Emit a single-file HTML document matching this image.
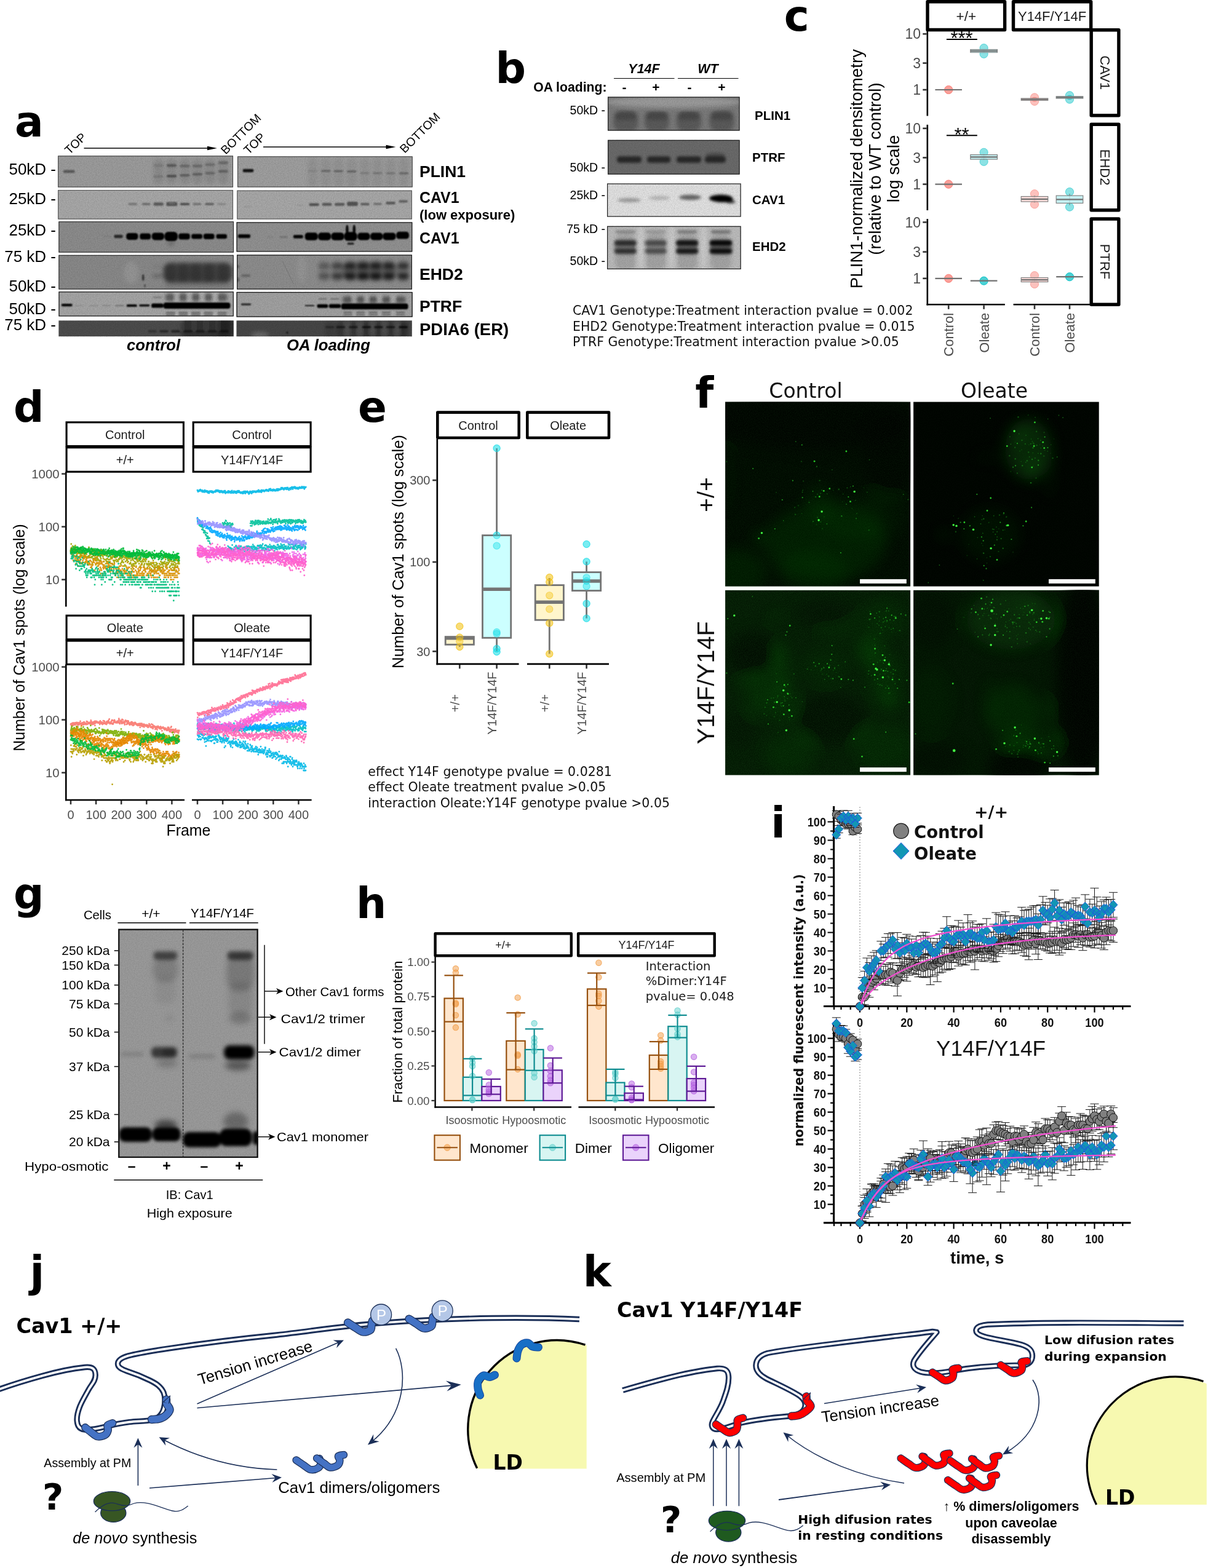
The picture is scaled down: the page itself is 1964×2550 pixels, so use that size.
<!DOCTYPE html>
<html lang="en"><head><meta charset="utf-8"><title>Figure</title>
<style>
html,body{margin:0;padding:0;background:#fff}
body{width:1964px;height:2550px;overflow:hidden}
svg{display:block}
text{white-space:pre}
</style></head><body>
<svg xmlns="http://www.w3.org/2000/svg" width="1964" height="2550" viewBox="0 0 1964 2550">
<rect width="1964" height="2550" fill="#fff"/>
<defs>
<filter id="bl0.7" x="-50%" y="-100%" width="200%" height="300%"><feGaussianBlur stdDeviation="0.7"/></filter>
<filter id="bl1.2" x="-50%" y="-100%" width="200%" height="300%"><feGaussianBlur stdDeviation="1.2"/></filter>
<filter id="bl1.3" x="-50%" y="-100%" width="200%" height="300%"><feGaussianBlur stdDeviation="1.3"/></filter>
<filter id="bl1.5" x="-50%" y="-100%" width="200%" height="300%"><feGaussianBlur stdDeviation="1.5"/></filter>
<filter id="bl2" x="-50%" y="-100%" width="200%" height="300%"><feGaussianBlur stdDeviation="2"/></filter>
<filter id="bl2.5" x="-50%" y="-100%" width="200%" height="300%"><feGaussianBlur stdDeviation="2.5"/></filter>
<filter id="bl2.6" x="-50%" y="-100%" width="200%" height="300%"><feGaussianBlur stdDeviation="2.6"/></filter>
<filter id="bl3" x="-50%" y="-100%" width="200%" height="300%"><feGaussianBlur stdDeviation="3"/></filter>
<filter id="bl3.2" x="-50%" y="-100%" width="200%" height="300%"><feGaussianBlur stdDeviation="3.2"/></filter>
<filter id="bl5" x="-50%" y="-100%" width="200%" height="300%"><feGaussianBlur stdDeviation="5"/></filter>
<filter id="bl11" x="-50%" y="-100%" width="200%" height="300%"><feGaussianBlur stdDeviation="11"/></filter>
<filter id="grain" x="0" y="0" width="100%" height="100%"><feTurbulence type="fractalNoise" baseFrequency="0.55" numOctaves="2" seed="4"/><feColorMatrix type="matrix" values="0 0 0 0 0  0 0 0 0 0  0 0 0 0 0  1.6 0 0 0 -0.45"/></filter>
<filter id="gnoise" x="0" y="0" width="100%" height="100%"><feTurbulence type="fractalNoise" baseFrequency="0.03" numOctaves="4" seed="7"/><feColorMatrix type="matrix" values="0 0 0 0 0.12  0 0 0 0 0.8  0 0 0 0 0.12  0 2.4 0 0 -0.95"/></filter>
<filter id="ggrain" x="0" y="0" width="100%" height="100%"><feTurbulence type="fractalNoise" baseFrequency="0.7" numOctaves="2" seed="9"/><feColorMatrix type="matrix" values="0 0 0 0 0.1  0 0 0 0 0.75  0 0 0 0 0.1  1.8 0 0 0 -0.6"/></filter>
</defs>
<g id="panel-a">
<text x="24.1" y="221.8" font-size="69.2" font-family='"DejaVu Sans", sans-serif' font-weight="bold">a</text>
<text x="113" y="252" font-size="19.5" font-family='"Liberation Sans", sans-serif' transform="rotate(-44 113 252)">TOP</text>
<text x="367" y="252" font-size="19.5" font-family='"Liberation Sans", sans-serif' transform="rotate(-45 367 252)">BOTTOM</text>
<line x1="136.5" y1="241" x2="345" y2="241" stroke="#000" stroke-width="1.5" />
<path d="M353 241 l-16 -3.2 v6.4 z" fill="#000"/>
<text x="404" y="252" font-size="19.5" font-family='"Liberation Sans", sans-serif' transform="rotate(-44 404 252)">TOP</text>
<text x="658" y="250" font-size="19.5" font-family='"Liberation Sans", sans-serif' transform="rotate(-45 658 250)">BOTTOM</text>
<line x1="428" y1="239" x2="635.5" y2="239" stroke="#000" stroke-width="1.5" />
<path d="M643.5 239 l-16 -3.2 v6.4 z" fill="#000"/>
<text x="91" y="284.1" font-size="26" font-family='"Liberation Sans", sans-serif' text-anchor="end">50kD -</text>
<text x="91" y="332.4" font-size="26" font-family='"Liberation Sans", sans-serif' text-anchor="end">25kD -</text>
<text x="91" y="382.9" font-size="26" font-family='"Liberation Sans", sans-serif' text-anchor="end">25kD -</text>
<text x="91" y="425.9" font-size="26" font-family='"Liberation Sans", sans-serif' text-anchor="end">75 kD -</text>
<text x="91" y="474.1" font-size="26" font-family='"Liberation Sans", sans-serif' text-anchor="end">50kD -</text>
<text x="91" y="511.4" font-size="26" font-family='"Liberation Sans", sans-serif' text-anchor="end">50kD -</text>
<text x="91" y="536.9" font-size="26" font-family='"Liberation Sans", sans-serif' text-anchor="end">75 kD -</text>
<text x="682" y="287.9" font-size="26.5" font-family='"Liberation Sans", sans-serif' font-weight="bold">PLIN1</text>
<text x="682" y="329.5" font-size="26.5" font-family='"Liberation Sans", sans-serif' font-weight="bold" textLength="64.5" lengthAdjust="spacingAndGlyphs">CAV1</text>
<text x="682" y="356.9" font-size="22" font-family='"Liberation Sans", sans-serif' font-weight="bold">(low exposure)</text>
<text x="682" y="395.5" font-size="26.5" font-family='"Liberation Sans", sans-serif' font-weight="bold" textLength="64.5" lengthAdjust="spacingAndGlyphs">CAV1</text>
<text x="682" y="454.5" font-size="26.5" font-family='"Liberation Sans", sans-serif' font-weight="bold">EHD2</text>
<text x="682" y="506.5" font-size="26.5" font-family='"Liberation Sans", sans-serif' font-weight="bold">PTRF</text>
<text x="682" y="544.9" font-size="27.5" font-family='"Liberation Sans", sans-serif' font-weight="bold">PDIA6 (ER)</text>
<text x="249.5" y="569.8" font-size="25.7" font-family='"Liberation Sans", sans-serif' font-weight="bold" font-style="italic" text-anchor="middle">control</text>
<text x="534" y="569.8" font-size="25.7" font-family='"Liberation Sans", sans-serif' font-weight="bold" font-style="italic" text-anchor="middle">OA loading</text>
<clipPath id="ca00"><rect x="94.2" y="253.3" width="284.8" height="51.2"/></clipPath>
<rect x="94.2" y="253.3" width="284.8" height="51.2" fill="#9d9d9d"/>
<g clip-path="url(#ca00)">
<g filter="url(#bl3)">
<rect x="249.2" y="258.4" width="16.9" height="41" fill="#000" opacity="0.10" rx="6.8"/>
<rect x="270.6" y="258.4" width="16.9" height="41" fill="#000" opacity="0.10" rx="6.8"/>
<rect x="292" y="258.4" width="16.9" height="41" fill="#000" opacity="0.10" rx="6.8"/>
<rect x="312.5" y="258.4" width="16.9" height="41" fill="#000" opacity="0.10" rx="6.8"/>
<rect x="333" y="258.4" width="16.9" height="41" fill="#000" opacity="0.10" rx="6.8"/>
<rect x="354.4" y="258.4" width="16.9" height="41" fill="#000" opacity="0.10" rx="6.8"/>
</g>
<g filter="url(#bl1.3)">
<rect x="102.9" y="276.6" width="18.7" height="4.6" fill="#000" opacity="0.42" rx="1.9"/>
<rect x="249.6" y="266.8" width="16.1" height="4.6" fill="#000" opacity="0.10" rx="1.9"/>
<rect x="249.6" y="284.8" width="16.1" height="4.3" fill="#000" opacity="0.12" rx="1.7"/>
<rect x="271" y="266.8" width="16.1" height="4.6" fill="#000" opacity="0.34" rx="1.9"/>
<rect x="271" y="284.2" width="16.1" height="4.3" fill="#000" opacity="0.42" rx="1.7"/>
<rect x="292.4" y="267.7" width="16.1" height="4.6" fill="#000" opacity="0.24" rx="1.9"/>
<rect x="292.4" y="283" width="16.1" height="4.3" fill="#000" opacity="0.30" rx="1.7"/>
<rect x="312.9" y="267.7" width="16.1" height="4.6" fill="#000" opacity="0.24" rx="1.9"/>
<rect x="312.9" y="281.2" width="16.1" height="4.3" fill="#000" opacity="0.30" rx="1.7"/>
<rect x="333.4" y="265.5" width="16.1" height="4.6" fill="#000" opacity="0.20" rx="1.9"/>
<rect x="333.4" y="279.4" width="16.1" height="4.3" fill="#000" opacity="0.25" rx="1.7"/>
<rect x="354.8" y="262.3" width="16.1" height="4.6" fill="#000" opacity="0.24" rx="1.9"/>
<rect x="354.8" y="276.4" width="16.1" height="4.3" fill="#000" opacity="0.30" rx="1.7"/>
</g>
</g>
<rect x="94.2" y="253.3" width="284.8" height="51.2" filter="url(#grain)" opacity="0.13"/>
<rect x="94.7" y="253.8" width="283.9" height="50.3" fill="none" stroke="#333" stroke-width="0.9"/>
<clipPath id="ca01"><rect x="94.2" y="309" width="284.8" height="47.6"/></clipPath>
<rect x="94.2" y="309" width="284.8" height="47.6" fill="#a9a9a9"/>
<g clip-path="url(#ca01)">
<g filter="url(#bl1.3)">
<rect x="208.6" y="329.9" width="14.3" height="3.9" fill="#000" opacity="0.28" rx="1.6"/>
<rect x="231" y="329.9" width="13.4" height="3.9" fill="#000" opacity="0.33" rx="1.6"/>
<rect x="249.6" y="329.2" width="16.1" height="5.4" fill="#000" opacity="0.45" rx="2.1"/>
<rect x="270.5" y="328.6" width="17.8" height="6.4" fill="#000" opacity="0.50" rx="2.6"/>
<rect x="292.9" y="329.9" width="15.2" height="3.9" fill="#000" opacity="0.52" rx="1.6"/>
<rect x="313.7" y="330.3" width="13.4" height="3.2" fill="#000" opacity="0.33" rx="1.3"/>
<rect x="333.4" y="330.1" width="14.3" height="3.6" fill="#000" opacity="0.40" rx="1.4"/>
<rect x="353.5" y="330.3" width="13.4" height="3.2" fill="#000" opacity="0.18" rx="1.3"/>
<rect x="274.9" y="329.9" width="8.9" height="2.1" fill="#fff" opacity="0.12" rx="0.9"/>
</g>
</g>
<rect x="94.2" y="309" width="284.8" height="47.6" filter="url(#grain)" opacity="0.13"/>
<rect x="94.7" y="309.4" width="283.9" height="46.7" fill="none" stroke="#444" stroke-width="0.9"/>
<clipPath id="ca02"><rect x="95.4" y="360.2" width="284.6" height="50.4"/></clipPath>
<rect x="95.4" y="360.2" width="284.6" height="50.4" fill="#8d8d8d"/>
<g clip-path="url(#ca02)">
<g filter="url(#bl3)">
<rect x="272.8" y="393" width="10.7" height="5.4" fill="#000" opacity="0.30" rx="2.1"/>
</g>
<g filter="url(#bl1.3)">
<rect x="167.6" y="383.2" width="12.5" height="2.5" fill="#000" opacity="0.08" rx="1"/>
<rect x="185.4" y="381.8" width="14.3" height="5.4" fill="#000" opacity="0.70" rx="2.1"/>
<rect x="205.2" y="378.9" width="19.3" height="11.1" fill="#000" opacity="1.00" rx="4.4"/>
<rect x="206.5" y="379.8" width="16.8" height="9.3" fill="#000" opacity="1.00" rx="3.7"/>
<rect x="227.3" y="379.6" width="17.8" height="9.8" fill="#000" opacity="1.00" rx="3.9"/>
<rect x="228.6" y="380.5" width="15.3" height="8" fill="#000" opacity="1.00" rx="3.2"/>
<rect x="246.8" y="378.4" width="20" height="12.1" fill="#000" opacity="1.00" rx="4.9"/>
<rect x="248" y="379.3" width="17.5" height="10.3" fill="#000" opacity="1.00" rx="4.1"/>
<rect x="267.5" y="377" width="21.4" height="15" fill="#000" opacity="1.00" rx="6"/>
<rect x="268.7" y="377.9" width="18.9" height="13.2" fill="#000" opacity="1.00" rx="5.3"/>
<rect x="290.3" y="379.5" width="18.5" height="10" fill="#000" opacity="1.00" rx="4"/>
<rect x="291.5" y="380.4" width="16.1" height="8.2" fill="#000" opacity="1.00" rx="3.3"/>
<rect x="311.2" y="380.4" width="17.8" height="8.2" fill="#000" opacity="1.00" rx="3.3"/>
<rect x="312.4" y="381.3" width="15.3" height="6.4" fill="#000" opacity="1.00" rx="2.6"/>
<rect x="330.8" y="380" width="17.8" height="8.9" fill="#000" opacity="1.00" rx="3.6"/>
<rect x="332" y="380.9" width="15.3" height="7.1" fill="#000" opacity="1.00" rx="2.9"/>
<rect x="351.5" y="380.7" width="17.5" height="7.5" fill="#000" opacity="1.00" rx="3"/>
<rect x="352.7" y="381.6" width="15" height="5.7" fill="#000" opacity="1.00" rx="2.3"/>
</g>
</g>
<rect x="95.4" y="360.2" width="284.6" height="50.4" filter="url(#grain)" opacity="0.13"/>
<rect x="95.9" y="360.7" width="283.6" height="49.4" fill="none" stroke="#222" stroke-width="1"/>
<clipPath id="ca03"><rect x="95.4" y="414.8" width="284.4" height="55.8"/></clipPath>
<rect x="95.4" y="414.8" width="284.4" height="55.8" fill="#8a8a8a"/>
<g clip-path="url(#ca03)">
<g filter="url(#bl3)">
<rect x="264.8" y="426.4" width="114.1" height="33.9" fill="#000" opacity="0.42" rx="13.6"/>
<rect x="266.6" y="430.9" width="110.6" height="12.5" fill="#000" opacity="0.12" rx="5"/>
<rect x="266.6" y="443.3" width="110.6" height="12.5" fill="#000" opacity="0.15" rx="5"/>
<rect x="268.3" y="455.8" width="107" height="12.5" fill="#000" opacity="0.10" rx="5"/>
<rect x="268.3" y="428.2" width="17.8" height="30.3" fill="#000" opacity="0.22" rx="7.1"/>
<rect x="288.9" y="428.2" width="17.8" height="30.3" fill="#000" opacity="0.22" rx="7.1"/>
<rect x="309.4" y="428.2" width="17.8" height="30.3" fill="#000" opacity="0.22" rx="7.1"/>
<rect x="330.8" y="428.2" width="17.8" height="30.3" fill="#000" opacity="0.22" rx="7.1"/>
<rect x="354" y="428.2" width="17.8" height="30.3" fill="#000" opacity="0.22" rx="7.1"/>
<rect x="247.8" y="446.4" width="16.1" height="4.6" fill="#000" opacity="0.30" rx="1.9"/>
<rect x="248.7" y="431.8" width="14.3" height="3.6" fill="#000" opacity="0.10" rx="1.4"/>
<ellipse cx="213.1" cy="443.3" rx="11.6" ry="17.8" fill="#fff" opacity="0.10"/>
</g>
<g filter="url(#bl1.3)">
<ellipse cx="232.7" cy="451.4" rx="2" ry="5.4" fill="#000" opacity="0.55"/>
<ellipse cx="235.4" cy="464.7" rx="1.6" ry="2.7" fill="#000" opacity="0.40"/>
</g>
</g>
<rect x="95.4" y="414.8" width="284.4" height="55.8" filter="url(#grain)" opacity="0.13"/>
<rect x="95.9" y="415.3" width="283.4" height="54.8" fill="none" stroke="#222" stroke-width="1"/>
<clipPath id="ca04"><rect x="95.4" y="474.2" width="284.4" height="40.2"/></clipPath>
<rect x="95.4" y="474.2" width="284.4" height="40.2" fill="#a6a6a6"/>
<g clip-path="url(#ca04)">
<g filter="url(#bl2.5)">
<rect x="268.8" y="477.2" width="16.9" height="12.5" fill="#000" opacity="0.42" rx="5"/>
<rect x="289.3" y="477.2" width="16.9" height="12.5" fill="#000" opacity="0.42" rx="5"/>
<rect x="309.8" y="477.2" width="16.9" height="12.5" fill="#000" opacity="0.42" rx="5"/>
<rect x="330.3" y="477.2" width="16.9" height="12.5" fill="#000" opacity="0.42" rx="5"/>
<rect x="352.6" y="477.2" width="16.9" height="12.5" fill="#000" opacity="0.42" rx="5"/>
<rect x="285.8" y="475.4" width="2.5" height="16.1" fill="#fff" opacity="0.35" rx="1"/>
<rect x="285.8" y="505.8" width="2.5" height="8.9" fill="#fff" opacity="0.30" rx="1"/>
<rect x="306.7" y="475.4" width="2.5" height="16.1" fill="#fff" opacity="0.35" rx="1"/>
<rect x="306.7" y="505.8" width="2.5" height="8.9" fill="#fff" opacity="0.30" rx="1"/>
<rect x="327.4" y="475.4" width="2.5" height="16.1" fill="#fff" opacity="0.35" rx="1"/>
<rect x="327.4" y="505.8" width="2.5" height="8.9" fill="#fff" opacity="0.30" rx="1"/>
<rect x="348.2" y="475.4" width="2.5" height="16.1" fill="#fff" opacity="0.35" rx="1"/>
<rect x="348.2" y="505.8" width="2.5" height="8.9" fill="#fff" opacity="0.30" rx="1"/>
</g>
<g filter="url(#bl1.2)">
<rect x="99.8" y="494" width="17.8" height="4.3" fill="#000" opacity="0.95" rx="1.7"/>
<rect x="101.6" y="494.7" width="14.3" height="2.9" fill="#000" opacity="0.90" rx="1.1"/>
<rect x="121.2" y="496.1" width="14.3" height="1.8" fill="#000" opacity="0.10" rx="0.7"/>
<rect x="145.3" y="496.1" width="14.3" height="1.8" fill="#000" opacity="0.12" rx="0.7"/>
<rect x="165.8" y="496.1" width="14.3" height="1.8" fill="#000" opacity="0.16" rx="0.7"/>
<rect x="187.2" y="496.1" width="14.3" height="1.8" fill="#000" opacity="0.30" rx="0.7"/>
<rect x="205.8" y="495.1" width="16.9" height="3.9" fill="#000" opacity="0.95" rx="1.6"/>
<rect x="226.3" y="494.9" width="16.9" height="3.6" fill="#000" opacity="0.92" rx="1.4"/>
<rect x="246.1" y="493.5" width="19.6" height="7.1" fill="#000" opacity="1.00" rx="2.9"/>
<rect x="247.4" y="494.4" width="16.9" height="5.4" fill="#000" opacity="1.00" rx="2.1"/>
<rect x="265.7" y="492" width="108.8" height="10" fill="#000" opacity="1.00" rx="4"/>
<rect x="266.6" y="492.9" width="107" height="8.2" fill="#000" opacity="1.00" rx="3.3"/>
<rect x="248.7" y="482" width="14.3" height="2.9" fill="#000" opacity="0.20" rx="1.1"/>
<rect x="269.7" y="507.4" width="15.2" height="2.1" fill="#000" opacity="0.45" rx="0.9"/>
<rect x="269.7" y="510.9" width="15.2" height="2.1" fill="#000" opacity="0.40" rx="0.9"/>
<rect x="290.2" y="507.4" width="15.2" height="2.1" fill="#000" opacity="0.45" rx="0.9"/>
<rect x="290.2" y="510.9" width="15.2" height="2.1" fill="#000" opacity="0.40" rx="0.9"/>
<rect x="310.7" y="507.4" width="15.2" height="2.1" fill="#000" opacity="0.45" rx="0.9"/>
<rect x="310.7" y="510.9" width="15.2" height="2.1" fill="#000" opacity="0.40" rx="0.9"/>
<rect x="331.2" y="507.4" width="15.2" height="2.1" fill="#000" opacity="0.45" rx="0.9"/>
<rect x="331.2" y="510.9" width="15.2" height="2.1" fill="#000" opacity="0.40" rx="0.9"/>
<rect x="353.5" y="507.4" width="15.2" height="2.1" fill="#000" opacity="0.45" rx="0.9"/>
<rect x="353.5" y="510.9" width="15.2" height="2.1" fill="#000" opacity="0.40" rx="0.9"/>
</g>
</g>
<rect x="95.4" y="474.2" width="284.4" height="40.2" filter="url(#grain)" opacity="0.13"/>
<rect x="96" y="474.8" width="283.3" height="39.1" fill="none" stroke="#111" stroke-width="1.1"/>
<clipPath id="ca05"><rect x="95.4" y="521.3" width="284.4" height="25.8"/></clipPath>
<rect x="95.4" y="521.3" width="284.4" height="25.8" fill="#4d4d4d"/>
<g clip-path="url(#ca05)">
<g filter="url(#bl3)">
<rect x="293.3" y="515.6" width="92.7" height="35.7" fill="#000" opacity="0.35" rx="14.3"/>
<rect x="354.8" y="515.6" width="19.6" height="35.7" fill="#000" opacity="0.30" rx="7.8"/>
<rect x="294.2" y="520.9" width="1.8" height="17.8" fill="#fff" opacity="0.12" rx="0.7"/>
<rect x="314.7" y="520.9" width="1.8" height="17.8" fill="#fff" opacity="0.12" rx="0.7"/>
<rect x="334.3" y="520.9" width="1.8" height="17.8" fill="#fff" opacity="0.12" rx="0.7"/>
<rect x="354" y="520.9" width="1.8" height="17.8" fill="#fff" opacity="0.12" rx="0.7"/>
</g>
<g filter="url(#bl1.3)">
<rect x="240.7" y="536.8" width="14.3" height="3.9" fill="#000" opacity="0.30" rx="1.6"/>
<rect x="259.4" y="536.8" width="14.3" height="3.9" fill="#000" opacity="0.45" rx="1.6"/>
<rect x="278.2" y="536.8" width="14.3" height="3.9" fill="#000" opacity="0.50" rx="1.6"/>
<rect x="298.7" y="536.8" width="14.3" height="3.9" fill="#000" opacity="0.45" rx="1.6"/>
<rect x="318.3" y="536.8" width="14.3" height="3.9" fill="#000" opacity="0.45" rx="1.6"/>
<rect x="337.9" y="536.8" width="14.3" height="3.9" fill="#000" opacity="0.45" rx="1.6"/>
<rect x="357.5" y="536.8" width="14.3" height="3.9" fill="#000" opacity="0.50" rx="1.6"/>
</g>
</g>
<rect x="95.4" y="521.3" width="284.4" height="25.8" filter="url(#grain)" opacity="0.13"/>
<clipPath id="ca10"><rect x="386.2" y="254.3" width="284.5" height="50.1"/></clipPath>
<rect x="386.2" y="254.3" width="284.5" height="50.1" fill="#a0a0a0"/>
<g clip-path="url(#ca10)">
<g filter="url(#bl3)">
<rect x="500.4" y="257.5" width="16.1" height="46.4" fill="#000" opacity="0.07" rx="6.4"/>
<rect x="521.8" y="257.5" width="16.1" height="46.4" fill="#000" opacity="0.07" rx="6.4"/>
<rect x="542.3" y="257.5" width="16.1" height="46.4" fill="#000" opacity="0.07" rx="6.4"/>
<rect x="563.7" y="257.5" width="16.1" height="46.4" fill="#000" opacity="0.07" rx="6.4"/>
<rect x="585.1" y="257.5" width="16.1" height="46.4" fill="#000" opacity="0.07" rx="6.4"/>
<rect x="605.6" y="257.5" width="16.1" height="46.4" fill="#000" opacity="0.07" rx="6.4"/>
<rect x="627" y="257.5" width="16.1" height="46.4" fill="#000" opacity="0.07" rx="6.4"/>
<rect x="648.4" y="257.5" width="16.1" height="46.4" fill="#000" opacity="0.07" rx="6.4"/>
</g>
<g filter="url(#bl1.3)">
<rect x="394.6" y="274.8" width="17.8" height="5.4" fill="#000" opacity="0.80" rx="2.1"/>
<rect x="396" y="275.9" width="15.2" height="3.2" fill="#000" opacity="0.50" rx="1.3"/>
<rect x="500.8" y="276.4" width="15.2" height="3.2" fill="#000" opacity="0.10" rx="1.3"/>
<rect x="522.2" y="276.4" width="15.2" height="3.2" fill="#000" opacity="0.32" rx="1.3"/>
<rect x="542.7" y="276.7" width="15.2" height="3.2" fill="#000" opacity="0.30" rx="1.3"/>
<rect x="564.1" y="277.3" width="15.2" height="3.2" fill="#000" opacity="0.32" rx="1.3"/>
<rect x="585.5" y="280" width="15.2" height="3.2" fill="#000" opacity="0.15" rx="1.3"/>
<rect x="606.1" y="280" width="15.2" height="3.2" fill="#000" opacity="0.20" rx="1.3"/>
<rect x="627.5" y="280.3" width="15.2" height="3.2" fill="#000" opacity="0.20" rx="1.3"/>
<rect x="648.9" y="280.3" width="15.2" height="3.2" fill="#000" opacity="0.30" rx="1.3"/>
</g>
</g>
<rect x="386.2" y="254.3" width="284.5" height="50.1" filter="url(#grain)" opacity="0.13"/>
<rect x="386.6" y="254.8" width="283.6" height="49.2" fill="none" stroke="#333" stroke-width="0.9"/>
<clipPath id="ca11"><rect x="385.4" y="309.6" width="284.4" height="46.9"/></clipPath>
<rect x="385.4" y="309.6" width="284.4" height="46.9" fill="#a9a9a9"/>
<g clip-path="url(#ca11)">
<g filter="url(#bl1.3)">
<rect x="396.1" y="334.4" width="12.5" height="3.2" fill="#000" opacity="0.06" rx="1.3"/>
<rect x="483.4" y="332.4" width="10.7" height="2.5" fill="#000" opacity="0.07" rx="1"/>
<rect x="502.5" y="330.4" width="16.1" height="4.6" fill="#000" opacity="0.50" rx="1.9"/>
<rect x="523.7" y="330.1" width="15.7" height="4.6" fill="#000" opacity="0.45" rx="1.9"/>
<rect x="543.9" y="330.1" width="16.4" height="4.6" fill="#000" opacity="0.45" rx="1.9"/>
<rect x="564.1" y="327.9" width="17.8" height="7.1" fill="#000" opacity="0.50" rx="2.9"/>
<rect x="586.3" y="330.1" width="14.3" height="3.9" fill="#000" opacity="0.42" rx="1.6"/>
<rect x="607.2" y="329.9" width="13.6" height="3.6" fill="#000" opacity="0.32" rx="1.4"/>
<rect x="627.4" y="328.1" width="15.3" height="4.3" fill="#000" opacity="0.45" rx="1.7"/>
<rect x="648.4" y="325.6" width="14.3" height="3.9" fill="#000" opacity="0.42" rx="1.6"/>
</g>
</g>
<rect x="385.4" y="309.6" width="284.4" height="46.9" filter="url(#grain)" opacity="0.13"/>
<rect x="385.8" y="310.1" width="283.5" height="46" fill="none" stroke="#444" stroke-width="0.9"/>
<clipPath id="ca12"><rect x="384.5" y="361.3" width="285.8" height="48.1"/></clipPath>
<rect x="384.5" y="361.3" width="285.8" height="48.1" fill="#929292"/>
<g clip-path="url(#ca12)">
<g filter="url(#bl1.3)">
<rect x="386.7" y="381.1" width="20.5" height="6.1" fill="#000" opacity="0.92" rx="2.4"/>
<rect x="388.5" y="382.1" width="16.9" height="3.9" fill="#000" opacity="0.90" rx="1.6"/>
<rect x="433.5" y="384.3" width="10.7" height="2.5" fill="#000" opacity="0.08" rx="1"/>
<rect x="454.5" y="383.9" width="13.4" height="3.2" fill="#000" opacity="0.18" rx="1.3"/>
<rect x="476.8" y="382" width="16.1" height="5.7" fill="#000" opacity="0.90" rx="2.3"/>
<rect x="478.2" y="383" width="13.4" height="3.6" fill="#000" opacity="0.80" rx="1.4"/>
<rect x="495.7" y="378.2" width="21" height="12.5" fill="#000" opacity="1.00" rx="5"/>
<rect x="497" y="379.3" width="18.5" height="10.3" fill="#000" opacity="1.00" rx="4.1"/>
<rect x="517.3" y="378.2" width="20.7" height="12.5" fill="#000" opacity="1.00" rx="5"/>
<rect x="518.6" y="379.3" width="18.2" height="10.3" fill="#000" opacity="1.00" rx="4.1"/>
<rect x="538.6" y="378.2" width="20.7" height="12.5" fill="#000" opacity="1.00" rx="5"/>
<rect x="539.8" y="379.3" width="18.2" height="10.3" fill="#000" opacity="1.00" rx="4.1"/>
<rect x="559.6" y="377.3" width="21" height="14.3" fill="#000" opacity="1.00" rx="5.7"/>
<rect x="560.8" y="378.4" width="18.5" height="12.1" fill="#000" opacity="1.00" rx="4.9"/>
<rect x="581.4" y="378.6" width="20" height="11.8" fill="#000" opacity="1.00" rx="4.7"/>
<rect x="582.6" y="379.7" width="17.5" height="9.6" fill="#000" opacity="1.00" rx="3.9"/>
<rect x="602.2" y="378.6" width="20" height="11.8" fill="#000" opacity="1.00" rx="4.7"/>
<rect x="603.5" y="379.7" width="17.5" height="9.6" fill="#000" opacity="1.00" rx="3.9"/>
<rect x="622.4" y="378.4" width="21" height="12.1" fill="#000" opacity="1.00" rx="4.9"/>
<rect x="623.6" y="379.5" width="18.5" height="10" fill="#000" opacity="1.00" rx="4"/>
<rect x="644.3" y="376.8" width="20.7" height="11.8" fill="#000" opacity="1.00" rx="4.7"/>
<rect x="645.6" y="377.9" width="18.2" height="9.6" fill="#000" opacity="1.00" rx="3.9"/>
<ellipse cx="564.4" cy="373.4" rx="2.3" ry="8" fill="#000" opacity="0.95"/>
<ellipse cx="575.8" cy="373.4" rx="2.3" ry="8" fill="#000" opacity="0.95"/>
<rect x="564.8" y="394.5" width="10.7" height="3.6" fill="#000" opacity="0.75" rx="1.4"/>
</g>
</g>
<rect x="384.5" y="361.3" width="285.8" height="48.1" filter="url(#grain)" opacity="0.13"/>
<rect x="385.1" y="361.9" width="284.7" height="47" fill="none" stroke="#111" stroke-width="1.1"/>
<clipPath id="ca13"><rect x="385" y="414.3" width="284.8" height="56.3"/></clipPath>
<rect x="385" y="414.3" width="284.8" height="56.3" fill="#8e8e8e"/>
<g clip-path="url(#ca13)">
<g filter="url(#bl3)">
<rect x="518.2" y="428.2" width="17.8" height="8.9" fill="#000" opacity="0.30" rx="3.6"/>
<rect x="518.2" y="444.1" width="17.8" height="10" fill="#000" opacity="0.33" rx="4"/>
<rect x="517.8" y="422.8" width="18.7" height="35.7" fill="#000" opacity="0.10" rx="7.5"/>
<rect x="539.6" y="428.2" width="17.8" height="8.9" fill="#000" opacity="0.45" rx="3.6"/>
<rect x="539.6" y="444.1" width="17.8" height="10" fill="#000" opacity="0.50" rx="4"/>
<rect x="539.2" y="422.8" width="18.7" height="35.7" fill="#000" opacity="0.16" rx="7.5"/>
<rect x="560.1" y="428.2" width="17.8" height="8.9" fill="#000" opacity="0.60" rx="3.6"/>
<rect x="560.1" y="444.1" width="17.8" height="10" fill="#000" opacity="0.66" rx="4"/>
<rect x="559.7" y="422.8" width="18.7" height="35.7" fill="#000" opacity="0.21" rx="7.5"/>
<rect x="581.5" y="428.2" width="17.8" height="8.9" fill="#000" opacity="0.65" rx="3.6"/>
<rect x="581.5" y="444.1" width="17.8" height="10" fill="#000" opacity="0.72" rx="4"/>
<rect x="581.1" y="422.8" width="18.7" height="35.7" fill="#000" opacity="0.23" rx="7.5"/>
<rect x="602" y="428.2" width="17.8" height="8.9" fill="#000" opacity="0.65" rx="3.6"/>
<rect x="602" y="444.1" width="17.8" height="10" fill="#000" opacity="0.72" rx="4"/>
<rect x="601.6" y="422.8" width="18.7" height="35.7" fill="#000" opacity="0.23" rx="7.5"/>
<rect x="623.4" y="428.2" width="17.8" height="8.9" fill="#000" opacity="0.60" rx="3.6"/>
<rect x="623.4" y="444.1" width="17.8" height="10" fill="#000" opacity="0.66" rx="4"/>
<rect x="623" y="422.8" width="18.7" height="35.7" fill="#000" opacity="0.21" rx="7.5"/>
<rect x="646.6" y="428.2" width="17.8" height="8.9" fill="#000" opacity="0.60" rx="3.6"/>
<rect x="646.6" y="444.1" width="17.8" height="10" fill="#000" opacity="0.66" rx="4"/>
<rect x="646.2" y="422.8" width="18.7" height="35.7" fill="#000" opacity="0.21" rx="7.5"/>
<rect x="556.6" y="425.5" width="89.2" height="30.3" fill="#000" opacity="0.25" rx="12.1"/>
<ellipse cx="490.6" cy="437.1" rx="7.1" ry="22.3" fill="#fff" opacity="0.08"/>
</g>
<g filter="url(#bl1.5)">
<rect x="392.5" y="446.6" width="14.3" height="3.6" fill="#000" opacity="0.30" rx="1.4"/>
<ellipse cx="387.1" cy="433.5" rx="1.2" ry="2.7" fill="#000" opacity="0.60"/>
<ellipse cx="387.1" cy="454.9" rx="1.2" ry="3.6" fill="#000" opacity="0.60"/>
<rect x="468" y="442.2" width="0.5" height="0.5" fill="#000" opacity="0.00" rx="0.2"/>
</g>
</g>
<rect x="385" y="414.3" width="284.8" height="56.3" filter="url(#grain)" opacity="0.13"/>
<rect x="385.6" y="414.9" width="283.7" height="55.2" fill="none" stroke="#111" stroke-width="1.1"/>
<line x1="459.4" y1="424.6" x2="477.2" y2="462.1" stroke="#6a6a6a" stroke-width="0.7" />
<clipPath id="ca14"><rect x="384.5" y="474.9" width="286.2" height="40.7"/></clipPath>
<rect x="384.5" y="474.9" width="286.2" height="40.7" fill="#a2a2a2"/>
<g clip-path="url(#ca14)">
<g filter="url(#bl2.5)">
<rect x="557" y="482" width="16.9" height="10.7" fill="#000" opacity="0.45" rx="4.3"/>
<rect x="577.5" y="482" width="16.9" height="10.7" fill="#000" opacity="0.45" rx="4.3"/>
<rect x="598" y="482" width="16.9" height="10.7" fill="#000" opacity="0.45" rx="4.3"/>
<rect x="619.4" y="482" width="16.9" height="10.7" fill="#000" opacity="0.45" rx="4.3"/>
<rect x="642.6" y="482" width="16.9" height="10.7" fill="#000" opacity="0.45" rx="4.3"/>
<rect x="574.8" y="479" width="2.1" height="14.3" fill="#fff" opacity="0.30" rx="0.9"/>
<rect x="574.8" y="505.8" width="2.1" height="8.9" fill="#fff" opacity="0.30" rx="0.9"/>
<rect x="595.1" y="479" width="2.1" height="14.3" fill="#fff" opacity="0.30" rx="0.9"/>
<rect x="595.1" y="505.8" width="2.1" height="8.9" fill="#fff" opacity="0.30" rx="0.9"/>
<rect x="616.1" y="479" width="2.1" height="14.3" fill="#fff" opacity="0.30" rx="0.9"/>
<rect x="616.1" y="505.8" width="2.1" height="8.9" fill="#fff" opacity="0.30" rx="0.9"/>
<rect x="637.9" y="479" width="2.1" height="14.3" fill="#fff" opacity="0.30" rx="0.9"/>
<rect x="637.9" y="505.8" width="2.1" height="8.9" fill="#fff" opacity="0.30" rx="0.9"/>
</g>
<g filter="url(#bl1.2)">
<rect x="391.9" y="493.6" width="16.1" height="2.9" fill="#000" opacity="0.80" rx="1.1"/>
<rect x="495.8" y="496" width="15.2" height="2.1" fill="#000" opacity="0.85" rx="0.9"/>
<rect x="515.5" y="494.7" width="17.8" height="6.1" fill="#000" opacity="1.00" rx="2.4"/>
<rect x="516.9" y="495.6" width="15.2" height="4.3" fill="#000" opacity="1.00" rx="1.7"/>
<rect x="534.8" y="494.5" width="19.3" height="6.4" fill="#000" opacity="1.00" rx="2.6"/>
<rect x="536.2" y="495.4" width="16.4" height="4.6" fill="#000" opacity="1.00" rx="1.9"/>
<rect x="554.8" y="493.5" width="108.8" height="9.6" fill="#000" opacity="1.00" rx="3.9"/>
<rect x="555.7" y="494.4" width="107" height="7.8" fill="#000" opacity="1.00" rx="3.1"/>
<rect x="517.8" y="485.1" width="13.4" height="2.1" fill="#000" opacity="0.30" rx="0.9"/>
<rect x="537.3" y="485.1" width="14.3" height="2.1" fill="#000" opacity="0.30" rx="0.9"/>
<rect x="558.3" y="507.1" width="14.3" height="2" fill="#000" opacity="0.40" rx="0.8"/>
<rect x="558.3" y="510.7" width="14.3" height="2" fill="#000" opacity="0.35" rx="0.8"/>
<rect x="578.9" y="507.1" width="14.3" height="2" fill="#000" opacity="0.40" rx="0.8"/>
<rect x="578.9" y="510.7" width="14.3" height="2" fill="#000" opacity="0.35" rx="0.8"/>
<rect x="599.4" y="507.1" width="14.3" height="2" fill="#000" opacity="0.40" rx="0.8"/>
<rect x="599.4" y="510.7" width="14.3" height="2" fill="#000" opacity="0.35" rx="0.8"/>
<rect x="620.8" y="507.1" width="14.3" height="2" fill="#000" opacity="0.40" rx="0.8"/>
<rect x="620.8" y="510.7" width="14.3" height="2" fill="#000" opacity="0.35" rx="0.8"/>
<rect x="644" y="507.1" width="14.3" height="2" fill="#000" opacity="0.40" rx="0.8"/>
<rect x="644" y="510.7" width="14.3" height="2" fill="#000" opacity="0.35" rx="0.8"/>
</g>
</g>
<rect x="384.5" y="474.9" width="286.2" height="40.7" filter="url(#grain)" opacity="0.13"/>
<rect x="385.1" y="475.5" width="285" height="39.5" fill="none" stroke="#111" stroke-width="1.2"/>
<clipPath id="ca15"><rect x="384.5" y="521.3" width="285.3" height="25.8"/></clipPath>
<rect x="384.5" y="521.3" width="285.3" height="25.8" fill="#474747"/>
<g clip-path="url(#ca15)">
<g filter="url(#bl3)">
<rect x="528.5" y="522.7" width="15.2" height="28.5" fill="#000" opacity="0.14" rx="6.1"/>
<rect x="546.3" y="522.7" width="15.2" height="28.5" fill="#000" opacity="0.23" rx="6.1"/>
<rect x="566.8" y="522.7" width="15.2" height="28.5" fill="#000" opacity="0.23" rx="6.1"/>
<rect x="588.2" y="522.7" width="15.2" height="28.5" fill="#000" opacity="0.29" rx="6.1"/>
<rect x="607.8" y="522.7" width="15.2" height="28.5" fill="#000" opacity="0.27" rx="6.1"/>
<rect x="627.5" y="522.7" width="15.2" height="28.5" fill="#000" opacity="0.25" rx="6.1"/>
<rect x="648" y="522.7" width="15.2" height="28.5" fill="#000" opacity="0.34" rx="6.1"/>
<ellipse cx="422.8" cy="545" rx="14.3" ry="5.4" fill="#fff" opacity="0.18"/>
<rect x="563.7" y="522.7" width="1.8" height="21.4" fill="#fff" opacity="0.12" rx="0.7"/>
<rect x="584.2" y="522.7" width="1.8" height="21.4" fill="#fff" opacity="0.12" rx="0.7"/>
<rect x="604.7" y="522.7" width="1.8" height="21.4" fill="#fff" opacity="0.12" rx="0.7"/>
<rect x="624.3" y="522.7" width="1.8" height="21.4" fill="#fff" opacity="0.12" rx="0.7"/>
<rect x="644.8" y="522.7" width="1.8" height="21.4" fill="#fff" opacity="0.12" rx="0.7"/>
</g>
<g filter="url(#bl1.3)">
<rect x="528.9" y="530.4" width="14.3" height="3.2" fill="#000" opacity="0.40" rx="1.3"/>
<rect x="546.8" y="530.4" width="14.3" height="3.2" fill="#000" opacity="0.60" rx="1.3"/>
<rect x="567.3" y="530.4" width="14.3" height="3.2" fill="#000" opacity="0.60" rx="1.3"/>
<rect x="588.7" y="530.4" width="14.3" height="3.2" fill="#000" opacity="0.75" rx="1.3"/>
<rect x="608.3" y="530.4" width="14.3" height="3.2" fill="#000" opacity="0.70" rx="1.3"/>
<rect x="627.9" y="530.4" width="14.3" height="3.2" fill="#000" opacity="0.65" rx="1.3"/>
<rect x="648.4" y="530.4" width="14.3" height="3.2" fill="#000" opacity="0.85" rx="1.3"/>
<ellipse cx="467" cy="540.9" rx="1.8" ry="1.6" fill="#000" opacity="0.70"/>
</g>
</g>
<rect x="384.5" y="521.3" width="285.3" height="25.8" filter="url(#grain)" opacity="0.13"/>
</g>
<g id="panel-b">
<text x="805.6" y="134.6" font-size="69.2" font-family='"DejaVu Sans", sans-serif' font-weight="bold">b</text>
<text x="1047" y="118.6" font-size="21.5" font-family='"Liberation Sans", sans-serif' font-weight="bold" font-style="italic" text-anchor="middle">Y14F</text>
<text x="1151" y="118.6" font-size="21.5" font-family='"Liberation Sans", sans-serif' font-weight="bold" font-style="italic" text-anchor="middle">WT</text>
<line x1="998" y1="127.5" x2="1096.5" y2="127.5" stroke="#000" stroke-width="1" />
<line x1="1102" y1="127.5" x2="1200.5" y2="127.5" stroke="#000" stroke-width="1" />
<text x="986.5" y="148.8" font-size="21.2" font-family='"Liberation Sans", sans-serif' font-weight="bold" text-anchor="end">OA loading:</text>
<text x="1015" y="149" font-size="21" font-family='"Liberation Sans", sans-serif' font-weight="bold" text-anchor="middle">-</text>
<text x="1066.5" y="149" font-size="21" font-family='"Liberation Sans", sans-serif' font-weight="bold" text-anchor="middle">+</text>
<text x="1121" y="149" font-size="21" font-family='"Liberation Sans", sans-serif' font-weight="bold" text-anchor="middle">-</text>
<text x="1173.5" y="149" font-size="21" font-family='"Liberation Sans", sans-serif' font-weight="bold" text-anchor="middle">+</text>
<text x="984" y="186" font-size="19.5" font-family='"Liberation Sans", sans-serif' text-anchor="end">50kD -</text>
<text x="984" y="278.7" font-size="19.5" font-family='"Liberation Sans", sans-serif' text-anchor="end">50kD -</text>
<text x="984" y="324" font-size="19.5" font-family='"Liberation Sans", sans-serif' text-anchor="end">25kD -</text>
<text x="984" y="379" font-size="19.5" font-family='"Liberation Sans", sans-serif' text-anchor="end">75 kD -</text>
<text x="984" y="431" font-size="19.5" font-family='"Liberation Sans", sans-serif' text-anchor="end">50kD -</text>
<text x="1227" y="195.2" font-size="20.5" font-family='"Liberation Sans", sans-serif' font-weight="bold">PLIN1</text>
<text x="1223" y="263.4" font-size="20.5" font-family='"Liberation Sans", sans-serif' font-weight="bold">PTRF</text>
<text x="1223" y="332.4" font-size="20.5" font-family='"Liberation Sans", sans-serif' font-weight="bold">CAV1</text>
<text x="1223" y="407.8" font-size="20.5" font-family='"Liberation Sans", sans-serif' font-weight="bold">EHD2</text>
<text x="931" y="512" font-size="20.5" font-family='"DejaVu Sans", sans-serif' fill="#111">CAV1 Genotype:Treatment interaction pvalue = 0.002</text>
<text x="931" y="537.6" font-size="20.5" font-family='"DejaVu Sans", sans-serif' fill="#111">EHD2 Genotype:Treatment interaction pvalue = 0.015</text>
<text x="931" y="563" font-size="20.5" font-family='"DejaVu Sans", sans-serif' fill="#111">PTRF Genotype:Treatment interaction pvalue &gt;0.05</text>
<clipPath id="cb1"><rect x="988" y="157.5" width="214.6" height="55"/></clipPath>
<rect x="988" y="157.5" width="214.6" height="55" fill="#7b7b7b"/>
<g clip-path="url(#cb1)">
<g filter="url(#bl3)">
<ellipse cx="1095" cy="166" rx="110" ry="9" fill="#fff" opacity="0.25"/>
<rect x="997.5" y="180" width="40" height="34" fill="#000" opacity="0.26" rx="13.6"/>
<rect x="999.5" y="181" width="36" height="14" fill="#000" opacity="0.20" rx="5.6"/>
<rect x="1048" y="180" width="40" height="34" fill="#000" opacity="0.26" rx="13.6"/>
<rect x="1050" y="181" width="36" height="14" fill="#000" opacity="0.20" rx="5.6"/>
<rect x="1100" y="180" width="40" height="34" fill="#000" opacity="0.26" rx="13.6"/>
<rect x="1102" y="181" width="36" height="14" fill="#000" opacity="0.20" rx="5.6"/>
<rect x="1153.5" y="180" width="40" height="34" fill="#000" opacity="0.26" rx="13.6"/>
<rect x="1155.5" y="181" width="36" height="14" fill="#000" opacity="0.20" rx="5.6"/>
</g>
</g>
<rect x="988" y="157.5" width="214.6" height="55" filter="url(#grain)" opacity="0.13"/>
<rect x="988.6" y="158.1" width="213.4" height="53.8" fill="none" stroke="#222" stroke-width="1.2"/>
<clipPath id="cb2"><rect x="988" y="227.7" width="214.6" height="56"/></clipPath>
<rect x="988" y="227.7" width="214.6" height="56" fill="#6b6b6b"/>
<g clip-path="url(#cb2)">
<g filter="url(#bl2)">
<rect x="1003" y="254.3" width="40" height="10.4" fill="#000" opacity="0.62" rx="4.2"/>
<rect x="1052" y="254.3" width="38" height="10.4" fill="#000" opacity="0.62" rx="4.2"/>
<rect x="1100" y="254.3" width="40" height="10.4" fill="#000" opacity="0.62" rx="4.2"/>
<rect x="1146" y="254.3" width="34" height="10.4" fill="#000" opacity="0.62" rx="4.2"/>
<ellipse cx="1163" cy="252" rx="16" ry="4" fill="#000" opacity="0.25"/>
</g>
</g>
<rect x="988" y="227.7" width="214.6" height="56" filter="url(#grain)" opacity="0.13"/>
<rect x="988.6" y="228.3" width="213.4" height="54.8" fill="none" stroke="#222" stroke-width="1.2"/>
<clipPath id="cb3"><rect x="987" y="298.4" width="217.7" height="54.2"/></clipPath>
<rect x="987" y="298.4" width="217.7" height="54.2" fill="#e3e3e3"/>
<g clip-path="url(#cb3)">
<g filter="url(#bl2)">
<ellipse cx="1023" cy="325.5" rx="19" ry="3.6" fill="#000" opacity="0.30"/>
<ellipse cx="1072" cy="322" rx="17" ry="3.4" fill="#000" opacity="0.18"/>
<ellipse cx="1122" cy="321" rx="18" ry="4.2" fill="#000" opacity="0.55"/>
<ellipse cx="1172" cy="322.5" rx="19" ry="6" fill="#000" opacity="1.00"/>
<ellipse cx="1175" cy="324.5" rx="17" ry="4.6" fill="#000" opacity="1.00"/>
<ellipse cx="1188" cy="328.5" rx="8" ry="2.5" fill="#000" opacity="0.70"/>
</g>
</g>
<rect x="987" y="298.4" width="217.7" height="54.2" filter="url(#grain)" opacity="0.13"/>
<rect x="987.6" y="299" width="216.5" height="53" fill="none" stroke="#222" stroke-width="1.2"/>
<clipPath id="cb4"><rect x="987" y="367.7" width="217.7" height="70.3"/></clipPath>
<rect x="987" y="367.7" width="217.7" height="70.3" fill="#bdbdbd"/>
<g clip-path="url(#cb4)">
<g filter="url(#bl3)">
<rect x="999" y="391" width="36" height="22" fill="#000" opacity="0.31" rx="8.8"/>
<rect x="1000" y="380" width="34" height="60" fill="#000" opacity="0.12" rx="13.6"/>
<rect x="1048" y="391" width="36" height="22" fill="#000" opacity="0.21" rx="8.8"/>
<rect x="1049" y="380" width="34" height="60" fill="#000" opacity="0.12" rx="13.6"/>
<rect x="1099" y="391" width="36" height="22" fill="#000" opacity="0.40" rx="8.8"/>
<rect x="1100" y="380" width="34" height="60" fill="#000" opacity="0.12" rx="13.6"/>
<rect x="1154" y="391" width="36" height="22" fill="#000" opacity="0.46" rx="8.8"/>
<rect x="1155" y="380" width="34" height="60" fill="#000" opacity="0.12" rx="13.6"/>
<ellipse cx="1042" cy="402" rx="4" ry="40" fill="#fff" opacity="0.30"/>
<ellipse cx="1092" cy="402" rx="4" ry="40" fill="#fff" opacity="0.30"/>
<ellipse cx="1144" cy="402" rx="4" ry="40" fill="#fff" opacity="0.30"/>
</g>
<g filter="url(#bl2)">
<rect x="1001" y="374.4" width="32" height="5.2" fill="#000" opacity="0.28" rx="2.1"/>
<rect x="999" y="390.8" width="36" height="8.4" fill="#000" opacity="0.62" rx="3.4"/>
<rect x="999" y="404.5" width="36" height="8" fill="#000" opacity="0.59" rx="3.2"/>
<rect x="1050" y="374.4" width="32" height="5.2" fill="#000" opacity="0.19" rx="2.1"/>
<rect x="1048" y="390.8" width="36" height="8.4" fill="#000" opacity="0.42" rx="3.4"/>
<rect x="1048" y="404.5" width="36" height="8" fill="#000" opacity="0.40" rx="3.2"/>
<rect x="1101" y="374.4" width="32" height="5.2" fill="#000" opacity="0.36" rx="2.1"/>
<rect x="1099" y="390.8" width="36" height="8.4" fill="#000" opacity="0.80" rx="3.4"/>
<rect x="1099" y="404.5" width="36" height="8" fill="#000" opacity="0.76" rx="3.2"/>
<rect x="1156" y="374.4" width="32" height="5.2" fill="#000" opacity="0.41" rx="2.1"/>
<rect x="1154" y="390.8" width="36" height="8.4" fill="#000" opacity="0.92" rx="3.4"/>
<rect x="1154" y="404.5" width="36" height="8" fill="#000" opacity="0.87" rx="3.2"/>
</g>
</g>
<rect x="987" y="367.7" width="217.7" height="70.3" filter="url(#grain)" opacity="0.13"/>
<rect x="987.6" y="368.3" width="216.5" height="69.1" fill="none" stroke="#222" stroke-width="1.2"/>
</g>
<g id="panel-c">
<text x="1274.8" y="50.1" font-size="69.2" font-family='"DejaVu Sans", sans-serif' font-weight="bold">c</text>
<text x="1402" y="274.5" font-size="27.8" font-family='"Liberation Sans", sans-serif' text-anchor="middle" transform="rotate(-90 1402 274.5)">PLIN1-normalized densitometry</text>
<text x="1432" y="274.5" font-size="27.8" font-family='"Liberation Sans", sans-serif' text-anchor="middle" transform="rotate(-90 1432 274.5)">(relative to WT control)</text>
<text x="1462" y="274.5" font-size="27.8" font-family='"Liberation Sans", sans-serif' text-anchor="middle" transform="rotate(-90 1462 274.5)">log scale</text>
<rect x="1508" y="2.7" width="125.6" height="45.8" fill="#fff" stroke="#000" stroke-width="5.4" stroke-linejoin="round"/>
<text x="1570.8" y="33.7" font-size="22.5" font-family='"Liberation Sans", sans-serif' text-anchor="middle" fill="#1a1a1a">+/+</text>
<rect x="1647.5" y="2.7" width="126.2" height="45.8" fill="#fff" stroke="#000" stroke-width="5.4" stroke-linejoin="round"/>
<text x="1710.6" y="33.5" font-size="22" font-family='"Liberation Sans", sans-serif' text-anchor="middle" fill="#1a1a1a">Y14F/Y14F</text>
<rect x="1774.2" y="48.7" width="44.7" height="139.1" fill="#fff" stroke="#000" stroke-width="5.4" stroke-linejoin="round"/>
<text x="1788.6" y="118.2" font-size="22" font-family='"Liberation Sans", sans-serif' text-anchor="middle" fill="#1a1a1a" transform="rotate(90 1788.6 118.2)">CAV1</text>
<rect x="1774.2" y="202.3" width="44.7" height="139.5" fill="#fff" stroke="#000" stroke-width="5.4" stroke-linejoin="round"/>
<text x="1788.6" y="272.1" font-size="22" font-family='"Liberation Sans", sans-serif' text-anchor="middle" fill="#1a1a1a" transform="rotate(90 1788.6 272.1)">EHD2</text>
<rect x="1774.2" y="356" width="44.7" height="139.3" fill="#fff" stroke="#000" stroke-width="5.4" stroke-linejoin="round"/>
<text x="1788.6" y="425.6" font-size="22" font-family='"Liberation Sans", sans-serif' text-anchor="middle" fill="#1a1a1a" transform="rotate(90 1788.6 425.6)">PTRF</text>
<line x1="1507.8" y1="50" x2="1507.8" y2="188.5" stroke="#000" stroke-width="2.6" />
<line x1="1500.3" y1="55.2" x2="1506.6" y2="55.2" stroke="#333" stroke-width="2.6" />
<text x="1497" y="63.4" font-size="23" font-family='"Liberation Sans", sans-serif' text-anchor="end" fill="#4d4d4d">10</text>
<line x1="1500.3" y1="102.6" x2="1506.6" y2="102.6" stroke="#333" stroke-width="2.6" />
<text x="1497" y="110.8" font-size="23" font-family='"Liberation Sans", sans-serif' text-anchor="end" fill="#4d4d4d">3</text>
<line x1="1500.3" y1="146" x2="1506.6" y2="146" stroke="#333" stroke-width="2.6" />
<text x="1497" y="154.2" font-size="23" font-family='"Liberation Sans", sans-serif' text-anchor="end" fill="#4d4d4d">1</text>
<circle cx="1542.2" cy="146" r="6.6" fill="#F8766D" stroke="#F8766D" stroke-width="1" fill-opacity="0.45" stroke-opacity="0.55"/>
<circle cx="1542.2" cy="146" r="6.6" fill="#F8766D" stroke="#F8766D" stroke-width="1" fill-opacity="0.45" stroke-opacity="0.55"/>
<line x1="1520.4" y1="146" x2="1564" y2="146" stroke="#707070" stroke-width="2.2" />
<circle cx="1599.6" cy="78.1" r="6.6" fill="#00BFC4" stroke="#00BFC4" stroke-width="1" fill-opacity="0.45" stroke-opacity="0.55"/>
<circle cx="1599.6" cy="87.8" r="6.6" fill="#00BFC4" stroke="#00BFC4" stroke-width="1" fill-opacity="0.45" stroke-opacity="0.55"/>
<line x1="1599.6" y1="81.1" x2="1599.6" y2="84.8" stroke="#707070" stroke-width="1" />
<rect x="1577.8" y="80.5" width="43.6" height="4.8" fill="#b9eef0" stroke="#7a7a7a" stroke-width="1.1" fill-opacity="0.8"/>
<line x1="1577.8" y1="82.9" x2="1621.4" y2="82.9" stroke="#707070" stroke-width="2.2" />
<circle cx="1682" cy="158.4" r="6.6" fill="#F8766D" stroke="#F8766D" stroke-width="1" fill-opacity="0.45" stroke-opacity="0.55"/>
<circle cx="1682" cy="164.8" r="6.6" fill="#F8766D" stroke="#F8766D" stroke-width="1" fill-opacity="0.45" stroke-opacity="0.55"/>
<line x1="1682" y1="161.4" x2="1682" y2="161.8" stroke="#707070" stroke-width="1" />
<rect x="1660.2" y="160" width="43.6" height="3.2" fill="#fbd5d2" stroke="#7a7a7a" stroke-width="1.1" fill-opacity="0.8"/>
<line x1="1660.2" y1="161.6" x2="1703.8" y2="161.6" stroke="#707070" stroke-width="2.2" />
<circle cx="1739" cy="155.2" r="6.6" fill="#00BFC4" stroke="#00BFC4" stroke-width="1" fill-opacity="0.45" stroke-opacity="0.55"/>
<circle cx="1739" cy="161.6" r="6.6" fill="#00BFC4" stroke="#00BFC4" stroke-width="1" fill-opacity="0.45" stroke-opacity="0.55"/>
<line x1="1739" y1="158.2" x2="1739" y2="158.6" stroke="#707070" stroke-width="1" />
<rect x="1717.2" y="156.8" width="43.6" height="3.2" fill="#b9eef0" stroke="#7a7a7a" stroke-width="1.1" fill-opacity="0.8"/>
<line x1="1717.2" y1="158.4" x2="1760.8" y2="158.4" stroke="#707070" stroke-width="2.2" />
<line x1="1507.8" y1="202.8" x2="1507.8" y2="342" stroke="#000" stroke-width="2.6" />
<line x1="1500.3" y1="208.8" x2="1506.6" y2="208.8" stroke="#333" stroke-width="2.6" />
<text x="1497" y="217" font-size="23" font-family='"Liberation Sans", sans-serif' text-anchor="end" fill="#4d4d4d">10</text>
<line x1="1500.3" y1="256.4" x2="1506.6" y2="256.4" stroke="#333" stroke-width="2.6" />
<text x="1497" y="264.6" font-size="23" font-family='"Liberation Sans", sans-serif' text-anchor="end" fill="#4d4d4d">3</text>
<line x1="1500.3" y1="299.6" x2="1506.6" y2="299.6" stroke="#333" stroke-width="2.6" />
<text x="1497" y="307.8" font-size="23" font-family='"Liberation Sans", sans-serif' text-anchor="end" fill="#4d4d4d">1</text>
<circle cx="1542.2" cy="299.6" r="6.6" fill="#F8766D" stroke="#F8766D" stroke-width="1" fill-opacity="0.45" stroke-opacity="0.55"/>
<circle cx="1542.2" cy="299.6" r="6.6" fill="#F8766D" stroke="#F8766D" stroke-width="1" fill-opacity="0.45" stroke-opacity="0.55"/>
<line x1="1520.4" y1="299.6" x2="1564" y2="299.6" stroke="#707070" stroke-width="2.2" />
<circle cx="1599.6" cy="247.8" r="6.6" fill="#00BFC4" stroke="#00BFC4" stroke-width="1" fill-opacity="0.45" stroke-opacity="0.55"/>
<circle cx="1599.6" cy="262.8" r="6.6" fill="#00BFC4" stroke="#00BFC4" stroke-width="1" fill-opacity="0.45" stroke-opacity="0.55"/>
<line x1="1599.6" y1="250.8" x2="1599.6" y2="259.8" stroke="#707070" stroke-width="1" />
<rect x="1577.8" y="251.6" width="43.6" height="7.5" fill="#b9eef0" stroke="#7a7a7a" stroke-width="1.1" fill-opacity="0.8"/>
<line x1="1577.8" y1="255.3" x2="1621.4" y2="255.3" stroke="#707070" stroke-width="2.2" />
<circle cx="1682" cy="315.2" r="6.6" fill="#F8766D" stroke="#F8766D" stroke-width="1" fill-opacity="0.45" stroke-opacity="0.55"/>
<circle cx="1682" cy="332.3" r="6.6" fill="#F8766D" stroke="#F8766D" stroke-width="1" fill-opacity="0.45" stroke-opacity="0.55"/>
<line x1="1682" y1="318.2" x2="1682" y2="329.3" stroke="#707070" stroke-width="1" />
<rect x="1660.2" y="319.5" width="43.6" height="8.5" fill="#fbd5d2" stroke="#7a7a7a" stroke-width="1.1" fill-opacity="0.8"/>
<line x1="1660.2" y1="323.8" x2="1703.8" y2="323.8" stroke="#707070" stroke-width="2.2" />
<circle cx="1739" cy="312" r="6.6" fill="#00BFC4" stroke="#00BFC4" stroke-width="1" fill-opacity="0.45" stroke-opacity="0.55"/>
<circle cx="1739" cy="336.6" r="6.6" fill="#00BFC4" stroke="#00BFC4" stroke-width="1" fill-opacity="0.45" stroke-opacity="0.55"/>
<line x1="1739" y1="315" x2="1739" y2="333.6" stroke="#707070" stroke-width="1" />
<rect x="1717.2" y="318.1" width="43.6" height="12.3" fill="#b9eef0" stroke="#7a7a7a" stroke-width="1.1" fill-opacity="0.8"/>
<line x1="1717.2" y1="324.3" x2="1760.8" y2="324.3" stroke="#707070" stroke-width="2.2" />
<line x1="1507.8" y1="356" x2="1507.8" y2="496.5" stroke="#000" stroke-width="2.6" />
<line x1="1500.3" y1="361.4" x2="1506.6" y2="361.4" stroke="#333" stroke-width="2.6" />
<text x="1497" y="369.6" font-size="23" font-family='"Liberation Sans", sans-serif' text-anchor="end" fill="#4d4d4d">10</text>
<line x1="1500.3" y1="409.6" x2="1506.6" y2="409.6" stroke="#333" stroke-width="2.6" />
<text x="1497" y="417.8" font-size="23" font-family='"Liberation Sans", sans-serif' text-anchor="end" fill="#4d4d4d">3</text>
<line x1="1500.3" y1="452.8" x2="1506.6" y2="452.8" stroke="#333" stroke-width="2.6" />
<text x="1497" y="461" font-size="23" font-family='"Liberation Sans", sans-serif' text-anchor="end" fill="#4d4d4d">1</text>
<circle cx="1542.2" cy="452.8" r="6.6" fill="#F8766D" stroke="#F8766D" stroke-width="1" fill-opacity="0.45" stroke-opacity="0.55"/>
<circle cx="1542.2" cy="452.8" r="6.6" fill="#F8766D" stroke="#F8766D" stroke-width="1" fill-opacity="0.45" stroke-opacity="0.55"/>
<line x1="1520.4" y1="452.8" x2="1564" y2="452.8" stroke="#707070" stroke-width="2.2" />
<circle cx="1599.6" cy="456.7" r="6.6" fill="#00BFC4" stroke="#00BFC4" stroke-width="1" fill-opacity="0.45" stroke-opacity="0.55"/>
<circle cx="1599.6" cy="456.7" r="6.6" fill="#00BFC4" stroke="#00BFC4" stroke-width="1" fill-opacity="0.45" stroke-opacity="0.55"/>
<line x1="1577.8" y1="456.7" x2="1621.4" y2="456.7" stroke="#707070" stroke-width="2.2" />
<circle cx="1682" cy="448.1" r="6.6" fill="#F8766D" stroke="#F8766D" stroke-width="1" fill-opacity="0.45" stroke-opacity="0.55"/>
<circle cx="1682" cy="462" r="6.6" fill="#F8766D" stroke="#F8766D" stroke-width="1" fill-opacity="0.45" stroke-opacity="0.55"/>
<line x1="1682" y1="451.1" x2="1682" y2="459" stroke="#707070" stroke-width="1" />
<rect x="1660.2" y="451.6" width="43.6" height="6.9" fill="#fbd5d2" stroke="#7a7a7a" stroke-width="1.1" fill-opacity="0.8"/>
<line x1="1660.2" y1="455.1" x2="1703.8" y2="455.1" stroke="#707070" stroke-width="2.2" />
<circle cx="1739" cy="450.2" r="6.6" fill="#00BFC4" stroke="#00BFC4" stroke-width="1" fill-opacity="0.45" stroke-opacity="0.55"/>
<circle cx="1739" cy="450.2" r="6.6" fill="#00BFC4" stroke="#00BFC4" stroke-width="1" fill-opacity="0.45" stroke-opacity="0.55"/>
<line x1="1717.2" y1="450.2" x2="1760.8" y2="450.2" stroke="#707070" stroke-width="2.2" />
<line x1="1506.5" y1="495.2" x2="1633.8" y2="495.2" stroke="#000" stroke-width="2.6" />
<line x1="1647.6" y1="495.2" x2="1773.5" y2="495.2" stroke="#000" stroke-width="2.6" />
<line x1="1542.2" y1="496.3" x2="1542.2" y2="502.8" stroke="#333" stroke-width="2.6" />
<text x="1550.2" y="508.8" font-size="22" font-family='"Liberation Sans", sans-serif' text-anchor="end" fill="#4d4d4d" transform="rotate(-90 1550.2 508.8)">Control</text>
<line x1="1599.6" y1="496.3" x2="1599.6" y2="502.8" stroke="#333" stroke-width="2.6" />
<text x="1607.6" y="508.8" font-size="22" font-family='"Liberation Sans", sans-serif' text-anchor="end" fill="#4d4d4d" transform="rotate(-90 1607.6 508.8)">Oleate</text>
<line x1="1682" y1="496.3" x2="1682" y2="502.8" stroke="#333" stroke-width="2.6" />
<text x="1690" y="508.8" font-size="22" font-family='"Liberation Sans", sans-serif' text-anchor="end" fill="#4d4d4d" transform="rotate(-90 1690 508.8)">Control</text>
<line x1="1739" y1="496.3" x2="1739" y2="502.8" stroke="#333" stroke-width="2.6" />
<text x="1747" y="508.8" font-size="22" font-family='"Liberation Sans", sans-serif' text-anchor="end" fill="#4d4d4d" transform="rotate(-90 1747 508.8)">Oleate</text>
<line x1="1538.9" y1="63.9" x2="1588.8" y2="63.9" stroke="#000" stroke-width="2" />
<text x="1563.6" y="73.3" font-size="31" font-family='"Liberation Sans", sans-serif' text-anchor="middle">***</text>
<line x1="1538.9" y1="220.2" x2="1588.8" y2="220.2" stroke="#000" stroke-width="2" />
<text x="1563.6" y="229.6" font-size="31" font-family='"Liberation Sans", sans-serif' text-anchor="middle">**</text>
</g>
<g id="panel-d">
<text x="22" y="686.3" font-size="69.2" font-family='"DejaVu Sans", sans-serif' font-weight="bold">d</text>
<text x="40" y="1037" font-size="24.9" font-family='"Liberation Sans", sans-serif' text-anchor="middle" transform="rotate(-90 40 1037)">Number of Cav1 spots (log scale)</text>
<text x="306.5" y="1358.5" font-size="24.9" font-family='"Liberation Sans", sans-serif' text-anchor="middle">Frame</text>
<g transform="scale(.1)" stroke-width="29" stroke-linecap="round" stroke-opacity="0.9" fill="none">
<path d="M1150 8948h0m4 21h0m4-11h0m4-21h0m4 11h0m4 0h0m5-21h0m4 10h0m4 66h0m4-45h0m4-10h0m4 21h0m4-32h0m4-47h0m4 18h0m5 61h0m4-21h0m4-11h0m4 32h0m4-70h0m4 28h0m4 53h0m4-81h0m4 49h0m4 10h0m4-21h0m5-29h0m4-9h0m4 19h0m4 51h0m4-21h0m4 21h0m4-21h0m4 44h0m4-65h0m5-9h0m4 85h0m4-45h0m4-50h0m4 19h0m4-9h0m4 0h0m4 0h0m4-19h0m4 19h0m4 40h0m5 34h0m4-84h0m4-18h0m4 58h0m4-21h0m4-19h0m4 50h0m4-10h0m4-30h0m5 40h0m4-10h0m4 10h0m4 22h0m4 12h0m4-65h0m4 0h0m4 21h0m4-11h0m4 11h0m4 10h0m5-21h0m4 11h0m4 21h0m4-42h0m4 21h0m4 93h0m4-93h0m4 0h0m4-11h0m5 43h0m4-32h0m4 21h0m4 0h0m4 11h0m4 23h0m4-66h0m4-19h0m4 62h0m4-32h0m4 107h0m5-39h0m4 0h0m4-79h0m4 32h0m4 0h0m4-42h0m4 53h0m4 23h0m4-23h0m5-22h0m4 0h0m4 70h0m4-25h0m4 25h0m4-70h0m4 45h0m4 13h0m4-79h0m4 0h0m4 55h0m5-55h0m4 66h0m4-34h0m4 47h0m4-79h0m4 55h0m4-44h0m4 32h0m4 12h0m5 0h0m4-34h0m4 45h0m4-45h0m4-21h0m4 11h0m4-11h0m4 21h0m4 58h0m4-68h0m4 32h0m5 0h0m4 0h0m4 0h0m4-22h0m4 58h0m4-68h0m4 55h0m4-45h0m4 0h0m5 58h0m4-13h0m4 0h0m4 0h0m4-11h0m4-23h0m4 11h0m4 61h0m4-49h0m4 24h0m4-13h0m5-45h0m4 22h0m4-11h0m4 86h0m4-107h0m4 55h0m4 38h0m4-123h0m4 51h0m5 23h0m4-34h0m4 34h0m4-34h0m4 34h0m4 11h0m4-23h0m4 36h0m4-58h0m4 111h0m4-100h0m5 11h0m4-11h0m4-11h0m4 45h0m4-66h0m4 66h0m4-23h0m4 36h0m4-58h0m5 70h0m4-70h0m4 11h0m4 11h0m4 36h0m4-47h0m4 23h0m4-12h0m4 0h0m4-11h0m4 47h0m5-24h0m4-12h0m4 0h0m4 48h0m4-70h0m4 34h0m4 24h0m4-24h0m4-23h0m5 100h0m4-121h0m4 80h0m4-48h0m4 12h0m4-23h0m4 0h0m4-11h0m4 70h0m4-59h0m4-11h0m5 11h0m4-51h0m4 85h0m4-85h0m4 51h0m4 23h0m4 0h0m4-34h0m4 34h0m4-12h0m5 12h0m4-12h0m4 36h0m4 25h0m4 14h0m4-75h0m4 23h0m4 38h0m4-61h0m4 48h0m5 27h0m4-86h0m4 34h0m4 52h0m4-27h0m4 13h0m4-49h0m4-12h0m4-11h0m5 47h0m4 12h0m4-25h0m4 52h0m4-52h0m4 13h0m4 12h0m4-36h0m4 36h0m4 56h0m4-81h0m5-11h0m4 49h0m4-25h0m4-36h0m4 48h0m4-25h0m4-11h0m4 49h0m4-13h0m5-25h0m4 0h0m4 13h0m4 0h0m4-13h0m4 81h0m4-81h0m4-66h0m4 32h0m4 11h0m4 36h0m5 25h0m4 0h0m4-93h0m4 55h0m4 0h0m4 0h0m4-11h0m4-34h0m4 45h0m5 25h0m4 0h0m4 0h0m4-36h0m4 24h0m4-24h0m4 11h0m4-23h0m4-32h0m4 44h0m4 24h0m5-58h0m4 97h0m4 0h0m4-27h0m4 0h0m4 13h0m4 14h0m4-52h0m4 13h0m5 0h0m4-47h0m4 47h0m4 25h0m4-13h0m4-25h0m4-45h0m4 58h0m4 53h0m4-53h0m4-13h0m5 0h0m4-11h0m4 49h0m4 14h0m4-52h0m4 0h0m4 13h0m4 12h0m4 0h0m5 13h0m4-38h0m4 0h0m4 38h0m4-13h0m4-12h0m4 25h0m4-13h0m4-48h0m4 104h0m4-56h0m5-12h0m4 12h0m4 13h0m4 28h0m4-53h0m4 0h0m4-58h0m4 97h0m4-39h0m5 53h0m4-41h0m4 13h0m4-25h0m4 12h0m4-25h0m4 38h0m4 14h0m4-39h0m4 25h0m4-13h0m5 0h0m4 0h0m4 71h0m4-71h0m4-25h0m4 52h0m4 29h0m4-43h0m4 0h0m4 14h0m5-63h0m4-23h0m4 72h0m4-38h0m4 96h0m4-83h0m4-58h0m4 70h0m4 0h0m4 56h0m5 65h0m4-94h0m4-75h0m4 75h0m4 14h0m4-41h0m4 13h0m4-25h0m4 39h0m5 0h0m4-52h0m4 66h0m4-28h0m4-38h0m4 13h0m4 39h0m4-39h0m4 39h0m4-14h0m4 14h0m5 60h0m4-87h0m4 41h0m4-66h0m4 25h0m4 27h0m4 14h0m4-14h0m4-39h0m5 53h0m4-28h0m4 0h0m4 28h0m4 30h0m4 0h0m4-30h0m4-41h0m4 41h0m4-53h0m4 25h0m5 14h0m4-75h0m4 135h0m4-74h0m4 0h0m4 58h0m4-71h0m4 71h0m4 16h0m5-46h0m4 15h0m4-15h0m4 15h0m4-43h0m4-25h0m4 68h0m4-81h0m4 66h0m4 46h0m4-46h0m5-14h0m4 77h0m4-77h0m4 0h0m4 14h0" stroke="#00BA38"/>
<path d="M1150 8958h0m4 22h0m4-132h0m4 100h0m4 44h0m4-84h0m5 19h0m4-46h0m4 111h0m4-44h0m4 44h0m4-55h0m4 91h0m4-70h0m4-21h0m5 55h0m4-84h0m4 50h0m4-85h0m4 64h0m4 21h0m4 157h0m4-157h0m4 70h0m4-59h0m4-21h0m5 0h0m4 55h0m4 0h0m4 96h0m4-130h0m4 0h0m4 11h0m4 75h0m4-63h0m5 157h0m4-157h0m4 49h0m4-38h0m4 25h0m4 13h0m4-13h0m4 13h0m4-83h0m4 83h0m4-72h0m5 72h0m4-38h0m4 146h0m4-146h0m4 38h0m4 14h0m4 29h0m4 0h0m4-56h0m5 0h0m4 27h0m4-14h0m4 14h0m4 94h0m4-94h0m4 14h0m4-53h0m4 0h0m4 39h0m4 14h0m5 80h0m4-94h0m4 14h0m4 0h0m4 117h0m4-54h0m4-233h0m4 156h0m4 14h0m5 98h0m4-139h0m4 41h0m4 0h0m4 0h0m4 0h0m4-53h0m4 53h0m4-14h0m4-107h0m4 219h0m5-198h0m4 34h0m4 81h0m4 15h0m4 16h0m4-178h0m4 147h0m4 0h0m4-43h0m5-61h0m4 61h0m4 28h0m4 30h0m4 87h0m4-71h0m4-31h0m4-15h0m4 46h0m4 0h0m4-46h0m5 30h0m4-15h0m4-43h0m4-38h0m4 96h0m4 16h0m4-135h0m4 61h0m4-25h0m5 99h0m4-87h0m4 13h0m4 28h0m4 46h0m4-31h0m4-136h0m4 80h0m4 0h0m4-12h0m4 12h0m5 13h0m4-72h0m4 86h0m4 29h0m4-68h0m4 0h0m4 116h0m4-104h0m4 71h0m5 0h0m4-83h0m4 12h0m4-48h0m4 187h0m4-52h0m4-16h0m4 33h0m4-129h0m4 81h0m4 0h0m5-43h0m4 165h0m4-74h0m4-33h0m4-141h0m4 191h0m4 79h0m4-129h0m4 107h0m5-107h0m4 50h0m4-94h0m4 0h0m4 29h0m4-68h0m4 53h0m4 15h0m4 83h0m4 0h0m4-112h0m5-27h0m4 158h0m4-158h0m4 87h0m4-74h0m4 14h0m4 77h0m4 17h0m4-34h0m5-46h0m4 46h0m4-74h0m4 28h0m4-66h0m4 52h0m4 44h0m4 33h0m4-77h0m4 0h0m4-27h0m5 87h0m4 0h0m4 17h0m4-33h0m4 129h0m4-144h0m4 15h0m4-58h0m4-13h0m5-36h0m4 92h0m4 83h0m4-112h0m4 0h0m4 131h0m4-37h0m4-65h0m4 48h0m4-17h0m4-46h0m5 63h0m4-91h0m4 14h0m4 94h0m4 57h0m4-107h0m4-58h0m4 165h0m4-137h0m4 117h0m5-117h0m4 63h0m4-63h0m4 137h0m4-122h0m4-15h0m4 46h0m4-16h0m4 16h0m4-99h0m5 39h0m4 29h0m4 48h0m4-116h0m4 39h0m4 29h0m4-29h0m4 112h0m4 0h0m5-112h0m4 29h0m4 65h0m4 18h0m4-52h0m4 135h0m4-44h0m4-20h0m4 0h0m4-117h0m4 30h0m5 107h0m4-39h0m4-52h0m4 71h0m4 64h0m4-166h0m4 122h0m4-39h0m4-35h0m5-63h0m4 80h0m4-65h0m4 83h0m4-18h0m4 57h0m4-107h0m4-15h0m4 31h0m4-74h0m4 91h0m5-33h0m4 33h0m4-17h0m4 0h0m4-46h0m4 98h0m4-126h0m4 74h0m4-46h0m5 137h0m4-74h0m4-129h0m4 81h0m4 144h0m4-96h0m4 35h0m4 19h0m4-19h0m4-52h0m4 17h0m5 0h0m4-33h0m4-15h0m4 48h0m4 74h0m4-20h0m4-87h0m4 68h0m4-126h0m5 74h0m4-31h0m4 48h0m4-48h0m4-56h0m4 71h0m4 68h0m4-151h0m4 170h0m4 42h0m4 0h0m5-173h0m4 112h0m4-35h0m4 54h0m4-54h0m4 35h0m4 0h0m4 19h0m4 42h0m5-61h0m4 0h0m4 108h0m4-126h0m4 37h0m4 64h0m4-83h0m4 133h0m4-231h0m4 137h0m4 0h0m5 69h0m4-160h0m4 52h0m4 61h0m4-79h0m4 37h0m4 64h0m4 0h0m4-44h0m5 22h0m4 72h0m4-114h0m4-37h0m4 151h0m4-114h0m4 42h0m4-61h0m4 0h0m4 39h0m4 44h0m5-44h0m4 22h0m4 22h0m4-44h0m4 22h0m4-22h0m4-39h0m4 108h0m4-47h0m4 22h0m5-64h0m4-54h0m4 0h0m4 143h0m4-126h0m4 18h0m4 61h0m4-42h0m4-37h0m4 79h0m5-61h0m4-18h0m4 57h0m4-39h0m4-18h0m4-108h0m4 28h0m4 63h0m4 35h0m5 0h0m4-68h0m4 129h0m4-61h0m4 39h0m4-57h0m4-108h0m4 145h0m4-37h0m4 37h0m4-102h0m5-15h0m4 98h0m4-52h0m4 34h0m4-50h0m4 16h0m4 113h0m4-96h0m4 74h0m5 0h0m4-107h0m4 151h0m4-135h0m4 52h0m4 19h0m4-54h0m4 0h0m4 143h0m4-47h0m4-42h0m5-19h0m4 108h0m4-143h0m4 118h0m4-64h0m4 42h0m4 47h0m4-126h0m4 57h0m5-107h0m4 87h0m4 42h0m4-61h0m4-68h0m4 129h0m4-113h0m4 91h0m4 22h0m4-22h0m4-39h0m5-18h0m4-50h0m4 33h0m4 17h0m4 18h0" stroke="#A3A500"/>
<path d="M1150 8969h0m4-51h0m4 85h0m4 13h0m4-24h0m4-65h0m5 89h0m4-24h0m4 49h0m4-38h0m4 112h0m4-157h0m4-10h0m4 32h0m4 75h0m5-63h0m4 49h0m4 43h0m4-157h0m4 31h0m4 209h0m4-52h0m4-60h0m4 29h0m4-56h0m4-36h0m5 123h0m4-60h0m4 77h0m4 74h0m4-151h0m4 151h0m4-91h0m4 34h0m4-94h0m5 0h0m4 29h0m4-15h0m4 46h0m4 34h0m4-94h0m4-107h0m4 219h0m4-139h0m4-36h0m4 157h0m5-80h0m4 80h0m4-34h0m4-31h0m4 102h0m4-183h0m4 38h0m4 28h0m4 80h0m5-108h0m4-38h0m4-11h0m4 49h0m4 91h0m4-33h0m4-30h0m4-77h0m4 123h0m4-31h0m4 48h0m5 35h0m4-35h0m4 35h0m4-35h0m4 54h0m4-117h0m4 80h0m4 0h0m4-108h0m5 126h0m4-52h0m4 71h0m4-71h0m4 113h0m4 0h0m4-96h0m4 96h0m4-42h0m4 20h0m4 44h0m5-101h0m4 37h0m4 0h0m4-145h0m4 91h0m4-33h0m4 50h0m4 0h0m4-50h0m5 176h0m4-191h0m4 31h0m4 0h0m4 52h0m4 0h0m4 0h0m4 0h0m4-18h0m4-94h0m4 112h0m5 39h0m4-57h0m4 57h0m4 0h0m4 44h0m4-83h0m4 19h0m4-37h0m4 18h0m5 108h0m4-143h0m4 96h0m4 100h0m4-161h0m4 83h0m4-118h0m4 143h0m4-126h0m4 18h0m4 191h0m5-30h0m4-142h0m4 42h0m4-96h0m4 118h0m4-44h0m4-20h0m4 20h0m4 22h0m5 0h0m4 72h0m4-94h0m4 22h0m4 22h0m4 0h0m4 0h0m4 0h0m4 0h0m4-101h0m4 18h0m5 61h0m4-79h0m4 79h0m4-22h0m4-39h0m4 19h0m4 0h0m4 89h0m4 0h0m5-143h0m4 96h0m4 72h0m4-94h0m4-39h0m4 39h0m4 44h0m4 25h0m4 0h0m4-191h0m4 83h0m5 61h0m4 72h0m4-72h0m4 0h0m4 0h0m4 22h0m4-64h0m4-19h0m4 161h0m5 0h0m4 30h0m4-30h0m4 0h0m4-78h0m4 0h0m4 78h0m4-53h0m4 25h0m4 90h0m4-90h0m5-25h0m4 53h0m4-78h0m4 0h0m4 140h0m4-90h0m4-50h0m4-44h0m4 94h0m5 0h0m4 58h0m4-83h0m4-69h0m4 69h0m4 25h0m4 28h0m4 30h0m4-58h0m4 58h0m4-108h0m5-44h0m4 184h0m4-115h0m4 0h0m4 115h0m4-62h0m4-28h0m4 0h0m4 28h0m4-53h0m5 25h0m4 0h0m4 28h0m4 98h0m4-126h0m4-72h0m4 47h0m4-25h0m4 108h0m4-209h0m5 179h0m4-78h0m4-22h0m4 72h0m4 58h0m4-30h0m4-28h0m4-72h0m4 162h0m5-32h0m4-58h0m4 58h0m4-58h0m4 58h0m4 68h0m4-98h0m4 62h0m4 0h0m4-115h0m4-47h0m5 130h0m4-58h0m4-50h0m4 140h0m4-90h0m4 0h0m4 58h0m4-152h0m4 152h0m5 68h0m4-68h0m4-83h0m4 115h0m4-162h0m4 130h0m4-58h0m4 28h0m4 30h0m4 0h0m4 0h0m5-30h0m4-78h0m4 50h0m4-25h0m4 25h0m4 58h0m4-130h0m4 47h0m4 53h0m5-53h0m4 83h0m4-108h0m4-22h0m4-42h0m4 142h0m4 0h0m4 62h0m4-32h0m4-58h0m4 58h0m5 0h0m4-30h0m4-100h0m4 47h0m4 83h0m4-30h0m4-100h0m4 22h0m4 25h0m5 0h0m4 25h0m4 0h0m4-50h0m4 0h0m4 108h0m4 0h0m4-108h0m4 0h0m4 78h0m4-78h0m5 108h0m4 0h0m4-30h0m4-122h0m4 184h0m4-90h0m4-50h0m4 0h0m4 25h0m5 53h0m4 30h0m4-30h0m4-53h0m4 25h0m4 90h0m4-115h0m4 83h0m4-83h0m4-69h0m4-57h0m5 151h0m4 58h0m4 32h0m4-115h0m4 25h0m4 28h0m4 62h0m4-62h0m4-78h0m5 25h0m4 25h0m4 0h0m4 90h0m4-162h0m4 72h0m4 28h0m4-53h0m4 0h0m4 0h0m4 115h0m5-115h0m4 53h0m4 0h0m4-122h0m4 44h0m4-22h0m4 130h0m4-108h0m4 108h0m4 68h0m5-126h0m4 0h0m4 0h0m4-72h0m4 72h0m4-25h0m4 25h0m4 28h0m4 0h0m4-78h0m5 50h0m4-50h0m4 25h0m4 25h0m4 28h0m4 62h0m4-32h0m4-83h0m4 0h0m5 53h0m4-122h0m4 184h0m4-204h0m4 172h0m4-108h0m4 78h0m4-78h0m4-22h0m4 72h0m4 58h0m5 32h0m4 0h0m4-90h0m4-25h0m4 53h0m4 30h0m4-83h0m4 53h0m4 0h0m5 30h0m4 68h0m4-36h0m4-140h0m4 78h0m4-53h0m4 151h0m4-68h0m4-83h0m4 83h0m4-30h0m5-53h0m4 83h0m4 68h0m4-98h0m4 0h0m4 62h0m4-140h0m4 78h0m4 30h0m5-130h0m4 72h0m4 90h0m4-115h0m4 0h0m4 25h0m4 58h0m4-58h0m4 90h0m4-162h0m4 72h0m5 28h0m4 0h0m4-78h0m4 25h0m4 53h0" stroke="#D89000"/>
<path d="M1150 9003h0m4-11h0m4 92h0m4 0h0m4-29h0m4-86h0m5 59h0m4 27h0m4 29h0m4-15h0m4-66h0m4 38h0m4-38h0m4 129h0m4-17h0m5 0h0m4 0h0m4-146h0m4 23h0m4 194h0m4-131h0m4 195h0m4-118h0m4 0h0m4 35h0m4-126h0m5 145h0m4-102h0m4 122h0m4-74h0m4-63h0m4 0h0m4 0h0m4 63h0m4 74h0m5 69h0m4-108h0m4-18h0m4 57h0m4 0h0m4-107h0m4 151h0m4-44h0m4 44h0m4 0h0m4-83h0m5-98h0m4 137h0m4-57h0m4 57h0m4-20h0m4 20h0m4 0h0m4 0h0m4 22h0m5 72h0m4-114h0m4-19h0m4 133h0m4-25h0m4 53h0m4 30h0m4 0h0m4-108h0m4 140h0m4-90h0m5-114h0m4 172h0m4-30h0m4-28h0m4-25h0m4-143h0m4 168h0m4-25h0m4 0h0m5 25h0m4-25h0m4 53h0m4-28h0m4-25h0m4 115h0m4-62h0m4 0h0m4-53h0m4 115h0m4-140h0m5 25h0m4 25h0m4 58h0m4-58h0m4-25h0m4 83h0m4-58h0m4 90h0m4-32h0m5 151h0m4-151h0m4 68h0m4-126h0m4-50h0m4 108h0m4-30h0m4-100h0m4 130h0m4 0h0m4-58h0m5-25h0m4-25h0m4 78h0m4 0h0m4 30h0m4-58h0m4 90h0m4-90h0m4 0h0m5 58h0m4 0h0m4 0h0m4 0h0m4 32h0m4 0h0m4 36h0m4-36h0m4 119h0m4-181h0m4 62h0m5-32h0m4 0h0m4 68h0m4-68h0m4 32h0m4-62h0m4-28h0m4 58h0m4 0h0m5-58h0m4 165h0m4-137h0m4 30h0m4-30h0m4 30h0m4 32h0m4-184h0m4 44h0m4 25h0m4-25h0m5 50h0m4-25h0m4 83h0m4-83h0m4 0h0m4 25h0m4 126h0m4-277h0m4 101h0m5-22h0m4 130h0m4 68h0m4-151h0m4 53h0m4-53h0m4 115h0m4 36h0m4-198h0m4 47h0m4 115h0m5 119h0m4-181h0m4-100h0m4 72h0m4-72h0m4 47h0m4 53h0m4-122h0m4 259h0m5-137h0m4-100h0m4 130h0m4 0h0m4-30h0m4-28h0m4-72h0m4 47h0m4 0h0m4-47h0m4 0h0m5 100h0m4-53h0m4 83h0m4-191h0m4 223h0m4-115h0m4 25h0m4 0h0m4 0h0m5 28h0m4 98h0m4-36h0m4 119h0m4-83h0m4-98h0m4-28h0m4 58h0m4 0h0m4 32h0m4 119h0m5-181h0m4 30h0m4 0h0m4 107h0m4-75h0m4 36h0m4 39h0m4-215h0m4 140h0m4 36h0m5 83h0m4-181h0m4 137h0m4 0h0m4-39h0m4 39h0m4 0h0m4-137h0m4-53h0m4 151h0m5 0h0m4-36h0m4 75h0m4-39h0m4 39h0m4-165h0m4 90h0m4 119h0m4-83h0m5-98h0m4 98h0m4-36h0m4-32h0m4 107h0m4-75h0m4-90h0m4 209h0m4-83h0m4 39h0m4 44h0m5-44h0m4-39h0m4 0h0m4-68h0m4 68h0m4 39h0m4-75h0m4 75h0m4 44h0m5-119h0m4 119h0m4-83h0m4 0h0m4 83h0m4-119h0m4 119h0m4-119h0m4 75h0m4 0h0m4-75h0m5 36h0m4 83h0m4-44h0m4 44h0m4-83h0m4 0h0m4 83h0m4-83h0m4 0h0m5 39h0m4 94h0m4-94h0m4 94h0m4 0h0m4-133h0m4-36h0m4 36h0m4 83h0m4-83h0m4 83h0m5-119h0m4 0h0m4 36h0m4 39h0m4-75h0m4 36h0m4-36h0m4 0h0m4 75h0m5-39h0m4 0h0m4 83h0m4-44h0m4-39h0m4 39h0m4-39h0m4 83h0m4 0h0m4 0h0m4-83h0m5 39h0m4 44h0m4-151h0m4 32h0m4 169h0m4-94h0m4 0h0m4 0h0m4 44h0m5 0h0m4 0h0m4 0h0m4 50h0m4 0h0m4-94h0m4 44h0m4 0h0m4-44h0m4 152h0m4-152h0m5-107h0m4 201h0m4-94h0m4 0h0m4-39h0m4 83h0m4 0h0m4 0h0m4 0h0m5 108h0m4-152h0m4 0h0m4-39h0m4 39h0m4 94h0m4-50h0m4 0h0m4 50h0m4-50h0m4-83h0m5 133h0m4-50h0m4 0h0m4 50h0m4-50h0m4-119h0m4 169h0m4-50h0m4 108h0m4-191h0m5 133h0m4-50h0m4-44h0m4 0h0m4 44h0m4 50h0m4 58h0m4 0h0m4-58h0m4-50h0m5-44h0m4 44h0m4 50h0m4-133h0m4 39h0m4 152h0m4-108h0m4 50h0m4 0h0m5-50h0m4-44h0m4 94h0m4-50h0m4 0h0m4-83h0m4 133h0m4 0h0m4 0h0m4 58h0m4-152h0m5 94h0m4 0h0m4 0h0m4 58h0m4 0h0m4 68h0m4-68h0m4-108h0m4 108h0m5 68h0m4-68h0m4 68h0m4-68h0m4 0h0m4-58h0m4-50h0m4 108h0m4-58h0m4 0h0m4-94h0m5 152h0m4 0h0m4 151h0m4-83h0m4-176h0m4 176h0m4-176h0m4 50h0m4 58h0m5 0h0m4 68h0m4-68h0m4 68h0m4-68h0m4 68h0m4-68h0m4-58h0m4 0h0m4 0h0m4-94h0m5 44h0m4 50h0m4 58h0m4 68h0m4-126h0" stroke="#00BF7D"/>
<path d="M1150 8980h0m4-11h0m4-32h0m4 55h0m4-74h0m4 74h0m5-44h0m4 0h0m4 32h0m4-11h0m4-32h0m4-29h0m4 61h0m4-32h0m4 43h0m5 12h0m4-65h0m4 10h0m4 0h0m4 21h0m4-59h0m4 93h0m4-55h0m4 21h0m4 0h0m4 11h0m5-11h0m4-59h0m4 38h0m4-10h0m4 10h0m4 43h0m4-62h0m4 62h0m4-43h0m5 0h0m4-10h0m4 53h0m4-11h0m4 11h0m4-72h0m4 29h0m4 55h0m4-44h0m4 44h0m4-23h0m5-21h0m4 32h0m4-43h0m4 32h0m4-32h0m4 43h0m4 0h0m4-11h0m4 0h0m5 34h0m4-85h0m4 85h0m4-55h0m4 44h0m4 0h0m4-55h0m4 43h0m4 0h0m4-22h0m4-21h0m5 43h0m4-32h0m4 21h0m4-32h0m4 21h0m4-10h0m4 21h0m4-51h0m4 40h0m5 45h0m4-45h0m4 45h0m4-23h0m4 12h0m4-65h0m4 42h0m4 11h0m4 0h0m4 23h0m4-76h0m5 21h0m4 10h0m4 58h0m4-68h0m4 10h0m4 70h0m4-25h0m4 0h0m4-11h0m5-44h0m4 44h0m4-65h0m4 53h0m4 48h0m4-70h0m4 11h0m4 11h0m4 23h0m4-45h0m4-31h0m5 101h0m4-80h0m4 55h0m4 13h0m4 12h0m4-12h0m4-68h0m4 68h0m4-47h0m5 34h0m4-45h0m4 11h0m4 72h0m4-38h0m4-11h0m4 11h0m4-23h0m4-11h0m4 0h0m4 34h0m5-34h0m4 0h0m4 34h0m4-45h0m4-21h0m4 0h0m4 79h0m4-36h0m4 0h0m5 0h0m4 36h0m4-13h0m4-11h0m4-55h0m4 55h0m4 0h0m4 0h0m4-12h0m4 0h0m4 36h0m5-47h0m4 11h0m4-32h0m4 44h0m4-44h0m4 21h0m4 34h0m4 0h0m4 0h0m5 25h0m4-48h0m4 12h0m4 36h0m4-59h0m4-11h0m4 34h0m4 0h0m4-44h0m4 68h0m4-24h0m5-34h0m4 22h0m4 36h0m4-24h0m4 0h0m4 11h0m4-23h0m4 12h0m4 63h0m5-52h0m4 25h0m4 13h0m4-49h0m4-23h0m4 23h0m4 49h0m4-49h0m4 24h0m4-24h0m4 49h0m5-49h0m4-12h0m4 36h0m4-36h0m4 12h0m4 0h0m4 36h0m4-25h0m4 13h0m5-24h0m4 49h0m4-72h0m4 59h0m4-70h0m4 45h0m4-76h0m4 53h0m4 75h0m4-14h0m4-38h0m5 13h0m4-13h0m4-55h0m4 21h0m4 47h0m4 0h0m4-13h0m4 13h0m4 0h0m4-47h0m5 11h0m4 0h0m4 61h0m4-38h0m4 25h0m4-25h0m4 25h0m4-25h0m4 13h0m4-13h0m5 13h0m4 39h0m4-52h0m4 25h0m4-25h0m4 13h0m4-13h0m4 52h0m4-39h0m5-24h0m4 36h0m4 27h0m4-39h0m4-13h0m4 38h0m4-25h0m4-24h0m4 63h0m4 0h0m4-14h0m5-25h0m4 39h0m4-63h0m4-34h0m4 45h0m4-11h0m4 0h0m4 11h0m4 13h0m5 12h0m4 56h0m4-43h0m4-49h0m4 24h0m4 39h0m4-75h0m4 89h0m4-28h0m4-49h0m4-12h0m5 12h0m4 24h0m4 12h0m4 0h0m4-36h0m4 92h0m4-68h0m4-47h0m4 47h0m5 83h0m4-107h0m4 63h0m4 14h0m4-66h0m4 13h0m4-13h0m4 25h0m4 13h0m4 0h0m4-25h0m5 0h0m4 0h0m4-13h0m4 25h0m4-48h0m4 36h0m4-13h0m4 52h0m4-14h0m5-13h0m4 0h0m4 13h0m4 28h0m4-28h0m4-13h0m4 0h0m4 27h0m4-14h0m4-25h0m4 12h0m5 27h0m4-39h0m4 12h0m4-48h0m4 12h0m4 0h0m4 11h0m4 25h0m4-48h0m5 23h0m4 38h0m4-25h0m4 0h0m4 39h0m4-14h0m4 28h0m4-41h0m4 0h0m4-12h0m4 12h0m5 0h0m4-25h0m4 25h0m4-12h0m4 25h0m4-13h0m4 41h0m4 15h0m4-43h0m5 0h0m4-25h0m4 25h0m4-13h0m4 13h0m4 0h0m4-13h0m4-25h0m4 25h0m4 13h0m4-13h0m5 27h0m4-27h0m4 41h0m4-66h0m4 52h0m4-52h0m4 52h0m4 0h0m4-14h0m4-38h0m5 38h0m4-13h0m4 0h0m4-25h0m4 66h0m4-53h0m4 12h0m4-12h0m4 25h0m4 0h0m5 14h0m4 0h0m4-14h0m4-61h0m4 36h0m4 0h0m4 25h0m4-38h0m4 38h0m5-25h0m4 39h0m4-27h0m4-25h0m4 25h0m4 27h0m4 0h0m4-27h0m4 27h0m4-39h0m4 68h0m5-29h0m4 0h0m4-27h0m4 13h0m4-13h0m4 27h0m4-27h0m4 56h0m4-15h0m5-41h0m4 41h0m4 30h0m4-44h0m4-27h0m4 27h0m4 14h0m4-41h0m4 27h0m4-27h0m4 41h0m5 15h0m4-43h0m4 43h0m4-15h0m4 0h0m4-41h0m4 27h0m4-39h0m4 53h0m5 0h0m4 15h0m4-43h0m4-13h0m4 27h0m4-14h0m4 0h0m4 28h0m4-53h0m4 25h0m4 14h0m5 14h0m4-66h0m4 96h0m4-15h0m4 31h0" stroke="#00BA38"/>
</g>
<rect x="108.1" y="686.8" width="190.3" height="38.7" fill="#fff" stroke="#000" stroke-width="3.1"/>
<text x="203.3" y="714" font-size="20" font-family='"Liberation Sans", sans-serif' text-anchor="middle" fill="#1a1a1a">Control</text>
<rect x="108.1" y="727.8" width="190.3" height="39.4" fill="#fff" stroke="#000" stroke-width="3.1"/>
<text x="203.3" y="755.4" font-size="20" font-family='"Liberation Sans", sans-serif' text-anchor="middle" fill="#1a1a1a">+/+</text>
<g transform="scale(.1)" stroke-width="29" stroke-linecap="round" stroke-opacity="0.9" fill="none">
<path d="M3210 7972h0m4 9h0m4 15h0m4 0h0m4-8h0m4-8h0m5 9h0m4-7h0m4-13h0m4 10h0m4-11h0m4 14h0m4-19h0m4 14h0m4-6h0m5 4h0m4 11h0m4-2h0m4-2h0m4 17h0m4-24h0m4 24h0m4-5h0m4 0h0m4-8h0m4 12h0m5-1h0m4 7h0m4-25h0m4-7h0m4 26h0m4-17h0m4 17h0m4-16h0m4 9h0m5 5h0m4-13h0m4 18h0m4-11h0m4-5h0m4 21h0m4 7h0m4-20h0m4 14h0m4-13h0m4 20h0m5 7h0m4-15h0m4-18h0m4 4h0m4 2h0m4 4h0m4 0h0m4-5h0m4-8h0m5 12h0m4 10h0m4-6h0m4-11h0m4 6h0m4 7h0m4-12h0m4 25h0m4-19h0m4 8h0m4-5h0m5-1h0m4 1h0m4-3h0m4-11h0m4 15h0m4-16h0m4 16h0m4-16h0m4-14h0m5 9h0m4 9h0m4-6h0m4-8h0m4 15h0m4-18h0m4 14h0m4-2h0m4 5h0m4-13h0m4 22h0m5-6h0m4 11h0m4-1h0m4 7h0m4-27h0m4 5h0m4 7h0m4-4h0m4 8h0m5 5h0m4-21h0m4 11h0m4 3h0m4 13h0m4-15h0m4 19h0m4-11h0m4 7h0m4-20h0m4 5h0m5 4h0m4-16h0m4 16h0m4 12h0m4-29h0m4 41h0m4-9h0m4-9h0m4 3h0m5-4h0m4 1h0m4 4h0m4 4h0m4-12h0m4-2h0m4 9h0m4-23h0m4 13h0m4-11h0m4 28h0m5-25h0m4 4h0m4 3h0m4 7h0m4-8h0m4 8h0m4-4h0m4 20h0m4-30h0m5 14h0m4-2h0m4-21h0m4 20h0m4 13h0m4-5h0m4-4h0m4 14h0m4-10h0m4 3h0m4-24h0m5 7h0m4 2h0m4 5h0m4 10h0m4 4h0m4-24h0m4 19h0m4 3h0m4-18h0m5 25h0m4-27h0m4-3h0m4 0h0m4 15h0m4-23h0m4 12h0m4 6h0m4-3h0m4 11h0m4-26h0m5 13h0m4 10h0m4 4h0m4-2h0m4 1h0m4 13h0m4-14h0m4-3h0m4 4h0m5 5h0m4-5h0m4 14h0m4-21h0m4 8h0m4 16h0m4-26h0m4 25h0m4-1h0m4-30h0m4 15h0m5-2h0m4-7h0m4 12h0m4-22h0m4 37h0m4-32h0m4 5h0m4-5h0m4 14h0m5-11h0m4-1h0m4-5h0m4-1h0m4 8h0m4 14h0m4 1h0m4 3h0m4-8h0m4 26h0m4-26h0m5 2h0m4 10h0m4-27h0m4 13h0m4 6h0m4-19h0m4 10h0m4-5h0m4 10h0m5 17h0m4-31h0m4 14h0m4-2h0m4-20h0m4 22h0m4-10h0m4 7h0m4-14h0m4 3h0m4-8h0m5 7h0m4 8h0m4-4h0m4-4h0m4 12h0m4-11h0m4-5h0m4 17h0m4-15h0m5-1h0m4 6h0m4-12h0m4-1h0m4-1h0m4 17h0m4-9h0m4 3h0m4-24h0m4 10h0m4 20h0m5-18h0m4 9h0m4 11h0m4-16h0m4-2h0m4 15h0m4-17h0m4-10h0m4 35h0m5-33h0m4 17h0m4-4h0m4-1h0m4 1h0m4-11h0m4-3h0m4 3h0m4 6h0m4-2h0m4 13h0m5-1h0m4-14h0m4 6h0m4-4h0m4-10h0m4-1h0m4 2h0m4 11h0m4-17h0m5 0h0m4 18h0m4-10h0m4 8h0m4 2h0m4-8h0m4 8h0m4 6h0m4-20h0m4-11h0m4 2h0m5-6h0m4 17h0m4 2h0m4-1h0m4-21h0m4 29h0m4-1h0m4-5h0m4 2h0m5-7h0m4 8h0m4 0h0m4 6h0m4-21h0m4 13h0m4 1h0m4-15h0m4 13h0m4-11h0m4 17h0m5-12h0m4-1h0m4 12h0m4 4h0m4-3h0m4-7h0m4 3h0m4 4h0m4-24h0m5 10h0m4-13h0m4 9h0m4 1h0m4 17h0m4-27h0m4 11h0m4 7h0m4-15h0m4 5h0m4 5h0m5 1h0m4-6h0m4 0h0m4-9h0m4 9h0m4-3h0m4-24h0m4 23h0m4-4h0m5-3h0m4 1h0m4-17h0m4 18h0m4-7h0m4 6h0m4-5h0m4 18h0m4-1h0m4-1h0m4-9h0m5-17h0m4 8h0m4 4h0m4-5h0m4-5h0m4 17h0m4-9h0m4-14h0m4 27h0m5-1h0m4-16h0m4-10h0m4-2h0m4 21h0m4 4h0m4-1h0m4 7h0m4 10h0m4-23h0m4 0h0m5-7h0m4 1h0m4 0h0m4-3h0m4 22h0m4-12h0m4-17h0m4-4h0m4-5h0m5 21h0m4-3h0m4 2h0m4 14h0m4-35h0m4 6h0m4-1h0m4 7h0m4-11h0m4 7h0m4 8h0m5-20h0m4 10h0m4 0h0m4 18h0m4-19h0m4 17h0m4-7h0m4 4h0m4-2h0m5 9h0m4-3h0m4-15h0m4 2h0m4 11h0m4 10h0m4-14h0m4 4h0m4-10h0m4-4h0m4-7h0m5 6h0m4 12h0m4-8h0m4-2h0m4 9h0m4-7h0m4-2h0m4 8h0m4-23h0m5 3h0m4 1h0m4 17h0m4-10h0m4 9h0m4-4h0m4-3h0m4-10h0m4 4h0m4 32h0m4-30h0m5 12h0m4-10h0m4 6h0m4-8h0m4-2h0" stroke="#00B8E7"/>
<path d="M3210 8435h0m4 24h0m4 36h0m4 0h0m4 6h0m4-12h0m5 6h0m4 46h0m4 3h0m4-37h0m4 30h0m4-13h0m4 35h0m4-45h0m4 10h0m5-32h0m4 74h0m4-15h0m4 59h0m4-66h0m4 66h0m4-33h0m4 33h0m4-33h0m4 50h0m4 32h0m5 5h0m4-10h0m4 10h0m4-33h0m4 33h0m4-10h0m4 40h0m4-35h0m4 40h0m5 17h0m4 0h0m4 41h0m4 0h0m4-84h0m4 66h0m4-18h0m4 75h0m4-39h0m4-18h0m4 18h0m5-6h0m4 52h0m4-52h0m4 81h0m4 8h0" stroke="#00C19A"/>
<path d="M3620 8504h0m4 7h0m4 13h0m4 53h0m4-40h0m4-26h0m5 51h0m4-42h0m4-25h0m4 82h0m4-7h0m4-53h0m4-52h0m4 52h0m4-43h0m5 77h0m4 26h0m4-50h0m4 35h0m4-61h0m4 29h0m4 21h0m4-10h0m4 0h0m4-27h0m4 0h0m5 45h0m4-15h0m4 22h0m4-62h0m4 58h0m4 8h0m4-22h0m4-24h0m4 53h0m5-29h0m4-11h0m4-17h0m4-6h0m4 0h0m4 16h0" stroke="#00C19A"/>
<path d="M4071 8511h0m4 40h0m4-74h0m4 27h0m4 0h0m5-21h0m4 68h0m4-34h0m4 3h0m4-46h0m4 12h0m4 12h0m4 9h0m4-3h0m4-12h0m4 19h0m5 23h0m4-23h0m4 0h0m4-34h0m4-12h0m4 27h0m4 32h0m4-26h0m4 13h0m5-25h0m4 21h0m4-39h0m4 18h0m4 25h0m4-16h0m4 35h0m4-35h0m4-30h0m4 27h0m4-15h0m5 21h0m4 13h0m4 13h0m4-26h0m4-24h0m4 40h0m4-7h0m4 0h0m4-6h0m5 0h0m4-6h0m4-12h0m4 37h0m4 0h0m4-16h0m4-21h0m4 28h0m4-34h0m4 27h0m4 0h0m5-6h0m4 19h0m4-6h0m4-7h0m4 13h0m4-28h0m4-12h0m4 40h0m4-13h0m5 0h0m4-15h0m4 0h0m4 9h0m4-24h0m4-31h0m4 71h0m4-22h0m4 12h0m4 0h0m4 0h0m5-45h0m4 39h0m4-3h0m4 16h0m4 0h0m4-76h0m4 16h0m4 47h0m4 6h0m5-33h0m4 18h0m4-3h0m4-9h0m4 50h0m4-56h0m4-17h0m4 47h0m4-15h0m4 9h0m4-9h0m5-35h0m4 0h0m4 23h0m4 27h0m4-39h0m4-3h0m4 24h0m4-40h0m4 49h0m5 0h0m4 9h0m4 10h0m4 6h0m4-46h0m4 15h0m4-15h0m4 12h0m4-43h0m4 34h0m4-17h0m5 2h0m4 30h0m4-6h0m4-6h0m4 0h0m4 34h0m4-25h0m4 15h0m4-3h0m5 0h0m4-33h0m4 6h0m4 24h0m4 0h0m4-36h0m4 30h0m4-15h0m4 0h0m4 9h0m4-24h0m5-5h0m4 38h0m4-12h0m4-6h0m4 43h0m4-34h0m4-9h0m4-17h0m4 14h0m5-12h0m4 27h0m4-18h0m4 36h0m4-42h0m4 36h0m4 9h0m4-30h0m4-23h0m4 35h0m4-38h0m5 32h0m4 21h0m4 0h0m4-36h0m4 49h0m4-63h0m4 53h0m4-27h0m4-23h0m5 17h0m4 24h0m4 3h0m4-6h0m4-36h0m4 3h0m4 15h0m4-3h0m4-6h0m4 9h0m4 9h0m5 0h0m4-9h0m4 9h0m4 28h0m4-55h0m4 15h0m4 3h0m4 15h0m4-24h0m5 3h0m4 15h0m4 15h0m4-47h0m4 26h0m4-15h0m4-8h0m4 32h0m4 0h0m4-38h0m4 29h0m5-15h0m4 18h0m4-9h0m4 0h0m4 9h0m4 21h0m4-36h0m4 21h0m4 3h0m5-3h0m4 18h0m4-30h0m4 34h0m4-10h0m4-18h0m4-6h0m4 15h0m4-41h0m4 11h0m4 21h0m5-18h0m4 18h0m4-15h0m4 27h0m4-6h0" stroke="#00C19A"/>
<path d="M3702 8927h0m4-46h0m4 56h0m4-10h0m4 31h0m4-59h0m5 9h0m4 29h0m4-19h0m4-10h0m4 0h0m4 50h0m4-40h0m4 9h0m4-9h0m5 51h0m4-21h0m4-11h0m4-73h0m4 73h0m4-10h0m4 10h0m4 32h0m4-32h0m4 0h0m4 11h0m5-49h0m4 70h0m4-11h0m4-50h0m4 19h0m4-19h0m4-18h0m4-17h0m4 8h0m5 18h0m4 19h0m4-10h0m4 10h0m4 0h0m4 9h0m4-9h0m4-19h0m4 38h0m4-38h0m4 28h0m5 0h0m4-46h0m4 37h0m4 40h0m4-21h0m4-47h0m4 0h0m4-9h0m4 56h0m5 11h0m4-11h0m4-10h0m4 0h0m4-19h0m4 72h0m4-32h0m4-11h0m4-29h0m4 29h0m4-38h0m5 38h0m4 32h0m4-61h0m4 10h0m4 30h0m4-49h0m4 28h0m4-9h0m4-19h0m5 19h0m4-37h0m4 9h0m4 58h0m4-58h0m4 28h0m4 19h0m4-56h0m4 37h0m4-10h0m4 0h0m5-18h0m4 90h0m4-32h0m4-30h0m4-19h0m4 19h0m4 0h0m4-10h0m4-18h0m5 58h0m4-58h0m4 79h0m4-51h0m4 19h0m4-81h0m4 102h0m4-77h0m4 18h0m4 49h0m4-67h0m5 46h0m4 0h0m4-19h0m4-9h0m4 81h0m4-53h0m4 10h0m4 32h0m4-61h0m5 10h0m4 0h0m4 30h0m4-67h0m4-8h0m4 45h0m4-37h0m4 37h0m4 0h0m4-10h0m4-35h0m5 8h0m4 88h0m4-61h0m4 0h0m4-44h0m4 26h0m4 18h0m4-9h0m4-9h0m5 47h0m4-64h0m4 35h0m4 40h0m4-100h0m4 79h0m4-19h0m4 10h0m4 30h0m4 0h0m4-40h0m5 50h0m4-85h0m4 75h0m4-30h0m4-45h0m4-9h0m4 54h0m4 19h0m4-64h0m5 54h0m4-37h0m4 47h0m4-19h0m4-28h0m4 28h0m4-28h0m4-9h0m4 18h0m4 49h0m4-58h0m5 9h0m4-43h0m4 92h0m4-40h0m4-18h0m4-9h0m4 37h0m4-37h0m4 46h0m5-28h0m4 38h0m4-47h0m4 28h0m4-28h0m4 18h0m4-27h0m4 27h0m4-35h0m4 45h0m4-37h0m5 77h0m4-40h0m4-10h0m4-18h0m4 37h0m4-9h0m4-10h0m4 10h0m4 0h0m5-19h0m4 38h0m4-73h0m4-8h0m4 43h0m4-43h0m4 52h0m4-9h0m4-18h0m4 46h0m4-9h0m5-28h0m4 0h0m4 28h0m4-19h0m4-18h0m4-33h0m4 70h0m4-28h0m4-17h0m5 0h0m4 35h0m4-18h0m4-26h0m4 44h0m4 19h0m4-19h0m4-9h0m4 38h0m4-81h0m4 62h0m5-37h0m4 37h0m4-28h0m4 0h0m4 18h0m4-18h0m4-9h0m4 46h0m4-9h0m5 9h0m4-9h0m4-10h0m4 0h0m4 0h0m4-27h0m4-33h0m4 51h0m4 28h0m4-9h0m4-62h0m5 0h0m4 8h0m4 54h0m4-19h0m4 0h0m4 0h0m4 0h0m4 19h0m4-62h0m5 52h0m4-9h0m4 19h0m4-19h0m4-43h0m4 71h0m4-46h0m4 27h0m4-9h0m4 9h0m4-35h0m5 8h0m4 46h0m4-71h0m4 8h0m4 17h0m4-17h0m4-24h0m4 59h0m4 38h0m5-38h0m4 19h0m4-28h0m4-9h0m4-8h0m4 17h0m4 0h0m4 18h0m4-27h0m4 0h0m4-8h0m5 35h0m4-44h0m4 73h0m4-89h0m4 79h0m4-37h0m4-42h0m4 51h0m4 19h0m5-37h0m4-25h0m4 52h0m4-18h0m4-34h0m4 0h0m4 0h0m4 25h0m4 0h0m4 9h0m4 9h0m5 28h0m4-46h0m4 37h0m4-19h0m4-51h0" stroke="#00BFC4"/>
<path d="M3210 8422h0m4 58h0m4 9h0m4-41h0m4 66h0m4-25h0m5-3h0m4 34h0m4-61h0m4 15h0m4 9h0m4-9h0m4 21h0m4-18h0m4 24h0m5-12h0m4 45h0m4-10h0m4-4h0m4 35h0m4-31h0m4 13h0m4 14h0m4-24h0m4 14h0m4-7h0m5 7h0m4-11h0m4 32h0m4-7h0m4-31h0m4 27h0m4-21h0m4-3h0m4 62h0m5-34h0m4 11h0m4-18h0m4 37h0m4 4h0m4-27h0m4 12h0m4 27h0m4-12h0m4 0h0m4 0h0m5-4h0m4 8h0m4 21h0m4 13h0m4 13h0m4-66h0m4 11h0m4 51h0m4-39h0m5 57h0m4-32h0m4-8h0m4 45h0m4 0h0m4-28h0m4 14h0m4 14h0m4-23h0m4 9h0m4-14h0m5 0h0m4 0h0m4 9h0m4 14h0m4-5h0m4-9h0m4 29h0m4-10h0m4 40h0m5-54h0m4 19h0m4 30h0m4-35h0m4 51h0m4-37h0m4-28h0m4 71h0m4-47h0m4 20h0m4 0h0m5-11h0m4 0h0m4 43h0m4 12h0m4-23h0m4 6h0m4-57h0m4 62h0m4-27h0m5 27h0m4-16h0m4-16h0m4-11h0m4 55h0m4 0h0m4-23h0m4 35h0m4-18h0m4 6h0m4-28h0m5 40h0m4-40h0m4-11h0m4 27h0m4-5h0m4 5h0m4 0h0m4-5h0m4 41h0m5-24h0m4 50h0m4-67h0m4-38h0m4 67h0m4-18h0m4-22h0m4 11h0m4 17h0m4-6h0m4-11h0m5 29h0m4 18h0m4-24h0m4-34h0m4 46h0m4-24h0m4 0h0m4 56h0m4 6h0m5-32h0m4-12h0m4-24h0m4 55h0m4-31h0m4 12h0m4-12h0m4 12h0m4 6h0m4 6h0m4-6h0m5-18h0m4 65h0m4-27h0m4-44h0m4-12h0m4 24h0m4-6h0m4-6h0m4 6h0m5 38h0m4-20h0m4 6h0m4-18h0m4 12h0m4 13h0m4 0h0m4-19h0m4 6h0m4-18h0m4 31h0m5-49h0m4 49h0m4 27h0m4-40h0m4 20h0m4-26h0m4 6h0m4-12h0m4 18h0m5 0h0m4-53h0m4 80h0m4-7h0m4-6h0m4-38h0m4-12h0m4 0h0m4 24h0m4 32h0m4 7h0m5-57h0m4 44h0m4-50h0m4-17h0m4 23h0m4-12h0m4 18h0m4 12h0m4 6h0m5 6h0m4-24h0m4-51h0m4 57h0m4-24h0m4 6h0m4 24h0m4-18h0m4-23h0m4-11h0m4 16h0m5 30h0m4 6h0m4-30h0m4-6h0m4 12h0m4-6h0m4-28h0m4 40h0m4-34h0m5-41h0m4 81h0m4-67h0m4 32h0m4-32h0m4 55h0m4-12h0m4-5h0m4-11h0m4 22h0m4-11h0m5-43h0m4 48h0m4-22h0m4-5h0m4-10h0m4 0h0m4 10h0m4 22h0m4-17h0m5-35h0m4-24h0m4 59h0m4-5h0m4-21h0m4-4h0m4 20h0m4 0h0m4-11h0m4-5h0m4 11h0m5 21h0m4-16h0m4 21h0m4-11h0m4-30h0m4 0h0m4 9h0m4 27h0m4-6h0m5-30h0m4-38h0m4 33h0m4 0h0m4-24h0m4-4h0m4-18h0m4 22h0m4-35h0m4 73h0m4-33h0m5 71h0m4-62h0m4-61h0m4 71h0m4-19h0m4 9h0m4 0h0m4 15h0m4-10h0m5-58h0m4 39h0m4 5h0m4-27h0m4-17h0m4 44h0m4-5h0m4 14h0m4-27h0m4 4h0m4-13h0m5 18h0m4-5h0m4 0h0m4 23h0m4-14h0m4-4h0m4-55h0m4 33h0m4 8h0m5 5h0m4-34h0m4 34h0m4-13h0m4 8h0m4-52h0m4 75h0m4-40h0m4 31h0m4-35h0m4-4h0m5 39h0m4-43h0m4 17h0m4-33h0m4 24h0m4-27h0m4 3h0m4 37h0m4-9h0m5-31h0m4 3h0m4-11h0m4 39h0m4-39h0m4 44h0m4-29h0m4 20h0m4-39h0m4 39h0m4-16h0m5-11h0m4 36h0m4-59h0m4 34h0m4 8h0m4 29h0m4-56h0m4 19h0m4-23h0m5 52h0m4-17h0m4-12h0m4-4h0m4 0h0m4 16h0m4 4h0m4-12h0m4 16h0m4-57h0m4 37h0m5-41h0m4 41h0m4-26h0m4 34h0m4 12h0m4-16h0m4-30h0m4 51h0m4 8h0m5-37h0m4 33h0m4-17h0m4-60h0m4 48h0m4-15h0m4-8h0m4 48h0m4-25h0m4-23h0m4 60h0m5-25h0m4-12h0m4 33h0m4-33h0m4 8h0m4-8h0m4 4h0m4 33h0m4-4h0m5 18h0m4-47h0m4 12h0m4-35h0m4 19h0m4-4h0m4 4h0m4 25h0m4-5h0m4-39h0m4 61h0m5-79h0m4 66h0m4-44h0m4 11h0m4-7h0m4 0h0m4 40h0m4-63h0m4 63h0m5-55h0m4 15h0m4-23h0m4 71h0m4-52h0m4 15h0m4-26h0m4 22h0m4 20h0m4 4h0m4-20h0m5 4h0m4-12h0m4-22h0m4 26h0m4 4h0m4-23h0m4 23h0m4-15h0m4-4h0m5 4h0m4 11h0m4 29h0m4-25h0m4 12h0m4-49h0m4 45h0m4-8h0m4-11h0m4 31h0m4 0h0m5-24h0m4 0h0m4 41h0m4-52h0m4-4h0" stroke="#00A9FF"/>
<path d="M3210 8443h0m4 77h0m4-69h0m4 6h0m4 44h0m4-21h0m5 21h0m4-24h0m4 37h0m4-16h0m4 6h0m4-9h0m4-15h0m4 6h0m4 28h0m5-25h0m4 22h0m4-16h0m4 16h0m4-31h0m4-9h0m4 33h0m4 3h0m4-18h0m4 66h0m4-25h0m5 4h0m4-14h0m4 0h0m4-3h0m4-46h0m4 3h0m4 33h0m4 37h0m4-27h0m5 10h0m4 7h0m4-10h0m4-13h0m4 0h0m4-4h0m4 10h0m4-19h0m4 0h0m4 26h0m4-7h0m5 24h0m4-40h0m4-9h0m4 28h0m4 4h0m4-20h0m4 10h0m4 16h0m4 21h0m5 0h0m4-3h0m4-31h0m4 20h0m4-20h0m4-6h0m4-25h0m4 34h0m4 24h0m4-33h0m4 26h0m5-36h0m4 26h0m4 47h0m4-23h0m4 4h0m4 11h0m4-7h0m4-29h0m4 14h0m5-37h0m4 59h0m4-39h0m4 17h0m4-43h0m4 73h0m4 3h0m4-18h0m4-22h0m4 0h0m4-3h0m5 32h0m4-15h0m4 30h0m4-61h0m4 57h0m4-18h0m4-15h0m4-20h0m4 42h0m5-4h0m4 15h0m4-29h0m4 22h0m4-22h0m4 18h0m4 8h0m4 15h0m4-12h0m4 4h0m4-11h0m5-8h0m4 15h0m4 4h0m4-4h0m4-18h0m4 11h0m4 40h0m4-36h0m4 3h0m5 50h0m4-34h0m4-34h0m4 51h0m4-21h0m4-12h0m4-11h0m4 52h0m4-29h0m4 4h0m4-42h0m5 19h0m4 44h0m4-17h0m4 17h0m4 8h0m4-33h0m4 21h0m4-17h0m4 34h0m5-68h0m4 55h0m4 8h0m4-33h0m4 47h0m4-18h0m4 0h0m4-13h0m4 5h0m4-25h0m4 51h0m5-9h0m4-38h0m4 33h0m4 23h0m4-40h0m4 54h0m4-32h0m4-17h0m4 8h0m5 27h0m4-31h0m4-4h0m4 49h0m4-23h0m4-22h0m4 13h0m4 27h0m4-5h0m4-18h0m4-17h0m5 31h0m4-9h0m4-26h0m4 30h0m4 19h0m4-19h0m4 29h0m4-5h0m4-24h0m5 33h0m4-28h0m4 19h0m4-42h0m4 47h0m4 15h0m4-44h0m4 33h0m4-51h0m4 37h0m4-14h0m5 24h0m4 0h0m4 0h0m4-20h0m4 15h0m4 25h0m4-5h0m4-39h0m4 33h0m5-9h0m4 15h0m4-11h0m4 11h0m4-39h0m4 54h0m4-45h0m4 35h0m4-35h0m4 30h0m4-62h0m5 23h0m4 28h0m4 5h0m4 11h0m4 21h0m4-32h0m4 11h0m4 10h0m4-50h0m5 50h0m4 17h0m4-43h0m4 16h0m4-16h0m4 37h0m4-51h0m4 0h0m4 62h0m4-5h0m4 5h0m5 18h0m4-61h0m4 16h0m4 33h0m4-28h0m4 11h0m4-32h0m4 32h0m4-21h0m5 38h0m4 0h0m4-17h0m4 0h0m4-5h0m4 5h0m4 23h0m4-69h0m4 35h0m4 22h0m4 6h0m5-22h0m4 28h0m4 18h0m4-35h0m4 35h0m4-24h0m4-22h0m4 0h0m4 22h0m5 6h0m4 6h0m4-40h0m4 40h0m4 44h0m4-26h0m4 12h0m4-12h0m4-41h0m4-17h0m4 52h0m5-12h0m4-6h0m4-17h0m4 5h0m4 42h0m4-6h0m4-30h0m4-11h0m4 29h0m5-18h0m4 42h0m4-42h0m4-11h0m4 23h0m4 0h0m4-6h0m4 12h0m4-6h0m4-34h0m4 40h0m5 18h0m4 0h0m4 13h0m4-7h0m4-18h0m4 12h0m4 20h0m4 0h0m4-26h0m5 39h0m4-33h0m4-6h0m4 0h0m4 26h0m4-7h0m4-19h0m4-12h0m4 31h0m4 27h0m4-46h0m5 32h0m4-26h0m4 20h0m4 0h0m4 34h0m4-54h0m4 13h0m4-13h0m4 40h0m5-14h0m4 28h0m4-34h0m4-44h0m4 64h0m4-7h0m4-20h0m4 13h0m4-38h0m4 52h0m4-46h0m5-12h0m4 12h0m4 32h0m4-13h0m4 13h0m4-13h0m4-25h0m4 6h0m4 32h0m5 21h0m4-34h0m4 20h0m4 0h0m4-7h0m4 21h0m4-34h0m4-31h0m4 65h0m4 0h0m4-21h0m5 21h0m4-14h0m4 0h0m4 21h0m4-21h0m4 0h0m4 7h0m4 0h0m4 14h0m5-41h0m4 13h0m4-20h0m4 0h0m4 56h0m4-15h0m4 15h0m4 0h0m4 7h0m4-75h0m4 60h0m5-48h0m4 71h0m4-8h0m4-49h0m4 49h0m4-22h0m4-7h0m4-20h0m4 6h0m5 7h0m4 44h0m4-44h0m4 36h0m4-22h0m4 0h0m4 15h0m4 39h0m4-24h0m4-30h0m4-7h0m5 45h0m4-65h0m4 57h0m4-15h0m4-29h0m4 44h0m4-64h0m4 27h0m4-7h0m5 44h0m4 0h0m4-23h0m4-21h0m4 29h0m4-8h0m4-28h0m4 36h0m4-22h0m4 7h0m4 30h0m5-44h0m4 14h0m4 22h0m4 0h0m4 24h0m4-8h0m4-31h0m4 56h0m4-48h0m5-15h0m4 46h0m4 17h0m4-70h0m4 14h0m4 23h0m4-44h0m4 21h0m4 73h0m4-94h0m4 29h0m5 7h0m4 16h0m4-8h0m4-15h0m4 0h0" stroke="#9590FF"/>
<path d="M3210 8918h0m4 85h0m4 25h0m4 13h0m4-25h0m4-68h0m5 10h0m4 70h0m4 27h0m4-39h0m4 12h0m4-12h0m4 25h0m4 14h0m4-97h0m5 34h0m4 49h0m4 0h0m4-49h0m4 36h0m4-12h0m4 12h0m4-59h0m4 59h0m4 13h0m4-114h0m5 42h0m4 23h0m4 0h0m4 36h0m4-12h0m4-89h0m4 65h0m4 77h0m4-89h0m5 23h0m4 38h0m4-72h0m4 163h0m4-140h0m4 63h0m4-107h0m4 44h0m4-102h0m4 165h0m4 0h0m5-14h0m4-49h0m4 0h0m4 0h0m4-93h0m4 59h0m4 111h0m4-213h0m4 92h0m5 55h0m4 0h0m4-23h0m4-72h0m4-68h0m4 163h0m4 25h0m4-36h0m4 63h0m4-27h0m4-59h0m5-42h0m4 89h0m4-68h0m4 55h0m4 0h0m4 25h0m4 71h0m4-151h0m4 55h0m5-76h0m4-37h0m4 79h0m4-11h0m4 111h0m4-213h0m4 213h0m4-53h0m4 53h0m4 15h0m4-104h0m5-43h0m4 43h0m4 61h0m4 0h0m4-61h0m4-43h0m4 79h0m4-89h0m4 172h0m5-107h0m4-23h0m4 23h0m4-55h0m4 91h0m4-70h0m4 22h0m4-53h0m4 65h0m4 77h0m4-41h0m5-25h0m4-66h0m4-73h0m4 128h0m4-65h0m4-19h0m4 95h0m4-23h0m4 48h0m5 27h0m4-118h0m4 104h0m4-13h0m4 27h0m4-118h0m4 55h0m4 36h0m4 27h0m4-14h0m4 28h0m5-14h0m4 29h0m4 31h0m4-112h0m4-11h0m4 49h0m4-13h0m4-59h0m4 72h0m5 91h0m4-152h0m4 104h0m4-126h0m4 58h0m4 12h0m4 71h0m4-30h0m4-41h0m4-36h0m4-23h0m5-11h0m4 45h0m4 66h0m4-77h0m4 123h0m4-135h0m4 61h0m4-13h0m4-12h0m5-47h0m4 47h0m4 12h0m4-12h0m4 68h0m4-115h0m4 11h0m4 0h0m4-90h0m4 138h0m4-36h0m5-44h0m4 68h0m4 39h0m4-14h0m4-49h0m4 77h0m4-28h0m4-72h0m4 100h0m5-142h0m4 53h0m4-72h0m4 176h0m4-92h0m4 92h0m4-81h0m4 25h0m4 0h0m4 13h0m4 0h0m5-13h0m4 27h0m4-52h0m4 0h0m4 146h0m4-121h0m4-25h0m4 129h0m4-104h0m5 27h0m4 29h0m4-92h0m4 0h0m4 140h0m4-33h0m4-181h0m4 181h0m4-71h0m4 104h0m4-33h0m5-30h0m4 98h0m4-151h0m4 25h0m4 14h0m4-27h0m4 56h0m4 0h0m4-92h0m5 77h0m4-41h0m4-36h0m4 175h0m4-52h0m4-60h0m4 14h0m4-14h0m4 29h0m4-81h0m4 66h0m5-66h0m4 38h0m4 14h0m4 14h0m4-28h0m4 74h0m4-16h0m4 0h0m4-15h0m5 15h0m4-44h0m4-14h0m4 0h0m4 28h0m4 15h0m4 65h0m4-121h0m4-25h0m4 66h0m4-53h0m5 53h0m4 15h0m4 0h0m4 31h0m4-46h0m4-14h0m4 60h0m4-31h0m4-68h0m5 83h0m4-107h0m4 63h0m4 94h0m4-50h0m4-71h0m4 13h0m4-13h0m4 56h0m4 15h0m4 0h0m5 0h0m4-119h0m4-22h0m4 70h0m4-25h0m4 112h0m4-46h0m4 15h0m4-15h0m5-100h0m4 100h0m4 30h0m4 33h0m4-116h0m4 25h0m4 14h0m4-52h0m4 13h0m4-13h0m4 146h0m5-108h0m4 43h0m4-29h0m4-39h0m4-68h0m4 55h0m4 164h0m4-68h0m4 16h0m5-31h0m4 15h0m4 16h0m4-60h0m4-27h0m4 56h0m4 0h0m4-68h0m4 53h0m4-89h0m4 0h0m5 89h0m4-77h0m4 36h0m4 121h0m4-65h0m4-15h0m4-28h0m4 91h0m4-91h0m5-38h0m4 112h0m4-46h0m4-66h0m4-34h0m4 115h0m4 31h0m4-123h0m4 77h0m4 0h0m4 63h0m5 0h0m4-48h0m4 83h0m4-35h0m4-140h0m4 11h0m4 66h0m4-14h0m4 60h0m5-87h0m4 87h0m4-112h0m4 13h0m4 83h0m4 50h0m4-108h0m4 14h0m4 131h0m4-183h0m4 81h0m5 83h0m4-209h0m4 191h0m4 57h0m4-203h0m4 81h0m4-15h0m4 63h0m4-48h0m5 102h0m4-117h0m4 46h0m4-16h0m4 16h0m4 0h0m4-46h0m4 46h0m4 52h0m4-18h0m4 79h0m5 22h0m4-181h0m4-28h0m4 234h0m4-89h0m4-19h0m4-52h0m4 71h0m4-87h0m5 107h0m4 69h0m4-143h0m4 35h0m4-35h0m4 17h0m4-94h0m4 131h0m4-19h0m4-18h0m4-65h0m5 122h0m4-57h0m4-34h0m4 0h0m4-16h0m4 129h0m4 22h0m4-135h0m4 52h0m5 19h0m4 0h0m4-19h0m4 39h0m4-57h0m4 0h0m4 101h0m4-83h0m4 19h0m4-71h0m4-16h0m5 87h0m4-37h0m4 37h0m4 114h0m4-114h0m4-19h0m4-18h0m4-17h0m4 74h0m5-57h0m4-17h0m4 118h0m4-101h0m4 57h0m4-20h0m4 0h0m4 89h0m4-108h0m4 191h0m4-130h0m5-113h0m4 91h0m4-178h0m4 158h0m4-54h0" stroke="#FF61CC"/>
<path d="M3210 8948h0m4 32h0m4-72h0m4 40h0m4 80h0m4-36h0m5-44h0m4-21h0m4 0h0m4 0h0m4 0h0m4-54h0m4 143h0m4-68h0m4 68h0m5-68h0m4 68h0m4-58h0m4 83h0m4-151h0m4 37h0m4-19h0m4 95h0m4-55h0m4 10h0m4 0h0m5 22h0m4 23h0m4-55h0m4 80h0m4-91h0m4 91h0m4-48h0m4-22h0m4-40h0m5 30h0m4 151h0m4-83h0m4 25h0m4-13h0m4 13h0m4 0h0m4 14h0m4 94h0m4-157h0m4 36h0m5 41h0m4-53h0m4-36h0m4 89h0m4-132h0m4 11h0m4 0h0m4-30h0m4 110h0m5-25h0m4 66h0m4-132h0m4 0h0m4 91h0m4-70h0m4 22h0m4-43h0m4-19h0m4 30h0m4 80h0m5 41h0m4-100h0m4 59h0m4 0h0m4 13h0m4-72h0m4 47h0m4 12h0m4-59h0m5 47h0m4 12h0m4-120h0m4 40h0m4 21h0m4-51h0m4 62h0m4-53h0m4 89h0m4-13h0m4-45h0m5 45h0m4-66h0m4-38h0m4 81h0m4-32h0m4-21h0m4 89h0m4 0h0m4-24h0m5 24h0m4-98h0m4 19h0m4 178h0m4-167h0m4 32h0m4-43h0m4 11h0m4-11h0m4 91h0m4-25h0m5 66h0m4-100h0m4 0h0m4 86h0m4-14h0m4-49h0m4-12h0m4 0h0m4-72h0m5 40h0m4 10h0m4 58h0m4 68h0m4-115h0m4 47h0m4 12h0m4-36h0m4-34h0m4 58h0m4-79h0m5 43h0m4-43h0m4 104h0m4-13h0m4-25h0m4 112h0m4-146h0m4 86h0m4-52h0m5 0h0m4 66h0m4 30h0m4 0h0m4-107h0m4-55h0m4 55h0m4-12h0m4 48h0m4-25h0m4 13h0m5-13h0m4-45h0m4-10h0m4-30h0m4 98h0m4-108h0m4 19h0m4 101h0m4-48h0m5 104h0m4-56h0m4-80h0m4 68h0m4-47h0m4-21h0m4 44h0m4-111h0m4 160h0m4-83h0m4-85h0m5 85h0m4 45h0m4 25h0m4 56h0m4-166h0m4 51h0m4 130h0m4-44h0m4 60h0m5-60h0m4 77h0m4-116h0m4-13h0m4-55h0m4 0h0m4 136h0m4-104h0m4 119h0m4-44h0m4-52h0m5 81h0m4 15h0m4 0h0m4-172h0m4 101h0m4-80h0m4-49h0m4 59h0m4 83h0m5-104h0m4 178h0m4-60h0m4 29h0m4-81h0m4 38h0m4 14h0m4-86h0m4 130h0m4-83h0m4 12h0m5 0h0m4 0h0m4-70h0m4-40h0m4 123h0m4 43h0m4 31h0m4-60h0m4 44h0m5-83h0m4-68h0m4 44h0m4 24h0m4 0h0m4 39h0m4-27h0m4 56h0m4-126h0m4 97h0m4-75h0m5 104h0m4-104h0m4 48h0m4 0h0m4 0h0m4-70h0m4 58h0m4 12h0m4-59h0m5 86h0m4-52h0m4-34h0m4 115h0m4 65h0m4-133h0m4-68h0m4-40h0m4 84h0m4 0h0m4 36h0m5-59h0m4-21h0m4 136h0m4-126h0m4 70h0m4-70h0m4 58h0m4 53h0m4-14h0m5-63h0m4-34h0m4 126h0m4-126h0m4 141h0m4 50h0m4-201h0m4 121h0m4-14h0m4-27h0m4-12h0m5 25h0m4-49h0m4 77h0m4-41h0m4-12h0m4-36h0m4 12h0m4 63h0m4 14h0m5-28h0m4-25h0m4-89h0m4 31h0m4 11h0m4 115h0m4-68h0m4-89h0m4 128h0m4-86h0m4 72h0m5 28h0m4-14h0m4-63h0m4 92h0m4 65h0m4-121h0m4 13h0m4 43h0m4-56h0m5-12h0m4 25h0m4-104h0m4 147h0m4-68h0m4 83h0m4-96h0m4 0h0m4 112h0m4-87h0m4 41h0m5-53h0m4 25h0m4 28h0m4 0h0m4 15h0m4-56h0m4 71h0m4-58h0m4 58h0m5 0h0m4-119h0m4 135h0m4-99h0m4 151h0m4-112h0m4-39h0m4-13h0m4 38h0m4-49h0m4 194h0m5-131h0m4 44h0m4 33h0m4-63h0m4-89h0m4 75h0m4 77h0m4-63h0m4-28h0m5-25h0m4-24h0m4 11h0m4 38h0m4-61h0m4 89h0m4-14h0m4-52h0m4 13h0m4 53h0m4 30h0m5-83h0m4 25h0m4 91h0m4-91h0m4 74h0m4-99h0m4 25h0m4 43h0m4-68h0m5-13h0m4 13h0m4 25h0m4 58h0m4-44h0m4 0h0m4 44h0m4-15h0m4-15h0m4 15h0m4-15h0m5-66h0m4 66h0m4 30h0m4-30h0m4 30h0m4-15h0m4 31h0m4-197h0m4 214h0m5-17h0m4-135h0m4 119h0m4-58h0m4-25h0m4 83h0m4-58h0m4 0h0m4-61h0m4 23h0m4 81h0m5-43h0m4 58h0m4-58h0m4 14h0m4 0h0m4-52h0m4 81h0m4 48h0m4-63h0m5-28h0m4-13h0m4 0h0m4-59h0m4 163h0m4-104h0m4 71h0m4-15h0m4 15h0m4-96h0m4 52h0m5 94h0m4-80h0m4-41h0m4 0h0m4 104h0m4-63h0m4 30h0m4 16h0m4 0h0m5-31h0m4 0h0m4 31h0m4 34h0m4-133h0m4 53h0m4 46h0m4 0h0m4-16h0m4-83h0m4 0h0m5-24h0m4 157h0m4-94h0m4 29h0m4 48h0" stroke="#F066EA"/>
<path d="M3210 8992h0m4 36h0m4-48h0m4-43h0m4 79h0m4-36h0m5 12h0m4-119h0m4 182h0m4-97h0m4-50h0m4 50h0m4 34h0m4-34h0m4-77h0m5 9h0m4 28h0m4 40h0m4 97h0m4-86h0m4-21h0m4 55h0m4-45h0m4 11h0m4-32h0m4-19h0m5 19h0m4 66h0m4 0h0m4-23h0m4 48h0m4-59h0m4-11h0m4 34h0m4 24h0m5-58h0m4 22h0m4 75h0m4 14h0m4-53h0m4-13h0m4 0h0m4 25h0m4 0h0m4-70h0m4 0h0m5 58h0m4 12h0m4-59h0m4 72h0m4 91h0m4-77h0m4 0h0m4-27h0m4 0h0m5-12h0m4-68h0m4 44h0m4 11h0m4 13h0m4 12h0m4-70h0m4 34h0m4-55h0m4 79h0m4-47h0m5 47h0m4 39h0m4-107h0m4-11h0m4 79h0m4 0h0m4-24h0m4 11h0m4-104h0m5 104h0m4 52h0m4-39h0m4-24h0m4-44h0m4 32h0m4-32h0m4 32h0m4-62h0m4 51h0m4-21h0m5-11h0m4 43h0m4 36h0m4-126h0m4 68h0m4 0h0m4 83h0m4 14h0m4-97h0m5-40h0m4 74h0m4 24h0m4 0h0m4-89h0m4-19h0m4 120h0m4-48h0m4-53h0m4 21h0m4 21h0m5-51h0m4 62h0m4 23h0m4-45h0m4 70h0m4-59h0m4 100h0m4-89h0m4-11h0m5 47h0m4 12h0m4-48h0m4-22h0m4 11h0m4 11h0m4 23h0m4-76h0m4-9h0m4 98h0m4-79h0m5 21h0m4 83h0m4-83h0m4 126h0m4-126h0m4-10h0m4 80h0m4 13h0m4-38h0m5 0h0m4 38h0m4 58h0m4-15h0m4-115h0m4 72h0m4 14h0m4-52h0m4 13h0m4 83h0m4-58h0m5-13h0m4-12h0m4 53h0m4-66h0m4-66h0m4 91h0m4 13h0m4-123h0m4 85h0m5 66h0m4 30h0m4-71h0m4 27h0m4-39h0m4 39h0m4 29h0m4-136h0m4 55h0m4-34h0m4 100h0m5-89h0m4 0h0m4 48h0m4-48h0m4 36h0m4-58h0m4 70h0m4-25h0m4 0h0m5 81h0m4 31h0m4-167h0m4 93h0m4 74h0m4-135h0m4 89h0m4-41h0m4-25h0m4-76h0m4 0h0m5 142h0m4-53h0m4-68h0m4 68h0m4-126h0m4 90h0m4 48h0m4 0h0m4-48h0m5-11h0m4 47h0m4-98h0m4 85h0m4-11h0m4-12h0m4-11h0m4 59h0m4-120h0m4 84h0m4 24h0m5-79h0m4 21h0m4 11h0m4 23h0m4 11h0m4-11h0m4 11h0m4 13h0m4 25h0m5 58h0m4-71h0m4-59h0m4 115h0m4-15h0m4 0h0m4-53h0m4 25h0m4-38h0m4 13h0m4 25h0m5 14h0m4 29h0m4-15h0m4-28h0m4 0h0m4 0h0m4 0h0m4-38h0m4 38h0m5 0h0m4 43h0m4 0h0m4 31h0m4-60h0m4 14h0m4-111h0m4 70h0m4 0h0m4 139h0m4-126h0m5 14h0m4-63h0m4 63h0m4-97h0m4 126h0m4-43h0m4-49h0m4 36h0m4 13h0m5-38h0m4 96h0m4 0h0m4-83h0m4 39h0m4 44h0m4 33h0m4-33h0m4 107h0m4-137h0m4 46h0m5 0h0m4-60h0m4 14h0m4-28h0m4 58h0m4 50h0m4-94h0m4 14h0m4 46h0m5 0h0m4-31h0m4 15h0m4 50h0m4-80h0m4 80h0m4-65h0m4-56h0m4 104h0m4-17h0m4-46h0m5 30h0m4-58h0m4 0h0m4-13h0m4 27h0m4-27h0m4 41h0m4 30h0m4-58h0m5-49h0m4 36h0m4-25h0m4 66h0m4-28h0m4-38h0m4-45h0m4 191h0m4-121h0m4 0h0m4 56h0m5-56h0m4 13h0m4 28h0m4 0h0m4-77h0m4 77h0m4-53h0m4-36h0m4 48h0m5 13h0m4 58h0m4-44h0m4-39h0m4 0h0m4 25h0m4 74h0m4-31h0m4-81h0m4 112h0m4-112h0m5 52h0m4-75h0m4 119h0m4 0h0m4-30h0m4 80h0m4-80h0m4 80h0m4 37h0m5-158h0m4 27h0m4 44h0m4 0h0m4 33h0m4-63h0m4 80h0m4-121h0m4-12h0m4 133h0m4 57h0m5-39h0m4-18h0m4-65h0m4 102h0m4-71h0m4 0h0m4 52h0m4-52h0m4-31h0m5-15h0m4 15h0m4-15h0m4 30h0m4 50h0m4 0h0m4-121h0m4 139h0m4-35h0m4 17h0m4-80h0m5 15h0m4 48h0m4 0h0m4-33h0m4 68h0m4-83h0m4 0h0m4 65h0m4-65h0m5 15h0m4 0h0m4 33h0m4-17h0m4-16h0m4 33h0m4-33h0m4-30h0m4 0h0m4 98h0m4-52h0m5-60h0m4 77h0m4-17h0m4-46h0m4 80h0m4-80h0m4 63h0m4 17h0m4-17h0m5-48h0m4 102h0m4-37h0m4-50h0m4 50h0m4 37h0m4-54h0m4 17h0m4 101h0m4-151h0m4 50h0m5 57h0m4-74h0m4 17h0m4-80h0m4 0h0m4-28h0m4 58h0m4 33h0m4-48h0m5 65h0m4 18h0m4-35h0m4-33h0m4 0h0m4 50h0m4 18h0m4 0h0m4-18h0m4 0h0m4 18h0m5-68h0m4 68h0m4-35h0m4 54h0m4-158h0" stroke="#FF61CC"/>
</g>
<rect x="314.2" y="686.8" width="190.9" height="38.7" fill="#fff" stroke="#000" stroke-width="3.1"/>
<text x="409.6" y="714" font-size="20" font-family='"Liberation Sans", sans-serif' text-anchor="middle" fill="#1a1a1a">Control</text>
<rect x="314.2" y="727.8" width="190.9" height="39.4" fill="#fff" stroke="#000" stroke-width="3.1"/>
<text x="409.6" y="755.4" font-size="20" font-family='"Liberation Sans", sans-serif' text-anchor="middle" fill="#1a1a1a">Y14F/Y14F</text>
<line x1="107.3" y1="767.3" x2="107.3" y2="986.6" stroke="#000" stroke-width="2.6" />
<line x1="100.2" y1="942.6" x2="106.5" y2="942.6" stroke="#333" stroke-width="2.5" />
<text x="96.6" y="949.9" font-size="20.4" font-family='"Liberation Sans", sans-serif' text-anchor="end" fill="#4d4d4d">10</text>
<line x1="100.2" y1="856.6" x2="106.5" y2="856.6" stroke="#333" stroke-width="2.5" />
<text x="96.6" y="863.9" font-size="20.4" font-family='"Liberation Sans", sans-serif' text-anchor="end" fill="#4d4d4d">100</text>
<line x1="100.2" y1="770.6" x2="106.5" y2="770.6" stroke="#333" stroke-width="2.5" />
<text x="96.6" y="777.9" font-size="20.4" font-family='"Liberation Sans", sans-serif' text-anchor="end" fill="#4d4d4d">1000</text>
<g transform="scale(.1)" stroke-width="29" stroke-linecap="round" stroke-opacity="0.9" fill="none">
<path d="M1150 11780h0m4-9h0m4 5h0m4 28h0m4-37h0m4 32h0m5-23h0m4 9h0m4-27h0m4 41h0m4-37h0m4 14h0m4-18h0m4 13h0m4 14h0m5-9h0m4-5h0m4 18h0m4-35h0m4 0h0m4 4h0m4 18h0m4-22h0m4 4h0m4-8h0m4 59h0m5-33h0m4 4h0m4-26h0m4 22h0m4 13h0m4-9h0m4 9h0m4-35h0m4 17h0m5 5h0m4-22h0m4 8h0m4-33h0m4 33h0m4 14h0m4-5h0m4 23h0m4-18h0m4-18h0m4 4h0m5-8h0m4 4h0m4 18h0m4 13h0m4-9h0m4-18h0m4-17h0m4-4h0m4 13h0m5 26h0m4-22h0m4 18h0m4 0h0m4-5h0m4 9h0m4-18h0m4 18h0m4-47h0m4 38h0m4 9h0m5-43h0m4 39h0m4-26h0m4 4h0m4 13h0m4-13h0m4 0h0m4 8h0m4 5h0m5-17h0m4 8h0m4 4h0m4 14h0m4-35h0m4-27h0m4 19h0m4 25h0m4-17h0m4 39h0m4-18h0m5 0h0m4 18h0m4-13h0m4-17h0m4-9h0m4 35h0m4-22h0m4 17h0m4-34h0m5-8h0m4 70h0m4-37h0m4-33h0m4 25h0m4-9h0m4-16h0m4 12h0m4 9h0m4-9h0m4-4h0m5 4h0m4 13h0m4 0h0m4 4h0m4 0h0m4-8h0m4 4h0m4-13h0m4 17h0m5 22h0m4-35h0m4-20h0m4 33h0m4 0h0m4-8h0m4 0h0m4 17h0m4-22h0m4 17h0m4 9h0m5 9h0m4-22h0m4 0h0m4-37h0m4 46h0m4-5h0m4-37h0m4 12h0m4-8h0m5 38h0m4-13h0m4 8h0m4 0h0m4 14h0m4-5h0m4-26h0m4 35h0m4-43h0m4-4h0m4 21h0m5-21h0m4 25h0m4 0h0m4-29h0m4-12h0m4 24h0m4 0h0m4-46h0m4 63h0m5 13h0m4-4h0m4-13h0m4 13h0m4-22h0m4 17h0m4-29h0m4-8h0m4 37h0m4-52h0m4 66h0m5-59h0m4 50h0m4 9h0m4-18h0m4-37h0m4 29h0m4-13h0m4-27h0m4 4h0m5 11h0m4 16h0m4 9h0m4-5h0m4 9h0m4-9h0m4 0h0m4 5h0m4 4h0m4-25h0m4 4h0m5 21h0m4-21h0m4 12h0m4-12h0m4-19h0m4-26h0m4 22h0m4 52h0m4-17h0m5 26h0m4-30h0m4-12h0m4 12h0m4-24h0m4 12h0m4 25h0m4-21h0m4 34h0m4-68h0m4 46h0m5 0h0m4-35h0m4 48h0m4-17h0m4 4h0m4-8h0m4 13h0m4 12h0m4 23h0m4-35h0m5-25h0m4-11h0m4 15h0m4-8h0m4 12h0m4 47h0m4-39h0m4-20h0m4 55h0m4-14h0m5-8h0m4-17h0m4-12h0m4 12h0m4 30h0m4 4h0m4-17h0m4 31h0m4 4h0m5-4h0m4-5h0m4-18h0m4-8h0m4-4h0m4-9h0m4 35h0m4 9h0m4-44h0m4 17h0m4-4h0m5 13h0m4 32h0m4-28h0m4-9h0m4-4h0m4 31h0m4-27h0m4-8h0m4 17h0m5-21h0m4 4h0m4 17h0m4-9h0m4 18h0m4 0h0m4 0h0m4 9h0m4-13h0m4 0h0m4 23h0m5-14h0m4 4h0m4-18h0m4 0h0m4 14h0m4 14h0m4-14h0m4 9h0m4-27h0m5 62h0m4-49h0m4 19h0m4-32h0m4 9h0m4 28h0m4-5h0m4-32h0m4 46h0m4-19h0m4-5h0m5 24h0m4-14h0m4-19h0m4 9h0m4-13h0m4 48h0m4-25h0m4-14h0m4 4h0m5 10h0m4-5h0m4 10h0m4 5h0m4-20h0m4 15h0m4 9h0m4-24h0m4 15h0m4-10h0m4 0h0m5 35h0m4 0h0m4-25h0m4 14h0m4-14h0m4-33h0m4 18h0m4 5h0m4 5h0m5-5h0m4 30h0m4-6h0m4 11h0m4 0h0m4-53h0m4 58h0m4-16h0m4 6h0m4-6h0m4-33h0m5 65h0m4-37h0m4 11h0m4-11h0m4-9h0m4 5h0m4 9h0m4 6h0m4-6h0m5 43h0m4-22h0m4-15h0m4 21h0m4-27h0m4 32h0m4-21h0m4 10h0m4 28h0m4-49h0m4 0h0m5-9h0m4 25h0m4 0h0m4 0h0m4-10h0m4 15h0m4 11h0m4-11h0m4 6h0m4-6h0m5-21h0m4 38h0m4-32h0m4 26h0m4-5h0m4-11h0m4 51h0m4-51h0m4 5h0m4-10h0m5-5h0m4 10h0m4 11h0m4 5h0m4 0h0m4-5h0m4 22h0m4-28h0m4 11h0m5 0h0m4-5h0m4 5h0m4 17h0m4-6h0m4 0h0m4 18h0m4-23h0m4 23h0m4-23h0m4-27h0m5 27h0m4 17h0m4-44h0m4 16h0m4 28h0m4-23h0m4 47h0m4-18h0m4-12h0m5 12h0m4 24h0m4-74h0m4 32h0m4-43h0m4 61h0m4-6h0m4 36h0m4-42h0m4 12h0m4 24h0m5-42h0m4 30h0m4 18h0m4-36h0m4 24h0m4-12h0m4 31h0m4-49h0m4 30h0m5-30h0m4-11h0m4 35h0m4-6h0m4 18h0m4-18h0m4 18h0m4-18h0m4-6h0m4 30h0m4 7h0m5-37h0m4 44h0m4-20h0m4-12h0m4-12h0" stroke="#F8766D"/>
<path d="M1150 11923h0m4-50h0m4-17h0m4-22h0m4 33h0m4-54h0m5 84h0m4-47h0m4 23h0m4 50h0m4-44h0m4-18h0m4-16h0m4 58h0m4-69h0m5 51h0m4-35h0m4 53h0m4-12h0m4-12h0m4 12h0m4-35h0m4 23h0m4-61h0m4 61h0m4-45h0m5 39h0m4-6h0m4-43h0m4 37h0m4 12h0m4-6h0m4-6h0m4 24h0m4-24h0m5 30h0m4-18h0m4-17h0m4 94h0m4-83h0m4 30h0m4-52h0m4 46h0m4-46h0m4 11h0m4 17h0m5 6h0m4 6h0m4-12h0m4 12h0m4-61h0m4 92h0m4-25h0m4 52h0m4-87h0m5 11h0m4 56h0m4-56h0m4 18h0m4 6h0m4-12h0m4-6h0m4 43h0m4-37h0m4 57h0m4-45h0m5-57h0m4 89h0m4-73h0m4 29h0m4-6h0m4-6h0m4 30h0m4 6h0m4-30h0m5 18h0m4 45h0m4-20h0m4-37h0m4-80h0m4 104h0m4-6h0m4-30h0m4 0h0m4 36h0m4-18h0m5 12h0m4-6h0m4-6h0m4 6h0m4 6h0m4-12h0m4-12h0m4 0h0m4-12h0m5 36h0m4 0h0m4 26h0m4 6h0m4-79h0m4 79h0m4-26h0m4 6h0m4 0h0m4-36h0m4 24h0m5 6h0m4-12h0m4 18h0m4 7h0m4-19h0m4 26h0m4-7h0m4-77h0m4 58h0m5 68h0m4-49h0m4-7h0m4 7h0m4 20h0m4-20h0m4 0h0m4 0h0m4 7h0m4-20h0m4-42h0m5 18h0m4 30h0m4-6h0m4 0h0m4 26h0m4-62h0m4 56h0m4-32h0m4 12h0m5-24h0m4 0h0m4 18h0m4 19h0m4-25h0m4 0h0m4-12h0m4 6h0m4 44h0m4-32h0m4 26h0m5-38h0m4-18h0m4 69h0m4-51h0m4 38h0m4 6h0m4-13h0m4-25h0m4 12h0m5 13h0m4-13h0m4 20h0m4-38h0m4 31h0m4-25h0m4 18h0m4-18h0m4 32h0m4-32h0m4 38h0m5-20h0m4 14h0m4-26h0m4 39h0m4 21h0m4-41h0m4 7h0m4 6h0m4-44h0m5 18h0m4-18h0m4 38h0m4 42h0m4-36h0m4 21h0m4-65h0m4 24h0m4-6h0m4 62h0m4-56h0m5 27h0m4 29h0m4-22h0m4 0h0m4-46h0m4 60h0m4 8h0m4-22h0m4 7h0m5-34h0m4 20h0m4-7h0m4 14h0m4-46h0m4-41h0m4 80h0m4-20h0m4 13h0m4-32h0m4 19h0m5 34h0m4-14h0m4-7h0m4 14h0m4 61h0m4-101h0m4 26h0m4 28h0m4 8h0m4-29h0m5-7h0m4 14h0m4-34h0m4 20h0m4 21h0m4-7h0m4 7h0m4 15h0m4-22h0m4 7h0m5 0h0m4-7h0m4-14h0m4 36h0m4-62h0m4 40h0m4-7h0m4 29h0m4-15h0m5 7h0m4-21h0m4 29h0m4-22h0m4 7h0m4-14h0m4 0h0m4 14h0m4 15h0m4 7h0m4-7h0m5-42h0m4 13h0m4 60h0m4-39h0m4-28h0m4 43h0m4 0h0m4-7h0m4-8h0m5-28h0m4 28h0m4-14h0m4 53h0m4-60h0m4 21h0m4-28h0m4 14h0m4 7h0m4 22h0m4 16h0m5 0h0m4-16h0m4-22h0m4-7h0m4 53h0m4-16h0m4-44h0m4 21h0m4-7h0m5 54h0m4-68h0m4 36h0m4 16h0m4-23h0m4 7h0m4 16h0m4 0h0m4 0h0m4 0h0m4-31h0m5 39h0m4-31h0m4 23h0m4-103h0m4 95h0m4-15h0m4 0h0m4 15h0m4-15h0m5 23h0m4-38h0m4 54h0m4-32h0m4 8h0m4-51h0m4 0h0m4 14h0m4 96h0m4-51h0m4-23h0m5 0h0m4-29h0m4 44h0m4 0h0m4 16h0m4 0h0m4 0h0m4-24h0m4 0h0m5-49h0m4 42h0m4 31h0m4-39h0m4 15h0m4-29h0m4 45h0m4 25h0m4-48h0m4 0h0m4 31h0m5-39h0m4 15h0m4 41h0m4-41h0m4 76h0m4-68h0m4-8h0m4 24h0m4 34h0m5-58h0m4 16h0m4-8h0m4-8h0m4 8h0m4 16h0m4 25h0m4 0h0m4-17h0m4-24h0m4-8h0m5 76h0m4-9h0m4-59h0m4-23h0m4 73h0m4-17h0m4-33h0m4 8h0m4 42h0m4-26h0m5 17h0m4-56h0m4 56h0m4-25h0m4 25h0m4-41h0m4 41h0m4-78h0m4 53h0m4 8h0m5-24h0m4-51h0m4 119h0m4-52h0m4-16h0m4 50h0m4-50h0m4-8h0m4-15h0m5 47h0m4-16h0m4-16h0m4 8h0m4 24h0m4-24h0m4-15h0m4 39h0m4-16h0m4 8h0m4 8h0m5 9h0m4-9h0m4 9h0m4-48h0m4 23h0m4-8h0m4 16h0m4 17h0m4-17h0m5 8h0m4 17h0m4-25h0m4 17h0m4-9h0m4 0h0m4 26h0m4 0h0m4-114h0m4 105h0m4-112h0m5 121h0m4-80h0m4 80h0m4 0h0m4-17h0m4 26h0m4-43h0m4-8h0m4 60h0m5-27h0m4-17h0m4-32h0m4-15h0m4 82h0m4-67h0m4 0h0m4 32h0m4 35h0m4-26h0m4-56h0m5 82h0m4-26h0m4-41h0m4 8h0m4 50h0" stroke="#7CAE00"/>
<path d="M1150 11972h0m4-56h0m4 34h0m4 0h0m4-34h0m4 0h0m5 34h0m4 22h0m4-49h0m4-14h0m4 63h0m4-81h0m4 45h0m4 36h0m4-36h0m5 14h0m4-14h0m4 0h0m4-20h0m4 27h0m4 53h0m4-46h0m4 0h0m4 30h0m4 24h0m4-101h0m5 77h0m4-51h0m4 14h0m4 7h0m4-21h0m4 43h0m4 41h0m4-63h0m4 54h0m5 26h0m4-65h0m4 56h0m4-49h0m4 76h0m4-9h0m4-35h0m4-61h0m4 22h0m4 39h0m4-16h0m5 60h0m4-68h0m4 8h0m4 42h0m4-9h0m4-78h0m4 45h0m4 0h0m4-8h0m5 41h0m4-49h0m4 32h0m4 9h0m4-9h0m4 35h0m4-89h0m4 98h0m4 10h0m4-45h0m4 0h0m5 96h0m4-105h0m4 17h0m4 0h0m4 77h0m4-68h0m4-17h0m4 0h0m4 26h0m5 9h0m4 0h0m4-98h0m4 54h0m4 152h0m4-89h0m4 42h0m4-21h0m4-11h0m4 21h0m4 0h0m5-59h0m4 49h0m4-75h0m4 45h0m4 0h0m4 9h0m4 42h0m4 11h0m4-81h0m5 59h0m4-50h0m4 84h0m4-23h0m4 11h0m4-22h0m4 34h0m4-23h0m4-11h0m4 34h0m4 0h0m5 0h0m4-12h0m4 0h0m4-22h0m4-50h0m4 40h0m4 0h0m4 55h0m4-23h0m5 12h0m4 0h0m4-55h0m4 32h0m4-51h0m4 74h0m4 0h0m4-12h0m4-32h0m4 68h0m4 53h0m5-53h0m4 53h0m4-100h0m4 11h0m4 48h0m4-12h0m4-13h0m4-11h0m4 49h0m5-49h0m4 0h0m4-12h0m4 23h0m4 0h0m4 25h0m4-70h0m4 45h0m4-23h0m4 0h0m4 119h0m5-130h0m4 34h0m4-23h0m4 48h0m4-36h0m4 123h0m4-87h0m4 13h0m4 0h0m5-25h0m4 68h0m4-15h0m4-41h0m4 27h0m4-27h0m4 13h0m4-38h0m4 13h0m4 12h0m4 0h0m5-12h0m4-47h0m4 23h0m4 0h0m4-55h0m4 55h0m4-34h0m4 11h0m4 23h0m5-12h0m4 12h0m4 0h0m4-12h0m4-43h0m4 43h0m4-22h0m4 0h0m4 11h0m4-21h0m4 10h0m5-31h0m4 21h0m4 10h0m4 11h0m4 0h0m4-79h0m4 9h0m4 0h0m4 59h0m5 0h0m4-31h0m4-28h0m4 93h0m4-23h0m4-32h0m4-47h0m4 68h0m4-10h0m4-40h0m4 0h0m5-44h0m4 26h0m4-42h0m4 51h0m4 38h0m4 0h0m4-38h0m4 38h0m4-73h0m4 44h0m5-35h0m4 0h0m4 8h0m4 56h0m4-73h0m4 9h0m4-9h0m4-24h0m4 8h0m4-16h0m5 76h0m4-68h0m4 33h0m4-33h0m4-15h0m4-29h0m4 60h0m4 17h0m4-41h0m5-15h0m4 8h0m4 7h0m4-43h0m4 28h0m4 39h0m4 34h0m4-65h0m4 23h0m4-8h0m4 16h0m5-39h0m4 31h0m4-38h0m4-7h0m4 53h0m4-67h0m4 84h0m4-33h0m4 8h0m5-23h0m4 23h0m4-23h0m4 23h0m4 16h0m4-32h0m4 76h0m4-68h0m4 50h0m4-9h0m4 46h0m5 10h0m4 32h0m4-21h0m4-58h0m4 0h0m4 58h0m4 10h0m4-31h0m4 31h0m5-31h0m4 31h0m4-10h0m4-21h0m4 42h0m4-61h0m4 50h0m4 0h0m4 45h0m4-66h0m4 32h0m5-11h0m4 22h0m4-43h0m4 91h0m4-59h0m4 0h0m4 0h0m4-11h0m4 11h0m5 0h0m4 34h0m4-55h0m4 21h0m4 11h0m4-11h0m4 59h0m4-48h0m4 75h0m4-75h0m4 48h0m5 13h0m4-13h0m4-25h0m4-34h0m4 59h0m4 27h0m4-14h0m4 14h0m4 14h0m5 0h0m4 30h0m4-15h0m4-29h0m4 14h0m4-14h0m4 29h0m4-29h0m4-39h0m4 25h0m4 0h0m5 43h0m4 15h0m4-30h0m4 15h0m4-29h0m4 60h0m4 0h0m4-60h0m4-14h0m5 28h0m4-14h0m4-14h0m4 126h0m4-83h0m4 31h0m4-16h0m4-44h0m4 0h0m4-14h0m4 58h0m5-15h0m4-29h0m4 44h0m4-30h0m4 63h0m4-17h0m4-46h0m4 0h0m4 46h0m4 0h0m5 34h0m4-50h0m4 50h0m4 37h0m4-37h0m4-17h0m4 74h0m4-20h0m4-19h0m4-52h0m5 17h0m4-48h0m4 102h0m4-37h0m4-17h0m4-17h0m4 34h0m4-34h0m4 0h0m5 34h0m4-34h0m4 34h0m4-65h0m4 31h0m4-31h0m4 15h0m4-15h0m4 31h0m4-31h0m4 0h0m5 83h0m4-35h0m4-17h0m4 34h0m4-17h0m4 0h0m4 74h0m4-57h0m4 57h0m5-39h0m4 0h0m4 0h0m4 19h0m4-37h0m4 18h0m4 19h0m4-54h0m4 0h0m4 17h0m4 37h0m5-102h0m4 31h0m4 52h0m4-18h0m4 18h0m4 0h0m4-35h0m4-17h0m4-16h0m5 0h0m4 0h0m4 0h0m4 33h0m4-33h0m4-15h0m4 48h0m4 17h0m4 18h0m4-18h0m4-17h0m5 17h0m4 0h0m4-50h0m4 50h0m4 18h0" stroke="#E58700"/>
<path d="M1150 12224h0m4-104h0m4 61h0m4 126h0m4-83h0m4 15h0m5-58h0m4 74h0m4-31h0m4 0h0m4-29h0m4-14h0m4-49h0m4 77h0m4-77h0m5-12h0m4-22h0m4 83h0m4-38h0m4 38h0m4 14h0m4-52h0m4-45h0m4 83h0m4 91h0m4-104h0m5-48h0m4 89h0m4 0h0m4 15h0m4-29h0m4 14h0m4 30h0m4-44h0m4-27h0m5-12h0m4 39h0m4 14h0m4-53h0m4 39h0m4 29h0m4 15h0m4-71h0m4 13h0m4 0h0m4 0h0m5 43h0m4-56h0m4-25h0m4 66h0m4 80h0m4-80h0m4 15h0m4 0h0m4 15h0m5-15h0m4-15h0m4-28h0m4 14h0m4 0h0m4 14h0m4 63h0m4-116h0m4 99h0m4-16h0m4-15h0m5 15h0m4-58h0m4-13h0m4 41h0m4 0h0m4 15h0m4-15h0m4 15h0m4 0h0m5-29h0m4 60h0m4-16h0m4-58h0m4 14h0m4 29h0m4-15h0m4 30h0m4 0h0m4 0h0m4-30h0m5 46h0m4-46h0m4 30h0m4 0h0m4-15h0m4 31h0m4 17h0m4 74h0m4-107h0m5-44h0m4-27h0m4 56h0m4-29h0m4 44h0m4-15h0m4 65h0m4-50h0m4 16h0m4-31h0m4 65h0m5-50h0m4 50h0m4-50h0m4-15h0m4-15h0m4 98h0m4-35h0m4 0h0m4-33h0m5 33h0m4-33h0m4 16h0m4-46h0m4 46h0m4 17h0m4-33h0m4 68h0m4-35h0m4 96h0m4-79h0m5 0h0m4 0h0m4 18h0m4-18h0m4-50h0m4 87h0m4-37h0m4-34h0m4 34h0m5 37h0m4-54h0m4 0h0m4 96h0m4-42h0m4-37h0m4 37h0m4 64h0m4-64h0m4 64h0m4-44h0m5 0h0m4 22h0m4 0h0m4-42h0m4 42h0m4-61h0m4 19h0m4 20h0m4 44h0m5 25h0m4-25h0m4 0h0m4-64h0m4-37h0m4 79h0m4-42h0m4 42h0m4-22h0m4-20h0m4 0h0m5 64h0m4-22h0m4-79h0m4 37h0m4-71h0m4 71h0m4-102h0m4 31h0m4 17h0m5 54h0m4-37h0m4 57h0m4-57h0m4 79h0m4-42h0m4-37h0m4 57h0m4-91h0m4 34h0m4 18h0m5 61h0m4-79h0m4 0h0m4 0h0m4 18h0m4-18h0m4 0h0m4 57h0m4-57h0m5-34h0m4 91h0m4-39h0m4-35h0m4 0h0m4 17h0m4 0h0m4 37h0m4-19h0m4-18h0m4 0h0m5 18h0m4 19h0m4 0h0m4-37h0m4 101h0m4-64h0m4-37h0m4 18h0m4 0h0m4 61h0m5-61h0m4 19h0m4-19h0m4-52h0m4 71h0m4 0h0m4-37h0m4 37h0m4-19h0m4-68h0m5 87h0m4-87h0m4 16h0m4 0h0m4 34h0m4 18h0m4 39h0m4-57h0m4 79h0m5-22h0m4-74h0m4 35h0m4 83h0m4-101h0m4 18h0m4 0h0m4-35h0m4 35h0m4-18h0m4 18h0m5-18h0m4 37h0m4 64h0m4-83h0m4 19h0m4 42h0m4-22h0m4-20h0m4-19h0m5 39h0m4-39h0m4 0h0m4 19h0m4 42h0m4-42h0m4-19h0m4 39h0m4-57h0m4 37h0m4 42h0m5-42h0m4 20h0m4 22h0m4-61h0m4-18h0m4 18h0m4 0h0m4-35h0m4 17h0m5-65h0m4 65h0m4 37h0m4 20h0m4-74h0m4 17h0m4 0h0m4 0h0m4 18h0m4 39h0m4 22h0m5-42h0m4 0h0m4-19h0m4 39h0m4 0h0m4-20h0m4-54h0m4 0h0m4 54h0m5 0h0m4 0h0m4 64h0m4-64h0m4-19h0m4 19h0m4-19h0m4 39h0m4-57h0m4 18h0m4 0h0m5 0h0m4 39h0m4-57h0m4-17h0m4 96h0m4 0h0m4 0h0m4-42h0m4-19h0m5 39h0m4-20h0m4-54h0m4 0h0m4 35h0m4 39h0m4 69h0m4-47h0m4-22h0m4 22h0m4 22h0m5 25h0m4-69h0m4 22h0m4 0h0m4-96h0m4 96h0m4 0h0m4-79h0m4 18h0m5 61h0m4-22h0m4 44h0m4-101h0m4 79h0m4-22h0m4 44h0m4 0h0m4-64h0m4 0h0m4-37h0m5 18h0m4-18h0m4 18h0m4 19h0m4-87h0m4 50h0m4 0h0m4 57h0m4-20h0m4 42h0m5-79h0m4 57h0m4 44h0m4-44h0m4 22h0m4-22h0m4 44h0m4-83h0m4 61h0m4-61h0m5 161h0m4-142h0m4 64h0m4 25h0m4-108h0m4 19h0m4-19h0m4 83h0m4 25h0m5-126h0m4 79h0m4 0h0m4-22h0m4 0h0m4 22h0m4 0h0m4-42h0m4 20h0m4 0h0m4 0h0m5 0h0m4 0h0m4 0h0m4 22h0m4 0h0m4-42h0m4 42h0m4 0h0m4 47h0m5-69h0m4-20h0m4 0h0m4 20h0m4-39h0m4 19h0m4 0h0m4 64h0m4-22h0m4-22h0m4 0h0m5 0h0m4 22h0m4 22h0m4-101h0m4-34h0m4 52h0m4 19h0m4 0h0m4 0h0m5 0h0m4-37h0m4 37h0m4 0h0m4-54h0m4 96h0m4-61h0m4 0h0m4-35h0m4 74h0m4-39h0m5-18h0m4 37h0m4-54h0m4 0h0m4 0h0" stroke="#B79F00"/>
<path d="M1150 11891h0m4 0h0m4 59h0m4-27h0m4 20h0m4-34h0m5 20h0m4 0h0m4 14h0m4 14h0m4-78h0m4 6h0m4 18h0m4 13h0m4-43h0m5 0h0m4 0h0m4 0h0m4 0h0m4 36h0m4 20h0m4 28h0m4-34h0m4-89h0m4 82h0m4-7h0m5-53h0m4 11h0m4-11h0m4 17h0m4 56h0m4-13h0m4 56h0m4-36h0m4 21h0m5-66h0m4 89h0m4-44h0m4-13h0m4-14h0m4-30h0m4 18h0m4-88h0m4 107h0m4 20h0m4-13h0m5-14h0m4-6h0m4-12h0m4 66h0m4-41h0m4 64h0m4-77h0m4-30h0m4 63h0m5-20h0m4 56h0m4-29h0m4 37h0m4-37h0m4 7h0m4 30h0m4-37h0m4 14h0m4-54h0m4 54h0m5 31h0m4 0h0m4 25h0m4-33h0m4-15h0m4 39h0m4 0h0m4-61h0m4 22h0m5-8h0m4-14h0m4-14h0m4 92h0m4-25h0m4 25h0m4-64h0m4 47h0m4-16h0m4 8h0m4 0h0m5-46h0m4-7h0m4 87h0m4-26h0m4 17h0m4 0h0m4-25h0m4 71h0m4-63h0m5-16h0m4-8h0m4 50h0m4 9h0m4-26h0m4 8h0m4 27h0m4-27h0m4 18h0m4-26h0m4 64h0m5-97h0m4 59h0m4-35h0m4-8h0m4 25h0m4-8h0m4 0h0m4 0h0m4 17h0m5 0h0m4-17h0m4 17h0m4 28h0m4-19h0m4 9h0m4-9h0m4 59h0m4-50h0m4-18h0m4 18h0m5-18h0m4 28h0m4 0h0m4-37h0m4 46h0m4-19h0m4 0h0m4-52h0m4 8h0m5 0h0m4 44h0m4-27h0m4 27h0m4 10h0m4-45h0m4 17h0m4-107h0m4 49h0m4 41h0m4 17h0m5 47h0m4-29h0m4-35h0m4 8h0m4 9h0m4 9h0m4 0h0m4 38h0m4-64h0m5 26h0m4 0h0m4-26h0m4 17h0m4 37h0m4-9h0m4 0h0m4 9h0m4 10h0m4-64h0m4 64h0m5-56h0m4 46h0m4 0h0m4-28h0m4 38h0m4-47h0m4 9h0m4-9h0m4-17h0m5 64h0m4 11h0m4-30h0m4 51h0m4-51h0m4 9h0m4 0h0m4 10h0m4 66h0m4-34h0m4-42h0m5-28h0m4 49h0m4 32h0m4-11h0m4-42h0m4 10h0m4 55h0m4-44h0m4 0h0m5-49h0m4 28h0m4 10h0m4-19h0m4 40h0m4-31h0m4-46h0m4 56h0m4 43h0m4-62h0m4 51h0m5-42h0m4-28h0m4 9h0m4 40h0m4-58h0m4 68h0m4-31h0m4 0h0m4 10h0m4-38h0m5 49h0m4-84h0m4 35h0m4 38h0m4-19h0m4-28h0m4-34h0m4 71h0m4 10h0m4 11h0m5-49h0m4-67h0m4 41h0m4 35h0m4-27h0m4-8h0m4 26h0m4-35h0m4-8h0m5 0h0m4 25h0m4 18h0m4-43h0m4 25h0m4 37h0m4 19h0m4-47h0m4 37h0m4-46h0m4 46h0m5 65h0m4-65h0m4-9h0m4 0h0m4 51h0m4 11h0m4-53h0m4 21h0m4-11h0m5-19h0m4 30h0m4 10h0m4-21h0m4-10h0m4 21h0m4-21h0m4-71h0m4 34h0m4 28h0m4-54h0m5 35h0m4 19h0m4 40h0m4-21h0m4 0h0m4 0h0m4 21h0m4-40h0m4-19h0m5 81h0m4-53h0m4-37h0m4-9h0m4 0h0m4-17h0m4 35h0m4 9h0m4 19h0m4-63h0m4 17h0m5 56h0m4-29h0m4-35h0m4 45h0m4-45h0m4-41h0m4 67h0m4 28h0m4-28h0m5-9h0m4-9h0m4-17h0m4 54h0m4-28h0m4-34h0m4 8h0m4 9h0m4 0h0m4-17h0m4 8h0m5 73h0m4-47h0m4 28h0m4-10h0m4 10h0m4-10h0m4 29h0m4-47h0m4 0h0m5 47h0m4-38h0m4-35h0m4 105h0m4-96h0m4-9h0m4-8h0m4 71h0m4-28h0m4-9h0m4 28h0m5-19h0m4 28h0m4-102h0m4 56h0m4-8h0m4 17h0m4-9h0m4 27h0m4-52h0m5 62h0m4-45h0m4 35h0m4 0h0m4-18h0m4 0h0m4 0h0m4-34h0m4 52h0m4-27h0m4 27h0m5-9h0m4-18h0m4 9h0m4 37h0m4-46h0m4 0h0m4 46h0m4-54h0m4 0h0m4 35h0m5-9h0m4-35h0m4 35h0m4-9h0m4 28h0m4 19h0m4-29h0m4 10h0m4-62h0m4-16h0m5 59h0m4-26h0m4 17h0m4-26h0m4 44h0m4-9h0m4-9h0m4 58h0m4-49h0m5 28h0m4 42h0m4-88h0m4-33h0m4 89h0m4-10h0m4 10h0m4-10h0m4 10h0m4 11h0m4-21h0m5 0h0m4 42h0m4-51h0m4 40h0m4-31h0m4 21h0m4-58h0m4-26h0m4 94h0m5-68h0m4 0h0m4-26h0m4 44h0m4-18h0m4 28h0m4-19h0m4 19h0m4-10h0m4 0h0m4 50h0m5-50h0m4 29h0m4-81h0m4 92h0m4-21h0m4 31h0m4-50h0m4 10h0m4-28h0m5 9h0m4-9h0m4-34h0m4 52h0m4-35h0m4 64h0m4-10h0m4-9h0m4-37h0m4 37h0m4 9h0m5-71h0m4 52h0m4-27h0m4 18h0m4 0h0" stroke="#E58700"/>
<path d="M1150 12030h0m4-73h0m4 73h0m4-26h0m4-8h0m4 43h0m5-74h0m4 56h0m4-8h0m4 35h0m4-18h0m4 58h0m4-75h0m4 26h0m4 9h0m5 19h0m4-46h0m4-8h0m4 35h0m4 50h0m4-40h0m4 30h0m4-30h0m4-28h0m4 28h0m4 9h0m5 0h0m4 10h0m4-29h0m4-35h0m4 64h0m4 21h0m4 34h0m4-44h0m4 32h0m5-22h0m4-10h0m4-30h0m4 51h0m4-70h0m4 81h0m4-53h0m4-19h0m4 40h0m4-40h0m4 19h0m5 31h0m4-10h0m4 32h0m4-22h0m4-10h0m4 0h0m4 32h0m4 23h0m4-34h0m5-105h0m4 63h0m4 10h0m4-10h0m4 21h0m4 55h0m4-45h0m4 22h0m4 12h0m4 0h0m4 11h0m5 25h0m4 13h0m4 0h0m4-49h0m4-23h0m4 34h0m4-23h0m4 48h0m4-120h0m5 133h0m4-72h0m4 11h0m4-43h0m4 43h0m4-22h0m4 83h0m4-49h0m4 36h0m4-59h0m4 72h0m5-25h0m4 0h0m4-13h0m4 13h0m4 39h0m4-14h0m4-13h0m4-25h0m4 38h0m5-13h0m4-25h0m4 66h0m4-66h0m4 66h0m4-53h0m4 0h0m4-13h0m4-11h0m4 36h0m4-12h0m5 12h0m4 41h0m4-53h0m4 39h0m4 14h0m4-28h0m4-61h0m4 61h0m4 14h0m5 14h0m4 0h0m4 15h0m4-15h0m4 15h0m4 31h0m4 17h0m4-63h0m4-28h0m4 28h0m4-41h0m5 27h0m4 29h0m4-15h0m4-14h0m4 29h0m4-15h0m4 0h0m4 30h0m4-30h0m5 15h0m4-15h0m4-14h0m4 0h0m4-14h0m4 14h0m4-14h0m4-13h0m4 121h0m4-50h0m4 50h0m5-34h0m4-16h0m4 33h0m4-17h0m4 0h0m4 0h0m4 17h0m4 0h0m4-48h0m5 15h0m4-15h0m4 31h0m4-46h0m4 30h0m4-44h0m4 29h0m4 65h0m4-17h0m4-17h0m4-74h0m5 108h0m4-34h0m4-16h0m4 16h0m4-16h0m4-15h0m4 31h0m4 0h0m4 0h0m5-16h0m4 0h0m4 0h0m4 87h0m4-54h0m4-33h0m4-15h0m4 83h0m4-18h0m4-65h0m4-15h0m5 30h0m4 68h0m4-126h0m4 58h0m4 16h0m4 34h0m4 18h0m4-35h0m4 35h0m5-35h0m4-17h0m4-31h0m4 48h0m4-33h0m4 0h0m4 50h0m4 0h0m4-50h0m4 50h0m4 0h0m5-65h0m4 0h0m4 48h0m4 0h0m4-17h0m4 34h0m4 0h0m4 0h0m4 0h0m4 18h0m5-18h0m4 0h0m4-17h0m4 17h0m4-34h0m4-60h0m4 94h0m4-34h0m4 52h0m4 0h0m5-52h0m4-16h0m4 68h0m4-35h0m4-33h0m4 16h0m4-16h0m4 33h0m4-17h0m5 17h0m4 35h0m4-98h0m4 30h0m4-30h0m4 30h0m4 50h0m4-50h0m4 0h0m4 0h0m4 16h0m5 34h0m4-17h0m4-33h0m4 0h0m4 33h0m4-63h0m4 80h0m4-34h0m4-16h0m5 0h0m4 33h0m4-48h0m4 65h0m4 37h0m4-71h0m4 0h0m4 34h0m4-50h0m4 87h0m4-102h0m5 65h0m4-17h0m4-17h0m4 17h0m4 0h0m4-33h0m4-58h0m4 14h0m4-27h0m5-70h0m4 22h0m4-32h0m4-40h0m4-9h0m4-9h0m4 37h0m4-54h0m4 8h0m4-8h0m4-9h0m5 17h0m4 46h0m4 0h0m4-28h0m4 0h0m4-9h0m4-17h0m4 45h0m4-108h0m5 38h0m4 33h0m4-8h0m4 8h0m4-33h0m4 25h0m4-17h0m4-39h0m4 82h0m4 9h0m4 19h0m5-63h0m4-47h0m4 39h0m4 17h0m4 26h0m4-35h0m4-8h0m4 0h0m4 0h0m5-8h0m4 8h0m4-8h0m4 25h0m4-41h0m4 76h0m4-60h0m4 33h0m4 9h0m4 0h0m4 0h0m5-34h0m4 43h0m4-43h0m4-8h0m4 16h0m4-8h0m4-8h0m4-8h0m4 16h0m5 17h0m4 8h0m4-49h0m4-36h0m4 21h0m4-48h0m4 41h0m4 7h0m4-28h0m4 36h0m4 7h0m5 32h0m4-24h0m4-15h0m4 31h0m4-53h0m4-20h0m4 49h0m4 8h0m4-37h0m4 14h0m5 8h0m4-8h0m4 64h0m4-71h0m4 15h0m4 48h0m4 8h0m4-8h0m4-33h0m4 8h0m5-31h0m4 56h0m4-9h0m4 0h0m4-54h0m4 30h0m4 68h0m4 10h0m4 9h0m5-37h0m4 18h0m4 10h0m4 0h0m4-28h0m4-9h0m4 56h0m4-56h0m4 18h0m4-18h0m4 27h0m5 29h0m4-47h0m4 47h0m4-56h0m4 37h0m4 19h0m4-81h0m4 81h0m4-47h0m5 9h0m4 9h0m4-35h0m4 35h0m4 0h0m4-52h0m4 34h0m4-42h0m4 16h0m4 0h0m4-8h0m5 43h0m4-59h0m4 24h0m4-8h0m4 0h0m4 0h0m4 34h0m4 0h0m4-26h0m5 54h0m4 30h0m4-11h0m4-64h0m4 17h0m4 9h0m4 9h0m4 40h0m4-58h0m4 9h0m4-35h0m5 44h0m4 19h0m4-28h0m4-59h0m4 78h0" stroke="#00BA38"/>
</g>
<circle cx="182.6" cy="1275.6" r="1.3" fill="#B79F00"/>
<rect x="108.1" y="1001.1" width="190.3" height="38.7" fill="#fff" stroke="#000" stroke-width="3.1"/>
<text x="203.3" y="1028.4" font-size="20" font-family='"Liberation Sans", sans-serif' text-anchor="middle" fill="#1a1a1a">Oleate</text>
<rect x="108.1" y="1042.1" width="190.3" height="38.3" fill="#fff" stroke="#000" stroke-width="3.1"/>
<text x="203.3" y="1069.2" font-size="20" font-family='"Liberation Sans", sans-serif' text-anchor="middle" fill="#1a1a1a">+/+</text>
<line x1="106" y1="1301" x2="300" y2="1301" stroke="#000" stroke-width="2.6" />
<line x1="115" y1="1302" x2="115" y2="1308.2" stroke="#333" stroke-width="2.5" />
<text x="115" y="1332" font-size="20" font-family='"Liberation Sans", sans-serif' text-anchor="middle" fill="#4d4d4d">0</text>
<line x1="156.1" y1="1302" x2="156.1" y2="1308.2" stroke="#333" stroke-width="2.5" />
<text x="156.1" y="1332" font-size="20" font-family='"Liberation Sans", sans-serif' text-anchor="middle" fill="#4d4d4d">100</text>
<line x1="197.2" y1="1302" x2="197.2" y2="1308.2" stroke="#333" stroke-width="2.5" />
<text x="197.2" y="1332" font-size="20" font-family='"Liberation Sans", sans-serif' text-anchor="middle" fill="#4d4d4d">200</text>
<line x1="238.3" y1="1302" x2="238.3" y2="1308.2" stroke="#333" stroke-width="2.5" />
<text x="238.3" y="1332" font-size="20" font-family='"Liberation Sans", sans-serif' text-anchor="middle" fill="#4d4d4d">300</text>
<line x1="279.4" y1="1302" x2="279.4" y2="1308.2" stroke="#333" stroke-width="2.5" />
<text x="279.4" y="1332" font-size="20" font-family='"Liberation Sans", sans-serif' text-anchor="middle" fill="#4d4d4d">400</text>
<g transform="scale(.1)" stroke-width="29" stroke-linecap="round" stroke-opacity="0.9" fill="none">
<path d="M3210 12021h0m4-64h0m4-41h0m4 49h0m4 65h0m4-42h0m5-31h0m4 15h0m4-69h0m4 26h0m4 92h0m4-41h0m4-44h0m4 94h0m4-127h0m5 118h0m4-92h0m4 21h0m4 0h0m4 46h0m4-53h0m4 14h0m4 39h0m4 8h0m4-39h0m4-15h0m5 7h0m4 47h0m4 26h0m4 37h0m4-54h0m4-70h0m4 61h0m4-8h0m4 136h0m5-74h0m4-37h0m4-8h0m4 8h0m4-92h0m4 110h0m4-51h0m4 51h0m4 9h0m4-68h0m4 33h0m5-41h0m4-22h0m4 54h0m4-8h0m4 52h0m4-76h0m4-22h0m4 98h0m4-52h0m5 62h0m4-62h0m4-8h0m4-8h0m4 59h0m4-59h0m4-8h0m4 0h0m4 8h0m4 16h0m4 34h0m5 58h0m4-100h0m4 100h0m4-67h0m4-33h0m4 8h0m4-24h0m4 67h0m4-26h0m5-41h0m4 58h0m4 37h0m4-37h0m4-9h0m4 46h0m4-151h0m4 123h0m4-82h0m4 8h0m4-8h0m5 31h0m4-8h0m4 33h0m4-25h0m4 70h0m4-28h0m4 28h0m4-62h0m4 0h0m5 25h0m4 37h0m4 19h0m4-64h0m4 45h0m4-28h0m4 9h0m4-18h0m4-25h0m4 52h0m4-27h0m5 56h0m4 79h0m4-108h0m4-18h0m4-65h0m4 167h0m4-111h0m4 27h0m4-52h0m5 62h0m4-45h0m4 26h0m4-9h0m4 18h0m4-18h0m4 58h0m4-75h0m4-9h0m4 73h0m4-10h0m5 0h0m4-9h0m4 19h0m4 32h0m4-11h0m4-21h0m4 66h0m4-23h0m4-62h0m5 19h0m4-10h0m4 21h0m4 0h0m4 68h0m4-108h0m4 50h0m4-10h0m4-21h0m4-46h0m4 67h0m5-11h0m4 11h0m4 0h0m4-21h0m4 31h0m4-40h0m4 62h0m4-62h0m4 30h0m5-21h0m4 65h0m4-23h0m4-21h0m4 32h0m4 0h0m4 23h0m4-113h0m4 79h0m4 11h0m4-11h0m5 0h0m4-32h0m4-19h0m4 98h0m4-24h0m4-12h0m4-43h0m4 79h0m4-47h0m5 0h0m4 34h0m4-34h0m4 34h0m4-55h0m4 44h0m4-23h0m4-51h0m4 110h0m4-59h0m4 34h0m5-11h0m4 24h0m4-79h0m4 104h0m4-123h0m4 40h0m4 70h0m4-12h0m4-36h0m5 23h0m4 25h0m4-36h0m4 77h0m4-77h0m4-34h0m4 58h0m4 53h0m4-53h0m4 25h0m4 14h0m5 14h0m4 0h0m4-14h0m4-86h0m4 11h0m4 61h0m4-25h0m4 0h0m4 68h0m5-81h0m4 52h0m4-63h0m4 36h0m4 41h0m4 0h0m4-28h0m4 28h0m4 15h0m4-29h0m4-14h0m5 0h0m4 0h0m4-13h0m4 56h0m4-56h0m4 13h0m4-38h0m4 81h0m4-15h0m5-28h0m4 0h0m4-25h0m4 68h0m4-29h0m4 14h0m4 63h0m4-33h0m4-44h0m4 0h0m4-14h0m5 28h0m4 30h0m4-15h0m4-29h0m4 44h0m4-96h0m4 66h0m4 0h0m4 30h0m5-15h0m4-43h0m4 58h0m4-15h0m4-15h0m4 0h0m4 15h0m4 31h0m4-60h0m4 29h0m4 15h0m5-30h0m4 0h0m4-53h0m4 25h0m4-25h0m4 116h0m4-17h0m4 17h0m4-33h0m5 68h0m4-98h0m4 46h0m4 52h0m4-35h0m4-33h0m4-30h0m4 15h0m4 15h0m4-30h0m4-28h0m5 108h0m4-80h0m4 98h0m4-68h0m4 0h0m4-15h0m4 65h0m4-17h0m4-17h0m5 34h0m4 37h0m4-71h0m4 71h0m4-71h0m4-16h0m4 33h0m4 35h0m4-18h0m4 0h0m4-17h0m5-17h0m4 0h0m4-16h0m4 68h0m4-52h0m4 91h0m4-107h0m4 33h0m4-33h0m5 87h0m4-54h0m4-17h0m4 17h0m4 0h0m4 35h0m4-18h0m4 18h0m4 61h0m4-144h0m4 83h0m5 39h0m4-57h0m4 18h0m4-18h0m4 0h0m4 0h0m4 57h0m4 0h0m4-20h0m5-19h0m4 108h0m4-126h0m4 0h0m4 37h0m4 0h0m4 64h0m4 25h0m4-89h0m4 64h0m4-83h0m5 19h0m4 64h0m4-64h0m4 20h0m4 0h0m4 44h0m4-101h0m4 18h0m4 108h0m5-69h0m4 44h0m4-64h0m4 42h0m4 100h0m4-142h0m4 64h0m4-44h0m4 44h0m4 0h0m4-44h0m5 69h0m4-108h0m4 61h0m4-61h0m4 83h0m4 25h0m4 0h0m4 25h0m4-25h0m5-69h0m4-20h0m4 64h0m4 78h0m4-53h0m4-47h0m4 47h0m4-25h0m4 50h0m4-72h0m4 47h0m5-25h0m4 0h0m4 0h0m4 50h0m4 0h0m4-72h0m4 72h0m4-72h0m4 22h0m5 50h0m4 28h0m4 0h0m4 30h0m4-83h0m4 25h0m4 0h0m4-50h0m4 50h0m4-25h0m4 0h0m5 83h0m4-58h0m4 28h0m4-28h0m4-25h0m4 25h0m4-25h0m4 25h0m4 58h0m5-58h0m4 28h0m4 0h0m4 0h0m4 0h0m4 0h0m4 62h0m4-115h0m4 83h0m4-30h0m4 62h0m5-62h0m4-28h0m4 28h0m4 62h0m4-62h0" stroke="#00B8E7"/>
<path d="M3210 11789h0m4-22h0m4 62h0m4-11h0m4 61h0m4-18h0m5-62h0m4 35h0m4-35h0m4 40h0m4-10h0m4-35h0m4 19h0m4 21h0m4-5h0m5-16h0m4 5h0m4-29h0m4 0h0m4 5h0m4 15h0m4 41h0m4-26h0m4-11h0m4 21h0m4-63h0m5 58h0m4 21h0m4 0h0m4-26h0m4-11h0m4 0h0m4 16h0m4-20h0m4-33h0m5 48h0m4-25h0m4 46h0m4-74h0m4 42h0m4-14h0m4 19h0m4 6h0m4-62h0m4 47h0m4 30h0m5 0h0m4-30h0m4 47h0m4 0h0m4-17h0m4-30h0m4-5h0m4-24h0m4 81h0m5-48h0m4 26h0m4-21h0m4 49h0m4-11h0m4-76h0m4 19h0m4 5h0m4 52h0m4-38h0m4 11h0m5 32h0m4-5h0m4-11h0m4-6h0m4-5h0m4 22h0m4-17h0m4 64h0m4-136h0m5 32h0m4 74h0m4-64h0m4 25h0m4-21h0m4 11h0m4-44h0m4 59h0m4-30h0m4 9h0m4 43h0m5-57h0m4 69h0m4-49h0m4 0h0m4 21h0m4-21h0m4 15h0m4-30h0m4-24h0m5 54h0m4-26h0m4 11h0m4 32h0m4-76h0m4 14h0m4 51h0m4 11h0m4-22h0m4-35h0m4 10h0m5 36h0m4-46h0m4 5h0m4-5h0m4 40h0m4 52h0m4-102h0m4-4h0m4 60h0m5-21h0m4-39h0m4 65h0m4-5h0m4-27h0m4 16h0m4 33h0m4-49h0m4-9h0m4 41h0m4 11h0m5-57h0m4 41h0m4-6h0m4-5h0m4-21h0m4-37h0m4 74h0m4 6h0m4-11h0m5 16h0m4-11h0m4-11h0m4-21h0m4 21h0m4 6h0m4 40h0m4-29h0m4-11h0m4 22h0m4-105h0m5 27h0m4 67h0m4-11h0m4 58h0m4-6h0m4-18h0m4-6h0m4-44h0m4 5h0m5 22h0m4-11h0m4-11h0m4-21h0m4 21h0m4 27h0m4-57h0m4 25h0m4 10h0m4 17h0m4 29h0m5-51h0m4 16h0m4-41h0m4 30h0m4 6h0m4 28h0m4-17h0m4 5h0m4-5h0m5 41h0m4-84h0m4 43h0m4 11h0m4-6h0m4-32h0m4 16h0m4-6h0m4 40h0m4-66h0m4 11h0m5 32h0m4-47h0m4 88h0m4-73h0m4 99h0m4-99h0m4 49h0m4-49h0m4-20h0m5 20h0m4 15h0m4-35h0m4 69h0m4-34h0m4 28h0m4-28h0m4 17h0m4-6h0m4 17h0m4 62h0m5-105h0m4 43h0m4-6h0m4-11h0m4 6h0m4-27h0m4-44h0m4 49h0m4 16h0m5-5h0m4 16h0m4 30h0m4-46h0m4-32h0m4 48h0m4 6h0m4-38h0m4 44h0m4-49h0m4 15h0m5 6h0m4-21h0m4 10h0m4 5h0m4 22h0m4-5h0m4 5h0m4 48h0m4-36h0m5-55h0m4 32h0m4 35h0m4-67h0m4 38h0m4 5h0m4 0h0m4 0h0m4 24h0m4 6h0m4-67h0m5 49h0m4-34h0m4 17h0m4 0h0m4 17h0m4-39h0m4 5h0m4-5h0m4 16h0m5-11h0m4 6h0m4 11h0m4 0h0m4-6h0m4 0h0m4-32h0m4 32h0m4-37h0m4 0h0m4 21h0m5-10h0m4 10h0m4-21h0m4 43h0m4 17h0m4 18h0m4-41h0m4 0h0m4 23h0m5-17h0m4 35h0m4-41h0m4 17h0m4-17h0m4 29h0m4-55h0m4 26h0m4 17h0m4-33h0m4 16h0m5 0h0m4 23h0m4-12h0m4-27h0m4 69h0m4-42h0m4 6h0m4-22h0m4 28h0m5-55h0m4 73h0m4-67h0m4 61h0m4-35h0m4-41h0m4 15h0m4-11h0m4 26h0m4 22h0m4 12h0m5 36h0m4-24h0m4-24h0m4 0h0m4-11h0m4-32h0m4 98h0m4-60h0m4 17h0m5-39h0m4 45h0m4-40h0m4 70h0m4-70h0m4 40h0m4 0h0m4-6h0m4-39h0m4 27h0m4 0h0m5-16h0m4-32h0m4 72h0m4-29h0m4 67h0m4-84h0m4 52h0m4-30h0m4-27h0m5 11h0m4-21h0m4 37h0m4 6h0m4-28h0m4 34h0m4-23h0m4 17h0m4-38h0m4-11h0m4-9h0m5 70h0m4-40h0m4 40h0m4-29h0m4 35h0m4-61h0m4 21h0m4 11h0m4-6h0m5 17h0m4 0h0m4-43h0m4 15h0m4 6h0m4 5h0m4-46h0m4 75h0m4-40h0m4 28h0m4 0h0m5 0h0m4 6h0m4-17h0m4-27h0m4 21h0m4-21h0m4 32h0m4-37h0m4 55h0m5-18h0m4-43h0m4 85h0m4-18h0m4-24h0m4 0h0m4-27h0m4 33h0m4-49h0m4 11h0m4-30h0m5 19h0m4 67h0m4-12h0m4-28h0m4-11h0m4 22h0m4-43h0m4 5h0m4-9h0m5-5h0m4 63h0m4 0h0m4-6h0m4 24h0m4-29h0m4-17h0m4 17h0m4 23h0m4-23h0m4-57h0m5 46h0m4-27h0m4 6h0m4 21h0m4-11h0m4 11h0m4 16h0m4 0h0m4-5h0m5-17h0m4 22h0m4 18h0m4-61h0m4 38h0m4-47h0m4 25h0m4-45h0m4 40h0m4 10h0m4 58h0m5-112h0m4 49h0m4-5h0m4 21h0m4 47h0" stroke="#00BFC4"/>
<path d="M3210 11850h0m4-26h0m4-20h0m4 57h0m4 12h0m4-34h0m5-21h0m4 38h0m4-38h0m4 27h0m4 0h0m4-27h0m4-5h0m4 16h0m4 38h0m5-54h0m4-4h0m4 41h0m4 6h0m4-27h0m4 21h0m4-37h0m4 11h0m4 32h0m4-32h0m4-53h0m5 63h0m4 11h0m4-16h0m4 32h0m4-62h0m4 46h0m4 5h0m4-21h0m4 16h0m5 5h0m4-5h0m4-32h0m4 5h0m4-5h0m4-28h0m4 54h0m4 46h0m4 0h0m4-96h0m4 78h0m5-38h0m4 10h0m4-5h0m4-16h0m4 79h0m4-79h0m4 6h0m4 5h0m4-5h0m5 49h0m4-6h0m4-38h0m4 0h0m4 0h0m4 10h0m4 6h0m4-16h0m4-16h0m4 54h0m4-43h0m5 21h0m4-16h0m4 0h0m4-20h0m4 25h0m4 45h0m4-61h0m4 6h0m4-15h0m5 15h0m4 43h0m4-17h0m4 0h0m4-5h0m4 11h0m4 17h0m4-64h0m4 20h0m4-30h0m4 25h0m5 32h0m4-17h0m4 0h0m4 6h0m4 11h0m4-27h0m4-5h0m4 5h0m4 5h0m5-16h0m4-29h0m4 35h0m4 15h0m4-35h0m4 63h0m4-17h0m4-21h0m4 38h0m4-6h0m4-32h0m5 0h0m4-30h0m4 57h0m4 5h0m4-22h0m4 22h0m4-22h0m4-5h0m4 51h0m5-46h0m4-30h0m4 47h0m4-27h0m4-11h0m4 11h0m4-5h0m4 32h0m4-27h0m4-53h0m4 33h0m5-5h0m4 9h0m4 16h0m4-5h0m4 15h0m4-21h0m4 0h0m4 27h0m4 0h0m5-6h0m4 11h0m4-11h0m4-5h0m4 16h0m4 0h0m4-16h0m4-21h0m4 16h0m4-25h0m4 46h0m5-26h0m4 15h0m4-30h0m4 9h0m4 38h0m4-32h0m4 10h0m4-5h0m4 10h0m5 40h0m4-34h0m4-6h0m4-10h0m4 38h0m4-33h0m4-10h0m4 26h0m4 0h0m4-26h0m4 37h0m5-57h0m4 63h0m4-17h0m4-92h0m4 76h0m4 27h0m4-32h0m4-11h0m4 38h0m5-27h0m4 5h0m4 0h0m4-16h0m4-9h0m4-29h0m4 54h0m4 22h0m4-47h0m4 64h0m4-64h0m5 41h0m4 6h0m4-43h0m4 32h0m4 0h0m4 0h0m4-6h0m4-15h0m4-15h0m5 64h0m4-39h0m4 5h0m4-15h0m4 26h0m4-16h0m4 0h0m4-10h0m4 0h0m4-6h0m4 0h0m5 0h0m4 11h0m4-11h0m4 0h0m4-29h0m4 5h0m4 56h0m4 0h0m4-21h0m5 38h0m4 6h0m4-55h0m4 16h0m4 0h0m4 11h0m4 22h0m4-58h0m4 47h0m4-57h0m4 30h0m5-11h0m4 6h0m4-6h0m4-38h0m4 65h0m4-51h0m4 51h0m4 11h0m4-62h0m5 30h0m4-11h0m4 32h0m4-56h0m4 61h0m4-21h0m4-11h0m4 38h0m4-38h0m4-14h0m4 30h0m5 33h0m4-33h0m4-16h0m4-29h0m4-4h0m4-9h0m4 58h0m4-21h0m4 16h0m5 0h0m4-25h0m4-10h0m4 30h0m4 0h0m4-15h0m4 30h0m4-54h0m4 49h0m4-5h0m4-40h0m5 29h0m4 32h0m4-61h0m4 20h0m4-10h0m4 19h0m4 16h0m4-16h0m4 32h0m5-11h0m4-45h0m4 35h0m4-20h0m4-5h0m4 5h0m4 30h0m4-59h0m4 59h0m4-10h0m4 5h0m5-21h0m4-24h0m4 50h0m4-68h0m4 63h0m4-21h0m4-55h0m4 71h0m4-5h0m5-11h0m4-4h0m4 4h0m4-9h0m4 30h0m4-5h0m4 38h0m4-43h0m4-35h0m4 56h0m4-46h0m5-10h0m4 20h0m4-15h0m4 15h0m4-10h0m4 0h0m4 40h0m4 0h0m4-85h0m5 55h0m4 9h0m4-19h0m4-41h0m4 60h0m4-9h0m4 0h0m4 9h0m4-33h0m4 0h0m4 28h0m5 11h0m4-35h0m4 20h0m4 0h0m4-20h0m4-13h0m4 23h0m4-28h0m4-9h0m5 14h0m4 0h0m4 23h0m4 10h0m4-15h0m4-18h0m4 23h0m4-37h0m4 56h0m4 11h0m4-30h0m5-28h0m4 58h0m4-53h0m4 13h0m4-18h0m4 23h0m4-5h0m4-27h0m4 37h0m5-10h0m4-22h0m4 0h0m4 37h0m4-28h0m4-5h0m4-17h0m4 45h0m4-49h0m4 74h0m4-57h0m5 13h0m4 33h0m4-24h0m4 24h0m4-28h0m4-31h0m4 13h0m4 0h0m4 4h0m5 0h0m4-9h0m4 5h0m4 32h0m4-19h0m4-47h0m4 38h0m4-4h0m4 27h0m4-23h0m4 9h0m5-13h0m4 0h0m4 0h0m4 0h0m4 0h0m4-9h0m4-8h0m4 4h0m4 26h0m5 0h0m4 0h0m4-9h0m4 9h0m4-13h0m4 9h0m4-35h0m4 58h0m4-62h0m4 21h0m4-33h0m5 60h0m4-31h0m4 22h0m4-47h0m4 12h0m4 39h0m4-47h0m4-12h0m4 4h0m5 42h0m4 0h0m4-26h0m4 4h0m4-16h0m4 65h0m4 10h0m4-42h0m4-21h0m4 17h0m4-8h0m5 4h0m4 26h0m4-39h0m4 13h0m4 50h0" stroke="#00A9FF"/>
<path d="M3210 11936h0m4-33h0m4 6h0m4-91h0m4 55h0m4 56h0m5-20h0m4 7h0m4 13h0m4-62h0m4 0h0m4-6h0m4 6h0m4 6h0m4 30h0m5-42h0m4 42h0m4 6h0m4 14h0m4-32h0m4-52h0m4 70h0m4 20h0m4-62h0m4-22h0m4 105h0m5-65h0m4 58h0m4-109h0m4 95h0m4-90h0m4 58h0m4-36h0m4-5h0m4 35h0m5-6h0m4-40h0m4 64h0m4 41h0m4-47h0m4 6h0m4 14h0m4 27h0m4-65h0m4-6h0m4 64h0m5-64h0m4 0h0m4 0h0m4 71h0m4-34h0m4-82h0m4 51h0m4 18h0m4 0h0m5-24h0m4 71h0m4-27h0m4-38h0m4 24h0m4-42h0m4 6h0m4 43h0m4-37h0m4 0h0m4 18h0m5 26h0m4-78h0m4 84h0m4-84h0m4 78h0m4-32h0m4 12h0m4 33h0m4-80h0m5 0h0m4 47h0m4-47h0m4 23h0m4 18h0m4 39h0m4-112h0m4 92h0m4 7h0m4-56h0m4 36h0m5-24h0m4 12h0m4 25h0m4 0h0m4-49h0m4 30h0m4-6h0m4 18h0m4-64h0m5-46h0m4 98h0m4 12h0m4-12h0m4 0h0m4-58h0m4 0h0m4 111h0m4-21h0m4 43h0m4-29h0m5-76h0m4 76h0m4-34h0m4-12h0m4 107h0m4-175h0m4-16h0m4 60h0m4 56h0m5-32h0m4 19h0m4 49h0m4-22h0m4 22h0m4-68h0m4-30h0m4 12h0m4 24h0m4 77h0m4-51h0m5-84h0m4 84h0m4-20h0m4 0h0m4-48h0m4 55h0m4 0h0m4 13h0m4-38h0m5 59h0m4-94h0m4 60h0m4-43h0m4 43h0m4 0h0m4 49h0m4 39h0m4-61h0m4-14h0m4-38h0m5 52h0m4 14h0m4-21h0m4-27h0m4-12h0m4 75h0m4 41h0m4-70h0m4 29h0m5-116h0m4 60h0m4-25h0m4 6h0m4-30h0m4 90h0m4-54h0m4-36h0m4 90h0m4-54h0m4 20h0m5 13h0m4 21h0m4-28h0m4 7h0m4 52h0m4-38h0m4 7h0m4-7h0m4 15h0m5 0h0m4 39h0m4-39h0m4-68h0m4 32h0m4 43h0m4 8h0m4-23h0m4-34h0m4 27h0m4 54h0m5-61h0m4 0h0m4 22h0m4-22h0m4 14h0m4 15h0m4-49h0m4 13h0m4 21h0m5 31h0m4-38h0m4 54h0m4-24h0m4-37h0m4 22h0m4 7h0m4 32h0m4-47h0m4-7h0m4-7h0m5 14h0m4 23h0m4 50h0m4-87h0m4 22h0m4 0h0m4 23h0m4-8h0m4-15h0m5-29h0m4-20h0m4 49h0m4-15h0m4 63h0m4 17h0m4-50h0m4-23h0m4 56h0m4-56h0m4 0h0m5-14h0m4 96h0m4-35h0m4 9h0m4-70h0m4-7h0m4 52h0m4-65h0m4 42h0m5 7h0m4-15h0m4 47h0m4-61h0m4 37h0m4 0h0m4-15h0m4 23h0m4-38h0m4 0h0m4 22h0m5 58h0m4-80h0m4-7h0m4-14h0m4 0h0m4 84h0m4-77h0m4 14h0m4 15h0m5 31h0m4-67h0m4 28h0m4-34h0m4 0h0m4 65h0m4-45h0m4 14h0m4-7h0m4 0h0m4-14h0m5 52h0m4-52h0m4 0h0m4 60h0m4-60h0m4 60h0m4-31h0m4-42h0m4 13h0m5 52h0m4 25h0m4-140h0m4 70h0m4 7h0m4 0h0m4 15h0m4 15h0m4-37h0m4 70h0m4-48h0m5-8h0m4 31h0m4-52h0m4 7h0m4-20h0m4-20h0m4 40h0m4 29h0m4-36h0m5-13h0m4 116h0m4-96h0m4-27h0m4 34h0m4-65h0m4 128h0m4-48h0m4-22h0m4 22h0m4-68h0m5 75h0m4-49h0m4-26h0m4 53h0m4 15h0m4-49h0m4 49h0m4 39h0m4-54h0m5 0h0m4-21h0m4 43h0m4-15h0m4 47h0m4-47h0m4-41h0m4 27h0m4 61h0m4-95h0m4 48h0m5 0h0m4-34h0m4 34h0m4 0h0m4-7h0m4-7h0m4 37h0m4 33h0m4-70h0m5-34h0m4 71h0m4-15h0m4-49h0m4 80h0m4 17h0m4-134h0m4 44h0m4 20h0m4-34h0m4 71h0m5-89h0m4 105h0m4-31h0m4-22h0m4 45h0m4 25h0m4-97h0m4 88h0m4-39h0m5-8h0m4 110h0m4-37h0m4-73h0m4 31h0m4 8h0m4-111h0m4 95h0m4-51h0m4 43h0m4-56h0m5 88h0m4 0h0m4-68h0m4 0h0m4-33h0m4 47h0m4-7h0m4 7h0m4-14h0m5 14h0m4 22h0m4 0h0m4 16h0m4-59h0m4 119h0m4-76h0m4-15h0m4 31h0m4 33h0m4-49h0m5-7h0m4-29h0m4-7h0m4 43h0m4-15h0m4 8h0m4 39h0m4-68h0m4 36h0m5 32h0m4-16h0m4-8h0m4 0h0m4-30h0m4 22h0m4 49h0m4-78h0m4-7h0m4 14h0m4-21h0m5 59h0m4-38h0m4 38h0m4-85h0m4 93h0m4 0h0m4-24h0m4 86h0m4-135h0m5 73h0m4 0h0m4-24h0m4 41h0m4-41h0m4 58h0m4-73h0m4 120h0m4-134h0m4 87h0m4-17h0m5-25h0m4 0h0m4 0h0m4-16h0m4-29h0" stroke="#FF64B0"/>
<path d="M3210 11721h0m4 4h0m4 16h0m4-20h0m4 37h0m4-44h0m5-12h0m4 52h0m4-66h0m4 57h0m4-31h0m4 19h0m4-19h0m4-8h0m4 8h0m5-23h0m4 11h0m4 39h0m4-39h0m4 27h0m4-30h0m4 22h0m4-4h0m4-18h0m4 7h0m4-22h0m5 4h0m4 14h0m4 15h0m4-18h0m4-39h0m4-34h0m4 84h0m4-22h0m4 7h0m5-21h0m4 10h0m4-40h0m4 40h0m4 0h0m4 4h0m4-31h0m4 34h0m4-14h0m4-57h0m4 31h0m5 9h0m4 4h0m4 6h0m4-79h0m4 108h0m4-55h0m4 16h0m4 24h0m4 30h0m5-33h0m4-27h0m4-19h0m4 9h0m4 13h0m4 17h0m4-42h0m4 12h0m4-15h0m4 59h0m4-18h0m5-19h0m4 26h0m4-39h0m4-24h0m4 18h0m4 32h0m4-62h0m4 39h0m4-33h0m5 9h0m4 40h0m4 3h0m4 24h0m4-64h0m4 15h0m4-93h0m4 102h0m4-61h0m4 0h0m4 16h0m5 39h0m4-44h0m4 66h0m4-37h0m4-18h0m4 0h0m4 52h0m4-46h0m4 33h0m5-30h0m4-3h0m4-33h0m4 42h0m4 24h0m4-27h0m4-57h0m4 51h0m4-20h0m4 41h0m4-70h0m5 37h0m4 3h0m4-47h0m4 15h0m4 5h0m4-33h0m4 75h0m4-15h0m4 30h0m5-65h0m4 5h0m4 8h0m4-45h0m4 76h0m4-44h0m4 8h0m4 45h0m4-60h0m4 15h0m4 0h0m5 30h0m4-50h0m4-3h0m4 5h0m4 0h0m4 0h0m4 31h0m4-55h0m4 7h0m5 22h0m4 10h0m4 14h0m4-6h0m4-52h0m4 44h0m4-39h0m4-30h0m4 30h0m4 22h0m4-43h0m5 21h0m4 7h0m4 32h0m4-32h0m4-62h0m4 0h0m4 67h0m4-52h0m4 37h0m5 25h0m4-20h0m4-25h0m4 14h0m4-16h0m4 4h0m4 9h0m4-20h0m4-35h0m4 84h0m4-55h0m5 17h0m4-42h0m4 42h0m4-21h0m4 19h0m4-19h0m4-7h0m4-10h0m4 27h0m5 7h0m4-9h0m4 15h0m4-40h0m4-14h0m4 6h0m4 37h0m4-29h0m4-10h0m4 25h0m4-7h0m5-39h0m4 33h0m4-2h0m4 19h0m4-21h0m4-36h0m4 4h0m4-22h0m4 42h0m5 6h0m4-13h0m4-21h0m4 4h0m4 24h0m4-5h0m4-38h0m4-7h0m4 7h0m4 51h0m4 4h0m5 6h0m4-14h0m4-33h0m4-25h0m4 21h0m4 4h0m4-14h0m4 61h0m4-60h0m5-25h0m4 15h0m4 30h0m4 24h0m4 16h0m4-53h0m4 43h0m4-50h0m4 37h0m4-49h0m4 26h0m5 13h0m4-21h0m4 10h0m4 9h0m4-9h0m4 17h0m4-48h0m4 37h0m4-4h0m5-30h0m4 14h0m4 44h0m4-67h0m4 35h0m4-20h0m4 56h0m4 0h0m4 6h0m4-25h0m4 0h0m5-54h0m4 10h0m4 19h0m4 52h0m4-31h0m4-39h0m4 37h0m4 19h0m4-26h0m5-39h0m4 45h0m4 9h0m4 31h0m4-50h0m4 19h0m4-13h0m4-7h0m4 29h0m4-35h0m4 24h0m5-37h0m4 1h0m4-3h0m4 26h0m4-21h0m4 16h0m4-6h0m4 4h0m4-23h0m5 0h0m4 43h0m4-4h0m4-27h0m4 7h0m4 17h0m4-15h0m4 26h0m4-26h0m4-7h0m4-12h0m5-3h0m4 24h0m4-16h0m4-37h0m4 51h0m4-12h0m4 9h0m4 12h0m4 34h0m5-50h0m4 52h0m4-19h0m4-35h0m4 50h0m4-2h0m4-15h0m4-29h0m4 27h0m4-52h0m4 50h0m5-5h0m4-20h0m4 44h0m4 4h0m4-27h0m4 0h0m4 10h0m4-4h0m4 8h0m5-23h0m4 40h0m4-57h0m4 26h0m4-38h0m4 5h0m4 43h0m4 38h0m4-34h0m4-26h0m4 26h0m5-15h0m4-6h0m4-12h0m4 7h0m4 41h0m4-30h0m4-36h0m4 41h0m4-34h0m5 7h0m4 79h0m4-72h0m4 28h0m4-17h0m4 13h0m4-26h0m4 92h0m4-57h0m4-26h0m4 21h0m5 2h0m4-6h0m4-27h0m4 40h0m4-40h0m4 40h0m4-13h0m4 27h0m4-31h0m5-29h0m4 33h0m4 13h0m4 20h0m4-12h0m4-30h0m4 57h0m4-13h0m4 17h0m4-46h0m4 15h0m5-29h0m4 46h0m4-34h0m4 51h0m4-3h0m4-50h0m4 40h0m4-80h0m4 113h0m5-71h0m4 3h0m4 56h0m4-17h0m4-25h0m4 12h0m4-6h0m4-29h0m4 23h0m4-23h0m4-6h0m5 23h0m4 23h0m4-23h0m4 18h0m4-60h0m4 86h0m4-42h0m4-21h0m4-5h0m5 9h0m4 52h0m4-61h0m4 59h0m4-29h0m4-6h0m4 2h0m4 14h0m4 0h0m4 4h0m4 44h0m5-33h0m4-11h0m4-26h0m4-33h0m4 49h0m4-34h0m4 42h0m4 46h0m4-50h0m5 21h0m4-4h0m4-66h0m4 49h0m4-2h0m4 8h0m4 7h0m4-27h0m4 31h0m4-37h0m4-3h0m5 42h0m4-6h0m4-31h0m4 29h0m4-34h0" stroke="#9590FF"/>
<path d="M3210 11699h0m4 114h0m4-84h0m4 47h0m4 4h0m4-13h0m5 9h0m4 48h0m4 0h0m4-57h0m4-9h0m4 0h0m4 9h0m4 83h0m4-56h0m5 40h0m4-40h0m4 24h0m4-42h0m4 13h0m4 0h0m4-35h0m4 59h0m4 11h0m4-35h0m4 5h0m5-36h0m4-25h0m4 96h0m4 0h0m4-62h0m4 13h0m4-22h0m4 51h0m4 0h0m5-42h0m4 72h0m4-40h0m4 51h0m4-11h0m4-26h0m4-14h0m4-5h0m4 56h0m4-46h0m4-28h0m5 23h0m4-14h0m4 4h0m4-13h0m4 0h0m4 37h0m4-33h0m4 5h0m4-31h0m5 107h0m4-67h0m4-14h0m4 5h0m4 54h0m4-72h0m4 118h0m4-72h0m4 48h0m4-67h0m4 62h0m5-47h0m4-29h0m4 44h0m4-11h0m4-42h0m4 42h0m4 11h0m4-35h0m4-4h0m5 0h0m4 19h0m4-5h0m4-10h0m4 10h0m4-14h0m4 44h0m4 21h0m4-11h0m4-26h0m4-19h0m5 15h0m4-76h0m4 52h0m4-40h0m4 64h0m4 9h0m4-24h0m4 67h0m4-16h0m5-51h0m4 30h0m4 0h0m4 5h0m4-40h0m4 29h0m4-19h0m4-19h0m4 105h0m4-96h0m4 24h0m5 32h0m4-87h0m4 55h0m4-28h0m4 4h0m4 15h0m4-33h0m4-4h0m4 67h0m5-58h0m4 42h0m4 55h0m4-55h0m4 11h0m4-44h0m4 71h0m4-71h0m4 54h0m4 0h0m4-94h0m5 94h0m4-72h0m4 13h0m4 44h0m4-48h0m4-18h0m4 0h0m4 46h0m4 52h0m5-32h0m4-30h0m4 73h0m4-63h0m4-19h0m4 44h0m4 16h0m4-21h0m4 21h0m4-27h0m4 11h0m5 5h0m4-40h0m4 15h0m4 4h0m4-88h0m4 88h0m4-14h0m4 19h0m4-14h0m5-37h0m4-26h0m4 48h0m4-18h0m4-17h0m4 113h0m4-96h0m4-13h0m4 46h0m4-15h0m4-35h0m5 40h0m4-5h0m4 10h0m4-62h0m4 39h0m4-51h0m4 55h0m4-85h0m4 81h0m5-5h0m4 9h0m4 44h0m4 37h0m4-103h0m4 51h0m4-103h0m4 88h0m4 15h0m4 0h0m4-80h0m5 8h0m4-20h0m4 54h0m4-26h0m4 9h0m4 50h0m4-83h0m4 24h0m4 22h0m5-86h0m4 104h0m4 4h0m4-56h0m4-12h0m4 29h0m4-93h0m4 31h0m4 41h0m4 4h0m4 17h0m5-25h0m4-34h0m4 50h0m4-24h0m4-36h0m4 56h0m4-60h0m4 22h0m4-82h0m5 108h0m4 4h0m4-75h0m4 67h0m4 16h0m4-8h0m4-59h0m4-16h0m4-7h0m4 55h0m4-32h0m5 11h0m4-24h0m4 76h0m4-69h0m4-38h0m4-3h0m4-12h0m4 53h0m4-53h0m5 59h0m4-3h0m4 32h0m4-82h0m4 74h0m4-56h0m4 32h0m4-59h0m4 69h0m4 14h0m4 26h0m5-103h0m4 12h0m4 21h0m4-27h0m4 37h0m4-3h0m4 3h0m4-34h0m4 6h0m5 28h0m4 13h0m4-53h0m4-15h0m4 82h0m4-67h0m4 6h0m4 9h0m4 28h0m4-61h0m4-34h0m5 89h0m4-16h0m4-50h0m4 35h0m4-15h0m4-28h0m4-2h0m4 21h0m4 111h0m5-113h0m4-30h0m4 41h0m4-30h0m4-21h0m4 45h0m4 6h0m4-9h0m4-39h0m4 72h0m4-70h0m5 26h0m4-55h0m4 131h0m4-94h0m4 8h0m4 13h0m4 0h0m4-11h0m4 71h0m5-91h0m4 72h0m4-108h0m4 59h0m4-5h0m4 16h0m4-29h0m4-15h0m4 5h0m4 68h0m4-12h0m5-33h0m4-66h0m4-19h0m4 124h0m4-65h0m4-7h0m4-7h0m4-19h0m4 0h0m5 61h0m4-56h0m4-23h0m4 71h0m4 0h0m4-12h0m4 10h0m4 2h0m4-71h0m4 49h0m4-24h0m5-12h0m4 64h0m4-48h0m4 87h0m4-62h0m4-34h0m4-9h0m4 7h0m4-16h0m5 75h0m4-3h0m4-56h0m4-37h0m4 37h0m4 43h0m4-22h0m4-41h0m4-23h0m4 71h0m4 31h0m5-64h0m4-8h0m4-42h0m4 14h0m4 30h0m4-22h0m4-14h0m4 93h0m4-8h0m5-73h0m4 30h0m4-40h0m4 29h0m4 25h0m4 37h0m4-64h0m4 0h0m4 32h0m4 9h0m4 36h0m5-79h0m4 4h0m4 3h0m4-40h0m4 48h0m4 31h0m4-42h0m4-52h0m4 44h0m5 50h0m4-33h0m4-28h0m4 28h0m4 45h0m4 0h0m4-89h0m4-34h0m4 42h0m4 86h0m4-63h0m5-33h0m4 16h0m4 44h0m4-54h0m4-6h0m4 89h0m4-87h0m4 35h0m4-23h0m5 37h0m4-35h0m4-24h0m4 52h0m4-13h0m4 24h0m4-55h0m4-4h0m4-13h0m4 98h0m4-30h0m5-39h0m4 13h0m4-38h0m4 33h0m4-29h0m4 53h0m4 16h0m4-7h0m4-5h0m5-78h0m4 97h0m4-5h0m4-44h0m4 49h0m4 2h0m4 5h0m4-95h0m4 25h0m4 33h0m4-65h0m5 72h0m4-26h0m4 49h0m4-42h0m4 19h0" stroke="#F564E3"/>
<path d="M3210 11804h0m4 20h0m4-35h0m4 61h0m4 11h0m4 6h0m5-68h0m4 46h0m4-74h0m4 33h0m4-28h0m4 28h0m4-10h0m4 40h0m4-40h0m5 19h0m4 37h0m4-61h0m4 29h0m4 6h0m4 32h0m4-32h0m4 21h0m4-21h0m4-15h0m4-92h0m5 122h0m4 58h0m4-79h0m4 0h0m4 0h0m4 21h0m4-30h0m4 20h0m4 5h0m5 5h0m4-10h0m4-62h0m4 18h0m4 44h0m4-62h0m4 57h0m4-11h0m4-9h0m4 52h0m4 47h0m5-123h0m4 49h0m4-62h0m4 57h0m4-30h0m4 85h0m4 0h0m4-18h0m4-107h0m5 80h0m4-10h0m4 0h0m4-48h0m4 103h0m4-18h0m4-57h0m4 20h0m4 49h0m4-97h0m4-35h0m5 156h0m4-84h0m4 78h0m4 0h0m4-97h0m4 35h0m4 5h0m4-54h0m4 105h0m5 44h0m4-79h0m4-56h0m4 15h0m4-5h0m4 35h0m4-30h0m4-29h0m4 81h0m4 24h0m4-6h0m5-34h0m4-65h0m4 65h0m4-16h0m4 0h0m4 21h0m4 6h0m4-27h0m4-5h0m5 37h0m4-67h0m4 45h0m4 22h0m4-43h0m4-9h0m4 20h0m4 0h0m4 16h0m4 28h0m4-23h0m5 23h0m4-39h0m4-21h0m4 32h0m4-83h0m4 88h0m4 0h0m4 53h0m4-53h0m5-21h0m4 21h0m4-11h0m4-35h0m4 20h0m4 26h0m4-79h0m4 63h0m4 63h0m4-30h0m4-17h0m5-41h0m4-15h0m4 85h0m4-70h0m4 9h0m4 49h0m4-58h0m4 4h0m4 5h0m5 67h0m4-40h0m4-65h0m4 70h0m4-46h0m4-5h0m4 57h0m4-11h0m4 5h0m4-46h0m4 99h0m5 13h0m4-103h0m4 11h0m4 49h0m4-60h0m4-9h0m4 63h0m4-17h0m4 23h0m5-39h0m4 0h0m4-10h0m4-15h0m4 9h0m4 21h0m4-63h0m4 18h0m4 30h0m4-25h0m4 51h0m5-5h0m4-21h0m4-53h0m4-42h0m4 65h0m4 67h0m4-128h0m4 91h0m4-35h0m5 40h0m4-11h0m4 6h0m4 43h0m4-146h0m4 73h0m4 35h0m4-88h0m4-16h0m4 104h0m4-75h0m5 31h0m4-90h0m4 99h0m4-5h0m4-9h0m4 5h0m4-83h0m4 60h0m4-29h0m5 52h0m4-60h0m4 12h0m4-20h0m4 20h0m4 76h0m4-114h0m4 100h0m4-32h0m4-86h0m4 90h0m5-54h0m4-3h0m4 36h0m4-13h0m4-4h0m4-19h0m4-40h0m4 111h0m4-18h0m5-100h0m4-7h0m4-31h0m4 129h0m4-48h0m4 11h0m4 20h0m4-46h0m4 22h0m4-66h0m4-19h0m5 45h0m4 7h0m4-49h0m4 0h0m4 25h0m4 54h0m4-33h0m4 14h0m4 15h0m5-4h0m4-18h0m4 41h0m4-118h0m4 49h0m4 46h0m4-161h0m4 157h0m4-58h0m4-64h0m4 77h0m5-6h0m4-71h0m4 71h0m4-13h0m4 79h0m4-53h0m4-73h0m4 108h0m4-70h0m5-51h0m4 54h0m4-15h0m4-47h0m4 68h0m4-30h0m4-11h0m4 2h0m4-13h0m4 22h0m4-20h0m5 6h0m4-22h0m4-15h0m4-29h0m4 86h0m4-31h0m4 46h0m4-24h0m4-72h0m5 19h0m4 65h0m4-60h0m4 29h0m4-65h0m4 59h0m4-42h0m4 48h0m4-11h0m4-10h0m4 23h0m5-60h0m4-68h0m4 115h0m4 42h0m4-82h0m4-2h0m4 29h0m4-22h0m4-14h0m5 7h0m4-42h0m4 6h0m4 73h0m4-42h0m4-44h0m4 40h0m4 36h0m4-120h0m4 117h0m4-64h0m5 93h0m4-60h0m4 16h0m4-53h0m4 10h0m4 18h0m4 38h0m4-47h0m4 0h0m5 18h0m4-31h0m4 70h0m4-51h0m4-13h0m4 13h0m4-50h0m4 12h0m4 13h0m4-13h0m4 66h0m5-104h0m4 92h0m4-105h0m4 72h0m4-31h0m4 18h0m4-29h0m4 27h0m4 2h0m5-53h0m4 62h0m4-2h0m4-21h0m4 54h0m4-58h0m4 40h0m4-68h0m4 38h0m4 69h0m4-52h0m5-23h0m4 12h0m4 32h0m4-56h0m4 43h0m4 23h0m4-52h0m4 12h0m4-53h0m5 121h0m4 0h0m4-118h0m4-64h0m4 125h0m4 2h0m4 20h0m4-39h0m4 11h0m4-27h0m4-9h0m5 64h0m4-64h0m4 2h0m4 42h0m4 9h0m4-11h0m4-78h0m4 38h0m4 87h0m5-85h0m4 15h0m4 0h0m4-32h0m4 22h0m4 41h0m4-8h0m4-13h0m4 15h0m4 11h0m4-70h0m5 4h0m4 57h0m4-33h0m4-23h0m4 102h0m4-121h0m4 42h0m4-6h0m4 14h0m5-36h0m4 90h0m4-48h0m4-44h0m4 17h0m4-6h0m4 50h0m4-63h0m4-5h0m4 68h0m4-79h0m5 42h0m4-33h0m4 26h0m4-36h0m4 53h0m4 0h0m4-27h0m4 29h0m4-15h0m5 7h0m4 22h0m4 13h0m4-112h0m4 75h0m4 10h0m4-45h0m4 76h0m4-17h0m4-2h0m4-2h0m5-39h0m4 60h0m4-19h0m4-37h0m4 19h0" stroke="#FF61CC"/>
<path d="M3210 11591h0m4 76h0m4-53h0m4 6h0m4 3h0m4 9h0m5 3h0m4-38h0m4 26h0m4-24h0m4 27h0m4-15h0m4 3h0m4-15h0m4 6h0m5 12h0m4-3h0m4 6h0m4-26h0m4-11h0m4 11h0m4-14h0m4 28h0m4 3h0m4-3h0m4-30h0m5-3h0m4 5h0m4 55h0m4-55h0m4 19h0m4-13h0m4 0h0m4 2h0m4-10h0m5-6h0m4 14h0m4 19h0m4 0h0m4-43h0m4 70h0m4-15h0m4-18h0m4-47h0m4 26h0m4-23h0m5 2h0m4 66h0m4-35h0m4 0h0m4-36h0m4-2h0m4-5h0m4 27h0m4 25h0m5-47h0m4 17h0m4-59h0m4 27h0m4 20h0m4 2h0m4-12h0m4 15h0m4-36h0m4 16h0m4 2h0m5 5h0m4 18h0m4-20h0m4-31h0m4 43h0m4-10h0m4 13h0m4 0h0m4-30h0m5-6h0m4 14h0m4-17h0m4-11h0m4 20h0m4 8h0m4 4h0m4 8h0m4-29h0m4-2h0m4-20h0m5 13h0m4-2h0m4 7h0m4 9h0m4-2h0m4 14h0m4-52h0m4 38h0m4-16h0m5 2h0m4 20h0m4-22h0m4-19h0m4 0h0m4-25h0m4 33h0m4 2h0m4-13h0m4 35h0m4 3h0m5-23h0m4 2h0m4-12h0m4-13h0m4 13h0m4 4h0m4-2h0m4 21h0m4-42h0m5 23h0m4 19h0m4-50h0m4-33h0m4 9h0m4 5h0m4 35h0m4-6h0m4 32h0m4-20h0m4-37h0m5 11h0m4-18h0m4-4h0m4 30h0m4 4h0m4-64h0m4 43h0m4-11h0m4-4h0m5 21h0m4-28h0m4 24h0m4-21h0m4-3h0m4-44h0m4 51h0m4 11h0m4-16h0m4-30h0m4 4h0m5 8h0m4 18h0m4-11h0m4 5h0m4-32h0m4-5h0m4-9h0m4-3h0m4 41h0m5-52h0m4 11h0m4-14h0m4 19h0m4-10h0m4 11h0m4-3h0m4-28h0m4 31h0m4 11h0m4-20h0m5 8h0m4-14h0m4-26h0m4-5h0m4 70h0m4-29h0m4-6h0m4-13h0m4-44h0m5 42h0m4-22h0m4 9h0m4 10h0m4-28h0m4 21h0m4-30h0m4-9h0m4 8h0m4 6h0m4 15h0m5-12h0m4 3h0m4-25h0m4 18h0m4 25h0m4-30h0m4-1h0m4-22h0m4 10h0m5 0h0m4-1h0m4-14h0m4 44h0m4-21h0m4-24h0m4 35h0m4-40h0m4-1h0m4-8h0m4-2h0m5 22h0m4 1h0m4-16h0m4 10h0m4-19h0m4 12h0m4 11h0m4-8h0m4-18h0m5 12h0m4 26h0m4-75h0m4 59h0m4-8h0m4-26h0m4-22h0m4 39h0m4-20h0m4 15h0m4-14h0m5-15h0m4 29h0m4 7h0m4-24h0m4 27h0m4-33h0m4-10h0m4 15h0m4-10h0m5-5h0m4-19h0m4 20h0m4 19h0m4-37h0m4 0h0m4 6h0m4-1h0m4-1h0m4-10h0m4 28h0m5-17h0m4 15h0m4-11h0m4-35h0m4 9h0m4 22h0m4-12h0m4-2h0m4 8h0m5 0h0m4 13h0m4-27h0m4-9h0m4 19h0m4-37h0m4 46h0m4-3h0m4-10h0m4-22h0m4 19h0m5 6h0m4-35h0m4 20h0m4 18h0m4-11h0m4-16h0m4 2h0m4-28h0m4 23h0m5-7h0m4 16h0m4 4h0m4-29h0m4 0h0m4-6h0m4 29h0m4-64h0m4 50h0m4-24h0m4 23h0m5-1h0m4-57h0m4 87h0m4-38h0m4 5h0m4-24h0m4-4h0m4 33h0m4-25h0m5-24h0m4-19h0m4 60h0m4-53h0m4 16h0m4 21h0m4-10h0m4-1h0m4-9h0m4 17h0m4-23h0m5 7h0m4 12h0m4 4h0m4-24h0m4 20h0m4-13h0m4 2h0m4 4h0m4-9h0m5 28h0m4-29h0m4 14h0m4-2h0m4-27h0m4-8h0m4 18h0m4-21h0m4-21h0m4 28h0m4 14h0m5-26h0m4 13h0m4-17h0m4 10h0m4-5h0m4 6h0m4-45h0m4 32h0m4 25h0m5-19h0m4 4h0m4-47h0m4 25h0m4 37h0m4-28h0m4-34h0m4 20h0m4-25h0m4 39h0m4-22h0m5-8h0m4 11h0m4 22h0m4-10h0m4-38h0m4 12h0m4 19h0m4 22h0m4-15h0m5-27h0m4-15h0m4 1h0m4 56h0m4-22h0m4 24h0m4-36h0m4-4h0m4-7h0m4 16h0m4-1h0m5-21h0m4-21h0m4 5h0m4 11h0m4 40h0m4-18h0m4-37h0m4 30h0m4-18h0m5-4h0m4-10h0m4-8h0m4 39h0m4-34h0m4 4h0m4 14h0m4 9h0m4-32h0m4 26h0m4-9h0m5-2h0m4-51h0m4 60h0m4-46h0m4 9h0m4 17h0m4-13h0m4-9h0m4 36h0m5-20h0m4 13h0m4-20h0m4-11h0m4-13h0m4 11h0m4 44h0m4-33h0m4 13h0m4-16h0m4-1h0m5-27h0m4 29h0m4 22h0m4-26h0m4-5h0m4 16h0m4-25h0m4-16h0m4 3h0m5 27h0m4-19h0m4 4h0m4-23h0m4 38h0m4-43h0m4-4h0m4 2h0m4 1h0m4 7h0m4 25h0m5-43h0m4 3h0m4 6h0m4 19h0m4 4h0" stroke="#FF6C91"/>
</g>
<rect x="314.2" y="1001.1" width="190.9" height="38.7" fill="#fff" stroke="#000" stroke-width="3.1"/>
<text x="409.6" y="1028.4" font-size="20" font-family='"Liberation Sans", sans-serif' text-anchor="middle" fill="#1a1a1a">Oleate</text>
<rect x="314.2" y="1042.1" width="190.9" height="38.3" fill="#fff" stroke="#000" stroke-width="3.1"/>
<text x="409.6" y="1069.2" font-size="20" font-family='"Liberation Sans", sans-serif' text-anchor="middle" fill="#1a1a1a">Y14F/Y14F</text>
<line x1="312" y1="1301" x2="506.6" y2="1301" stroke="#000" stroke-width="2.6" />
<line x1="321" y1="1302" x2="321" y2="1308.2" stroke="#333" stroke-width="2.5" />
<text x="321" y="1332" font-size="20" font-family='"Liberation Sans", sans-serif' text-anchor="middle" fill="#4d4d4d">0</text>
<line x1="362.1" y1="1302" x2="362.1" y2="1308.2" stroke="#333" stroke-width="2.5" />
<text x="362.1" y="1332" font-size="20" font-family='"Liberation Sans", sans-serif' text-anchor="middle" fill="#4d4d4d">100</text>
<line x1="403.2" y1="1302" x2="403.2" y2="1308.2" stroke="#333" stroke-width="2.5" />
<text x="403.2" y="1332" font-size="20" font-family='"Liberation Sans", sans-serif' text-anchor="middle" fill="#4d4d4d">200</text>
<line x1="444.3" y1="1302" x2="444.3" y2="1308.2" stroke="#333" stroke-width="2.5" />
<text x="444.3" y="1332" font-size="20" font-family='"Liberation Sans", sans-serif' text-anchor="middle" fill="#4d4d4d">300</text>
<line x1="485.4" y1="1302" x2="485.4" y2="1308.2" stroke="#333" stroke-width="2.5" />
<text x="485.4" y="1332" font-size="20" font-family='"Liberation Sans", sans-serif' text-anchor="middle" fill="#4d4d4d">400</text>
<line x1="107.3" y1="1080.6" x2="107.3" y2="1302.3" stroke="#000" stroke-width="2.6" />
<line x1="100.2" y1="1256.6" x2="106.5" y2="1256.6" stroke="#333" stroke-width="2.5" />
<text x="96.6" y="1263.9" font-size="20.4" font-family='"Liberation Sans", sans-serif' text-anchor="end" fill="#4d4d4d">10</text>
<line x1="100.2" y1="1170.6" x2="106.5" y2="1170.6" stroke="#333" stroke-width="2.5" />
<text x="96.6" y="1177.9" font-size="20.4" font-family='"Liberation Sans", sans-serif' text-anchor="end" fill="#4d4d4d">100</text>
<line x1="100.2" y1="1084.6" x2="106.5" y2="1084.6" stroke="#333" stroke-width="2.5" />
<text x="96.6" y="1091.9" font-size="20.4" font-family='"Liberation Sans", sans-serif' text-anchor="end" fill="#4d4d4d">1000</text>
</g>
<g id="panel-e">
<text x="582" y="686.3" font-size="69.2" font-family='"DejaVu Sans", sans-serif' font-weight="bold">e</text>
<text x="656" y="897" font-size="25.6" font-family='"Liberation Sans", sans-serif' text-anchor="middle" transform="rotate(-90 656 897)">Number of Cav1 spots (log scale)</text>
<rect x="711.3" y="670.6" width="132.4" height="41.4" fill="#fff" stroke="#000" stroke-width="4.6" stroke-linejoin="round"/>
<text x="777.5" y="698.5" font-size="20" font-family='"Liberation Sans", sans-serif' text-anchor="middle" fill="#1a1a1a">Control</text>
<rect x="857.3" y="670.6" width="132.7" height="41.4" fill="#fff" stroke="#000" stroke-width="4.6" stroke-linejoin="round"/>
<text x="923.6" y="698.5" font-size="20" font-family='"Liberation Sans", sans-serif' text-anchor="middle" fill="#1a1a1a">Oleate</text>
<line x1="710.8" y1="714" x2="710.8" y2="1081.2" stroke="#000" stroke-width="2.7" />
<line x1="709.5" y1="1079.9" x2="843.5" y2="1079.9" stroke="#000" stroke-width="2.7" />
<line x1="857" y1="1079.9" x2="990" y2="1079.9" stroke="#000" stroke-width="2.7" />
<line x1="703.2" y1="781" x2="709.6" y2="781" stroke="#333" stroke-width="2.6" />
<text x="699.5" y="788.2" font-size="20" font-family='"Liberation Sans", sans-serif' text-anchor="end" fill="#4d4d4d">300</text>
<line x1="703.2" y1="914" x2="709.6" y2="914" stroke="#333" stroke-width="2.6" />
<text x="699.5" y="921.2" font-size="20" font-family='"Liberation Sans", sans-serif' text-anchor="end" fill="#4d4d4d">100</text>
<line x1="703.2" y1="1059.3" x2="709.6" y2="1059.3" stroke="#333" stroke-width="2.6" />
<text x="699.5" y="1066.5" font-size="20" font-family='"Liberation Sans", sans-serif' text-anchor="end" fill="#4d4d4d">30</text>
<line x1="747.3" y1="1081" x2="747.3" y2="1087.4" stroke="#333" stroke-width="2.6" />
<text x="746.7" y="1143.6" font-size="20.2" font-family='"Liberation Sans", sans-serif' text-anchor="middle" fill="#4d4d4d" transform="rotate(-90 746.7 1143.6)">+/+</text>
<line x1="807.6" y1="1081" x2="807.6" y2="1087.4" stroke="#333" stroke-width="2.6" />
<text x="807" y="1143.6" font-size="20.2" font-family='"Liberation Sans", sans-serif' text-anchor="middle" fill="#4d4d4d" transform="rotate(-90 807 1143.6)">Y14F/Y14F</text>
<line x1="893.3" y1="1081" x2="893.3" y2="1087.4" stroke="#333" stroke-width="2.6" />
<text x="892.7" y="1143.6" font-size="20.2" font-family='"Liberation Sans", sans-serif' text-anchor="middle" fill="#4d4d4d" transform="rotate(-90 892.7 1143.6)">+/+</text>
<line x1="953.6" y1="1081" x2="953.6" y2="1087.4" stroke="#333" stroke-width="2.6" />
<text x="953" y="1143.6" font-size="20.2" font-family='"Liberation Sans", sans-serif' text-anchor="middle" fill="#4d4d4d" transform="rotate(-90 953 1143.6)">Y14F/Y14F</text>
<circle cx="747.3" cy="1018.6" r="5.6" fill="#F2C318" stroke="#F2C318" stroke-width="1" fill-opacity="0.28" stroke-opacity="0.45"/>
<circle cx="747.3" cy="1036.6" r="5.6" fill="#F2C318" stroke="#F2C318" stroke-width="1" fill-opacity="0.28" stroke-opacity="0.45"/>
<circle cx="747.3" cy="1043" r="5.6" fill="#F2C318" stroke="#F2C318" stroke-width="1" fill-opacity="0.28" stroke-opacity="0.45"/>
<circle cx="747.3" cy="1052" r="5.6" fill="#F2C318" stroke="#F2C318" stroke-width="1" fill-opacity="0.28" stroke-opacity="0.45"/>
<line x1="747.3" y1="1035.6" x2="747.3" y2="1035.6" stroke="#747474" stroke-width="2.8" />
<line x1="747.3" y1="1048.3" x2="747.3" y2="1052" stroke="#747474" stroke-width="2.8" />
<rect x="724.2" y="1035.6" width="46.2" height="12.7" fill="#FFF5CC" stroke="#747474" stroke-width="2.8"/>
<line x1="724.2" y1="1037.8" x2="770.4" y2="1037.8" stroke="#747474" stroke-width="5.6" />
<circle cx="747.3" cy="1018.6" r="5.6" fill="#F2C318" stroke="#F2C318" stroke-width="1.1" fill-opacity="0.42" stroke-opacity="0.55"/>
<circle cx="747.3" cy="1036.6" r="5.6" fill="#F2C318" stroke="#F2C318" stroke-width="1.1" fill-opacity="0.42" stroke-opacity="0.55"/>
<circle cx="747.3" cy="1043" r="5.6" fill="#F2C318" stroke="#F2C318" stroke-width="1.1" fill-opacity="0.42" stroke-opacity="0.55"/>
<circle cx="747.3" cy="1052" r="5.6" fill="#F2C318" stroke="#F2C318" stroke-width="1.1" fill-opacity="0.42" stroke-opacity="0.55"/>
<circle cx="807.6" cy="729" r="5.6" fill="#19DDE8" stroke="#19DDE8" stroke-width="1" fill-opacity="0.28" stroke-opacity="0.45"/>
<circle cx="807.6" cy="870.6" r="5.6" fill="#19DDE8" stroke="#19DDE8" stroke-width="1" fill-opacity="0.28" stroke-opacity="0.45"/>
<circle cx="807.6" cy="887.6" r="5.6" fill="#19DDE8" stroke="#19DDE8" stroke-width="1" fill-opacity="0.28" stroke-opacity="0.45"/>
<circle cx="807.6" cy="1028" r="5.6" fill="#19DDE8" stroke="#19DDE8" stroke-width="1" fill-opacity="0.28" stroke-opacity="0.45"/>
<circle cx="807.6" cy="1030.6" r="5.6" fill="#19DDE8" stroke="#19DDE8" stroke-width="1" fill-opacity="0.28" stroke-opacity="0.45"/>
<circle cx="807.6" cy="1055" r="5.6" fill="#19DDE8" stroke="#19DDE8" stroke-width="1" fill-opacity="0.28" stroke-opacity="0.45"/>
<circle cx="807.6" cy="1060" r="5.6" fill="#19DDE8" stroke="#19DDE8" stroke-width="1" fill-opacity="0.28" stroke-opacity="0.45"/>
<line x1="807.6" y1="729" x2="807.6" y2="870.6" stroke="#747474" stroke-width="2.8" />
<line x1="807.6" y1="1037.3" x2="807.6" y2="1059" stroke="#747474" stroke-width="2.8" />
<rect x="784.5" y="870.6" width="46.2" height="166.7" fill="#CCFFFF" stroke="#747474" stroke-width="2.8"/>
<line x1="784.5" y1="958.3" x2="830.7" y2="958.3" stroke="#747474" stroke-width="5.6" />
<circle cx="807.6" cy="729" r="5.6" fill="#19DDE8" stroke="#19DDE8" stroke-width="1.1" fill-opacity="0.42" stroke-opacity="0.55"/>
<circle cx="807.6" cy="870.6" r="5.6" fill="#19DDE8" stroke="#19DDE8" stroke-width="1.1" fill-opacity="0.42" stroke-opacity="0.55"/>
<circle cx="807.6" cy="887.6" r="5.6" fill="#19DDE8" stroke="#19DDE8" stroke-width="1.1" fill-opacity="0.42" stroke-opacity="0.55"/>
<circle cx="807.6" cy="1028" r="5.6" fill="#19DDE8" stroke="#19DDE8" stroke-width="1.1" fill-opacity="0.42" stroke-opacity="0.55"/>
<circle cx="807.6" cy="1030.6" r="5.6" fill="#19DDE8" stroke="#19DDE8" stroke-width="1.1" fill-opacity="0.42" stroke-opacity="0.55"/>
<circle cx="807.6" cy="1055" r="5.6" fill="#19DDE8" stroke="#19DDE8" stroke-width="1.1" fill-opacity="0.42" stroke-opacity="0.55"/>
<circle cx="807.6" cy="1060" r="5.6" fill="#19DDE8" stroke="#19DDE8" stroke-width="1.1" fill-opacity="0.42" stroke-opacity="0.55"/>
<circle cx="893.3" cy="939" r="5.6" fill="#F2C318" stroke="#F2C318" stroke-width="1" fill-opacity="0.28" stroke-opacity="0.45"/>
<circle cx="893.3" cy="946.6" r="5.6" fill="#F2C318" stroke="#F2C318" stroke-width="1" fill-opacity="0.28" stroke-opacity="0.45"/>
<circle cx="893.3" cy="968.3" r="5.6" fill="#F2C318" stroke="#F2C318" stroke-width="1" fill-opacity="0.28" stroke-opacity="0.45"/>
<circle cx="893.3" cy="990.6" r="5.6" fill="#F2C318" stroke="#F2C318" stroke-width="1" fill-opacity="0.28" stroke-opacity="0.45"/>
<circle cx="893.3" cy="1013.3" r="5.6" fill="#F2C318" stroke="#F2C318" stroke-width="1" fill-opacity="0.28" stroke-opacity="0.45"/>
<circle cx="893.3" cy="1063.3" r="5.6" fill="#F2C318" stroke="#F2C318" stroke-width="1" fill-opacity="0.28" stroke-opacity="0.45"/>
<line x1="893.3" y1="940" x2="893.3" y2="951.6" stroke="#747474" stroke-width="2.8" />
<line x1="893.3" y1="1008.3" x2="893.3" y2="1063.3" stroke="#747474" stroke-width="2.8" />
<rect x="870.2" y="951.6" width="46.2" height="56.7" fill="#FFF5CC" stroke="#747474" stroke-width="2.8"/>
<line x1="870.2" y1="979.3" x2="916.4" y2="979.3" stroke="#747474" stroke-width="5.6" />
<circle cx="893.3" cy="939" r="5.6" fill="#F2C318" stroke="#F2C318" stroke-width="1.1" fill-opacity="0.42" stroke-opacity="0.55"/>
<circle cx="893.3" cy="946.6" r="5.6" fill="#F2C318" stroke="#F2C318" stroke-width="1.1" fill-opacity="0.42" stroke-opacity="0.55"/>
<circle cx="893.3" cy="968.3" r="5.6" fill="#F2C318" stroke="#F2C318" stroke-width="1.1" fill-opacity="0.42" stroke-opacity="0.55"/>
<circle cx="893.3" cy="990.6" r="5.6" fill="#F2C318" stroke="#F2C318" stroke-width="1.1" fill-opacity="0.42" stroke-opacity="0.55"/>
<circle cx="893.3" cy="1013.3" r="5.6" fill="#F2C318" stroke="#F2C318" stroke-width="1.1" fill-opacity="0.42" stroke-opacity="0.55"/>
<circle cx="893.3" cy="1063.3" r="5.6" fill="#F2C318" stroke="#F2C318" stroke-width="1.1" fill-opacity="0.42" stroke-opacity="0.55"/>
<circle cx="953.6" cy="885" r="5.6" fill="#19DDE8" stroke="#19DDE8" stroke-width="1" fill-opacity="0.28" stroke-opacity="0.45"/>
<circle cx="953.6" cy="913.3" r="5.6" fill="#19DDE8" stroke="#19DDE8" stroke-width="1" fill-opacity="0.28" stroke-opacity="0.45"/>
<circle cx="953.6" cy="939.3" r="5.6" fill="#19DDE8" stroke="#19DDE8" stroke-width="1" fill-opacity="0.28" stroke-opacity="0.45"/>
<circle cx="953.6" cy="945" r="5.6" fill="#19DDE8" stroke="#19DDE8" stroke-width="1" fill-opacity="0.28" stroke-opacity="0.45"/>
<circle cx="953.6" cy="953.3" r="5.6" fill="#19DDE8" stroke="#19DDE8" stroke-width="1" fill-opacity="0.28" stroke-opacity="0.45"/>
<circle cx="953.6" cy="981.6" r="5.6" fill="#19DDE8" stroke="#19DDE8" stroke-width="1" fill-opacity="0.28" stroke-opacity="0.45"/>
<circle cx="953.6" cy="1005.6" r="5.6" fill="#19DDE8" stroke="#19DDE8" stroke-width="1" fill-opacity="0.28" stroke-opacity="0.45"/>
<line x1="953.6" y1="913.3" x2="953.6" y2="930.6" stroke="#747474" stroke-width="2.8" />
<line x1="953.6" y1="960.6" x2="953.6" y2="1005.6" stroke="#747474" stroke-width="2.8" />
<rect x="930.5" y="930.6" width="46.2" height="30" fill="#CCFFFF" stroke="#747474" stroke-width="2.8"/>
<line x1="930.5" y1="945" x2="976.7" y2="945" stroke="#747474" stroke-width="5.6" />
<circle cx="953.6" cy="885" r="5.6" fill="#19DDE8" stroke="#19DDE8" stroke-width="1.1" fill-opacity="0.42" stroke-opacity="0.55"/>
<circle cx="953.6" cy="913.3" r="5.6" fill="#19DDE8" stroke="#19DDE8" stroke-width="1.1" fill-opacity="0.42" stroke-opacity="0.55"/>
<circle cx="953.6" cy="939.3" r="5.6" fill="#19DDE8" stroke="#19DDE8" stroke-width="1.1" fill-opacity="0.42" stroke-opacity="0.55"/>
<circle cx="953.6" cy="945" r="5.6" fill="#19DDE8" stroke="#19DDE8" stroke-width="1.1" fill-opacity="0.42" stroke-opacity="0.55"/>
<circle cx="953.6" cy="953.3" r="5.6" fill="#19DDE8" stroke="#19DDE8" stroke-width="1.1" fill-opacity="0.42" stroke-opacity="0.55"/>
<circle cx="953.6" cy="981.6" r="5.6" fill="#19DDE8" stroke="#19DDE8" stroke-width="1.1" fill-opacity="0.42" stroke-opacity="0.55"/>
<circle cx="953.6" cy="1005.6" r="5.6" fill="#19DDE8" stroke="#19DDE8" stroke-width="1.1" fill-opacity="0.42" stroke-opacity="0.55"/>
<text x="598.3" y="1261.6" font-size="20.5" font-family='"DejaVu Sans", sans-serif' fill="#111">effect Y14F genotype pvalue = 0.0281</text>
<text x="598.3" y="1287" font-size="20.5" font-family='"DejaVu Sans", sans-serif' fill="#111">effect Oleate treatment pvalue &gt;0.05</text>
<text x="598.3" y="1312.6" font-size="20.5" font-family='"DejaVu Sans", sans-serif' fill="#111">interaction Oleate:Y14F genotype pvalue &gt;0.05</text>
</g>
<g id="panel-f">
<text x="1130.2" y="663.3" font-size="69.2" font-family='"DejaVu Sans", sans-serif' font-weight="bold">f</text>
<text x="1310" y="646.6" font-size="33" font-family='"DejaVu Sans", sans-serif' text-anchor="middle" fill="#111">Control</text>
<text x="1616.5" y="646.6" font-size="33" font-family='"DejaVu Sans", sans-serif' text-anchor="middle" fill="#111">Oleate</text>
<text x="1161" y="804.5" font-size="39.5" font-family='"Liberation Sans", sans-serif' text-anchor="middle" fill="#111" transform="rotate(-90 1161 804.5)">+/+</text>
<text x="1161" y="1110.3" font-size="39.5" font-family='"Liberation Sans", sans-serif' text-anchor="middle" fill="#111" transform="rotate(-90 1161 1110.3)">Y14F/Y14F</text>
<clipPath id="cftl"><rect x="1179.1" y="653.6" width="301" height="300"/></clipPath>
<rect x="1179.1" y="653.6" width="301" height="300" fill="#010a01"/>
<g clip-path="url(#cftl)">
<g filter="url(#bl11)">
<ellipse cx="1341.2" cy="882.8" rx="98.9" ry="62.8" fill="#22cc22" opacity="0.09"/>
<ellipse cx="1198.5" cy="930.4" rx="49.5" ry="38.1" fill="#22cc22" opacity="0.08"/>
<ellipse cx="1331.7" cy="816.2" rx="22.8" ry="30.4" fill="#22cc22" opacity="0.07"/>
<ellipse cx="1388.8" cy="844.8" rx="57.1" ry="38.1" fill="#22cc22" opacity="0.04"/>
<ellipse cx="1322.2" cy="930.4" rx="57.1" ry="38.1" fill="#22cc22" opacity="0.06"/>
<ellipse cx="1436.4" cy="835.3" rx="38.1" ry="47.6" fill="#22cc22" opacity="0.03"/>
<ellipse cx="1234.7" cy="873.3" rx="8.6" ry="8.6" fill="#22cc22" opacity="0.19"/>
<ellipse cx="1181.4" cy="778.2" rx="11.4" ry="57.1" fill="#22cc22" opacity="0.03"/>
<ellipse cx="1322.2" cy="683.1" rx="171.2" ry="47.6" fill="#000" opacity="0.50"/>
<ellipse cx="1445.9" cy="740.1" rx="41.9" ry="66.6" fill="#000" opacity="0.40"/>
</g>
<rect x="1179.1" y="653.6" width="301" height="300" filter="url(#ggrain)" opacity="0.07"/>
<g filter="url(#bl0.7)" fill="#30e830">
<circle cx="1344.4" cy="851.9" r="1" opacity="0.38"/>
<circle cx="1297.9" cy="822.3" r="1.2" opacity="0.15"/>
<circle cx="1354.7" cy="797.4" r="0.8" opacity="0.20"/>
<circle cx="1332.7" cy="781.4" r="1.2" opacity="0.27"/>
<circle cx="1329" cy="803.7" r="1.2" opacity="0.19"/>
<circle cx="1370.8" cy="803.5" r="0.8" opacity="0.32"/>
<circle cx="1392.9" cy="835.1" r="1.2" opacity="0.16"/>
<circle cx="1352.9" cy="764" r="1" opacity="0.27"/>
<circle cx="1327.9" cy="758.7" r="1.2" opacity="0.35"/>
<circle cx="1293.1" cy="836.6" r="1.2" opacity="0.26"/>
<circle cx="1404.1" cy="793.1" r="0.8" opacity="0.16"/>
<circle cx="1315.5" cy="816.9" r="1.2" opacity="0.26"/>
<circle cx="1321.5" cy="799" r="1.2" opacity="0.36"/>
<circle cx="1304.5" cy="800.4" r="1" opacity="0.30"/>
<circle cx="1382.8" cy="791.8" r="0.8" opacity="0.36"/>
<circle cx="1390.8" cy="813.8" r="0.8" opacity="0.32"/>
<circle cx="1322" cy="847.9" r="1.2" opacity="0.29"/>
<circle cx="1336.1" cy="797.1" r="1.2" opacity="0.22"/>
<circle cx="1368.3" cy="839.3" r="1.2" opacity="0.40"/>
<circle cx="1392" cy="843.3" r="1" opacity="0.37"/>
<circle cx="1376.1" cy="820" r="1" opacity="0.37"/>
<circle cx="1385.4" cy="827" r="0.8" opacity="0.24"/>
<circle cx="1305.2" cy="797.6" r="1" opacity="0.28"/>
<circle cx="1369.9" cy="816" r="0.8" opacity="0.18"/>
<circle cx="1262.1" cy="800.8" r="1" opacity="0.22"/>
<circle cx="1337" cy="859.7" r="1" opacity="0.23"/>
<circle cx="1409.8" cy="800.6" r="1" opacity="0.24"/>
<circle cx="1363.7" cy="795.7" r="1.2" opacity="0.32"/>
<circle cx="1412.7" cy="862.3" r="1.2" opacity="0.22"/>
<circle cx="1306.1" cy="782.4" r="1" opacity="0.26"/>
<circle cx="1339.8" cy="840.4" r="1" opacity="0.15"/>
<circle cx="1303.5" cy="835.3" r="0.8" opacity="0.24"/>
<circle cx="1326.1" cy="808.1" r="1.2" opacity="0.31"/>
<circle cx="1292.1" cy="825.3" r="1" opacity="0.30"/>
<circle cx="1334.3" cy="848.8" r="1.2" opacity="0.17"/>
<circle cx="1302.9" cy="750.6" r="1" opacity="0.31"/>
<circle cx="1327.6" cy="853.1" r="0.8" opacity="0.24"/>
<circle cx="1329" cy="841.5" r="1.2" opacity="0.22"/>
<circle cx="1344.9" cy="803.2" r="0.8" opacity="0.39"/>
<circle cx="1334.1" cy="802.4" r="1.2" opacity="0.21"/>
<circle cx="1324.1" cy="750.2" r="1.4" opacity="0.85"/>
<circle cx="1375.9" cy="734" r="1.4" opacity="0.85"/>
<circle cx="1303.8" cy="723.6" r="1.1" opacity="0.60"/>
<circle cx="1224.2" cy="762" r="1.1" opacity="0.60"/>
<circle cx="1348.8" cy="794.7" r="1.4" opacity="0.85"/>
<circle cx="1339.3" cy="798.3" r="1.4" opacity="0.85"/>
<circle cx="1389.2" cy="799.5" r="1.8" opacity="1.00"/>
<circle cx="1389.2" cy="799.5" r="0.9" fill="#6f6" opacity="0.80"/>
<circle cx="1332.3" cy="807.7" r="1.4" opacity="0.85"/>
<circle cx="1382.5" cy="815.7" r="1.4" opacity="0.85"/>
<circle cx="1336.1" cy="832" r="1.8" opacity="1.00"/>
<circle cx="1336.1" cy="832" r="0.9" fill="#6f6" opacity="0.80"/>
<circle cx="1331.1" cy="845.9" r="1.8" opacity="1.00"/>
<circle cx="1331.1" cy="845.9" r="0.9" fill="#6f6" opacity="0.80"/>
<circle cx="1238.5" cy="866.7" r="1.8" opacity="1.00"/>
<circle cx="1238.5" cy="866.7" r="0.9" fill="#6f6" opacity="0.80"/>
<circle cx="1233.7" cy="875.6" r="1.4" opacity="0.85"/>
<circle cx="1259.8" cy="860" r="1.1" opacity="0.60"/>
<circle cx="1386.9" cy="790.5" r="1.1" opacity="0.60"/>
<circle cx="1379.3" cy="808.2" r="1.1" opacity="0.60"/>
<circle cx="1304.7" cy="809.2" r="1.1" opacity="0.60"/>
<circle cx="1271.8" cy="812.8" r="1.1" opacity="0.60"/>
<circle cx="1288.9" cy="781.6" r="1.1" opacity="0.60"/>
<circle cx="1366.9" cy="899" r="1.1" opacity="0.60"/>
<circle cx="1413.5" cy="747.7" r="0.9" opacity="0.40"/>
<circle cx="1293.7" cy="718.2" r="0.9" opacity="0.40"/>
<circle cx="1468.7" cy="803.9" r="0.9" opacity="0.40"/>
<circle cx="1476.3" cy="812.4" r="0.9" opacity="0.40"/>
<circle cx="1181.4" cy="750.6" r="0.9" opacity="0.40"/>
<circle cx="1273.7" cy="846.7" r="0.9" opacity="0.40"/>
<circle cx="1377.4" cy="793.4" r="0.9" opacity="0.40"/>
</g>
<rect x="1398" y="941.9" width="75.8" height="7" fill="#fff"/>
</g>
<clipPath id="cftr"><rect x="1485.1" y="653.6" width="301.6" height="300"/></clipPath>
<rect x="1485.1" y="653.6" width="301.6" height="300" fill="#000400"/>
<g clip-path="url(#cftr)">
<g filter="url(#bl11)">
<ellipse cx="1672" cy="730.6" rx="38.1" ry="49.5" fill="#22cc22" opacity="0.17"/>
<ellipse cx="1679.6" cy="763" rx="11.4" ry="22.8" fill="#22cc22" opacity="0.10"/>
<ellipse cx="1707.2" cy="768.7" rx="3" ry="43.8" fill="#22cc22" opacity="0.14"/>
<ellipse cx="1535" cy="869.5" rx="7.2" ry="7.2" fill="#22cc22" opacity="0.17"/>
<ellipse cx="1609.2" cy="869.5" rx="49.5" ry="43.8" fill="#22cc22" opacity="0.06"/>
<ellipse cx="1656.7" cy="707.8" rx="15.2" ry="15.2" fill="#22cc22" opacity="0.07"/>
<ellipse cx="1609.2" cy="743.9" rx="28.5" ry="9.5" fill="#22cc22" opacity="0.03"/>
</g>
<rect x="1485.1" y="653.6" width="301.6" height="300" filter="url(#ggrain)" opacity="0.03"/>
<g filter="url(#bl0.7)" fill="#30e830">
<circle cx="1676.6" cy="714" r="0.8" opacity="0.32"/>
<circle cx="1666.9" cy="721.9" r="1.2" opacity="0.23"/>
<circle cx="1653.9" cy="769.6" r="1" opacity="0.35"/>
<circle cx="1679.5" cy="728.2" r="1.2" opacity="0.31"/>
<circle cx="1687.6" cy="713.4" r="0.8" opacity="0.35"/>
<circle cx="1718.7" cy="743.3" r="1" opacity="0.35"/>
<circle cx="1678.4" cy="717.7" r="1" opacity="0.24"/>
<circle cx="1675.8" cy="721.7" r="1.2" opacity="0.24"/>
<circle cx="1682.8" cy="745" r="1" opacity="0.27"/>
<circle cx="1661.5" cy="715.9" r="1.2" opacity="0.25"/>
<circle cx="1681.7" cy="724" r="0.8" opacity="0.27"/>
<circle cx="1685.1" cy="701.8" r="1.2" opacity="0.26"/>
<circle cx="1713.4" cy="713.8" r="0.8" opacity="0.16"/>
<circle cx="1641.3" cy="741.3" r="1.2" opacity="0.28"/>
<circle cx="1667.7" cy="751.7" r="0.8" opacity="0.37"/>
<circle cx="1703.7" cy="681.4" r="0.8" opacity="0.35"/>
<circle cx="1711.5" cy="745" r="1.2" opacity="0.28"/>
<circle cx="1684.5" cy="777.4" r="1" opacity="0.29"/>
<circle cx="1703.3" cy="733.9" r="0.8" opacity="0.28"/>
<circle cx="1672.2" cy="735.4" r="1.2" opacity="0.25"/>
<circle cx="1696.3" cy="718.4" r="1" opacity="0.18"/>
<circle cx="1695.3" cy="725.4" r="0.8" opacity="0.24"/>
<circle cx="1679.6" cy="758.4" r="0.8" opacity="0.19"/>
<circle cx="1683.1" cy="678.8" r="0.8" opacity="0.36"/>
<circle cx="1698.7" cy="732.2" r="1" opacity="0.16"/>
<circle cx="1669.9" cy="749.3" r="1.2" opacity="0.28"/>
<circle cx="1687.9" cy="737.2" r="0.8" opacity="0.36"/>
<circle cx="1672.9" cy="723.4" r="0.8" opacity="0.17"/>
<circle cx="1708.8" cy="723.2" r="0.8" opacity="0.28"/>
<circle cx="1660.9" cy="731.5" r="0.8" opacity="0.24"/>
<circle cx="1656.7" cy="705.4" r="1" opacity="0.22"/>
<circle cx="1692" cy="728.7" r="0.8" opacity="0.29"/>
<circle cx="1668" cy="707.9" r="0.8" opacity="0.29"/>
<circle cx="1692.3" cy="737.7" r="1.2" opacity="0.35"/>
<circle cx="1647" cy="759.8" r="1.2" opacity="0.37"/>
<circle cx="1697.2" cy="741.6" r="1.2" opacity="0.23"/>
<circle cx="1690.8" cy="723" r="0.8" opacity="0.21"/>
<circle cx="1643.4" cy="722.4" r="0.8" opacity="0.35"/>
<circle cx="1673.6" cy="743" r="0.8" opacity="0.38"/>
<circle cx="1643.4" cy="766.7" r="1" opacity="0.18"/>
<circle cx="1655.5" cy="678.2" r="1.2" opacity="0.32"/>
<circle cx="1697.6" cy="703.2" r="1.2" opacity="0.18"/>
<circle cx="1662.2" cy="757.3" r="1.2" opacity="0.33"/>
<circle cx="1658.2" cy="733.5" r="1" opacity="0.16"/>
<circle cx="1679.3" cy="736.5" r="1" opacity="0.19"/>
<circle cx="1708.1" cy="737.3" r="0.8" opacity="0.16"/>
<circle cx="1688.3" cy="748.7" r="1.2" opacity="0.39"/>
<circle cx="1642" cy="710.3" r="0.8" opacity="0.40"/>
<circle cx="1650.5" cy="719.3" r="0.8" opacity="0.18"/>
<circle cx="1671.7" cy="675.1" r="0.8" opacity="0.29"/>
<circle cx="1680.2" cy="719.6" r="0.8" opacity="0.21"/>
<circle cx="1678.1" cy="746.9" r="1.2" opacity="0.33"/>
<circle cx="1685.6" cy="724.2" r="1.2" opacity="0.25"/>
<circle cx="1660.3" cy="750.6" r="0.8" opacity="0.24"/>
<circle cx="1676" cy="785.2" r="1.2" opacity="0.39"/>
<circle cx="1650.7" cy="746.3" r="1.2" opacity="0.32"/>
<circle cx="1650.2" cy="727.7" r="1.2" opacity="0.25"/>
<circle cx="1680.6" cy="721.4" r="1" opacity="0.34"/>
<circle cx="1691.8" cy="716.3" r="1" opacity="0.30"/>
<circle cx="1678.4" cy="720.6" r="0.8" opacity="0.19"/>
<circle cx="1553.9" cy="864.7" r="1.2" opacity="0.28"/>
<circle cx="1615.7" cy="838.8" r="1" opacity="0.30"/>
<circle cx="1550.3" cy="839.1" r="0.8" opacity="0.23"/>
<circle cx="1604.3" cy="907.1" r="0.8" opacity="0.19"/>
<circle cx="1595.8" cy="883.7" r="0.8" opacity="0.25"/>
<circle cx="1597.2" cy="838.7" r="0.8" opacity="0.27"/>
<circle cx="1631.6" cy="836" r="1.2" opacity="0.16"/>
<circle cx="1618.4" cy="869.1" r="1" opacity="0.35"/>
<circle cx="1614.6" cy="865.2" r="0.8" opacity="0.37"/>
<circle cx="1584.6" cy="840.4" r="0.8" opacity="0.39"/>
<circle cx="1619.9" cy="857.1" r="0.8" opacity="0.34"/>
<circle cx="1630.7" cy="891.7" r="1.2" opacity="0.36"/>
<circle cx="1623.9" cy="860" r="0.8" opacity="0.23"/>
<circle cx="1575.1" cy="885.2" r="0.8" opacity="0.18"/>
<circle cx="1604.5" cy="915.7" r="0.8" opacity="0.24"/>
<circle cx="1577.9" cy="854.3" r="0.8" opacity="0.16"/>
<circle cx="1597.8" cy="887.3" r="0.8" opacity="0.20"/>
<circle cx="1558.2" cy="842.9" r="1" opacity="0.18"/>
<circle cx="1588.5" cy="908.9" r="0.8" opacity="0.32"/>
<circle cx="1647" cy="897.9" r="1" opacity="0.17"/>
<circle cx="1630.7" cy="862.2" r="1" opacity="0.34"/>
<circle cx="1599.1" cy="899.6" r="1.2" opacity="0.39"/>
<circle cx="1613.8" cy="860.4" r="1" opacity="0.32"/>
<circle cx="1597.8" cy="867.2" r="1" opacity="0.28"/>
<circle cx="1627.7" cy="875.9" r="1.2" opacity="0.29"/>
<circle cx="1623.4" cy="896.9" r="1.2" opacity="0.19"/>
<circle cx="1572.4" cy="903.6" r="1" opacity="0.18"/>
<circle cx="1621.1" cy="864.7" r="1" opacity="0.31"/>
<circle cx="1594.5" cy="851.9" r="1" opacity="0.31"/>
<circle cx="1589.3" cy="874.3" r="0.8" opacity="0.33"/>
<circle cx="1620.9" cy="877.8" r="1.2" opacity="0.29"/>
<circle cx="1607.7" cy="849.8" r="1" opacity="0.22"/>
<circle cx="1621.3" cy="873.2" r="1" opacity="0.28"/>
<circle cx="1609.9" cy="905.3" r="1" opacity="0.37"/>
<circle cx="1633.6" cy="861.8" r="0.8" opacity="0.24"/>
<circle cx="1615.8" cy="861.1" r="1" opacity="0.30"/>
<circle cx="1596.4" cy="845" r="1.2" opacity="0.18"/>
<circle cx="1599.3" cy="843.8" r="1.2" opacity="0.34"/>
<circle cx="1625" cy="837.6" r="1.2" opacity="0.30"/>
<circle cx="1636.2" cy="840.6" r="1.2" opacity="0.28"/>
<circle cx="1649.1" cy="701.1" r="1.8" opacity="1.00"/>
<circle cx="1649.1" cy="701.1" r="0.9" fill="#6f6" opacity="0.80"/>
<circle cx="1682.4" cy="686.9" r="1.4" opacity="0.85"/>
<circle cx="1637.3" cy="725.5" r="1.4" opacity="0.85"/>
<circle cx="1653.9" cy="721.1" r="1.1" opacity="0.60"/>
<circle cx="1681.1" cy="725.5" r="1.4" opacity="0.85"/>
<circle cx="1695.7" cy="719.2" r="1.4" opacity="0.85"/>
<circle cx="1697.7" cy="728.7" r="1.4" opacity="0.85"/>
<circle cx="1703.4" cy="728.1" r="1.1" opacity="0.60"/>
<circle cx="1698.6" cy="710.6" r="1.1" opacity="0.60"/>
<circle cx="1677.7" cy="760.1" r="1.4" opacity="0.85"/>
<circle cx="1651" cy="757.3" r="1.1" opacity="0.60"/>
<circle cx="1688.1" cy="756.3" r="1.1" opacity="0.60"/>
<circle cx="1610.7" cy="810" r="1.4" opacity="0.85"/>
<circle cx="1588.3" cy="803.9" r="1.1" opacity="0.60"/>
<circle cx="1605" cy="830.5" r="1.4" opacity="0.85"/>
<circle cx="1668.2" cy="848" r="1.4" opacity="0.85"/>
<circle cx="1638.7" cy="854.3" r="1.8" opacity="1.00"/>
<circle cx="1638.7" cy="854.3" r="0.9" fill="#6f6" opacity="0.80"/>
<circle cx="1636.8" cy="854.7" r="1.4" opacity="0.85"/>
<circle cx="1626.3" cy="849.5" r="1.1" opacity="0.60"/>
<circle cx="1550.2" cy="853.7" r="1.8" opacity="1.00"/>
<circle cx="1550.2" cy="853.7" r="0.9" fill="#6f6" opacity="0.80"/>
<circle cx="1555" cy="855.2" r="1.8" opacity="1.00"/>
<circle cx="1555" cy="855.2" r="0.9" fill="#6f6" opacity="0.80"/>
<circle cx="1561.6" cy="849.5" r="1.1" opacity="0.60"/>
<circle cx="1567.9" cy="849.5" r="1.4" opacity="0.85"/>
<circle cx="1582.5" cy="861.3" r="1.8" opacity="1.00"/>
<circle cx="1582.5" cy="861.3" r="0.9" fill="#6f6" opacity="0.80"/>
<circle cx="1576.8" cy="855.2" r="1.1" opacity="0.60"/>
<circle cx="1567.3" cy="860" r="1.1" opacity="0.60"/>
<circle cx="1595.9" cy="873.3" r="1.1" opacity="0.60"/>
<circle cx="1598.7" cy="879.4" r="1.1" opacity="0.60"/>
<circle cx="1611.1" cy="891.8" r="1.8" opacity="1.00"/>
<circle cx="1611.1" cy="891.8" r="0.9" fill="#6f6" opacity="0.80"/>
<circle cx="1616.8" cy="886.6" r="1.1" opacity="0.60"/>
<circle cx="1621" cy="910.4" r="1.4" opacity="0.85"/>
<circle cx="1603.5" cy="924.7" r="1.1" opacity="0.60"/>
<circle cx="1599.7" cy="919.9" r="1.1" opacity="0.60"/>
<circle cx="1663.4" cy="855.2" r="1.1" opacity="0.60"/>
<circle cx="1677.1" cy="825.4" r="1.1" opacity="0.60"/>
<circle cx="1644.4" cy="877.1" r="1.1" opacity="0.60"/>
<circle cx="1632" cy="834.3" r="1.1" opacity="0.60"/>
<circle cx="1721.4" cy="675.4" r="0.9" opacity="0.40"/>
<circle cx="1728.1" cy="679.2" r="0.9" opacity="0.40"/>
<circle cx="1610.1" cy="680.2" r="0.9" opacity="0.40"/>
<circle cx="1598.7" cy="943.7" r="0.9" opacity="0.40"/>
<circle cx="1527.4" cy="919" r="0.9" opacity="0.40"/>
<circle cx="1509.3" cy="947.5" r="0.9" opacity="0.40"/>
</g>
<rect x="1705" y="941.9" width="75.8" height="7" fill="#fff"/>
</g>
<clipPath id="cfbl"><rect x="1179.1" y="959.9" width="301" height="300.6"/></clipPath>
<rect x="1179.1" y="959.9" width="301" height="300.6" fill="#041904"/>
<g clip-path="url(#cfbl)">
<g filter="url(#bl11)">
<ellipse cx="1270.8" cy="1092.7" rx="13.3" ry="49.5" fill="#22cc22" opacity="0.09"/>
<ellipse cx="1413.5" cy="1056.5" rx="20.9" ry="24.7" fill="#22cc22" opacity="0.12"/>
<ellipse cx="1445.9" cy="1138.4" rx="15.2" ry="15.2" fill="#22cc22" opacity="0.12"/>
<ellipse cx="1232.8" cy="1130.7" rx="20.9" ry="34.2" fill="#22cc22" opacity="0.08"/>
<ellipse cx="1284.2" cy="1225.9" rx="41.9" ry="34.2" fill="#22cc22" opacity="0.06"/>
<ellipse cx="1436.4" cy="1216.4" rx="47.6" ry="38.1" fill="#22cc22" opacity="0.06"/>
<ellipse cx="1261.3" cy="1003.3" rx="11.4" ry="7.6" fill="#22cc22" opacity="0.08"/>
<ellipse cx="1436.4" cy="1007.1" rx="34.2" ry="30.4" fill="#22cc22" opacity="0.06"/>
<ellipse cx="1341.2" cy="1083.2" rx="38.1" ry="28.5" fill="#22cc22" opacity="0.04"/>
<ellipse cx="1436.4" cy="1098.4" rx="26.6" ry="38.1" fill="#22cc22" opacity="0.08"/>
<ellipse cx="1268.9" cy="1140.3" rx="24.7" ry="38.1" fill="#22cc22" opacity="0.07"/>
<ellipse cx="1206.1" cy="1111.7" rx="5.3" ry="5.3" fill="#22cc22" opacity="0.17"/>
<ellipse cx="1360.3" cy="1016.6" rx="38.1" ry="28.5" fill="#22cc22" opacity="0.03"/>
<ellipse cx="1223.3" cy="1064.2" rx="41.9" ry="36.1" fill="#000" opacity="0.45"/>
<ellipse cx="1350.7" cy="1168.8" rx="57.1" ry="41.9" fill="#000" opacity="0.40"/>
<ellipse cx="1341.2" cy="997.6" rx="47.6" ry="24.7" fill="#000" opacity="0.25"/>
<ellipse cx="1198.5" cy="1187.8" rx="28.5" ry="28.5" fill="#000" opacity="0.20"/>
</g>
<rect x="1179.1" y="959.9" width="301" height="300.6" filter="url(#ggrain)" opacity="0.1"/>
<g filter="url(#bl0.7)" fill="#30e830">
<circle cx="1429.7" cy="1003.6" r="1" opacity="0.24"/>
<circle cx="1431.4" cy="1030" r="1" opacity="0.37"/>
<circle cx="1456.2" cy="1003.3" r="1.2" opacity="0.38"/>
<circle cx="1432.8" cy="1020.6" r="1.2" opacity="0.32"/>
<circle cx="1429.8" cy="1030.4" r="1" opacity="0.16"/>
<circle cx="1449" cy="1023.4" r="0.8" opacity="0.34"/>
<circle cx="1429.7" cy="994.8" r="1.2" opacity="0.31"/>
<circle cx="1449.6" cy="1027.6" r="0.8" opacity="0.16"/>
<circle cx="1415.5" cy="1007" r="1" opacity="0.18"/>
<circle cx="1435" cy="1024.8" r="0.8" opacity="0.18"/>
<circle cx="1446.5" cy="990.4" r="0.8" opacity="0.16"/>
<circle cx="1425.2" cy="997.1" r="1" opacity="0.28"/>
<circle cx="1453.8" cy="1002.4" r="1" opacity="0.32"/>
<circle cx="1462.7" cy="1025.4" r="1.2" opacity="0.34"/>
<circle cx="1447" cy="1008.1" r="1" opacity="0.40"/>
<circle cx="1441.9" cy="1011.4" r="0.8" opacity="0.26"/>
<circle cx="1441" cy="992.8" r="0.8" opacity="0.35"/>
<circle cx="1412.4" cy="1020.1" r="1.2" opacity="0.19"/>
<circle cx="1413.6" cy="1007.4" r="1.2" opacity="0.36"/>
<circle cx="1445.3" cy="1020.9" r="0.8" opacity="0.27"/>
<circle cx="1440.9" cy="994.6" r="0.8" opacity="0.26"/>
<circle cx="1453" cy="1009.3" r="1" opacity="0.26"/>
<circle cx="1429" cy="1016.7" r="0.8" opacity="0.35"/>
<circle cx="1439.3" cy="1018.9" r="1" opacity="0.28"/>
<circle cx="1442.1" cy="1009.3" r="1.2" opacity="0.25"/>
<circle cx="1442.2" cy="1009.6" r="0.8" opacity="0.30"/>
<circle cx="1429.9" cy="1009.9" r="0.8" opacity="0.25"/>
<circle cx="1438.3" cy="1010" r="1.2" opacity="0.16"/>
<circle cx="1426" cy="1014.2" r="0.8" opacity="0.38"/>
<circle cx="1449.6" cy="1000.9" r="1" opacity="0.27"/>
<circle cx="1452.4" cy="1021.9" r="1" opacity="0.38"/>
<circle cx="1414.4" cy="994.5" r="1" opacity="0.22"/>
<circle cx="1444.7" cy="993.6" r="1" opacity="0.27"/>
<circle cx="1436.2" cy="1005.9" r="1" opacity="0.31"/>
<circle cx="1435.9" cy="1011.6" r="1.2" opacity="0.26"/>
<circle cx="1453.1" cy="1108.1" r="0.8" opacity="0.16"/>
<circle cx="1443.7" cy="1099.6" r="0.8" opacity="0.27"/>
<circle cx="1442.7" cy="1115.9" r="1" opacity="0.20"/>
<circle cx="1452.4" cy="1088.8" r="1" opacity="0.38"/>
<circle cx="1439.9" cy="1090.7" r="1" opacity="0.34"/>
<circle cx="1426.7" cy="1077.3" r="1" opacity="0.20"/>
<circle cx="1421.9" cy="1105.6" r="1.2" opacity="0.23"/>
<circle cx="1422.4" cy="1049.2" r="0.8" opacity="0.36"/>
<circle cx="1445.6" cy="1077.1" r="1.2" opacity="0.24"/>
<circle cx="1446.7" cy="1127.1" r="1" opacity="0.21"/>
<circle cx="1439.4" cy="1069.1" r="1" opacity="0.36"/>
<circle cx="1412.5" cy="1091.1" r="1.2" opacity="0.32"/>
<circle cx="1440.4" cy="1090.8" r="0.8" opacity="0.33"/>
<circle cx="1452.2" cy="1096.1" r="1.2" opacity="0.32"/>
<circle cx="1445" cy="1101.5" r="1.2" opacity="0.16"/>
<circle cx="1432.9" cy="1088.4" r="1" opacity="0.37"/>
<circle cx="1435" cy="1073.9" r="1" opacity="0.15"/>
<circle cx="1444.9" cy="1127.3" r="0.8" opacity="0.23"/>
<circle cx="1430.5" cy="1113.9" r="1.2" opacity="0.20"/>
<circle cx="1421.5" cy="1039.3" r="1.2" opacity="0.19"/>
<circle cx="1443.3" cy="1091.8" r="1" opacity="0.39"/>
<circle cx="1439.8" cy="1119.1" r="1" opacity="0.28"/>
<circle cx="1446.8" cy="1082.6" r="1.2" opacity="0.35"/>
<circle cx="1416.9" cy="1098.6" r="0.8" opacity="0.36"/>
<circle cx="1438.8" cy="1095.7" r="0.8" opacity="0.20"/>
<circle cx="1441.1" cy="1087.2" r="1" opacity="0.25"/>
<circle cx="1446.2" cy="1064.6" r="0.8" opacity="0.31"/>
<circle cx="1438.4" cy="1050.4" r="1" opacity="0.25"/>
<circle cx="1423.2" cy="1061.9" r="1" opacity="0.36"/>
<circle cx="1414.6" cy="1071.2" r="0.8" opacity="0.18"/>
<circle cx="1448.4" cy="1093.5" r="1.2" opacity="0.17"/>
<circle cx="1427" cy="1112.5" r="0.8" opacity="0.38"/>
<circle cx="1431.1" cy="1074.3" r="1.2" opacity="0.17"/>
<circle cx="1425.6" cy="1090.8" r="0.8" opacity="0.23"/>
<circle cx="1430.9" cy="1096.4" r="0.8" opacity="0.23"/>
<circle cx="1436.3" cy="1078.4" r="0.8" opacity="0.37"/>
<circle cx="1455.9" cy="1090.3" r="1.2" opacity="0.28"/>
<circle cx="1406.1" cy="1117.6" r="1.2" opacity="0.39"/>
<circle cx="1411.9" cy="1096.3" r="1" opacity="0.27"/>
<circle cx="1433.1" cy="1089.8" r="0.8" opacity="0.20"/>
<circle cx="1455.2" cy="1111.7" r="1" opacity="0.28"/>
<circle cx="1451.3" cy="1101.6" r="0.8" opacity="0.34"/>
<circle cx="1433.9" cy="1114.7" r="1" opacity="0.27"/>
<circle cx="1444.5" cy="1127.2" r="0.8" opacity="0.18"/>
<circle cx="1431.9" cy="1113.2" r="0.8" opacity="0.20"/>
<circle cx="1246.5" cy="1143.3" r="1" opacity="0.39"/>
<circle cx="1294" cy="1134.8" r="1" opacity="0.39"/>
<circle cx="1242.3" cy="1161" r="1" opacity="0.28"/>
<circle cx="1257.7" cy="1135.1" r="1" opacity="0.22"/>
<circle cx="1243.8" cy="1150.3" r="1" opacity="0.34"/>
<circle cx="1282.5" cy="1129.5" r="0.8" opacity="0.18"/>
<circle cx="1253.9" cy="1135.3" r="0.8" opacity="0.39"/>
<circle cx="1304.4" cy="1141" r="1" opacity="0.24"/>
<circle cx="1280.4" cy="1136" r="1.2" opacity="0.16"/>
<circle cx="1269.7" cy="1143.4" r="1" opacity="0.38"/>
<circle cx="1277.5" cy="1115.8" r="0.8" opacity="0.26"/>
<circle cx="1267.6" cy="1171.4" r="1" opacity="0.25"/>
<circle cx="1268.7" cy="1146.5" r="1" opacity="0.16"/>
<circle cx="1276.4" cy="1139.9" r="1.2" opacity="0.21"/>
<circle cx="1282.7" cy="1166.8" r="1" opacity="0.28"/>
<circle cx="1276.6" cy="1117.1" r="1" opacity="0.15"/>
<circle cx="1282.6" cy="1147" r="0.8" opacity="0.37"/>
<circle cx="1280.5" cy="1127.2" r="1.2" opacity="0.34"/>
<circle cx="1290.7" cy="1095.9" r="1.2" opacity="0.25"/>
<circle cx="1261.4" cy="1138.8" r="0.8" opacity="0.17"/>
<circle cx="1283.9" cy="1170.7" r="0.8" opacity="0.25"/>
<circle cx="1260.8" cy="1158.7" r="1" opacity="0.26"/>
<circle cx="1275.9" cy="1137.2" r="1" opacity="0.18"/>
<circle cx="1282.8" cy="1145.9" r="0.8" opacity="0.36"/>
<circle cx="1284.4" cy="1128.2" r="0.8" opacity="0.23"/>
<circle cx="1263.9" cy="1134.3" r="0.8" opacity="0.22"/>
<circle cx="1262.1" cy="1095.6" r="0.8" opacity="0.26"/>
<circle cx="1271.8" cy="1142.8" r="1" opacity="0.37"/>
<circle cx="1286.1" cy="1132.8" r="0.8" opacity="0.23"/>
<circle cx="1258.7" cy="1165.4" r="1" opacity="0.23"/>
<circle cx="1265" cy="1191" r="1" opacity="0.23"/>
<circle cx="1261.1" cy="1150.9" r="0.8" opacity="0.25"/>
<circle cx="1246.3" cy="1163.5" r="1" opacity="0.21"/>
<circle cx="1270.5" cy="1148.4" r="1.2" opacity="0.18"/>
<circle cx="1264.7" cy="1132.3" r="0.8" opacity="0.39"/>
<circle cx="1287.7" cy="1135.1" r="1" opacity="0.22"/>
<circle cx="1259.2" cy="1142" r="1.2" opacity="0.29"/>
<circle cx="1275.4" cy="1161.8" r="0.8" opacity="0.19"/>
<circle cx="1275.4" cy="1132.9" r="1" opacity="0.32"/>
<circle cx="1264.8" cy="1131" r="0.8" opacity="0.20"/>
<circle cx="1339.3" cy="1085.7" r="1.2" opacity="0.36"/>
<circle cx="1355" cy="1090.1" r="0.8" opacity="0.28"/>
<circle cx="1344.1" cy="1096.4" r="1" opacity="0.20"/>
<circle cx="1359.6" cy="1093.6" r="0.8" opacity="0.19"/>
<circle cx="1363.1" cy="1100.3" r="1.2" opacity="0.17"/>
<circle cx="1366.8" cy="1117.9" r="0.8" opacity="0.39"/>
<circle cx="1351.2" cy="1103.4" r="1" opacity="0.18"/>
<circle cx="1363.1" cy="1082.1" r="1.2" opacity="0.24"/>
<circle cx="1350.4" cy="1072.8" r="1.2" opacity="0.25"/>
<circle cx="1335" cy="1090.4" r="0.8" opacity="0.28"/>
<circle cx="1357.1" cy="1086.1" r="1.2" opacity="0.22"/>
<circle cx="1350.7" cy="1073.8" r="1" opacity="0.39"/>
<circle cx="1356.9" cy="1086.9" r="1" opacity="0.36"/>
<circle cx="1368.4" cy="1104" r="0.8" opacity="0.25"/>
<circle cx="1357.3" cy="1088.7" r="0.8" opacity="0.19"/>
<circle cx="1364.6" cy="1100.8" r="1.2" opacity="0.32"/>
<circle cx="1318.7" cy="1089.6" r="0.8" opacity="0.27"/>
<circle cx="1336" cy="1087.8" r="1.2" opacity="0.30"/>
<circle cx="1340.7" cy="1104.9" r="1" opacity="0.31"/>
<circle cx="1325.8" cy="1083.1" r="1.2" opacity="0.38"/>
<circle cx="1374.2" cy="1076.2" r="1" opacity="0.39"/>
<circle cx="1347.2" cy="1099.6" r="1.2" opacity="0.28"/>
<circle cx="1348.8" cy="1082.3" r="1.2" opacity="0.21"/>
<circle cx="1337" cy="1096.3" r="0.8" opacity="0.27"/>
<circle cx="1312.7" cy="1088.1" r="1.2" opacity="0.28"/>
<circle cx="1193.8" cy="1001" r="1.8" opacity="1.00"/>
<circle cx="1193.8" cy="1001" r="0.9" fill="#6f6" opacity="0.80"/>
<circle cx="1183.3" cy="1006.1" r="1.1" opacity="0.60"/>
<circle cx="1284.2" cy="1017.5" r="1.4" opacity="0.85"/>
<circle cx="1279.4" cy="1027.6" r="1.1" opacity="0.60"/>
<circle cx="1277.5" cy="1032.8" r="1.1" opacity="0.60"/>
<circle cx="1415.4" cy="998.5" r="1.4" opacity="0.85"/>
<circle cx="1422.1" cy="1005.2" r="1.1" opacity="0.60"/>
<circle cx="1440.2" cy="1004.2" r="1.1" opacity="0.60"/>
<circle cx="1449.7" cy="1000.4" r="1.1" opacity="0.60"/>
<circle cx="1456.3" cy="1005.2" r="1.4" opacity="0.85"/>
<circle cx="1464.9" cy="998.5" r="1.1" opacity="0.60"/>
<circle cx="1472.5" cy="1000.4" r="1.1" opacity="0.60"/>
<circle cx="1442.1" cy="989" r="1.1" opacity="0.60"/>
<circle cx="1352.6" cy="1049.9" r="1.1" opacity="0.60"/>
<circle cx="1352.3" cy="1064.2" r="1.1" opacity="0.60"/>
<circle cx="1345" cy="1079.4" r="1.1" opacity="0.60"/>
<circle cx="1347.9" cy="1085.5" r="1.4" opacity="0.85"/>
<circle cx="1331.7" cy="1079.4" r="1.1" opacity="0.60"/>
<circle cx="1323.2" cy="1077.5" r="1.1" opacity="0.60"/>
<circle cx="1422.5" cy="1055" r="1.4" opacity="0.85"/>
<circle cx="1435" cy="1065.5" r="1.4" opacity="0.85"/>
<circle cx="1438.3" cy="1073.7" r="1.8" opacity="1.00"/>
<circle cx="1438.3" cy="1073.7" r="0.9" fill="#6f6" opacity="0.80"/>
<circle cx="1445.3" cy="1080.3" r="1.8" opacity="1.00"/>
<circle cx="1445.3" cy="1080.3" r="0.9" fill="#6f6" opacity="0.80"/>
<circle cx="1420.2" cy="1080.3" r="1.4" opacity="0.85"/>
<circle cx="1424" cy="1087.4" r="1.8" opacity="1.00"/>
<circle cx="1424" cy="1087.4" r="0.9" fill="#6f6" opacity="0.80"/>
<circle cx="1425.9" cy="1088.9" r="1.8" opacity="1.00"/>
<circle cx="1425.9" cy="1088.9" r="0.9" fill="#6f6" opacity="0.80"/>
<circle cx="1436.4" cy="1090.8" r="1.4" opacity="0.85"/>
<circle cx="1422.1" cy="1097.5" r="1.4" opacity="0.85"/>
<circle cx="1435.4" cy="1101.6" r="1.8" opacity="1.00"/>
<circle cx="1435.4" cy="1101.6" r="0.9" fill="#6f6" opacity="0.80"/>
<circle cx="1426.8" cy="1104.1" r="1.1" opacity="0.60"/>
<circle cx="1451" cy="1105.1" r="1.4" opacity="0.85"/>
<circle cx="1462" cy="1105.1" r="1.1" opacity="0.60"/>
<circle cx="1474.4" cy="1106.4" r="1.1" opacity="0.60"/>
<circle cx="1367.9" cy="1104.5" r="1.4" opacity="0.85"/>
<circle cx="1379.3" cy="1105.1" r="1.1" opacity="0.60"/>
<circle cx="1386.9" cy="1106.4" r="1.1" opacity="0.60"/>
<circle cx="1354.2" cy="1103.7" r="1.1" opacity="0.60"/>
<circle cx="1263.2" cy="1108.9" r="1.1" opacity="0.60"/>
<circle cx="1275.2" cy="1114" r="1.4" opacity="0.85"/>
<circle cx="1280.9" cy="1113.2" r="1.1" opacity="0.60"/>
<circle cx="1273.7" cy="1122.8" r="1.8" opacity="1.00"/>
<circle cx="1273.7" cy="1122.8" r="0.9" fill="#6f6" opacity="0.80"/>
<circle cx="1280.9" cy="1128.3" r="1.4" opacity="0.85"/>
<circle cx="1263.2" cy="1141.8" r="1.8" opacity="1.00"/>
<circle cx="1263.2" cy="1141.8" r="0.9" fill="#6f6" opacity="0.80"/>
<circle cx="1248" cy="1138" r="1.1" opacity="0.60"/>
<circle cx="1273.7" cy="1147.9" r="1.1" opacity="0.60"/>
<circle cx="1257.5" cy="1150.2" r="1.4" opacity="0.85"/>
<circle cx="1283.2" cy="1155.1" r="1.8" opacity="1.00"/>
<circle cx="1283.2" cy="1155.1" r="0.9" fill="#6f6" opacity="0.80"/>
<circle cx="1274.3" cy="1161.8" r="1.4" opacity="0.85"/>
<circle cx="1287.4" cy="1164.4" r="1.4" opacity="0.85"/>
<circle cx="1278.4" cy="1187.8" r="1.8" opacity="1.00"/>
<circle cx="1278.4" cy="1187.8" r="0.9" fill="#6f6" opacity="0.80"/>
<circle cx="1249" cy="1177.4" r="1.1" opacity="0.60"/>
<circle cx="1388.2" cy="1201.7" r="1.4" opacity="0.85"/>
<circle cx="1401.5" cy="1230.3" r="1.4" opacity="0.85"/>
<circle cx="1440.2" cy="1190.7" r="1.1" opacity="0.60"/>
<circle cx="1181.4" cy="1094.6" r="1.1" opacity="0.60"/>
<circle cx="1478.2" cy="1142.2" r="1.4" opacity="0.85"/>
<circle cx="1444.9" cy="1119.3" r="1.1" opacity="0.60"/>
<circle cx="1459.2" cy="1119.3" r="1.1" opacity="0.60"/>
<circle cx="1223.3" cy="970" r="0.9" opacity="0.40"/>
</g>
<rect x="1398" y="1248.1" width="75.8" height="7" fill="#fff"/>
</g>
<clipPath id="cfbr"><rect x="1485.1" y="959.9" width="301.6" height="300.6"/></clipPath>
<rect x="1485.1" y="959.9" width="301.6" height="300.6" fill="#031303"/>
<g clip-path="url(#cfbr)">
<g filter="url(#bl11)">
<ellipse cx="1643.4" cy="1007.1" rx="72.3" ry="49.5" fill="#22cc22" opacity="0.11"/>
<ellipse cx="1647.2" cy="1159.3" rx="41.9" ry="47.6" fill="#22cc22" opacity="0.08"/>
<ellipse cx="1609.2" cy="1140.3" rx="7.6" ry="38.1" fill="#22cc22" opacity="0.06"/>
<ellipse cx="1696.7" cy="1155.5" rx="7.6" ry="22.8" fill="#22cc22" opacity="0.07"/>
<ellipse cx="1675.8" cy="1206.8" rx="47.6" ry="22.8" fill="#22cc22" opacity="0.07"/>
<ellipse cx="1514.1" cy="1140.3" rx="38.1" ry="57.1" fill="#22cc22" opacity="0.03"/>
<ellipse cx="1673.9" cy="988.1" rx="15.2" ry="11.4" fill="#22cc22" opacity="0.08"/>
<ellipse cx="1761.4" cy="1102.2" rx="43.8" ry="171.2" fill="#000" opacity="0.80"/>
<ellipse cx="1656.7" cy="1246.8" rx="51.4" ry="32.3" fill="#000" opacity="0.70"/>
<ellipse cx="1523.6" cy="1235.4" rx="47.6" ry="28.5" fill="#000" opacity="0.30"/>
<ellipse cx="1514.1" cy="1007.1" rx="38.1" ry="47.6" fill="#000" opacity="0.25"/>
</g>
<rect x="1485.1" y="959.9" width="301.6" height="300.6" filter="url(#ggrain)" opacity="0.07"/>
<g filter="url(#bl0.7)" fill="#30e830">
<circle cx="1600.3" cy="1018" r="0.8" opacity="0.25"/>
<circle cx="1599.9" cy="997.8" r="1" opacity="0.16"/>
<circle cx="1663.4" cy="990" r="0.8" opacity="0.24"/>
<circle cx="1652.7" cy="1034" r="0.8" opacity="0.26"/>
<circle cx="1678.7" cy="981.6" r="1" opacity="0.15"/>
<circle cx="1621.2" cy="1022.2" r="1" opacity="0.24"/>
<circle cx="1604.1" cy="970.7" r="1.2" opacity="0.27"/>
<circle cx="1643.3" cy="1007.2" r="0.8" opacity="0.30"/>
<circle cx="1652.2" cy="1014" r="1" opacity="0.26"/>
<circle cx="1646" cy="1012" r="1.2" opacity="0.38"/>
<circle cx="1590.2" cy="999.4" r="1.2" opacity="0.36"/>
<circle cx="1674.1" cy="994.8" r="1.2" opacity="0.30"/>
<circle cx="1567.2" cy="1004.1" r="0.8" opacity="0.27"/>
<circle cx="1664.6" cy="995.6" r="0.8" opacity="0.18"/>
<circle cx="1675.2" cy="1047.3" r="1" opacity="0.16"/>
<circle cx="1641" cy="1009.2" r="0.8" opacity="0.27"/>
<circle cx="1657.8" cy="1018.5" r="1.2" opacity="0.26"/>
<circle cx="1609.7" cy="983.8" r="1" opacity="0.22"/>
<circle cx="1608.4" cy="979.1" r="0.8" opacity="0.17"/>
<circle cx="1682.9" cy="981.8" r="1" opacity="0.17"/>
<circle cx="1681.4" cy="1008.6" r="1" opacity="0.31"/>
<circle cx="1684" cy="1025" r="1.2" opacity="0.25"/>
<circle cx="1583.5" cy="984.5" r="0.8" opacity="0.31"/>
<circle cx="1653.9" cy="1005.2" r="1.2" opacity="0.16"/>
<circle cx="1680.7" cy="996.5" r="1.2" opacity="0.36"/>
<circle cx="1669.7" cy="1043.8" r="1.2" opacity="0.25"/>
<circle cx="1623" cy="1027.1" r="1.2" opacity="0.21"/>
<circle cx="1616.1" cy="998.2" r="1.2" opacity="0.18"/>
<circle cx="1598" cy="1001.1" r="1" opacity="0.23"/>
<circle cx="1671.6" cy="984.7" r="1.2" opacity="0.33"/>
<circle cx="1646.8" cy="1014.4" r="1" opacity="0.36"/>
<circle cx="1616.8" cy="988.5" r="0.8" opacity="0.20"/>
<circle cx="1672.7" cy="1021.7" r="1.2" opacity="0.25"/>
<circle cx="1648.5" cy="1020.7" r="0.8" opacity="0.23"/>
<circle cx="1644.8" cy="1052.1" r="1.2" opacity="0.36"/>
<circle cx="1675" cy="1014.8" r="1" opacity="0.21"/>
<circle cx="1636.7" cy="1026.7" r="0.8" opacity="0.32"/>
<circle cx="1634.7" cy="1016" r="0.8" opacity="0.23"/>
<circle cx="1652.8" cy="1018.8" r="1" opacity="0.32"/>
<circle cx="1654.1" cy="1038.9" r="1.2" opacity="0.21"/>
<circle cx="1626.9" cy="982.4" r="1.2" opacity="0.28"/>
<circle cx="1605.2" cy="989.3" r="1" opacity="0.24"/>
<circle cx="1679.8" cy="1019.9" r="1" opacity="0.27"/>
<circle cx="1620.3" cy="998.8" r="1" opacity="0.32"/>
<circle cx="1654.2" cy="1046.8" r="1" opacity="0.24"/>
<circle cx="1681.7" cy="1006.4" r="0.8" opacity="0.18"/>
<circle cx="1585.3" cy="1028.3" r="0.8" opacity="0.30"/>
<circle cx="1675.2" cy="1023.9" r="1" opacity="0.27"/>
<circle cx="1579" cy="996.4" r="1" opacity="0.24"/>
<circle cx="1673.1" cy="1012.3" r="1.2" opacity="0.20"/>
<circle cx="1690.3" cy="1027.6" r="1.2" opacity="0.30"/>
<circle cx="1600.1" cy="990.5" r="1" opacity="0.29"/>
<circle cx="1706.6" cy="1004.1" r="1.2" opacity="0.31"/>
<circle cx="1674.4" cy="996.5" r="1.2" opacity="0.33"/>
<circle cx="1621" cy="1027.2" r="1.2" opacity="0.20"/>
<circle cx="1637.4" cy="1020.7" r="1" opacity="0.33"/>
<circle cx="1634.5" cy="1018.7" r="1.2" opacity="0.27"/>
<circle cx="1607.4" cy="1000.8" r="1" opacity="0.29"/>
<circle cx="1607.9" cy="1033.3" r="1.2" opacity="0.27"/>
<circle cx="1655.3" cy="1031.8" r="0.8" opacity="0.18"/>
<circle cx="1627.7" cy="1003.6" r="1" opacity="0.37"/>
<circle cx="1610.1" cy="1004.9" r="0.8" opacity="0.27"/>
<circle cx="1633.7" cy="992.6" r="1" opacity="0.18"/>
<circle cx="1679.3" cy="999.1" r="1" opacity="0.19"/>
<circle cx="1609.1" cy="1031.3" r="1" opacity="0.29"/>
<circle cx="1621.3" cy="1006.1" r="0.8" opacity="0.21"/>
<circle cx="1641.8" cy="1027.3" r="1" opacity="0.38"/>
<circle cx="1685.7" cy="1026.9" r="0.8" opacity="0.21"/>
<circle cx="1556.5" cy="1022.9" r="1" opacity="0.36"/>
<circle cx="1649.6" cy="1012.1" r="1" opacity="0.22"/>
<circle cx="1611.3" cy="1005.9" r="1" opacity="0.34"/>
<circle cx="1592.7" cy="1006.2" r="1" opacity="0.39"/>
<circle cx="1618.2" cy="1014.9" r="1" opacity="0.30"/>
<circle cx="1635.6" cy="1011.4" r="0.8" opacity="0.26"/>
<circle cx="1702.3" cy="1007.4" r="0.8" opacity="0.28"/>
<circle cx="1705.3" cy="994.8" r="1.2" opacity="0.31"/>
<circle cx="1641.4" cy="1037.8" r="1.2" opacity="0.34"/>
<circle cx="1663.1" cy="1000.1" r="0.8" opacity="0.20"/>
<circle cx="1656" cy="1004.7" r="1" opacity="0.33"/>
<circle cx="1668.1" cy="1029.2" r="1.2" opacity="0.35"/>
<circle cx="1640.3" cy="990.3" r="0.8" opacity="0.31"/>
<circle cx="1657" cy="999.2" r="0.8" opacity="0.32"/>
<circle cx="1615.7" cy="987.9" r="1.2" opacity="0.26"/>
<circle cx="1689.2" cy="1005.9" r="1" opacity="0.19"/>
<circle cx="1649.3" cy="999.7" r="1.2" opacity="0.32"/>
<circle cx="1647.5" cy="1012" r="1.2" opacity="0.33"/>
<circle cx="1659.4" cy="989.2" r="0.8" opacity="0.35"/>
<circle cx="1597.4" cy="1032.6" r="1" opacity="0.38"/>
<circle cx="1635" cy="976.8" r="1" opacity="0.26"/>
<circle cx="1652.9" cy="987.9" r="0.8" opacity="0.19"/>
<circle cx="1657.2" cy="1220.3" r="1.2" opacity="0.18"/>
<circle cx="1666.9" cy="1204.6" r="0.8" opacity="0.16"/>
<circle cx="1697.1" cy="1214.4" r="0.8" opacity="0.26"/>
<circle cx="1641.8" cy="1211.4" r="1.2" opacity="0.25"/>
<circle cx="1688.8" cy="1207.5" r="1.2" opacity="0.26"/>
<circle cx="1672.7" cy="1216.7" r="1" opacity="0.28"/>
<circle cx="1719.8" cy="1229.1" r="1.2" opacity="0.38"/>
<circle cx="1693" cy="1224.6" r="1" opacity="0.40"/>
<circle cx="1686.9" cy="1222.8" r="1" opacity="0.18"/>
<circle cx="1648.6" cy="1212.6" r="0.8" opacity="0.34"/>
<circle cx="1676.4" cy="1210.1" r="0.8" opacity="0.27"/>
<circle cx="1713.1" cy="1213.1" r="1" opacity="0.38"/>
<circle cx="1709.8" cy="1218.1" r="1" opacity="0.35"/>
<circle cx="1634.5" cy="1213.7" r="0.8" opacity="0.23"/>
<circle cx="1653.4" cy="1207.7" r="1.2" opacity="0.16"/>
<circle cx="1690.9" cy="1210.8" r="0.8" opacity="0.19"/>
<circle cx="1645.1" cy="1225.5" r="1.2" opacity="0.28"/>
<circle cx="1669" cy="1208.8" r="1.2" opacity="0.23"/>
<circle cx="1693.1" cy="1200.8" r="1" opacity="0.17"/>
<circle cx="1651.5" cy="1187.3" r="1" opacity="0.32"/>
<circle cx="1655.1" cy="1231.3" r="1" opacity="0.27"/>
<circle cx="1671.1" cy="1210.8" r="1" opacity="0.27"/>
<circle cx="1648.2" cy="1196.2" r="1.2" opacity="0.21"/>
<circle cx="1654.2" cy="1226.5" r="1.2" opacity="0.27"/>
<circle cx="1640.8" cy="1222.4" r="1.2" opacity="0.23"/>
<circle cx="1692.2" cy="1215.8" r="1.2" opacity="0.16"/>
<circle cx="1656.6" cy="1219.6" r="1" opacity="0.17"/>
<circle cx="1687.9" cy="1225.7" r="1" opacity="0.26"/>
<circle cx="1648.3" cy="1220.2" r="1" opacity="0.26"/>
<circle cx="1713.2" cy="1217.6" r="1" opacity="0.24"/>
<circle cx="1672.9" cy="1202.8" r="0.8" opacity="0.18"/>
<circle cx="1705.1" cy="1198" r="0.8" opacity="0.31"/>
<circle cx="1674.2" cy="1206.8" r="1" opacity="0.27"/>
<circle cx="1655.5" cy="1222.7" r="1" opacity="0.30"/>
<circle cx="1667.6" cy="1213.2" r="1.2" opacity="0.33"/>
<circle cx="1689.2" cy="1208.4" r="1.2" opacity="0.35"/>
<circle cx="1660.5" cy="1179" r="0.8" opacity="0.25"/>
<circle cx="1664" cy="1212.1" r="0.8" opacity="0.30"/>
<circle cx="1694.5" cy="1209.2" r="0.8" opacity="0.38"/>
<circle cx="1663.5" cy="1215.3" r="0.8" opacity="0.32"/>
<circle cx="1595.5" cy="973.2" r="1.4" opacity="0.85"/>
<circle cx="1612" cy="980.1" r="1.4" opacity="0.85"/>
<circle cx="1613.9" cy="974.7" r="1.1" opacity="0.60"/>
<circle cx="1602.5" cy="982.3" r="1.1" opacity="0.60"/>
<circle cx="1596.8" cy="990" r="1.4" opacity="0.85"/>
<circle cx="1586.4" cy="995.7" r="1.4" opacity="0.85"/>
<circle cx="1579.7" cy="990.3" r="1.1" opacity="0.60"/>
<circle cx="1612.6" cy="993.4" r="2.4" opacity="1.00"/>
<circle cx="1612.6" cy="993.4" r="1.2" fill="#6f6" opacity="0.80"/>
<circle cx="1632" cy="1000.4" r="1.4" opacity="0.85"/>
<circle cx="1637.7" cy="994.7" r="1.4" opacity="0.85"/>
<circle cx="1617.7" cy="1017.5" r="1.8" opacity="1.00"/>
<circle cx="1617.7" cy="1017.5" r="0.9" fill="#6f6" opacity="0.80"/>
<circle cx="1601.6" cy="1021.9" r="1.4" opacity="0.85"/>
<circle cx="1617.7" cy="1032.8" r="1.8" opacity="1.00"/>
<circle cx="1617.7" cy="1032.8" r="0.9" fill="#6f6" opacity="0.80"/>
<circle cx="1631.1" cy="1032.8" r="1.1" opacity="0.60"/>
<circle cx="1611.1" cy="1048.9" r="1.8" opacity="1.00"/>
<circle cx="1611.1" cy="1048.9" r="0.9" fill="#6f6" opacity="0.80"/>
<circle cx="1590.2" cy="1035.6" r="1.1" opacity="0.60"/>
<circle cx="1666.3" cy="986.1" r="1.1" opacity="0.60"/>
<circle cx="1677.7" cy="992.2" r="1.8" opacity="1.00"/>
<circle cx="1677.7" cy="992.2" r="0.9" fill="#6f6" opacity="0.80"/>
<circle cx="1670.1" cy="1000.4" r="1.1" opacity="0.60"/>
<circle cx="1695.7" cy="993.4" r="1.4" opacity="0.85"/>
<circle cx="1707.2" cy="996" r="1.1" opacity="0.60"/>
<circle cx="1692.9" cy="1006.1" r="1.8" opacity="1.00"/>
<circle cx="1692.9" cy="1006.1" r="0.9" fill="#6f6" opacity="0.80"/>
<circle cx="1701.5" cy="1005.2" r="1.8" opacity="1.00"/>
<circle cx="1701.5" cy="1005.2" r="0.9" fill="#6f6" opacity="0.80"/>
<circle cx="1705.3" cy="1006.1" r="1.4" opacity="0.85"/>
<circle cx="1685.3" cy="1011.8" r="1.4" opacity="0.85"/>
<circle cx="1694.8" cy="1011.3" r="1.4" opacity="0.85"/>
<circle cx="1657.7" cy="1005.2" r="1.1" opacity="0.60"/>
<circle cx="1706.6" cy="1022.7" r="1.1" opacity="0.60"/>
<circle cx="1701.5" cy="1035.6" r="1.1" opacity="0.60"/>
<circle cx="1549.2" cy="1111.7" r="1.4" opacity="0.85"/>
<circle cx="1551.2" cy="1220.7" r="2.4" opacity="1.00"/>
<circle cx="1551.2" cy="1220.7" r="1.2" fill="#6f6" opacity="0.80"/>
<circle cx="1488.4" cy="1193.5" r="1.1" opacity="0.60"/>
<circle cx="1650.1" cy="1183.1" r="1.8" opacity="1.00"/>
<circle cx="1650.1" cy="1183.1" r="0.9" fill="#6f6" opacity="0.80"/>
<circle cx="1652.9" cy="1197.3" r="1.4" opacity="0.85"/>
<circle cx="1658.6" cy="1192.6" r="1.1" opacity="0.60"/>
<circle cx="1633" cy="1208.8" r="1.8" opacity="1.00"/>
<circle cx="1633" cy="1208.8" r="0.9" fill="#6f6" opacity="0.80"/>
<circle cx="1619.6" cy="1218.3" r="1.4" opacity="0.85"/>
<circle cx="1682.4" cy="1201.1" r="1.8" opacity="1.00"/>
<circle cx="1682.4" cy="1201.1" r="0.9" fill="#6f6" opacity="0.80"/>
<circle cx="1674.8" cy="1209.7" r="1.1" opacity="0.60"/>
<circle cx="1669.1" cy="1205.9" r="1.1" opacity="0.60"/>
<circle cx="1683.4" cy="1220.2" r="1.4" opacity="0.85"/>
<circle cx="1718.6" cy="1223" r="1.8" opacity="1.00"/>
<circle cx="1718.6" cy="1223" r="0.9" fill="#6f6" opacity="0.80"/>
<circle cx="1707.2" cy="1204.9" r="1.1" opacity="0.60"/>
<circle cx="1698.6" cy="1240.1" r="1.4" opacity="0.85"/>
<circle cx="1707.2" cy="1241.1" r="1.1" opacity="0.60"/>
<circle cx="1712.9" cy="1229.7" r="1.1" opacity="0.60"/>
<circle cx="1696.7" cy="1209.7" r="1.1" opacity="0.60"/>
<circle cx="1673.9" cy="1214.5" r="1.1" opacity="0.60"/>
<circle cx="1630.1" cy="1187.8" r="1.1" opacity="0.60"/>
</g>
<rect x="1705" y="1248.1" width="75.8" height="7" fill="#fff"/>
</g>
</g>
<g id="panel-g">
<text x="22" y="1478.3" font-size="69.2" font-family='"DejaVu Sans", sans-serif' font-weight="bold">g</text>
<text x="181" y="1495" font-size="21" font-family='"Liberation Sans", sans-serif' text-anchor="end" textLength="45" lengthAdjust="spacingAndGlyphs">Cells</text>
<text x="245.4" y="1493" font-size="21" font-family='"Liberation Sans", sans-serif' text-anchor="middle">+/+</text>
<text x="361.5" y="1492" font-size="21" font-family='"Liberation Sans", sans-serif' text-anchor="middle" textLength="103" lengthAdjust="spacingAndGlyphs">Y14F/Y14F</text>
<line x1="191.4" y1="1500.7" x2="302.5" y2="1500.7" stroke="#000" stroke-width="1.4" />
<line x1="308" y1="1500.7" x2="419.7" y2="1500.7" stroke="#000" stroke-width="1.4" />
<text x="178.5" y="1553.1" font-size="21" font-family='"Liberation Sans", sans-serif' text-anchor="end">250 kDa</text>
<line x1="185.7" y1="1546.1" x2="192.5" y2="1546.1" stroke="#000" stroke-width="1.5" />
<text x="178.5" y="1576.5" font-size="21" font-family='"Liberation Sans", sans-serif' text-anchor="end">150 kDa</text>
<line x1="185.7" y1="1569.5" x2="192.5" y2="1569.5" stroke="#000" stroke-width="1.5" />
<text x="178.5" y="1609" font-size="21" font-family='"Liberation Sans", sans-serif' text-anchor="end">100 kDa</text>
<line x1="185.7" y1="1602" x2="192.5" y2="1602" stroke="#000" stroke-width="1.5" />
<text x="178.5" y="1639.5" font-size="21" font-family='"Liberation Sans", sans-serif' text-anchor="end">75 kDa</text>
<line x1="185.7" y1="1632.5" x2="192.5" y2="1632.5" stroke="#000" stroke-width="1.5" />
<text x="178.5" y="1685.5" font-size="21" font-family='"Liberation Sans", sans-serif' text-anchor="end">50 kDa</text>
<line x1="185.7" y1="1678.5" x2="192.5" y2="1678.5" stroke="#000" stroke-width="1.5" />
<text x="178.5" y="1741.5" font-size="21" font-family='"Liberation Sans", sans-serif' text-anchor="end">37 kDa</text>
<line x1="185.7" y1="1734.5" x2="192.5" y2="1734.5" stroke="#000" stroke-width="1.5" />
<text x="178.5" y="1819.5" font-size="21" font-family='"Liberation Sans", sans-serif' text-anchor="end">25 kDa</text>
<line x1="185.7" y1="1812.5" x2="192.5" y2="1812.5" stroke="#000" stroke-width="1.5" />
<text x="178.5" y="1864" font-size="21" font-family='"Liberation Sans", sans-serif' text-anchor="end">20 kDa</text>
<line x1="185.7" y1="1857" x2="192.5" y2="1857" stroke="#000" stroke-width="1.5" />
<clipPath id="cg1"><rect x="192.2" y="1510.6" width="227.5" height="372.4"/></clipPath>
<rect x="192.2" y="1510.6" width="227.5" height="372.4" fill="#9b9b9b"/>
<g clip-path="url(#cg1)">
<g filter="url(#bl5)">
<rect x="248.7" y="1556.8" width="40.3" height="40.3" fill="#000" opacity="0.16" rx="16.1"/>
<rect x="252.3" y="1587" width="33" height="45.8" fill="#000" opacity="0.06" rx="13.2"/>
<rect x="368.6" y="1553.1" width="44" height="58.6" fill="#000" opacity="0.20" rx="17.6"/>
<rect x="371.4" y="1597.1" width="38.5" height="54.9" fill="#000" opacity="0.10" rx="15.4"/>
<ellipse cx="390.6" cy="1655.7" rx="18.3" ry="10.1" fill="#000" opacity="0.20"/>
<ellipse cx="275.2" cy="1655.7" rx="6.4" ry="5.5" fill="#000" opacity="0.08"/>
<ellipse cx="271.6" cy="1728.9" rx="17.4" ry="7.3" fill="#000" opacity="0.20"/>
<ellipse cx="387" cy="1732.6" rx="21.1" ry="8.2" fill="#000" opacity="0.42"/>
<ellipse cx="269.7" cy="1829.7" rx="18.3" ry="8.2" fill="#000" opacity="0.55"/>
<ellipse cx="383.3" cy="1824.2" rx="20.1" ry="15.6" fill="#000" opacity="0.30"/>
</g>
<g filter="url(#bl3.2)">
<rect x="249.6" y="1547.2" width="38.5" height="13.7" fill="#000" opacity="0.55" rx="5.5"/>
<rect x="369.6" y="1547.2" width="42.1" height="13.7" fill="#000" opacity="0.60" rx="5.5"/>
<rect x="245.9" y="1702.8" width="42.1" height="17.4" fill="#000" opacity="0.62" rx="7"/>
<rect x="264.2" y="1704.2" width="22" height="14.7" fill="#000" opacity="0.25" rx="5.9"/>
<rect x="364.1" y="1700.1" width="49.5" height="22.9" fill="#000" opacity="1.00" rx="9.2"/>
<rect x="366.8" y="1702.4" width="44" height="18.3" fill="#000" opacity="1.00" rx="7.3"/>
<rect x="196.5" y="1711.1" width="36.6" height="6.4" fill="#000" opacity="0.15" rx="2.6"/>
<rect x="307.3" y="1714.7" width="42.1" height="6.4" fill="#000" opacity="0.17" rx="2.6"/>
</g>
<g filter="url(#bl2.6)">
<rect x="193.7" y="1833.3" width="53.1" height="23.8" fill="#000" opacity="1.00" rx="9.5"/>
<rect x="196.5" y="1835.6" width="47.6" height="19.2" fill="#000" opacity="1.00" rx="7.7"/>
<rect x="247.8" y="1833.2" width="45.8" height="22.9" fill="#000" opacity="1.00" rx="9.2"/>
<rect x="250.5" y="1835.5" width="40.3" height="18.3" fill="#000" opacity="1.00" rx="7.3"/>
<rect x="297.2" y="1841.1" width="62.3" height="24.7" fill="#000" opacity="1.00" rx="9.9"/>
<rect x="300" y="1843.4" width="56.8" height="20.1" fill="#000" opacity="1.00" rx="8.1"/>
<rect x="356.7" y="1835.6" width="53.1" height="28.4" fill="#000" opacity="1.00" rx="11.4"/>
<rect x="359.5" y="1837.9" width="47.6" height="23.8" fill="#000" opacity="1.00" rx="9.5"/>
<rect x="411.7" y="1839.7" width="11" height="22" fill="#000" opacity="1.00" rx="4.4"/>
</g>
</g>
<rect x="192.2" y="1510.6" width="227.5" height="372.4" filter="url(#grain)" opacity="0.1"/>
<rect x="193.3" y="1511.7" width="225.3" height="370.2" fill="none" stroke="#111" stroke-width="2.2"/>
<line x1="297.6" y1="1512" x2="297.6" y2="1882" stroke="#222" stroke-width="1.2" stroke-dasharray="3.4 2"/>
<line x1="430" y1="1536.8" x2="430" y2="1697.8" stroke="#000" stroke-width="1.4" />
<line x1="430" y1="1612" x2="457.5" y2="1612" stroke="#000" stroke-width="1.4" /><path d="M460.5 1612 l-11.5 -5 l3.2 5 l-3.2 5 z" fill="#000"/>
<line x1="420" y1="1654.2" x2="446.5" y2="1654.2" stroke="#000" stroke-width="1.4" /><path d="M449.5 1654.2 l-11.5 -5 l3.2 5 l-3.2 5 z" fill="#000"/>
<line x1="420" y1="1711" x2="446.5" y2="1711" stroke="#000" stroke-width="1.4" /><path d="M449.5 1711 l-11.5 -5 l3.2 5 l-3.2 5 z" fill="#000"/>
<line x1="420" y1="1848.8" x2="444.5" y2="1848.8" stroke="#000" stroke-width="1.4" /><path d="M447.5 1848.8 l-11.5 -5 l3.2 5 l-3.2 5 z" fill="#000"/>
<text x="464" y="1619.5" font-size="21" font-family='"Liberation Sans", sans-serif' textLength="160.5" lengthAdjust="spacingAndGlyphs">Other Cav1 forms</text>
<text x="456.5" y="1663.5" font-size="21" font-family='"Liberation Sans", sans-serif' textLength="137" lengthAdjust="spacingAndGlyphs">Cav1/2 trimer</text>
<text x="453.6" y="1717.5" font-size="21" font-family='"Liberation Sans", sans-serif' textLength="133" lengthAdjust="spacingAndGlyphs">Cav1/2 dimer</text>
<text x="450" y="1855.5" font-size="21" font-family='"Liberation Sans", sans-serif' textLength="149" lengthAdjust="spacingAndGlyphs">Cav1 monomer</text>
<text x="176.5" y="1904" font-size="21" font-family='"Liberation Sans", sans-serif' text-anchor="end" textLength="136.5" lengthAdjust="spacingAndGlyphs">Hypo-osmotic</text>
<text x="214.2" y="1904" font-size="23" font-family='"Liberation Sans", sans-serif' font-weight="bold" text-anchor="middle">–</text>
<text x="271" y="1904" font-size="23" font-family='"Liberation Sans", sans-serif' font-weight="bold" text-anchor="middle">+</text>
<text x="332" y="1904" font-size="23" font-family='"Liberation Sans", sans-serif' font-weight="bold" text-anchor="middle">–</text>
<text x="389" y="1904" font-size="23" font-family='"Liberation Sans", sans-serif' font-weight="bold" text-anchor="middle">+</text>
<line x1="185.3" y1="1919" x2="427.3" y2="1919" stroke="#000" stroke-width="1.4" />
<text x="308.2" y="1949.5" font-size="21" font-family='"Liberation Sans", sans-serif' text-anchor="middle" textLength="77" lengthAdjust="spacingAndGlyphs">IB: Cav1</text>
<text x="308.2" y="1979.5" font-size="21" font-family='"Liberation Sans", sans-serif' text-anchor="middle" textLength="139" lengthAdjust="spacingAndGlyphs">High exposure</text>
</g>
<g id="panel-h">
<text x="579" y="1493.1" font-size="69.2" font-family='"DejaVu Sans", sans-serif' font-weight="bold">h</text>
<text x="653.5" y="1678" font-size="22.6" font-family='"Liberation Sans", sans-serif' text-anchor="middle" transform="rotate(-90 653.5 1678)">Fraction of total protein</text>
<rect x="707.6" y="1518.2" width="221.2" height="36" fill="#fff" stroke="#000" stroke-width="4.4" stroke-linejoin="round"/>
<text x="818.2" y="1542.7" font-size="18" font-family='"Liberation Sans", sans-serif' text-anchor="middle" fill="#1a1a1a">+/+</text>
<rect x="940.1" y="1518.2" width="221.6" height="36" fill="#fff" stroke="#000" stroke-width="4.4" stroke-linejoin="round"/>
<text x="1050.9" y="1542.7" font-size="18" font-family='"Liberation Sans", sans-serif' text-anchor="middle" fill="#1a1a1a">Y14F/Y14F</text>
<line x1="707.6" y1="1555" x2="707.6" y2="1801.7" stroke="#000" stroke-width="2.4" />
<line x1="706.5" y1="1800.5" x2="929" y2="1800.5" stroke="#000" stroke-width="2.4" />
<line x1="940.5" y1="1800.5" x2="1162" y2="1800.5" stroke="#000" stroke-width="2.4" />
<line x1="701.5" y1="1564.6" x2="706.5" y2="1564.6" stroke="#333" stroke-width="2.2" />
<text x="698.5" y="1571.2" font-size="18.7" font-family='"Liberation Sans", sans-serif' text-anchor="end" fill="#4d4d4d">1.00</text>
<line x1="701.5" y1="1620.8" x2="706.5" y2="1620.8" stroke="#333" stroke-width="2.2" />
<text x="698.5" y="1627.4" font-size="18.7" font-family='"Liberation Sans", sans-serif' text-anchor="end" fill="#4d4d4d">0.75</text>
<line x1="701.5" y1="1677.2" x2="706.5" y2="1677.2" stroke="#333" stroke-width="2.2" />
<text x="698.5" y="1683.8" font-size="18.7" font-family='"Liberation Sans", sans-serif' text-anchor="end" fill="#4d4d4d">0.50</text>
<line x1="701.5" y1="1733.5" x2="706.5" y2="1733.5" stroke="#333" stroke-width="2.2" />
<text x="698.5" y="1740.1" font-size="18.7" font-family='"Liberation Sans", sans-serif' text-anchor="end" fill="#4d4d4d">0.25</text>
<line x1="701.5" y1="1789.9" x2="706.5" y2="1789.9" stroke="#333" stroke-width="2.2" />
<text x="698.5" y="1796.5" font-size="18.7" font-family='"Liberation Sans", sans-serif' text-anchor="end" fill="#4d4d4d">0.00</text>
<line x1="767.4" y1="1801.5" x2="767.4" y2="1806.5" stroke="#333" stroke-width="2.2" />
<text x="767.4" y="1828" font-size="18" font-family='"Liberation Sans", sans-serif' text-anchor="middle" fill="#4d4d4d">Isoosmotic</text>
<line x1="868.2" y1="1801.5" x2="868.2" y2="1806.5" stroke="#333" stroke-width="2.2" />
<text x="868.2" y="1828" font-size="18" font-family='"Liberation Sans", sans-serif' text-anchor="middle" fill="#4d4d4d">Hypoosmotic</text>
<line x1="1000.3" y1="1801.5" x2="1000.3" y2="1806.5" stroke="#333" stroke-width="2.2" />
<text x="1000.3" y="1828" font-size="18" font-family='"Liberation Sans", sans-serif' text-anchor="middle" fill="#4d4d4d">Isoosmotic</text>
<line x1="1101" y1="1801.5" x2="1101" y2="1806.5" stroke="#333" stroke-width="2.2" />
<text x="1101" y="1828" font-size="18" font-family='"Liberation Sans", sans-serif' text-anchor="middle" fill="#4d4d4d">Hypoosmotic</text>
<rect x="722.5" y="1623.6" width="30.4" height="166.3" fill="#FFE6CD" stroke="#96500F" stroke-width="2.2"/>
<circle cx="740.9" cy="1575.3" r="4.7" fill="#F29C45" stroke="#F29C45" stroke-width="1.1" fill-opacity="0.5" stroke-opacity="0.75"/>
<circle cx="740.9" cy="1581.7" r="4.7" fill="#F29C45" stroke="#F29C45" stroke-width="1.1" fill-opacity="0.5" stroke-opacity="0.75"/>
<circle cx="740.9" cy="1631.2" r="4.7" fill="#F29C45" stroke="#F29C45" stroke-width="1.1" fill-opacity="0.5" stroke-opacity="0.75"/>
<circle cx="740.9" cy="1633.1" r="4.7" fill="#F29C45" stroke="#F29C45" stroke-width="1.1" fill-opacity="0.5" stroke-opacity="0.75"/>
<circle cx="740.9" cy="1651" r="4.7" fill="#F29C45" stroke="#F29C45" stroke-width="1.1" fill-opacity="0.5" stroke-opacity="0.75"/>
<circle cx="740.9" cy="1671.1" r="4.7" fill="#F29C45" stroke="#F29C45" stroke-width="1.1" fill-opacity="0.5" stroke-opacity="0.75"/>
<line x1="737.7" y1="1586.3" x2="737.7" y2="1661.6" stroke="#96500F" stroke-width="2.2" />
<line x1="722.5" y1="1586.3" x2="752.9" y2="1586.3" stroke="#96500F" stroke-width="2.2" />
<line x1="722.5" y1="1661.6" x2="752.9" y2="1661.6" stroke="#96500F" stroke-width="2.2" />
<rect x="752.9" y="1751.8" width="30.4" height="38.1" fill="#D8F5F2" stroke="#0E8C90" stroke-width="2.2"/>
<circle cx="768.1" cy="1721.8" r="4.7" fill="#5FD0CC" stroke="#5FD0CC" stroke-width="1.1" fill-opacity="0.5" stroke-opacity="0.75"/>
<circle cx="768.1" cy="1728.2" r="4.7" fill="#5FD0CC" stroke="#5FD0CC" stroke-width="1.1" fill-opacity="0.5" stroke-opacity="0.75"/>
<circle cx="768.1" cy="1733.9" r="4.7" fill="#5FD0CC" stroke="#5FD0CC" stroke-width="1.1" fill-opacity="0.5" stroke-opacity="0.75"/>
<circle cx="768.1" cy="1749.9" r="4.7" fill="#5FD0CC" stroke="#5FD0CC" stroke-width="1.1" fill-opacity="0.5" stroke-opacity="0.75"/>
<circle cx="768.1" cy="1788.3" r="4.7" fill="#5FD0CC" stroke="#5FD0CC" stroke-width="1.1" fill-opacity="0.5" stroke-opacity="0.75"/>
<circle cx="768.1" cy="1789.1" r="4.7" fill="#5FD0CC" stroke="#5FD0CC" stroke-width="1.1" fill-opacity="0.5" stroke-opacity="0.75"/>
<line x1="768.1" y1="1721.8" x2="768.1" y2="1781.5" stroke="#0E8C90" stroke-width="2.2" />
<line x1="752.9" y1="1721.8" x2="783.4" y2="1721.8" stroke="#0E8C90" stroke-width="2.2" />
<line x1="752.9" y1="1781.5" x2="783.4" y2="1781.5" stroke="#0E8C90" stroke-width="2.2" />
<rect x="783.4" y="1767" width="30.4" height="22.9" fill="#EAD3FB" stroke="#5E1A96" stroke-width="2.2"/>
<circle cx="794.8" cy="1744.2" r="4.7" fill="#B45FE0" stroke="#B45FE0" stroke-width="1.1" fill-opacity="0.5" stroke-opacity="0.75"/>
<circle cx="794.8" cy="1764.4" r="4.7" fill="#B45FE0" stroke="#B45FE0" stroke-width="1.1" fill-opacity="0.5" stroke-opacity="0.75"/>
<circle cx="794.8" cy="1772" r="4.7" fill="#B45FE0" stroke="#B45FE0" stroke-width="1.1" fill-opacity="0.5" stroke-opacity="0.75"/>
<circle cx="794.8" cy="1775.8" r="4.7" fill="#B45FE0" stroke="#B45FE0" stroke-width="1.1" fill-opacity="0.5" stroke-opacity="0.75"/>
<circle cx="794.8" cy="1778.8" r="4.7" fill="#B45FE0" stroke="#B45FE0" stroke-width="1.1" fill-opacity="0.5" stroke-opacity="0.75"/>
<line x1="798.6" y1="1754.9" x2="798.6" y2="1779.6" stroke="#5E1A96" stroke-width="2.2" />
<line x1="783.4" y1="1754.9" x2="813.8" y2="1754.9" stroke="#5E1A96" stroke-width="2.2" />
<line x1="783.4" y1="1779.6" x2="813.8" y2="1779.6" stroke="#5E1A96" stroke-width="2.2" />
<rect x="823.3" y="1692.8" width="30.4" height="97.1" fill="#FFE6CD" stroke="#96500F" stroke-width="2.2"/>
<circle cx="841.7" cy="1622.4" r="4.7" fill="#F29C45" stroke="#F29C45" stroke-width="1.1" fill-opacity="0.5" stroke-opacity="0.75"/>
<circle cx="841.7" cy="1649.5" r="4.7" fill="#F29C45" stroke="#F29C45" stroke-width="1.1" fill-opacity="0.5" stroke-opacity="0.75"/>
<circle cx="841.7" cy="1714.9" r="4.7" fill="#F29C45" stroke="#F29C45" stroke-width="1.1" fill-opacity="0.5" stroke-opacity="0.75"/>
<circle cx="841.7" cy="1716.8" r="4.7" fill="#F29C45" stroke="#F29C45" stroke-width="1.1" fill-opacity="0.5" stroke-opacity="0.75"/>
<circle cx="841.7" cy="1738.9" r="4.7" fill="#F29C45" stroke="#F29C45" stroke-width="1.1" fill-opacity="0.5" stroke-opacity="0.75"/>
<line x1="838.5" y1="1647.2" x2="838.5" y2="1739.6" stroke="#96500F" stroke-width="2.2" />
<line x1="823.3" y1="1647.2" x2="853.8" y2="1647.2" stroke="#96500F" stroke-width="2.2" />
<line x1="823.3" y1="1739.6" x2="853.8" y2="1739.6" stroke="#96500F" stroke-width="2.2" />
<rect x="853.8" y="1706.9" width="29.7" height="83" fill="#D8F5F2" stroke="#0E8C90" stroke-width="2.2"/>
<circle cx="868.6" cy="1664.3" r="4.7" fill="#5FD0CC" stroke="#5FD0CC" stroke-width="1.1" fill-opacity="0.5" stroke-opacity="0.75"/>
<circle cx="868.6" cy="1688.6" r="4.7" fill="#5FD0CC" stroke="#5FD0CC" stroke-width="1.1" fill-opacity="0.5" stroke-opacity="0.75"/>
<circle cx="868.6" cy="1694.7" r="4.7" fill="#5FD0CC" stroke="#5FD0CC" stroke-width="1.1" fill-opacity="0.5" stroke-opacity="0.75"/>
<circle cx="868.6" cy="1701.6" r="4.7" fill="#5FD0CC" stroke="#5FD0CC" stroke-width="1.1" fill-opacity="0.5" stroke-opacity="0.75"/>
<circle cx="868.6" cy="1709.2" r="4.7" fill="#5FD0CC" stroke="#5FD0CC" stroke-width="1.1" fill-opacity="0.5" stroke-opacity="0.75"/>
<circle cx="868.6" cy="1745.3" r="4.7" fill="#5FD0CC" stroke="#5FD0CC" stroke-width="1.1" fill-opacity="0.5" stroke-opacity="0.75"/>
<circle cx="868.6" cy="1751.8" r="4.7" fill="#5FD0CC" stroke="#5FD0CC" stroke-width="1.1" fill-opacity="0.5" stroke-opacity="0.75"/>
<line x1="868.6" y1="1673.4" x2="868.6" y2="1740.8" stroke="#0E8C90" stroke-width="2.2" />
<line x1="853.8" y1="1673.4" x2="883.4" y2="1673.4" stroke="#0E8C90" stroke-width="2.2" />
<line x1="853.8" y1="1740.8" x2="883.4" y2="1740.8" stroke="#0E8C90" stroke-width="2.2" />
<rect x="883.4" y="1740.4" width="30.4" height="49.5" fill="#EAD3FB" stroke="#5E1A96" stroke-width="2.2"/>
<circle cx="894.9" cy="1704.6" r="4.7" fill="#B45FE0" stroke="#B45FE0" stroke-width="1.1" fill-opacity="0.5" stroke-opacity="0.75"/>
<circle cx="894.9" cy="1732.8" r="4.7" fill="#B45FE0" stroke="#B45FE0" stroke-width="1.1" fill-opacity="0.5" stroke-opacity="0.75"/>
<circle cx="894.9" cy="1741.5" r="4.7" fill="#B45FE0" stroke="#B45FE0" stroke-width="1.1" fill-opacity="0.5" stroke-opacity="0.75"/>
<circle cx="894.9" cy="1750.3" r="4.7" fill="#B45FE0" stroke="#B45FE0" stroke-width="1.1" fill-opacity="0.5" stroke-opacity="0.75"/>
<circle cx="894.9" cy="1756.8" r="4.7" fill="#B45FE0" stroke="#B45FE0" stroke-width="1.1" fill-opacity="0.5" stroke-opacity="0.75"/>
<circle cx="894.9" cy="1761.3" r="4.7" fill="#B45FE0" stroke="#B45FE0" stroke-width="1.1" fill-opacity="0.5" stroke-opacity="0.75"/>
<line x1="898.7" y1="1720.6" x2="898.7" y2="1761.3" stroke="#5E1A96" stroke-width="2.2" />
<line x1="883.4" y1="1720.6" x2="913.9" y2="1720.6" stroke="#5E1A96" stroke-width="2.2" />
<line x1="883.4" y1="1761.3" x2="913.9" y2="1761.3" stroke="#5E1A96" stroke-width="2.2" />
<rect x="955" y="1608.4" width="30.4" height="181.5" fill="#FFE6CD" stroke="#96500F" stroke-width="2.2"/>
<circle cx="973.4" cy="1565.7" r="4.7" fill="#F29C45" stroke="#F29C45" stroke-width="1.1" fill-opacity="0.5" stroke-opacity="0.75"/>
<circle cx="973.4" cy="1589.3" r="4.7" fill="#F29C45" stroke="#F29C45" stroke-width="1.1" fill-opacity="0.5" stroke-opacity="0.75"/>
<circle cx="973.4" cy="1616" r="4.7" fill="#F29C45" stroke="#F29C45" stroke-width="1.1" fill-opacity="0.5" stroke-opacity="0.75"/>
<circle cx="973.4" cy="1619.8" r="4.7" fill="#F29C45" stroke="#F29C45" stroke-width="1.1" fill-opacity="0.5" stroke-opacity="0.75"/>
<circle cx="973.4" cy="1627.4" r="4.7" fill="#F29C45" stroke="#F29C45" stroke-width="1.1" fill-opacity="0.5" stroke-opacity="0.75"/>
<circle cx="973.4" cy="1636.9" r="4.7" fill="#F29C45" stroke="#F29C45" stroke-width="1.1" fill-opacity="0.5" stroke-opacity="0.75"/>
<line x1="970.2" y1="1582.5" x2="970.2" y2="1635" stroke="#96500F" stroke-width="2.2" />
<line x1="955" y1="1582.5" x2="985.4" y2="1582.5" stroke="#96500F" stroke-width="2.2" />
<line x1="955" y1="1635" x2="985.4" y2="1635" stroke="#96500F" stroke-width="2.2" />
<rect x="985.4" y="1760.6" width="30.1" height="29.3" fill="#D8F5F2" stroke="#0E8C90" stroke-width="2.2"/>
<circle cx="1000.4" cy="1743.4" r="4.7" fill="#5FD0CC" stroke="#5FD0CC" stroke-width="1.1" fill-opacity="0.5" stroke-opacity="0.75"/>
<circle cx="1000.4" cy="1746.5" r="4.7" fill="#5FD0CC" stroke="#5FD0CC" stroke-width="1.1" fill-opacity="0.5" stroke-opacity="0.75"/>
<circle cx="1000.4" cy="1753" r="4.7" fill="#5FD0CC" stroke="#5FD0CC" stroke-width="1.1" fill-opacity="0.5" stroke-opacity="0.75"/>
<circle cx="1000.4" cy="1787.2" r="4.7" fill="#5FD0CC" stroke="#5FD0CC" stroke-width="1.1" fill-opacity="0.5" stroke-opacity="0.75"/>
<circle cx="1000.4" cy="1788.3" r="4.7" fill="#5FD0CC" stroke="#5FD0CC" stroke-width="1.1" fill-opacity="0.5" stroke-opacity="0.75"/>
<line x1="1000.4" y1="1738.9" x2="1000.4" y2="1781.5" stroke="#0E8C90" stroke-width="2.2" />
<line x1="985.4" y1="1738.9" x2="1015.5" y2="1738.9" stroke="#0E8C90" stroke-width="2.2" />
<line x1="985.4" y1="1781.5" x2="1015.5" y2="1781.5" stroke="#0E8C90" stroke-width="2.2" />
<rect x="1015.5" y="1777.7" width="30.4" height="12.2" fill="#EAD3FB" stroke="#5E1A96" stroke-width="2.2"/>
<circle cx="1026.9" cy="1762.5" r="4.7" fill="#B45FE0" stroke="#B45FE0" stroke-width="1.1" fill-opacity="0.5" stroke-opacity="0.75"/>
<circle cx="1026.9" cy="1768.2" r="4.7" fill="#B45FE0" stroke="#B45FE0" stroke-width="1.1" fill-opacity="0.5" stroke-opacity="0.75"/>
<circle cx="1026.9" cy="1785.3" r="4.7" fill="#B45FE0" stroke="#B45FE0" stroke-width="1.1" fill-opacity="0.5" stroke-opacity="0.75"/>
<circle cx="1026.9" cy="1788.3" r="4.7" fill="#B45FE0" stroke="#B45FE0" stroke-width="1.1" fill-opacity="0.5" stroke-opacity="0.75"/>
<circle cx="1026.9" cy="1789.1" r="4.7" fill="#B45FE0" stroke="#B45FE0" stroke-width="1.1" fill-opacity="0.5" stroke-opacity="0.75"/>
<line x1="1030.7" y1="1766.7" x2="1030.7" y2="1788.3" stroke="#5E1A96" stroke-width="2.2" />
<line x1="1015.5" y1="1766.7" x2="1045.9" y2="1766.7" stroke="#5E1A96" stroke-width="2.2" />
<line x1="1015.5" y1="1788.3" x2="1045.9" y2="1788.3" stroke="#5E1A96" stroke-width="2.2" />
<rect x="1055.8" y="1716" width="30.4" height="73.9" fill="#FFE6CD" stroke="#96500F" stroke-width="2.2"/>
<circle cx="1074.2" cy="1683.7" r="4.7" fill="#F29C45" stroke="#F29C45" stroke-width="1.1" fill-opacity="0.5" stroke-opacity="0.75"/>
<circle cx="1074.2" cy="1692.1" r="4.7" fill="#F29C45" stroke="#F29C45" stroke-width="1.1" fill-opacity="0.5" stroke-opacity="0.75"/>
<circle cx="1074.2" cy="1726.3" r="4.7" fill="#F29C45" stroke="#F29C45" stroke-width="1.1" fill-opacity="0.5" stroke-opacity="0.75"/>
<circle cx="1074.2" cy="1730.1" r="4.7" fill="#F29C45" stroke="#F29C45" stroke-width="1.1" fill-opacity="0.5" stroke-opacity="0.75"/>
<circle cx="1074.2" cy="1733.9" r="4.7" fill="#F29C45" stroke="#F29C45" stroke-width="1.1" fill-opacity="0.5" stroke-opacity="0.75"/>
<circle cx="1074.2" cy="1737.7" r="4.7" fill="#F29C45" stroke="#F29C45" stroke-width="1.1" fill-opacity="0.5" stroke-opacity="0.75"/>
<line x1="1071" y1="1694" x2="1071" y2="1738.9" stroke="#96500F" stroke-width="2.2" />
<line x1="1055.8" y1="1694" x2="1086.3" y2="1694" stroke="#96500F" stroke-width="2.2" />
<line x1="1055.8" y1="1738.9" x2="1086.3" y2="1738.9" stroke="#96500F" stroke-width="2.2" />
<rect x="1086.3" y="1669.2" width="30.4" height="120.7" fill="#D8F5F2" stroke="#0E8C90" stroke-width="2.2"/>
<circle cx="1101.5" cy="1643.4" r="4.7" fill="#5FD0CC" stroke="#5FD0CC" stroke-width="1.1" fill-opacity="0.5" stroke-opacity="0.75"/>
<circle cx="1101.5" cy="1650.2" r="4.7" fill="#5FD0CC" stroke="#5FD0CC" stroke-width="1.1" fill-opacity="0.5" stroke-opacity="0.75"/>
<circle cx="1101.5" cy="1673" r="4.7" fill="#5FD0CC" stroke="#5FD0CC" stroke-width="1.1" fill-opacity="0.5" stroke-opacity="0.75"/>
<circle cx="1101.5" cy="1681.8" r="4.7" fill="#5FD0CC" stroke="#5FD0CC" stroke-width="1.1" fill-opacity="0.5" stroke-opacity="0.75"/>
<circle cx="1101.5" cy="1686.4" r="4.7" fill="#5FD0CC" stroke="#5FD0CC" stroke-width="1.1" fill-opacity="0.5" stroke-opacity="0.75"/>
<line x1="1101.5" y1="1651" x2="1101.5" y2="1687.5" stroke="#0E8C90" stroke-width="2.2" />
<line x1="1086.3" y1="1651" x2="1116.7" y2="1651" stroke="#0E8C90" stroke-width="2.2" />
<line x1="1086.3" y1="1687.5" x2="1116.7" y2="1687.5" stroke="#0E8C90" stroke-width="2.2" />
<rect x="1116.7" y="1754.1" width="30.4" height="35.8" fill="#EAD3FB" stroke="#5E1A96" stroke-width="2.2"/>
<circle cx="1128.1" cy="1718.7" r="4.7" fill="#B45FE0" stroke="#B45FE0" stroke-width="1.1" fill-opacity="0.5" stroke-opacity="0.75"/>
<circle cx="1128.1" cy="1743.4" r="4.7" fill="#B45FE0" stroke="#B45FE0" stroke-width="1.1" fill-opacity="0.5" stroke-opacity="0.75"/>
<circle cx="1128.1" cy="1760.6" r="4.7" fill="#B45FE0" stroke="#B45FE0" stroke-width="1.1" fill-opacity="0.5" stroke-opacity="0.75"/>
<circle cx="1128.1" cy="1764.4" r="4.7" fill="#B45FE0" stroke="#B45FE0" stroke-width="1.1" fill-opacity="0.5" stroke-opacity="0.75"/>
<circle cx="1128.1" cy="1769.3" r="4.7" fill="#B45FE0" stroke="#B45FE0" stroke-width="1.1" fill-opacity="0.5" stroke-opacity="0.75"/>
<circle cx="1128.1" cy="1774.6" r="4.7" fill="#B45FE0" stroke="#B45FE0" stroke-width="1.1" fill-opacity="0.5" stroke-opacity="0.75"/>
<line x1="1131.9" y1="1733.9" x2="1131.9" y2="1774.6" stroke="#5E1A96" stroke-width="2.2" />
<line x1="1116.7" y1="1733.9" x2="1147.1" y2="1733.9" stroke="#5E1A96" stroke-width="2.2" />
<line x1="1116.7" y1="1774.6" x2="1147.1" y2="1774.6" stroke="#5E1A96" stroke-width="2.2" />
<text x="1049.7" y="1578" font-size="19.5" font-family='"DejaVu Sans", sans-serif' fill="#1a1a1a">Interaction</text>
<text x="1049.7" y="1602.3" font-size="19.5" font-family='"DejaVu Sans", sans-serif' fill="#1a1a1a">%Dimer:Y14F</text>
<text x="1049.7" y="1627.4" font-size="19.5" font-family='"DejaVu Sans", sans-serif' fill="#1a1a1a">pvalue= 0.048</text>
<rect x="706.4" y="1846.2" width="41.5" height="40.5" fill="#FFE6CD" stroke="#96500F" stroke-width="2.1"/>
<circle cx="727.1" cy="1866.2" r="5.2" fill="#F29C45" stroke="#F29C45" stroke-width="1" fill-opacity="0.55" stroke-opacity="0.7"/>
<line x1="710.4" y1="1866.2" x2="743.9" y2="1866.2" stroke="#96500F" stroke-width="2.1" />
<text x="763.6" y="1874.5" font-size="22.5" font-family='"Liberation Sans", sans-serif'>Monomer</text>
<rect x="877.6" y="1846.2" width="41.5" height="40.5" fill="#D8F5F2" stroke="#0E8C90" stroke-width="2.1"/>
<circle cx="898.3" cy="1866.2" r="5.2" fill="#5FD0CC" stroke="#5FD0CC" stroke-width="1" fill-opacity="0.55" stroke-opacity="0.7"/>
<line x1="881.6" y1="1866.2" x2="915.1" y2="1866.2" stroke="#0E8C90" stroke-width="2.1" />
<text x="934.8" y="1874.5" font-size="22.5" font-family='"Liberation Sans", sans-serif'>Dimer</text>
<rect x="1013" y="1846.2" width="41.5" height="40.5" fill="#EAD3FB" stroke="#5E1A96" stroke-width="2.1"/>
<circle cx="1033.7" cy="1866.2" r="5.2" fill="#B45FE0" stroke="#B45FE0" stroke-width="1" fill-opacity="0.55" stroke-opacity="0.7"/>
<line x1="1017" y1="1866.2" x2="1050.5" y2="1866.2" stroke="#5E1A96" stroke-width="2.1" />
<text x="1069.9" y="1874.5" font-size="22.5" font-family='"Liberation Sans", sans-serif'>Oligomer</text>
</g>
<g id="panel-i">
<text x="1253.3" y="1362.3" font-size="69.2" font-family='"DejaVu Sans", sans-serif' font-weight="bold">i</text>
<text x="1306" y="1643" font-size="20.4" font-family='"DejaVu Sans", sans-serif' font-weight="bold" text-anchor="middle" fill="#111" transform="rotate(-90 1306 1643)">normalized fluorescent intensity (a.u.)</text>
<line x1="1355.6" y1="1311" x2="1355.6" y2="1638.1" stroke="#000" stroke-width="3.2" />
<line x1="1339" y1="1636.5" x2="1838.5" y2="1636.5" stroke="#000" stroke-width="3.2" />
<path d="M1355.6 1621.5h-5.5M1355.6 1606.5h-10M1355.6 1591.5h-5.5M1355.6 1576.5h-10M1355.6 1561.5h-5.5M1355.6 1546.5h-10M1355.6 1531.5h-5.5M1355.6 1516.5h-10M1355.6 1501.5h-5.5M1355.6 1486.5h-10M1355.6 1471.5h-5.5M1355.6 1456.5h-10M1355.6 1441.5h-5.5M1355.6 1426.5h-10M1355.6 1411.5h-5.5M1355.6 1396.5h-10M1355.6 1381.5h-5.5M1355.6 1366.5h-10M1355.6 1351.5h-5.5M1355.6 1336.5h-10M1367.5 1636.5v5.5M1382.7 1636.5v5.5M1398 1636.5v10M1413.3 1636.5v5.5M1428.5 1636.5v5.5M1443.8 1636.5v5.5M1459 1636.5v5.5M1474.3 1636.5v10M1489.6 1636.5v5.5M1504.8 1636.5v5.5M1520.1 1636.5v5.5M1535.3 1636.5v5.5M1550.6 1636.5v10M1565.9 1636.5v5.5M1581.1 1636.5v5.5M1596.4 1636.5v5.5M1611.6 1636.5v5.5M1626.9 1636.5v10M1642.2 1636.5v5.5M1657.4 1636.5v5.5M1672.7 1636.5v5.5M1687.9 1636.5v5.5M1703.2 1636.5v10M1718.5 1636.5v5.5M1733.7 1636.5v5.5M1749 1636.5v5.5M1764.2 1636.5v5.5M1779.5 1636.5v10M1794.8 1636.5v5.5M1810 1636.5v5.5M1825.3 1636.5v5.5M1356 1636.5v5.5" fill="none" stroke="#000" stroke-width="2.2"/>
<text x="1343" y="1613.5" font-size="19.8" font-family='"Liberation Sans", sans-serif' font-weight="bold" text-anchor="end" fill="#111" textLength="20.2" lengthAdjust="spacingAndGlyphs">10</text>
<text x="1343" y="1583.5" font-size="19.8" font-family='"Liberation Sans", sans-serif' font-weight="bold" text-anchor="end" fill="#111" textLength="20.2" lengthAdjust="spacingAndGlyphs">20</text>
<text x="1343" y="1553.5" font-size="19.8" font-family='"Liberation Sans", sans-serif' font-weight="bold" text-anchor="end" fill="#111" textLength="20.2" lengthAdjust="spacingAndGlyphs">30</text>
<text x="1343" y="1523.5" font-size="19.8" font-family='"Liberation Sans", sans-serif' font-weight="bold" text-anchor="end" fill="#111" textLength="20.2" lengthAdjust="spacingAndGlyphs">40</text>
<text x="1343" y="1493.5" font-size="19.8" font-family='"Liberation Sans", sans-serif' font-weight="bold" text-anchor="end" fill="#111" textLength="20.2" lengthAdjust="spacingAndGlyphs">50</text>
<text x="1343" y="1463.5" font-size="19.8" font-family='"Liberation Sans", sans-serif' font-weight="bold" text-anchor="end" fill="#111" textLength="20.2" lengthAdjust="spacingAndGlyphs">60</text>
<text x="1343" y="1433.5" font-size="19.8" font-family='"Liberation Sans", sans-serif' font-weight="bold" text-anchor="end" fill="#111" textLength="20.2" lengthAdjust="spacingAndGlyphs">70</text>
<text x="1343" y="1403.5" font-size="19.8" font-family='"Liberation Sans", sans-serif' font-weight="bold" text-anchor="end" fill="#111" textLength="20.2" lengthAdjust="spacingAndGlyphs">80</text>
<text x="1343" y="1373.5" font-size="19.8" font-family='"Liberation Sans", sans-serif' font-weight="bold" text-anchor="end" fill="#111" textLength="20.2" lengthAdjust="spacingAndGlyphs">90</text>
<text x="1343" y="1343.5" font-size="19.8" font-family='"Liberation Sans", sans-serif' font-weight="bold" text-anchor="end" fill="#111" textLength="30.3" lengthAdjust="spacingAndGlyphs">100</text>
<text x="1398" y="1669.5" font-size="19.8" font-family='"Liberation Sans", sans-serif' font-weight="bold" text-anchor="middle" fill="#111" textLength="10.1" lengthAdjust="spacingAndGlyphs">0</text>
<text x="1474.3" y="1669.5" font-size="19.8" font-family='"Liberation Sans", sans-serif' font-weight="bold" text-anchor="middle" fill="#111" textLength="20.2" lengthAdjust="spacingAndGlyphs">20</text>
<text x="1550.6" y="1669.5" font-size="19.8" font-family='"Liberation Sans", sans-serif' font-weight="bold" text-anchor="middle" fill="#111" textLength="20.2" lengthAdjust="spacingAndGlyphs">40</text>
<text x="1626.9" y="1669.5" font-size="19.8" font-family='"Liberation Sans", sans-serif' font-weight="bold" text-anchor="middle" fill="#111" textLength="20.2" lengthAdjust="spacingAndGlyphs">60</text>
<text x="1703.2" y="1669.5" font-size="19.8" font-family='"Liberation Sans", sans-serif' font-weight="bold" text-anchor="middle" fill="#111" textLength="20.2" lengthAdjust="spacingAndGlyphs">80</text>
<text x="1779.5" y="1669.5" font-size="19.8" font-family='"Liberation Sans", sans-serif' font-weight="bold" text-anchor="middle" fill="#111" textLength="30.3" lengthAdjust="spacingAndGlyphs">100</text>
<line x1="1398" y1="1312.5" x2="1398" y2="1636.5" stroke="#333" stroke-width="1" stroke-dasharray="1.2 3.2"/>
<path d="M1359.8 1318.5v11.9m-7 0h14m0 -11.9h-14M1363.7 1319.6v15.9m-7 0h14m0 -15.9h-14M1367.5 1325.3v16.5m-7 0h14m0 -16.5h-14M1371.3 1330.1v12.8m-7 0h14m0 -12.8h-14M1375.1 1332.2v14.7m-7 0h14m0 -14.7h-14M1378.9 1330.9v17.2m-7 0h14m0 -17.2h-14M1382.7 1333.6v11.8m-7 0h14m0 -11.8h-14M1386.6 1345.3v12.3m-7 0h14m0 -12.3h-14M1390.4 1340.3v10.4m-7 0h14m0 -10.4h-14M1394.2 1341.4v14.2m-7 0h14m0 -14.2h-14M1401.8 1608.3v26.3m-7 0h14m0 -26.3h-14M1405.6 1609.2v24.5m-7 0h14m0 -24.5h-14M1409.4 1593.9v25.1m-7 0h14m0 -25.1h-14M1413.3 1591.2v30.7m-7 0h14m0 -30.7h-14M1417.1 1587v20.9m-7 0h14m0 -20.9h-14M1420.9 1579.3v30.5m-7 0h14m0 -30.5h-14M1424.7 1580.6v21.8m-7 0h14m0 -21.8h-14M1428.5 1566.1v32.7m-7 0h14m0 -32.7h-14M1432.3 1567.8v33.1m-7 0h14m0 -33.1h-14M1436.2 1571.3v28.3m-7 0h14m0 -28.3h-14M1440 1568.1v33.9m-7 0h14m0 -33.9h-14M1443.8 1568.5v34.1m-7 0h14m0 -34.1h-14M1447.6 1565.7v30.5m-7 0h14m0 -30.5h-14M1451.4 1566.2v32.5m-7 0h14m0 -32.5h-14M1455.2 1579.1v24.7m-7 0h14m0 -24.7h-14M1459 1569.4v50.3m-7 0h14m0 -50.3h-14M1462.9 1570.5v24.1m-7 0h14m0 -24.1h-14M1466.7 1559.5v33.9m-7 0h14m0 -33.9h-14M1470.5 1564.1v25.2m-7 0h14m0 -25.2h-14M1474.3 1557.1v38.7m-7 0h14m0 -38.7h-14M1478.1 1560.7v25.4m-7 0h14m0 -25.4h-14M1481.9 1559.4v22.3m-7 0h14m0 -22.3h-14M1485.7 1556.2v27.4m-7 0h14m0 -27.4h-14M1489.6 1560.9v23.7m-7 0h14m0 -23.7h-14M1493.4 1552.4v36.3m-7 0h14m0 -36.3h-14M1497.2 1555.6v32.7m-7 0h14m0 -32.7h-14M1501 1557.6v31.7m-7 0h14m0 -31.7h-14M1504.8 1553.3v36.5m-7 0h14m0 -36.5h-14M1508.6 1550.6v37.6m-7 0h14m0 -37.6h-14M1512.5 1539.5v62m-7 0h14m0 -62h-14M1516.3 1554.7v33.5m-7 0h14m0 -33.5h-14M1520.1 1550.3v35.3m-7 0h14m0 -35.3h-14M1523.9 1532.4v64.2m-7 0h14m0 -64.2h-14M1527.7 1549.7v32.6m-7 0h14m0 -32.6h-14M1531.5 1542v38.9m-7 0h14m0 -38.9h-14M1535.3 1540.4v35.7m-7 0h14m0 -35.7h-14M1539.2 1538.3v39.7m-7 0h14m0 -39.7h-14M1543 1540.6v35.9m-7 0h14m0 -35.9h-14M1546.8 1536.1v39.4m-7 0h14m0 -39.4h-14M1550.6 1527.4v38.2m-7 0h14m0 -38.2h-14M1554.4 1530.4v34.3m-7 0h14m0 -34.3h-14M1558.2 1540.1v30.9m-7 0h14m0 -30.9h-14M1562 1532.7v35m-7 0h14m0 -35h-14M1565.9 1532.6v35.5m-7 0h14m0 -35.5h-14M1569.7 1529.6v39.8m-7 0h14m0 -39.8h-14M1573.5 1531.2v31m-7 0h14m0 -31h-14M1577.3 1530.7v34.5m-7 0h14m0 -34.5h-14M1581.1 1524v39.1m-7 0h14m0 -39.1h-14M1584.9 1517v60m-7 0h14m0 -60h-14M1588.8 1526.1v34.8m-7 0h14m0 -34.8h-14M1592.6 1529.2v28.1m-7 0h14m0 -28.1h-14M1596.4 1530.2v33m-7 0h14m0 -33h-14M1600.2 1523.2v40.6m-7 0h14m0 -40.6h-14M1604 1533.6v24.2m-7 0h14m0 -24.2h-14M1607.8 1525.4v36.2m-7 0h14m0 -36.2h-14M1611.6 1531.8v27.1m-7 0h14m0 -27.1h-14M1615.5 1528.9v35.9m-7 0h14m0 -35.9h-14M1619.3 1523.5v40.1m-7 0h14m0 -40.1h-14M1623.1 1519.8v36m-7 0h14m0 -36h-14M1626.9 1515.6v31.8m-7 0h14m0 -31.8h-14M1630.7 1510.2v40.5m-7 0h14m0 -40.5h-14M1634.5 1513v30.9m-7 0h14m0 -30.9h-14M1638.3 1512.2v29.7m-7 0h14m0 -29.7h-14M1642.2 1513.9v32.9m-7 0h14m0 -32.9h-14M1646 1511.9v39.3m-7 0h14m0 -39.3h-14M1649.8 1509.9v41.1m-7 0h14m0 -41.1h-14M1653.6 1518v27m-7 0h14m0 -27h-14M1657.4 1517v29m-7 0h14m0 -29h-14M1661.2 1517.6v31.5m-7 0h14m0 -31.5h-14M1665 1521.1v32.9m-7 0h14m0 -32.9h-14M1668.9 1516.3v39.1m-7 0h14m0 -39.1h-14M1672.7 1509.4v51.4m-7 0h14m0 -51.4h-14M1676.5 1519.2v24.6m-7 0h14m0 -24.6h-14M1680.3 1517v24.7m-7 0h14m0 -24.7h-14M1684.1 1517.4v34.3m-7 0h14m0 -34.3h-14M1687.9 1499.3v61.2m-7 0h14m0 -61.2h-14M1691.8 1516.8v26.4m-7 0h14m0 -26.4h-14M1695.6 1519.3v24.4m-7 0h14m0 -24.4h-14M1699.4 1517.4v28.3m-7 0h14m0 -28.3h-14M1703.2 1522.1v24.8m-7 0h14m0 -24.8h-14M1707 1517.8v32m-7 0h14m0 -32h-14M1710.8 1514.6v35.8m-7 0h14m0 -35.8h-14M1714.6 1507.9v41.3m-7 0h14m0 -41.3h-14M1718.5 1517.7v27.6m-7 0h14m0 -27.6h-14M1722.3 1509.7v43.5m-7 0h14m0 -43.5h-14M1726.1 1517.3v32.5m-7 0h14m0 -32.5h-14M1729.9 1514v27.2m-7 0h14m0 -27.2h-14M1733.7 1513.4v30.2m-7 0h14m0 -30.2h-14M1737.5 1511v33.4m-7 0h14m0 -33.4h-14M1741.3 1506.7v37.6m-7 0h14m0 -37.6h-14M1745.2 1500.9v38.3m-7 0h14m0 -38.3h-14M1749 1506.7v25.6m-7 0h14m0 -25.6h-14M1752.8 1503.8v37m-7 0h14m0 -37h-14M1756.6 1504.1v32.2m-7 0h14m0 -32.2h-14M1760.4 1505.3v40.4m-7 0h14m0 -40.4h-14M1764.2 1502.9v34.2m-7 0h14m0 -34.2h-14M1768.1 1500.3v38.3m-7 0h14m0 -38.3h-14M1771.9 1507.9v32.3m-7 0h14m0 -32.3h-14M1775.7 1509.7v27.7m-7 0h14m0 -27.7h-14M1779.5 1503.1v38.7m-7 0h14m0 -38.7h-14M1783.3 1498.1v36.9m-7 0h14m0 -36.9h-14M1787.1 1496.4v40.2m-7 0h14m0 -40.2h-14M1790.9 1500.4v41.6m-7 0h14m0 -41.6h-14M1794.8 1506.4v38.2m-7 0h14m0 -38.2h-14M1798.6 1495.9v40.4m-7 0h14m0 -40.4h-14M1802.4 1498.4v30.3m-7 0h14m0 -30.3h-14M1806.2 1498.3v31.9m-7 0h14m0 -31.9h-14M1810 1494.6v37.8m-7 0h14m0 -37.8h-14" fill="none" stroke="#1a1a1a" stroke-width="1"/>
<g fill="#808080" stroke="#111" stroke-width="1"><circle cx="1359.8" cy="1324.5" r="6.6"/><circle cx="1363.7" cy="1327.5" r="6.6"/><circle cx="1367.5" cy="1333.5" r="6.6"/><circle cx="1371.3" cy="1336.5" r="6.6"/><circle cx="1375.1" cy="1339.5" r="6.6"/><circle cx="1378.9" cy="1339.5" r="6.6"/><circle cx="1382.7" cy="1339.5" r="6.6"/><circle cx="1386.6" cy="1351.5" r="6.6"/><circle cx="1390.4" cy="1345.5" r="6.6"/><circle cx="1394.2" cy="1348.5" r="6.6"/><circle cx="1398" cy="1636.5" r="6.6"/><circle cx="1401.8" cy="1621.5" r="6.6"/><circle cx="1405.6" cy="1621.5" r="6.6"/><circle cx="1409.4" cy="1606.5" r="6.6"/><circle cx="1413.3" cy="1606.5" r="6.6"/><circle cx="1417.1" cy="1597.5" r="6.6"/><circle cx="1420.9" cy="1594.5" r="6.6"/><circle cx="1424.7" cy="1591.5" r="6.6"/><circle cx="1428.5" cy="1582.5" r="6.6"/><circle cx="1432.3" cy="1584.3" r="6.6"/><circle cx="1436.2" cy="1585.5" r="6.6"/><circle cx="1440" cy="1585.1" r="6.6"/><circle cx="1443.8" cy="1585.5" r="6.6"/><circle cx="1447.6" cy="1580.9" r="6.6"/><circle cx="1451.4" cy="1582.5" r="6.6"/><circle cx="1455.2" cy="1591.5" r="6.6"/><circle cx="1459" cy="1594.5" r="6.6"/><circle cx="1462.9" cy="1582.5" r="6.6"/><circle cx="1466.7" cy="1576.5" r="6.6"/><circle cx="1470.5" cy="1576.7" r="6.6"/><circle cx="1474.3" cy="1576.5" r="6.6"/><circle cx="1478.1" cy="1573.4" r="6.6"/><circle cx="1481.9" cy="1570.5" r="6.6"/><circle cx="1485.7" cy="1569.9" r="6.6"/><circle cx="1489.6" cy="1572.8" r="6.6"/><circle cx="1493.4" cy="1570.5" r="6.6"/><circle cx="1497.2" cy="1571.9" r="6.6"/><circle cx="1501" cy="1573.5" r="6.6"/><circle cx="1504.8" cy="1571.6" r="6.6"/><circle cx="1508.6" cy="1569.4" r="6.6"/><circle cx="1512.5" cy="1570.5" r="6.6"/><circle cx="1516.3" cy="1571.4" r="6.6"/><circle cx="1520.1" cy="1567.9" r="6.6"/><circle cx="1523.9" cy="1564.5" r="6.6"/><circle cx="1527.7" cy="1565.9" r="6.6"/><circle cx="1531.5" cy="1561.5" r="6.6"/><circle cx="1535.3" cy="1558.3" r="6.6"/><circle cx="1539.2" cy="1558.1" r="6.6"/><circle cx="1543" cy="1558.5" r="6.6"/><circle cx="1546.8" cy="1555.8" r="6.6"/><circle cx="1550.6" cy="1546.5" r="6.6"/><circle cx="1554.4" cy="1547.5" r="6.6"/><circle cx="1558.2" cy="1555.5" r="6.6"/><circle cx="1562" cy="1550.2" r="6.6"/><circle cx="1565.9" cy="1550.4" r="6.6"/><circle cx="1569.7" cy="1549.5" r="6.6"/><circle cx="1573.5" cy="1546.7" r="6.6"/><circle cx="1577.3" cy="1548" r="6.6"/><circle cx="1581.1" cy="1543.5" r="6.6"/><circle cx="1584.9" cy="1547" r="6.6"/><circle cx="1588.8" cy="1543.5" r="6.6"/><circle cx="1592.6" cy="1543.3" r="6.6"/><circle cx="1596.4" cy="1546.7" r="6.6"/><circle cx="1600.2" cy="1543.5" r="6.6"/><circle cx="1604" cy="1545.7" r="6.6"/><circle cx="1607.8" cy="1543.5" r="6.6"/><circle cx="1611.6" cy="1545.4" r="6.6"/><circle cx="1615.5" cy="1546.9" r="6.6"/><circle cx="1619.3" cy="1543.5" r="6.6"/><circle cx="1623.1" cy="1537.8" r="6.6"/><circle cx="1626.9" cy="1531.5" r="6.6"/><circle cx="1630.7" cy="1530.4" r="6.6"/><circle cx="1634.5" cy="1528.5" r="6.6"/><circle cx="1638.3" cy="1527" r="6.6"/><circle cx="1642.2" cy="1530.4" r="6.6"/><circle cx="1646" cy="1531.5" r="6.6"/><circle cx="1649.8" cy="1530.5" r="6.6"/><circle cx="1653.6" cy="1531.5" r="6.6"/><circle cx="1657.4" cy="1531.5" r="6.6"/><circle cx="1661.2" cy="1533.3" r="6.6"/><circle cx="1665" cy="1537.5" r="6.6"/><circle cx="1668.9" cy="1535.8" r="6.6"/><circle cx="1672.7" cy="1535.1" r="6.6"/><circle cx="1676.5" cy="1531.5" r="6.6"/><circle cx="1680.3" cy="1529.4" r="6.6"/><circle cx="1684.1" cy="1534.5" r="6.6"/><circle cx="1687.9" cy="1529.9" r="6.6"/><circle cx="1691.8" cy="1530.1" r="6.6"/><circle cx="1695.6" cy="1531.5" r="6.6"/><circle cx="1699.4" cy="1531.5" r="6.6"/><circle cx="1703.2" cy="1534.5" r="6.6"/><circle cx="1707" cy="1533.8" r="6.6"/><circle cx="1710.8" cy="1532.4" r="6.6"/><circle cx="1714.6" cy="1528.5" r="6.6"/><circle cx="1718.5" cy="1531.5" r="6.6"/><circle cx="1722.3" cy="1531.5" r="6.6"/><circle cx="1726.1" cy="1533.6" r="6.6"/><circle cx="1729.9" cy="1527.6" r="6.6"/><circle cx="1733.7" cy="1528.5" r="6.6"/><circle cx="1737.5" cy="1527.7" r="6.6"/><circle cx="1741.3" cy="1525.5" r="6.6"/><circle cx="1745.2" cy="1520" r="6.6"/><circle cx="1749" cy="1519.5" r="6.6"/><circle cx="1752.8" cy="1522.3" r="6.6"/><circle cx="1756.6" cy="1520.2" r="6.6"/><circle cx="1760.4" cy="1525.5" r="6.6"/><circle cx="1764.2" cy="1520" r="6.6"/><circle cx="1768.1" cy="1519.5" r="6.6"/><circle cx="1771.9" cy="1524.1" r="6.6"/><circle cx="1775.7" cy="1523.6" r="6.6"/><circle cx="1779.5" cy="1522.5" r="6.6"/><circle cx="1783.3" cy="1516.5" r="6.6"/><circle cx="1787.1" cy="1516.5" r="6.6"/><circle cx="1790.9" cy="1521.2" r="6.6"/><circle cx="1794.8" cy="1525.5" r="6.6"/><circle cx="1798.6" cy="1516" r="6.6"/><circle cx="1802.4" cy="1513.5" r="6.6"/><circle cx="1806.2" cy="1514.2" r="6.6"/><circle cx="1810" cy="1513.5" r="6.6"/></g>
<path d="M1359.8 1351.8v11.4m-7 0h14m0 -11.4h-14M1363.7 1342.6v11.8m-7 0h14m0 -11.8h-14M1367.5 1324.1v12.8m-7 0h14m0 -12.8h-14M1371.3 1318v18.9m-7 0h14m0 -18.9h-14M1375.1 1327.2v12.6m-7 0h14m0 -12.6h-14M1378.9 1318.3v18.3m-7 0h14m0 -18.3h-14M1382.7 1324.5v18m-7 0h14m0 -18h-14M1386.6 1322.5v16m-7 0h14m0 -16h-14M1390.4 1333.5v12m-7 0h14m0 -12h-14M1394.2 1322.3v16.4m-7 0h14m0 -16.4h-14M1401.8 1589.7v33.6m-7 0h14m0 -33.6h-14M1405.6 1579.4v30.2m-7 0h14m0 -30.2h-14M1409.4 1558v31.1m-7 0h14m0 -31.1h-14M1413.3 1565.5v28m-7 0h14m0 -28h-14M1417.1 1554.5v38m-7 0h14m0 -38h-14M1420.9 1548.8v37.3m-7 0h14m0 -37.3h-14M1424.7 1545.8v31.4m-7 0h14m0 -31.4h-14M1428.5 1566.8v25.5m-7 0h14m0 -25.5h-14M1432.3 1530.7v31.5m-7 0h14m0 -31.5h-14M1436.2 1535.3v22.5m-7 0h14m0 -22.5h-14M1440 1524.4v32.2m-7 0h14m0 -32.2h-14M1443.8 1518.4v38.1m-7 0h14m0 -38.1h-14M1447.6 1518.4v32.2m-7 0h14m0 -32.2h-14M1451.4 1516.5v23.9m-7 0h14m0 -23.9h-14M1455.2 1527.9v31.2m-7 0h14m0 -31.2h-14M1459 1516.6v41.8m-7 0h14m0 -41.8h-14M1462.9 1533.1v32.8m-7 0h14m0 -32.8h-14M1466.7 1524.4v32.3m-7 0h14m0 -32.3h-14M1470.5 1525.4v42.2m-7 0h14m0 -42.2h-14M1474.3 1519.4v30.3m-7 0h14m0 -30.3h-14M1478.1 1522.1v36.9m-7 0h14m0 -36.9h-14M1481.9 1527.1v26.7m-7 0h14m0 -26.7h-14M1485.7 1537.2v24.6m-7 0h14m0 -24.6h-14M1489.6 1522.9v29.2m-7 0h14m0 -29.2h-14M1493.4 1533.8v31.5m-7 0h14m0 -31.5h-14M1497.2 1521.4v38.2m-7 0h14m0 -38.2h-14M1501 1516.1v40.9m-7 0h14m0 -40.9h-14M1504.8 1516.3v36.3m-7 0h14m0 -36.3h-14M1508.6 1522.2v29.6m-7 0h14m0 -29.6h-14M1512.5 1525.9v35.1m-7 0h14m0 -35.1h-14M1516.3 1532.1v34.8m-7 0h14m0 -34.8h-14M1520.1 1535v29.3m-7 0h14m0 -29.3h-14M1523.9 1526.3v40.3m-7 0h14m0 -40.3h-14M1527.7 1518.4v38.2m-7 0h14m0 -38.2h-14M1531.5 1514.3v40.4m-7 0h14m0 -40.4h-14M1535.3 1509.6v31.8m-7 0h14m0 -31.8h-14M1539.2 1490.7v45.6m-7 0h14m0 -45.6h-14M1543 1508.4v34.1m-7 0h14m0 -34.1h-14M1546.8 1505.3v48.8m-7 0h14m0 -48.8h-14M1550.6 1506v51m-7 0h14m0 -51h-14M1554.4 1507.4v30.2m-7 0h14m0 -30.2h-14M1558.2 1496.9v44.4m-7 0h14m0 -44.4h-14M1562 1507.8v29.3m-7 0h14m0 -29.3h-14M1565.9 1500.9v37.1m-7 0h14m0 -37.1h-14M1569.7 1516.5v30m-7 0h14m0 -30h-14M1573.5 1487.4v69.5m-7 0h14m0 -69.5h-14M1577.3 1500.6v31.8m-7 0h14m0 -31.8h-14M1581.1 1497.8v48.9m-7 0h14m0 -48.9h-14M1584.9 1507.6v29.8m-7 0h14m0 -29.8h-14M1588.8 1503.2v45.2m-7 0h14m0 -45.2h-14M1592.6 1503.8v43.5m-7 0h14m0 -43.5h-14M1596.4 1502.2v28.7m-7 0h14m0 -28.7h-14M1600.2 1514.6v27.9m-7 0h14m0 -27.9h-14M1604 1493.8v39.4m-7 0h14m0 -39.4h-14M1607.8 1516.2v30.5m-7 0h14m0 -30.5h-14M1611.6 1515.6v31.9m-7 0h14m0 -31.9h-14M1615.5 1503.1v50.8m-7 0h14m0 -50.8h-14M1619.3 1484.1v46.9m-7 0h14m0 -46.9h-14M1623.1 1487v49.8m-7 0h14m0 -49.8h-14M1626.9 1487.8v45.4m-7 0h14m0 -45.4h-14M1630.7 1490.1v38.2m-7 0h14m0 -38.2h-14M1634.5 1482.8v37.3m-7 0h14m0 -37.3h-14M1638.3 1499.8v27.3m-7 0h14m0 -27.3h-14M1642.2 1489.2v47.3m-7 0h14m0 -47.3h-14M1646 1497.6v37.9m-7 0h14m0 -37.9h-14M1649.8 1489.1v36.7m-7 0h14m0 -36.7h-14M1653.6 1492.8v31m-7 0h14m0 -31h-14M1657.4 1490.8v27.4m-7 0h14m0 -27.4h-14M1661.2 1475.4v46.2m-7 0h14m0 -46.2h-14M1665 1480.7v47.7m-7 0h14m0 -47.7h-14M1668.9 1480.1v36.7m-7 0h14m0 -36.7h-14M1672.7 1478.5v39.1m-7 0h14m0 -39.1h-14M1676.5 1475.3v46.3m-7 0h14m0 -46.3h-14M1680.3 1472.9v48.9m-7 0h14m0 -48.9h-14M1684.1 1472.7v45.7m-7 0h14m0 -45.7h-14M1687.9 1486.1v36.7m-7 0h14m0 -36.7h-14M1691.8 1471.4v48.1m-7 0h14m0 -48.1h-14M1695.6 1457.8v45.4m-7 0h14m0 -45.4h-14M1699.4 1467.4v36.7m-7 0h14m0 -36.7h-14M1703.2 1472.2v28.7m-7 0h14m0 -28.7h-14M1707 1461.9v61.2m-7 0h14m0 -61.2h-14M1710.8 1461.1v35.5m-7 0h14m0 -35.5h-14M1714.6 1447.5v42m-7 0h14m0 -42h-14M1718.5 1464.7v49.7m-7 0h14m0 -49.7h-14M1722.3 1462.9v35.1m-7 0h14m0 -35.1h-14M1726.1 1475.2v40.7m-7 0h14m0 -40.7h-14M1729.9 1468.3v36.4m-7 0h14m0 -36.4h-14M1733.7 1468.3v42.4m-7 0h14m0 -42.4h-14M1737.5 1466.5v45.3m-7 0h14m0 -45.3h-14M1741.3 1469.7v27.5m-7 0h14m0 -27.5h-14M1745.2 1464.1v44.7m-7 0h14m0 -44.7h-14M1749 1460.2v58.6m-7 0h14m0 -58.6h-14M1752.8 1472.6v31.7m-7 0h14m0 -31.7h-14M1756.6 1474.8v29.4m-7 0h14m0 -29.4h-14M1760.4 1471.1v48.7m-7 0h14m0 -48.7h-14M1764.2 1454.9v39.2m-7 0h14m0 -39.2h-14M1768.1 1481.2v40.6m-7 0h14m0 -40.6h-14M1771.9 1462.3v42.3m-7 0h14m0 -42.3h-14M1775.7 1470.3v28.8m-7 0h14m0 -28.8h-14M1779.5 1444.3v72.4m-7 0h14m0 -72.4h-14M1783.3 1458.8v49.3m-7 0h14m0 -49.3h-14M1787.1 1473.3v38.3m-7 0h14m0 -38.3h-14M1790.9 1466.1v38.9m-7 0h14m0 -38.9h-14M1794.8 1463.3v28.4m-7 0h14m0 -28.4h-14M1798.6 1459v37.1m-7 0h14m0 -37.1h-14M1802.4 1462.8v41.3m-7 0h14m0 -41.3h-14M1806.2 1462.6v33.9m-7 0h14m0 -33.9h-14M1810 1451.3v40.5m-7 0h14m0 -40.5h-14" fill="none" stroke="#1a1a1a" stroke-width="1"/>
<path d="M1352.8 1357.5l7 -7.4l7 7.4l-7 7.4zM1356.7 1348.5l7 -7.4l7 7.4l-7 7.4zM1360.5 1330.5l7 -7.4l7 7.4l-7 7.4zM1364.3 1327.5l7 -7.4l7 7.4l-7 7.4zM1368.1 1333.5l7 -7.4l7 7.4l-7 7.4zM1371.9 1327.5l7 -7.4l7 7.4l-7 7.4zM1375.7 1333.5l7 -7.4l7 7.4l-7 7.4zM1379.6 1330.5l7 -7.4l7 7.4l-7 7.4zM1383.4 1339.5l7 -7.4l7 7.4l-7 7.4zM1387.2 1330.5l7 -7.4l7 7.4l-7 7.4zM1391 1636.5l7 -7.4l7 7.4l-7 7.4zM1394.8 1606.5l7 -7.4l7 7.4l-7 7.4zM1398.6 1594.5l7 -7.4l7 7.4l-7 7.4zM1402.4 1573.5l7 -7.4l7 7.4l-7 7.4zM1406.3 1579.5l7 -7.4l7 7.4l-7 7.4zM1410.1 1573.5l7 -7.4l7 7.4l-7 7.4zM1413.9 1567.5l7 -7.4l7 7.4l-7 7.4zM1417.7 1561.5l7 -7.4l7 7.4l-7 7.4zM1421.5 1579.5l7 -7.4l7 7.4l-7 7.4zM1425.3 1546.5l7 -7.4l7 7.4l-7 7.4zM1429.2 1546.5l7 -7.4l7 7.4l-7 7.4zM1433 1540.5l7 -7.4l7 7.4l-7 7.4zM1436.8 1537.5l7 -7.4l7 7.4l-7 7.4zM1440.6 1534.5l7 -7.4l7 7.4l-7 7.4zM1444.4 1528.5l7 -7.4l7 7.4l-7 7.4zM1448.2 1543.5l7 -7.4l7 7.4l-7 7.4zM1452 1537.5l7 -7.4l7 7.4l-7 7.4zM1455.9 1549.5l7 -7.4l7 7.4l-7 7.4zM1459.7 1540.5l7 -7.4l7 7.4l-7 7.4zM1463.5 1546.5l7 -7.4l7 7.4l-7 7.4zM1467.3 1534.5l7 -7.4l7 7.4l-7 7.4zM1471.1 1540.6l7 -7.4l7 7.4l-7 7.4zM1474.9 1540.5l7 -7.4l7 7.4l-7 7.4zM1478.7 1549.5l7 -7.4l7 7.4l-7 7.4zM1482.6 1537.5l7 -7.4l7 7.4l-7 7.4zM1486.4 1549.5l7 -7.4l7 7.4l-7 7.4zM1490.2 1540.5l7 -7.4l7 7.4l-7 7.4zM1494 1536.6l7 -7.4l7 7.4l-7 7.4zM1497.8 1534.5l7 -7.4l7 7.4l-7 7.4zM1501.6 1537l7 -7.4l7 7.4l-7 7.4zM1505.5 1543.5l7 -7.4l7 7.4l-7 7.4zM1509.3 1549.5l7 -7.4l7 7.4l-7 7.4zM1513.1 1549.7l7 -7.4l7 7.4l-7 7.4zM1516.9 1546.5l7 -7.4l7 7.4l-7 7.4zM1520.7 1537.5l7 -7.4l7 7.4l-7 7.4zM1524.5 1534.5l7 -7.4l7 7.4l-7 7.4zM1528.3 1525.5l7 -7.4l7 7.4l-7 7.4zM1532.2 1513.5l7 -7.4l7 7.4l-7 7.4zM1536 1525.5l7 -7.4l7 7.4l-7 7.4zM1539.8 1529.7l7 -7.4l7 7.4l-7 7.4zM1543.6 1531.5l7 -7.4l7 7.4l-7 7.4zM1547.4 1522.5l7 -7.4l7 7.4l-7 7.4zM1551.2 1519.2l7 -7.4l7 7.4l-7 7.4zM1555 1522.5l7 -7.4l7 7.4l-7 7.4zM1558.9 1519.5l7 -7.4l7 7.4l-7 7.4zM1562.7 1531.5l7 -7.4l7 7.4l-7 7.4zM1566.5 1522.1l7 -7.4l7 7.4l-7 7.4zM1570.3 1516.5l7 -7.4l7 7.4l-7 7.4zM1574.1 1522.3l7 -7.4l7 7.4l-7 7.4zM1577.9 1522.5l7 -7.4l7 7.4l-7 7.4zM1581.8 1525.8l7 -7.4l7 7.4l-7 7.4zM1585.6 1525.5l7 -7.4l7 7.4l-7 7.4zM1589.4 1516.5l7 -7.4l7 7.4l-7 7.4zM1593.2 1528.5l7 -7.4l7 7.4l-7 7.4zM1597 1513.5l7 -7.4l7 7.4l-7 7.4zM1600.8 1531.5l7 -7.4l7 7.4l-7 7.4zM1604.6 1531.5l7 -7.4l7 7.4l-7 7.4zM1608.5 1528.5l7 -7.4l7 7.4l-7 7.4zM1612.3 1507.5l7 -7.4l7 7.4l-7 7.4zM1616.1 1511.9l7 -7.4l7 7.4l-7 7.4zM1619.9 1510.5l7 -7.4l7 7.4l-7 7.4zM1623.7 1509.2l7 -7.4l7 7.4l-7 7.4zM1627.5 1501.5l7 -7.4l7 7.4l-7 7.4zM1631.3 1513.5l7 -7.4l7 7.4l-7 7.4zM1635.2 1512.9l7 -7.4l7 7.4l-7 7.4zM1639 1516.5l7 -7.4l7 7.4l-7 7.4zM1642.8 1507.5l7 -7.4l7 7.4l-7 7.4zM1646.6 1508.3l7 -7.4l7 7.4l-7 7.4zM1650.4 1504.5l7 -7.4l7 7.4l-7 7.4zM1654.2 1498.5l7 -7.4l7 7.4l-7 7.4zM1658 1504.5l7 -7.4l7 7.4l-7 7.4zM1661.9 1498.5l7 -7.4l7 7.4l-7 7.4zM1665.7 1498.1l7 -7.4l7 7.4l-7 7.4zM1669.5 1498.5l7 -7.4l7 7.4l-7 7.4zM1673.3 1497.4l7 -7.4l7 7.4l-7 7.4zM1677.1 1495.5l7 -7.4l7 7.4l-7 7.4zM1680.9 1504.5l7 -7.4l7 7.4l-7 7.4zM1684.8 1495.5l7 -7.4l7 7.4l-7 7.4zM1688.6 1480.5l7 -7.4l7 7.4l-7 7.4zM1692.4 1485.7l7 -7.4l7 7.4l-7 7.4zM1696.2 1486.5l7 -7.4l7 7.4l-7 7.4zM1700 1492.5l7 -7.4l7 7.4l-7 7.4zM1703.8 1478.8l7 -7.4l7 7.4l-7 7.4zM1707.6 1468.5l7 -7.4l7 7.4l-7 7.4zM1711.5 1489.5l7 -7.4l7 7.4l-7 7.4zM1715.3 1480.5l7 -7.4l7 7.4l-7 7.4zM1719.1 1495.5l7 -7.4l7 7.4l-7 7.4zM1722.9 1486.5l7 -7.4l7 7.4l-7 7.4zM1726.7 1489.5l7 -7.4l7 7.4l-7 7.4zM1730.5 1489.2l7 -7.4l7 7.4l-7 7.4zM1734.3 1483.5l7 -7.4l7 7.4l-7 7.4zM1738.2 1486.5l7 -7.4l7 7.4l-7 7.4zM1742 1489.5l7 -7.4l7 7.4l-7 7.4zM1745.8 1488.5l7 -7.4l7 7.4l-7 7.4zM1749.6 1489.5l7 -7.4l7 7.4l-7 7.4zM1753.4 1495.5l7 -7.4l7 7.4l-7 7.4zM1757.2 1474.5l7 -7.4l7 7.4l-7 7.4zM1761.1 1501.5l7 -7.4l7 7.4l-7 7.4zM1764.9 1483.5l7 -7.4l7 7.4l-7 7.4zM1768.7 1484.8l7 -7.4l7 7.4l-7 7.4zM1772.5 1480.5l7 -7.4l7 7.4l-7 7.4zM1776.3 1483.5l7 -7.4l7 7.4l-7 7.4zM1780.1 1492.5l7 -7.4l7 7.4l-7 7.4zM1783.9 1485.6l7 -7.4l7 7.4l-7 7.4zM1787.8 1477.5l7 -7.4l7 7.4l-7 7.4zM1791.6 1477.5l7 -7.4l7 7.4l-7 7.4zM1795.4 1483.5l7 -7.4l7 7.4l-7 7.4zM1799.2 1479.6l7 -7.4l7 7.4l-7 7.4zM1803 1471.5l7 -7.4l7 7.4l-7 7.4z" fill="#1296B4" stroke="#1F55E0" stroke-width="0.9"/>
<path d="M1399.9 1633.2 L1401.8 1630.1 L1403.7 1627.3 L1405.6 1624.6 L1407.5 1622.1 L1409.4 1619.7 L1411.4 1617.5 L1413.3 1615.4 L1415.2 1613.4 L1417.1 1611.4 L1419 1609.6 L1420.9 1607.9 L1422.8 1606.2 L1424.7 1604.6 L1426.6 1603 L1428.5 1601.5 L1430.4 1600.1 L1432.3 1598.7 L1434.2 1597.3 L1436.2 1596 L1438.1 1594.7 L1440 1593.4 L1441.9 1592.2 L1443.8 1591 L1445.7 1589.9 L1447.6 1588.7 L1449.5 1587.6 L1451.4 1586.5 L1453.3 1585.4 L1455.2 1584.4 L1457.1 1583.4 L1459 1582.4 L1460.9 1581.4 L1462.9 1580.4 L1464.8 1579.4 L1466.7 1578.5 L1468.6 1577.6 L1470.5 1576.7 L1472.4 1575.8 L1474.3 1574.9 L1476.2 1574 L1478.1 1573.2 L1480 1572.4 L1481.9 1571.5 L1483.8 1570.7 L1485.7 1569.9 L1487.7 1569.1 L1489.6 1568.4 L1491.5 1567.6 L1493.4 1566.9 L1495.3 1566.1 L1497.2 1565.4 L1499.1 1564.7 L1501 1564 L1502.9 1563.3 L1504.8 1562.6 L1506.7 1561.9 L1508.6 1561.3 L1510.5 1560.6 L1512.5 1560 L1514.4 1559.3 L1516.3 1558.7 L1518.2 1558.1 L1520.1 1557.5 L1522 1556.9 L1523.9 1556.3 L1525.8 1555.7 L1527.7 1555.1 L1529.6 1554.6 L1531.5 1554 L1533.4 1553.5 L1535.3 1552.9 L1537.2 1552.4 L1539.2 1551.9 L1541.1 1551.4 L1543 1550.8 L1544.9 1550.3 L1546.8 1549.8 L1548.7 1549.4 L1550.6 1548.9 L1552.5 1548.4 L1554.4 1547.9 L1556.3 1547.5 L1558.2 1547 L1560.1 1546.6 L1562 1546.1 L1564 1545.7 L1565.9 1545.3 L1567.8 1544.9 L1569.7 1544.5 L1571.6 1544 L1573.5 1543.6 L1575.4 1543.2 L1577.3 1542.9 L1579.2 1542.5 L1581.1 1542.1 L1583 1541.7 L1584.9 1541.3 L1586.8 1541 L1588.8 1540.6 L1590.7 1540.3 L1592.6 1539.9 L1594.5 1539.6 L1596.4 1539.2 L1598.3 1538.9 L1600.2 1538.6 L1602.1 1538.3 L1604 1538 L1605.9 1537.6 L1607.8 1537.3 L1609.7 1537 L1611.6 1536.7 L1613.5 1536.4 L1615.5 1536.1 L1617.4 1535.9 L1619.3 1535.6 L1621.2 1535.3 L1623.1 1535 L1625 1534.7 L1626.9 1534.5 L1628.8 1534.2 L1630.7 1534 L1632.6 1533.7 L1634.5 1533.5 L1636.4 1533.2 L1638.3 1533 L1640.3 1532.7 L1642.2 1532.5 L1644.1 1532.3 L1646 1532 L1647.9 1531.8 L1649.8 1531.6 L1651.7 1531.4 L1653.6 1531.1 L1655.5 1530.9 L1657.4 1530.7 L1659.3 1530.5 L1661.2 1530.3 L1663.1 1530.1 L1665 1529.9 L1667 1529.7 L1668.9 1529.5 L1670.8 1529.3 L1672.7 1529.1 L1674.6 1528.9 L1676.5 1528.8 L1678.4 1528.6 L1680.3 1528.4 L1682.2 1528.2 L1684.1 1528.1 L1686 1527.9 L1687.9 1527.7 L1689.8 1527.6 L1691.8 1527.4 L1693.7 1527.2 L1695.6 1527.1 L1697.5 1526.9 L1699.4 1526.8 L1701.3 1526.6 L1703.2 1526.5 L1705.1 1526.3 L1707 1526.2 L1708.9 1526.1 L1710.8 1525.9 L1712.7 1525.8 L1714.6 1525.6 L1716.6 1525.5 L1718.5 1525.4 L1720.4 1525.2 L1722.3 1525.1 L1724.2 1525 L1726.1 1524.9 L1728 1524.7 L1729.9 1524.6 L1731.8 1524.5 L1733.7 1524.4 L1735.6 1524.3 L1737.5 1524.2 L1739.4 1524.1 L1741.3 1523.9 L1743.3 1523.8 L1745.2 1523.7 L1747.1 1523.6 L1749 1523.5 L1750.9 1523.4 L1752.8 1523.3 L1754.7 1523.2 L1756.6 1523.1 L1758.5 1523 L1760.4 1522.9 L1762.3 1522.8 L1764.2 1522.7 L1766.1 1522.6 L1768.1 1522.6 L1770 1522.5 L1771.9 1522.4 L1773.8 1522.3 L1775.7 1522.2 L1777.6 1522.1 L1779.5 1522 L1781.4 1522 L1783.3 1521.9 L1785.2 1521.8 L1787.1 1521.7 L1789 1521.7 L1790.9 1521.6 L1792.9 1521.5 L1794.8 1521.4 L1796.7 1521.4 L1798.6 1521.3 L1800.5 1521.2 L1802.4 1521.1 L1804.3 1521.1 L1806.2 1521 L1808.1 1520.9 L1810 1520.9 L1811.9 1520.8 L1813.8 1520.8" fill="none" stroke="#F050D0" stroke-width="2.3" stroke-linejoin="round"/>
<path d="M1399.9 1631 L1401.8 1625.7 L1403.7 1620.7 L1405.6 1616 L1407.5 1611.5 L1409.4 1607.2 L1411.4 1603.1 L1413.3 1599.2 L1415.2 1595.6 L1417.1 1592.1 L1419 1588.7 L1420.9 1585.6 L1422.8 1582.6 L1424.7 1579.7 L1426.6 1577 L1428.5 1574.3 L1430.4 1571.9 L1432.3 1569.5 L1434.2 1567.2 L1436.2 1565.1 L1438.1 1563 L1440 1561 L1441.9 1559.1 L1443.8 1557.3 L1445.7 1555.6 L1447.6 1553.9 L1449.5 1552.3 L1451.4 1550.8 L1453.3 1549.4 L1455.2 1548 L1457.1 1546.6 L1459 1545.3 L1460.9 1544.1 L1462.9 1542.9 L1464.8 1541.8 L1466.7 1540.6 L1468.6 1539.6 L1470.5 1538.6 L1472.4 1537.6 L1474.3 1536.6 L1476.2 1535.7 L1478.1 1534.8 L1480 1534 L1481.9 1533.1 L1483.8 1532.3 L1485.7 1531.5 L1487.7 1530.8 L1489.6 1530.1 L1491.5 1529.4 L1493.4 1528.7 L1495.3 1528 L1497.2 1527.4 L1499.1 1526.7 L1501 1526.1 L1502.9 1525.5 L1504.8 1525 L1506.7 1524.4 L1508.6 1523.9 L1510.5 1523.3 L1512.5 1522.8 L1514.4 1522.3 L1516.3 1521.8 L1518.2 1521.3 L1520.1 1520.9 L1522 1520.4 L1523.9 1519.9 L1525.8 1519.5 L1527.7 1519.1 L1529.6 1518.7 L1531.5 1518.2 L1533.4 1517.8 L1535.3 1517.5 L1537.2 1517.1 L1539.2 1516.7 L1541.1 1516.3 L1543 1516 L1544.9 1515.6 L1546.8 1515.2 L1548.7 1514.9 L1550.6 1514.6 L1552.5 1514.2 L1554.4 1513.9 L1556.3 1513.6 L1558.2 1513.3 L1560.1 1513 L1562 1512.7 L1564 1512.4 L1565.9 1512.1 L1567.8 1511.8 L1569.7 1511.5 L1571.6 1511.2 L1573.5 1510.9 L1575.4 1510.7 L1577.3 1510.4 L1579.2 1510.1 L1581.1 1509.9 L1583 1509.6 L1584.9 1509.4 L1586.8 1509.1 L1588.8 1508.9 L1590.7 1508.7 L1592.6 1508.4 L1594.5 1508.2 L1596.4 1508 L1598.3 1507.7 L1600.2 1507.5 L1602.1 1507.3 L1604 1507.1 L1605.9 1506.8 L1607.8 1506.6 L1609.7 1506.4 L1611.6 1506.2 L1613.5 1506 L1615.5 1505.8 L1617.4 1505.6 L1619.3 1505.4 L1621.2 1505.2 L1623.1 1505 L1625 1504.9 L1626.9 1504.7 L1628.8 1504.5 L1630.7 1504.3 L1632.6 1504.1 L1634.5 1504 L1636.4 1503.8 L1638.3 1503.6 L1640.3 1503.4 L1642.2 1503.3 L1644.1 1503.1 L1646 1502.9 L1647.9 1502.8 L1649.8 1502.6 L1651.7 1502.5 L1653.6 1502.3 L1655.5 1502.2 L1657.4 1502 L1659.3 1501.9 L1661.2 1501.7 L1663.1 1501.6 L1665 1501.4 L1667 1501.3 L1668.9 1501.1 L1670.8 1501 L1672.7 1500.9 L1674.6 1500.7 L1676.5 1500.6 L1678.4 1500.5 L1680.3 1500.3 L1682.2 1500.2 L1684.1 1500.1 L1686 1500 L1687.9 1499.8 L1689.8 1499.7 L1691.8 1499.6 L1693.7 1499.5 L1695.6 1499.3 L1697.5 1499.2 L1699.4 1499.1 L1701.3 1499 L1703.2 1498.9 L1705.1 1498.8 L1707 1498.7 L1708.9 1498.6 L1710.8 1498.4 L1712.7 1498.3 L1714.6 1498.2 L1716.6 1498.1 L1718.5 1498 L1720.4 1497.9 L1722.3 1497.8 L1724.2 1497.7 L1726.1 1497.6 L1728 1497.5 L1729.9 1497.4 L1731.8 1497.3 L1733.7 1497.3 L1735.6 1497.2 L1737.5 1497.1 L1739.4 1497 L1741.3 1496.9 L1743.3 1496.8 L1745.2 1496.7 L1747.1 1496.6 L1749 1496.5 L1750.9 1496.5 L1752.8 1496.4 L1754.7 1496.3 L1756.6 1496.2 L1758.5 1496.1 L1760.4 1496.1 L1762.3 1496 L1764.2 1495.9 L1766.1 1495.8 L1768.1 1495.8 L1770 1495.7 L1771.9 1495.6 L1773.8 1495.5 L1775.7 1495.5 L1777.6 1495.4 L1779.5 1495.3 L1781.4 1495.3 L1783.3 1495.2 L1785.2 1495.1 L1787.1 1495.1 L1789 1495 L1790.9 1494.9 L1792.9 1494.9 L1794.8 1494.8 L1796.7 1494.7 L1798.6 1494.7 L1800.5 1494.6 L1802.4 1494.6 L1804.3 1494.5 L1806.2 1494.4 L1808.1 1494.4 L1810 1494.3 L1811.9 1494.3 L1813.8 1494.2" fill="none" stroke="#F050D0" stroke-width="2.3" stroke-linejoin="round"/>
<line x1="1355.6" y1="1663.1" x2="1355.6" y2="1990.2" stroke="#000" stroke-width="3.2" />
<line x1="1339" y1="1988.6" x2="1838.5" y2="1988.6" stroke="#000" stroke-width="3.2" />
<path d="M1355.6 1973.6h-5.5M1355.6 1958.6h-10M1355.6 1943.6h-5.5M1355.6 1928.6h-10M1355.6 1913.6h-5.5M1355.6 1898.6h-10M1355.6 1883.6h-5.5M1355.6 1868.6h-10M1355.6 1853.6h-5.5M1355.6 1838.6h-10M1355.6 1823.6h-5.5M1355.6 1808.6h-10M1355.6 1793.6h-5.5M1355.6 1778.6h-10M1355.6 1763.6h-5.5M1355.6 1748.6h-10M1355.6 1733.6h-5.5M1355.6 1718.6h-10M1355.6 1703.6h-5.5M1355.6 1688.6h-10M1367.5 1988.6v5.5M1382.7 1988.6v5.5M1398 1988.6v10M1413.3 1988.6v5.5M1428.5 1988.6v5.5M1443.8 1988.6v5.5M1459 1988.6v5.5M1474.3 1988.6v10M1489.6 1988.6v5.5M1504.8 1988.6v5.5M1520.1 1988.6v5.5M1535.3 1988.6v5.5M1550.6 1988.6v10M1565.9 1988.6v5.5M1581.1 1988.6v5.5M1596.4 1988.6v5.5M1611.6 1988.6v5.5M1626.9 1988.6v10M1642.2 1988.6v5.5M1657.4 1988.6v5.5M1672.7 1988.6v5.5M1687.9 1988.6v5.5M1703.2 1988.6v10M1718.5 1988.6v5.5M1733.7 1988.6v5.5M1749 1988.6v5.5M1764.2 1988.6v5.5M1779.5 1988.6v10M1794.8 1988.6v5.5M1810 1988.6v5.5M1825.3 1988.6v5.5M1356 1988.6v5.5" fill="none" stroke="#000" stroke-width="2.2"/>
<text x="1343" y="1965.6" font-size="19.8" font-family='"Liberation Sans", sans-serif' font-weight="bold" text-anchor="end" fill="#111" textLength="20.2" lengthAdjust="spacingAndGlyphs">10</text>
<text x="1343" y="1935.6" font-size="19.8" font-family='"Liberation Sans", sans-serif' font-weight="bold" text-anchor="end" fill="#111" textLength="20.2" lengthAdjust="spacingAndGlyphs">20</text>
<text x="1343" y="1905.6" font-size="19.8" font-family='"Liberation Sans", sans-serif' font-weight="bold" text-anchor="end" fill="#111" textLength="20.2" lengthAdjust="spacingAndGlyphs">30</text>
<text x="1343" y="1875.6" font-size="19.8" font-family='"Liberation Sans", sans-serif' font-weight="bold" text-anchor="end" fill="#111" textLength="20.2" lengthAdjust="spacingAndGlyphs">40</text>
<text x="1343" y="1845.6" font-size="19.8" font-family='"Liberation Sans", sans-serif' font-weight="bold" text-anchor="end" fill="#111" textLength="20.2" lengthAdjust="spacingAndGlyphs">50</text>
<text x="1343" y="1815.6" font-size="19.8" font-family='"Liberation Sans", sans-serif' font-weight="bold" text-anchor="end" fill="#111" textLength="20.2" lengthAdjust="spacingAndGlyphs">60</text>
<text x="1343" y="1785.6" font-size="19.8" font-family='"Liberation Sans", sans-serif' font-weight="bold" text-anchor="end" fill="#111" textLength="20.2" lengthAdjust="spacingAndGlyphs">70</text>
<text x="1343" y="1755.6" font-size="19.8" font-family='"Liberation Sans", sans-serif' font-weight="bold" text-anchor="end" fill="#111" textLength="20.2" lengthAdjust="spacingAndGlyphs">80</text>
<text x="1343" y="1725.6" font-size="19.8" font-family='"Liberation Sans", sans-serif' font-weight="bold" text-anchor="end" fill="#111" textLength="20.2" lengthAdjust="spacingAndGlyphs">90</text>
<text x="1343" y="1695.6" font-size="19.8" font-family='"Liberation Sans", sans-serif' font-weight="bold" text-anchor="end" fill="#111" textLength="30.3" lengthAdjust="spacingAndGlyphs">100</text>
<text x="1398" y="2021.6" font-size="19.8" font-family='"Liberation Sans", sans-serif' font-weight="bold" text-anchor="middle" fill="#111" textLength="10.1" lengthAdjust="spacingAndGlyphs">0</text>
<text x="1474.3" y="2021.6" font-size="19.8" font-family='"Liberation Sans", sans-serif' font-weight="bold" text-anchor="middle" fill="#111" textLength="20.2" lengthAdjust="spacingAndGlyphs">20</text>
<text x="1550.6" y="2021.6" font-size="19.8" font-family='"Liberation Sans", sans-serif' font-weight="bold" text-anchor="middle" fill="#111" textLength="20.2" lengthAdjust="spacingAndGlyphs">40</text>
<text x="1626.9" y="2021.6" font-size="19.8" font-family='"Liberation Sans", sans-serif' font-weight="bold" text-anchor="middle" fill="#111" textLength="20.2" lengthAdjust="spacingAndGlyphs">60</text>
<text x="1703.2" y="2021.6" font-size="19.8" font-family='"Liberation Sans", sans-serif' font-weight="bold" text-anchor="middle" fill="#111" textLength="20.2" lengthAdjust="spacingAndGlyphs">80</text>
<text x="1779.5" y="2021.6" font-size="19.8" font-family='"Liberation Sans", sans-serif' font-weight="bold" text-anchor="middle" fill="#111" textLength="30.3" lengthAdjust="spacingAndGlyphs">100</text>
<line x1="1398" y1="1664.6" x2="1398" y2="1988.6" stroke="#333" stroke-width="1" stroke-dasharray="1.2 3.2"/>
<path d="M1359.8 1654.9v19.4m-7 0h14m0 -19.4h-14M1363.7 1671v11.3m-7 0h14m0 -11.3h-14M1367.5 1667.5v18.2m-7 0h14m0 -18.2h-14M1371.3 1668.2v16.7m-7 0h14m0 -16.7h-14M1375.1 1674v11.2m-7 0h14m0 -11.2h-14M1378.9 1694.1v19.1m-7 0h14m0 -19.1h-14M1382.7 1701v17.2m-7 0h14m0 -17.2h-14M1386.6 1693.2v14.9m-7 0h14m0 -14.9h-14M1390.4 1711.6v14.1m-7 0h14m0 -14.1h-14M1394.2 1708.1v15m-7 0h14m0 -15h-14M1401.8 1961.1v25.1m-7 0h14m0 -25.1h-14M1405.6 1947.6v34m-7 0h14m0 -34h-14M1409.4 1933.5v38.2m-7 0h14m0 -38.2h-14M1413.3 1944.4v34.4m-7 0h14m0 -34.4h-14M1417.1 1925.3v36.6m-7 0h14m0 -36.6h-14M1420.9 1928.6v23.9m-7 0h14m0 -23.9h-14M1424.7 1929.4v34.3m-7 0h14m0 -34.3h-14M1428.5 1928.1v25.1m-7 0h14m0 -25.1h-14M1432.3 1915.9v38m-7 0h14m0 -38h-14M1436.2 1916.8v23.7m-7 0h14m0 -23.7h-14M1440 1901v25.2m-7 0h14m0 -25.2h-14M1443.8 1892.3v48.5m-7 0h14m0 -48.5h-14M1447.6 1893.2v40.8m-7 0h14m0 -40.8h-14M1451.4 1895.9v32.9m-7 0h14m0 -32.9h-14M1455.2 1888.4v38.3m-7 0h14m0 -38.3h-14M1459 1904.2v30.8m-7 0h14m0 -30.8h-14M1462.9 1889.2v50.5m-7 0h14m0 -50.5h-14M1466.7 1894.8v31.6m-7 0h14m0 -31.6h-14M1470.5 1890.7v43.9m-7 0h14m0 -43.9h-14M1474.3 1894.9v37.5m-7 0h14m0 -37.5h-14M1478.1 1880.5v24.2m-7 0h14m0 -24.2h-14M1481.9 1876.5v31.3m-7 0h14m0 -31.3h-14M1485.7 1882.4v26.4m-7 0h14m0 -26.4h-14M1489.6 1879.2v35.3m-7 0h14m0 -35.3h-14M1493.4 1877.4v42.4m-7 0h14m0 -42.4h-14M1497.2 1870.5v28.1m-7 0h14m0 -28.1h-14M1501 1855.2v44.7m-7 0h14m0 -44.7h-14M1504.8 1875.9v32.8m-7 0h14m0 -32.8h-14M1508.6 1899.4v28.3m-7 0h14m0 -28.3h-14M1512.5 1874.8v47.5m-7 0h14m0 -47.5h-14M1516.3 1873.1v41.7m-7 0h14m0 -41.7h-14M1520.1 1877.5v30.1m-7 0h14m0 -30.1h-14M1523.9 1878.5v40.2m-7 0h14m0 -40.2h-14M1527.7 1879v27.9m-7 0h14m0 -27.9h-14M1531.5 1863.8v39.6m-7 0h14m0 -39.6h-14M1535.3 1881.6v34m-7 0h14m0 -34h-14M1539.2 1877.9v35m-7 0h14m0 -35h-14M1543 1871.8v29.6m-7 0h14m0 -29.6h-14M1546.8 1876.2v30.1m-7 0h14m0 -30.1h-14M1550.6 1881.6v40m-7 0h14m0 -40h-14M1554.4 1860.4v40.4m-7 0h14m0 -40.4h-14M1558.2 1855.6v48.8m-7 0h14m0 -48.8h-14M1562 1860.3v46.6m-7 0h14m0 -46.6h-14M1565.9 1874.6v29.9m-7 0h14m0 -29.9h-14M1569.7 1873.2v33.9m-7 0h14m0 -33.9h-14M1573.5 1876.2v32.8m-7 0h14m0 -32.8h-14M1577.3 1878.1v46.9m-7 0h14m0 -46.9h-14M1581.1 1875.5v64.2m-7 0h14m0 -64.2h-14M1584.9 1878.7v27.8m-7 0h14m0 -27.8h-14M1588.8 1871.3v50.7m-7 0h14m0 -50.7h-14M1592.6 1877.2v42.8m-7 0h14m0 -42.8h-14M1596.4 1871.2v43.1m-7 0h14m0 -43.1h-14M1600.2 1865.5v36.2m-7 0h14m0 -36.2h-14M1604 1852.6v74.1m-7 0h14m0 -74.1h-14M1607.8 1876.9v31.8m-7 0h14m0 -31.8h-14M1611.6 1883.4v30.4m-7 0h14m0 -30.4h-14M1615.5 1869.3v40.7m-7 0h14m0 -40.7h-14M1619.3 1863.4v39.5m-7 0h14m0 -39.5h-14M1623.1 1857.3v40.6m-7 0h14m0 -40.6h-14M1626.9 1870.7v67.8m-7 0h14m0 -67.8h-14M1630.7 1868v43.1m-7 0h14m0 -43.1h-14M1634.5 1870.6v50m-7 0h14m0 -50h-14M1638.3 1870.5v38.3m-7 0h14m0 -38.3h-14M1642.2 1860.5v42m-7 0h14m0 -42h-14M1646 1852v45.2m-7 0h14m0 -45.2h-14M1649.8 1864.3v38.7m-7 0h14m0 -38.7h-14M1653.6 1854v47.1m-7 0h14m0 -47.1h-14M1657.4 1862.7v36.8m-7 0h14m0 -36.8h-14M1661.2 1866.3v40.6m-7 0h14m0 -40.6h-14M1665 1860.8v39.6m-7 0h14m0 -39.6h-14M1668.9 1864.6v37.4m-7 0h14m0 -37.4h-14M1672.7 1861.8v55.5m-7 0h14m0 -55.5h-14M1676.5 1865.1v44.4m-7 0h14m0 -44.4h-14M1680.3 1858.3v44.6m-7 0h14m0 -44.6h-14M1684.1 1867.1v45m-7 0h14m0 -45h-14M1687.9 1862.6v66m-7 0h14m0 -66h-14M1691.8 1877.9v30m-7 0h14m0 -30h-14M1695.6 1867.1v39.1m-7 0h14m0 -39.1h-14M1699.4 1863.5v28.2m-7 0h14m0 -28.2h-14M1703.2 1872.8v39.6m-7 0h14m0 -39.6h-14M1707 1872v34.4m-7 0h14m0 -34.4h-14M1710.8 1866.5v52.3m-7 0h14m0 -52.3h-14M1714.6 1859.2v48.9m-7 0h14m0 -48.9h-14M1718.5 1859.1v43m-7 0h14m0 -43h-14M1722.3 1850v37.1m-7 0h14m0 -37.1h-14M1726.1 1857.2v32.3m-7 0h14m0 -32.3h-14M1729.9 1863.3v40.6m-7 0h14m0 -40.6h-14M1733.7 1868.9v29.4m-7 0h14m0 -29.4h-14M1737.5 1865.9v30m-7 0h14m0 -30h-14M1741.3 1831.7v79.7m-7 0h14m0 -79.7h-14M1745.2 1861.2v32.9m-7 0h14m0 -32.9h-14M1749 1846.9v55.7m-7 0h14m0 -55.7h-14M1752.8 1841.4v48.5m-7 0h14m0 -48.5h-14M1756.6 1853.3v36.5m-7 0h14m0 -36.5h-14M1760.4 1835.8v65.7m-7 0h14m0 -65.7h-14M1764.2 1848.7v27.7m-7 0h14m0 -27.7h-14M1768.1 1854.6v34.4m-7 0h14m0 -34.4h-14M1771.9 1852.9v49.4m-7 0h14m0 -49.4h-14M1775.7 1846.4v38.3m-7 0h14m0 -38.3h-14M1779.5 1854.6v34.1m-7 0h14m0 -34.1h-14M1783.3 1853.3v48.5m-7 0h14m0 -48.5h-14M1787.1 1847.1v47.1m-7 0h14m0 -47.1h-14M1790.9 1843.4v38.3m-7 0h14m0 -38.3h-14M1794.8 1841.5v48.1m-7 0h14m0 -48.1h-14M1798.6 1831.7v31.8m-7 0h14m0 -31.8h-14M1802.4 1849.8v31.6m-7 0h14m0 -31.6h-14M1806.2 1848.5v28.2m-7 0h14m0 -28.2h-14M1810 1825.4v44.4m-7 0h14m0 -44.4h-14" fill="none" stroke="#1a1a1a" stroke-width="1"/>
<path d="M1352.8 1664.6l7 -7.4l7 7.4l-7 7.4zM1356.7 1676.6l7 -7.4l7 7.4l-7 7.4zM1360.5 1676.6l7 -7.4l7 7.4l-7 7.4zM1364.3 1676.6l7 -7.4l7 7.4l-7 7.4zM1368.1 1679.6l7 -7.4l7 7.4l-7 7.4zM1371.9 1703.6l7 -7.4l7 7.4l-7 7.4zM1375.7 1709.6l7 -7.4l7 7.4l-7 7.4zM1379.6 1700.6l7 -7.4l7 7.4l-7 7.4zM1383.4 1718.6l7 -7.4l7 7.4l-7 7.4zM1387.2 1715.6l7 -7.4l7 7.4l-7 7.4zM1391 1988.6l7 -7.4l7 7.4l-7 7.4zM1394.8 1973.6l7 -7.4l7 7.4l-7 7.4zM1398.6 1964.6l7 -7.4l7 7.4l-7 7.4zM1402.4 1952.6l7 -7.4l7 7.4l-7 7.4zM1406.3 1961.6l7 -7.4l7 7.4l-7 7.4zM1410.1 1943.6l7 -7.4l7 7.4l-7 7.4zM1413.9 1940.6l7 -7.4l7 7.4l-7 7.4zM1417.7 1946.6l7 -7.4l7 7.4l-7 7.4zM1421.5 1940.6l7 -7.4l7 7.4l-7 7.4zM1425.3 1934.9l7 -7.4l7 7.4l-7 7.4zM1429.2 1928.6l7 -7.4l7 7.4l-7 7.4zM1433 1913.6l7 -7.4l7 7.4l-7 7.4zM1436.8 1916.6l7 -7.4l7 7.4l-7 7.4zM1440.6 1913.6l7 -7.4l7 7.4l-7 7.4zM1444.4 1912.3l7 -7.4l7 7.4l-7 7.4zM1448.2 1907.6l7 -7.4l7 7.4l-7 7.4zM1452 1919.6l7 -7.4l7 7.4l-7 7.4zM1455.9 1914.5l7 -7.4l7 7.4l-7 7.4zM1459.7 1910.6l7 -7.4l7 7.4l-7 7.4zM1463.5 1912.7l7 -7.4l7 7.4l-7 7.4zM1467.3 1913.6l7 -7.4l7 7.4l-7 7.4zM1471.1 1892.6l7 -7.4l7 7.4l-7 7.4zM1474.9 1892.1l7 -7.4l7 7.4l-7 7.4zM1478.7 1895.6l7 -7.4l7 7.4l-7 7.4zM1482.6 1896.9l7 -7.4l7 7.4l-7 7.4zM1486.4 1898.6l7 -7.4l7 7.4l-7 7.4zM1490.2 1884.5l7 -7.4l7 7.4l-7 7.4zM1494 1877.6l7 -7.4l7 7.4l-7 7.4zM1497.8 1892.3l7 -7.4l7 7.4l-7 7.4zM1501.6 1913.6l7 -7.4l7 7.4l-7 7.4zM1505.5 1898.6l7 -7.4l7 7.4l-7 7.4zM1509.3 1893.9l7 -7.4l7 7.4l-7 7.4zM1513.1 1892.6l7 -7.4l7 7.4l-7 7.4zM1516.9 1898.6l7 -7.4l7 7.4l-7 7.4zM1520.7 1893l7 -7.4l7 7.4l-7 7.4zM1524.5 1883.6l7 -7.4l7 7.4l-7 7.4zM1528.3 1898.6l7 -7.4l7 7.4l-7 7.4zM1532.2 1895.4l7 -7.4l7 7.4l-7 7.4zM1536 1886.6l7 -7.4l7 7.4l-7 7.4zM1539.8 1891.3l7 -7.4l7 7.4l-7 7.4zM1543.6 1901.6l7 -7.4l7 7.4l-7 7.4zM1547.4 1880.6l7 -7.4l7 7.4l-7 7.4zM1551.2 1880.1l7 -7.4l7 7.4l-7 7.4zM1555 1883.6l7 -7.4l7 7.4l-7 7.4zM1558.9 1889.6l7 -7.4l7 7.4l-7 7.4zM1562.7 1890.2l7 -7.4l7 7.4l-7 7.4zM1566.5 1892.6l7 -7.4l7 7.4l-7 7.4zM1570.3 1901.6l7 -7.4l7 7.4l-7 7.4zM1574.1 1907.6l7 -7.4l7 7.4l-7 7.4zM1577.9 1892.6l7 -7.4l7 7.4l-7 7.4zM1581.8 1896.6l7 -7.4l7 7.4l-7 7.4zM1585.6 1898.6l7 -7.4l7 7.4l-7 7.4zM1589.4 1892.7l7 -7.4l7 7.4l-7 7.4zM1593.2 1883.6l7 -7.4l7 7.4l-7 7.4zM1597 1889.6l7 -7.4l7 7.4l-7 7.4zM1600.8 1892.8l7 -7.4l7 7.4l-7 7.4zM1604.6 1898.6l7 -7.4l7 7.4l-7 7.4zM1608.5 1889.6l7 -7.4l7 7.4l-7 7.4zM1612.3 1883.1l7 -7.4l7 7.4l-7 7.4zM1616.1 1877.6l7 -7.4l7 7.4l-7 7.4zM1619.9 1904.6l7 -7.4l7 7.4l-7 7.4zM1623.7 1889.6l7 -7.4l7 7.4l-7 7.4zM1627.5 1895.6l7 -7.4l7 7.4l-7 7.4zM1631.3 1889.6l7 -7.4l7 7.4l-7 7.4zM1635.2 1881.4l7 -7.4l7 7.4l-7 7.4zM1639 1874.6l7 -7.4l7 7.4l-7 7.4zM1642.8 1883.6l7 -7.4l7 7.4l-7 7.4zM1646.6 1877.6l7 -7.4l7 7.4l-7 7.4zM1650.4 1881.1l7 -7.4l7 7.4l-7 7.4zM1654.2 1886.6l7 -7.4l7 7.4l-7 7.4zM1658 1880.6l7 -7.4l7 7.4l-7 7.4zM1661.9 1883.3l7 -7.4l7 7.4l-7 7.4zM1665.7 1889.6l7 -7.4l7 7.4l-7 7.4zM1669.5 1887.3l7 -7.4l7 7.4l-7 7.4zM1673.3 1880.6l7 -7.4l7 7.4l-7 7.4zM1677.1 1889.6l7 -7.4l7 7.4l-7 7.4zM1680.9 1895.6l7 -7.4l7 7.4l-7 7.4zM1684.8 1892.9l7 -7.4l7 7.4l-7 7.4zM1688.6 1886.6l7 -7.4l7 7.4l-7 7.4zM1692.4 1877.6l7 -7.4l7 7.4l-7 7.4zM1696.2 1892.6l7 -7.4l7 7.4l-7 7.4zM1700 1889.1l7 -7.4l7 7.4l-7 7.4zM1703.8 1892.6l7 -7.4l7 7.4l-7 7.4zM1707.6 1883.6l7 -7.4l7 7.4l-7 7.4zM1711.5 1880.6l7 -7.4l7 7.4l-7 7.4zM1715.3 1868.6l7 -7.4l7 7.4l-7 7.4zM1719.1 1873.4l7 -7.4l7 7.4l-7 7.4zM1722.9 1883.6l7 -7.4l7 7.4l-7 7.4zM1726.7 1883.6l7 -7.4l7 7.4l-7 7.4zM1730.5 1880.9l7 -7.4l7 7.4l-7 7.4zM1734.3 1871.6l7 -7.4l7 7.4l-7 7.4zM1738.2 1877.6l7 -7.4l7 7.4l-7 7.4zM1742 1874.8l7 -7.4l7 7.4l-7 7.4zM1745.8 1865.6l7 -7.4l7 7.4l-7 7.4zM1749.6 1871.6l7 -7.4l7 7.4l-7 7.4zM1753.4 1868.6l7 -7.4l7 7.4l-7 7.4zM1757.2 1862.6l7 -7.4l7 7.4l-7 7.4zM1761.1 1871.7l7 -7.4l7 7.4l-7 7.4zM1764.9 1877.6l7 -7.4l7 7.4l-7 7.4zM1768.7 1865.6l7 -7.4l7 7.4l-7 7.4zM1772.5 1871.6l7 -7.4l7 7.4l-7 7.4zM1776.3 1877.6l7 -7.4l7 7.4l-7 7.4zM1780.1 1870.6l7 -7.4l7 7.4l-7 7.4zM1783.9 1862.6l7 -7.4l7 7.4l-7 7.4zM1787.8 1865.6l7 -7.4l7 7.4l-7 7.4zM1791.6 1847.6l7 -7.4l7 7.4l-7 7.4zM1795.4 1865.6l7 -7.4l7 7.4l-7 7.4zM1799.2 1862.6l7 -7.4l7 7.4l-7 7.4zM1803 1847.6l7 -7.4l7 7.4l-7 7.4z" fill="#1296B4" stroke="#1F55E0" stroke-width="0.9"/>
<path d="M1359.8 1666.3v14.5m-7 0h14m0 -14.5h-14M1363.7 1671.5v22.3m-7 0h14m0 -22.3h-14M1367.5 1680.3v10.5m-7 0h14m0 -10.5h-14M1371.3 1678.6v14m-7 0h14m0 -14h-14M1375.1 1682.3v12.7m-7 0h14m0 -12.7h-14M1378.9 1691.9v11.5m-7 0h14m0 -11.5h-14M1382.7 1680.9v15.4m-7 0h14m0 -15.4h-14M1386.6 1686.4v10.5m-7 0h14m0 -10.5h-14M1390.4 1698.6v15.9m-7 0h14m0 -15.9h-14M1394.2 1689.8v15.6m-7 0h14m0 -15.6h-14M1401.8 1961.6v23.9m-7 0h14m0 -23.9h-14M1405.6 1943.9v29.4m-7 0h14m0 -29.4h-14M1409.4 1941.9v27.5m-7 0h14m0 -27.5h-14M1413.3 1941v23.1m-7 0h14m0 -23.1h-14M1417.1 1926v29.2m-7 0h14m0 -29.2h-14M1420.9 1925.1v25m-7 0h14m0 -25h-14M1424.7 1927.4v20.4m-7 0h14m0 -20.4h-14M1428.5 1927.4v20.3m-7 0h14m0 -20.3h-14M1432.3 1920.8v27.5m-7 0h14m0 -27.5h-14M1436.2 1910.8v29.5m-7 0h14m0 -29.5h-14M1440 1905.7v49.7m-7 0h14m0 -49.7h-14M1443.8 1917.1v23m-7 0h14m0 -23h-14M1447.6 1919.8v21.2m-7 0h14m0 -21.2h-14M1451.4 1913.1v31m-7 0h14m0 -31h-14M1455.2 1904.3v24.5m-7 0h14m0 -24.5h-14M1459 1904v25.9m-7 0h14m0 -25.9h-14M1462.9 1897.5v26.2m-7 0h14m0 -26.2h-14M1466.7 1882.7v31.7m-7 0h14m0 -31.7h-14M1470.5 1883.5v35.2m-7 0h14m0 -35.2h-14M1474.3 1880.9v35.4m-7 0h14m0 -35.4h-14M1478.1 1875.3v33.9m-7 0h14m0 -33.9h-14M1481.9 1876.4v26.4m-7 0h14m0 -26.4h-14M1485.7 1868.4v36.5m-7 0h14m0 -36.5h-14M1489.6 1883.6v25.6m-7 0h14m0 -25.6h-14M1493.4 1890.7v27.7m-7 0h14m0 -27.7h-14M1497.2 1884.5v28.4m-7 0h14m0 -28.4h-14M1501 1886v25.3m-7 0h14m0 -25.3h-14M1504.8 1874.9v35.5m-7 0h14m0 -35.5h-14M1508.6 1868.1v36.4m-7 0h14m0 -36.4h-14M1512.5 1870.9v25.5m-7 0h14m0 -25.5h-14M1516.3 1872.5v37.6m-7 0h14m0 -37.6h-14M1520.1 1881v23.2m-7 0h14m0 -23.2h-14M1523.9 1871.4v32.3m-7 0h14m0 -32.3h-14M1527.7 1869.7v39.8m-7 0h14m0 -39.8h-14M1531.5 1856.6v59.6m-7 0h14m0 -59.6h-14M1535.3 1873.1v33m-7 0h14m0 -33h-14M1539.2 1872.7v25m-7 0h14m0 -25h-14M1543 1856.2v36.8m-7 0h14m0 -36.8h-14M1546.8 1862v25.4m-7 0h14m0 -25.4h-14M1550.6 1867.3v26.6m-7 0h14m0 -26.6h-14M1554.4 1863.3v35.7m-7 0h14m0 -35.7h-14M1558.2 1866.6v28m-7 0h14m0 -28h-14M1562 1864.1v33.4m-7 0h14m0 -33.4h-14M1565.9 1865.1v31.1m-7 0h14m0 -31.1h-14M1569.7 1850.5v41.4m-7 0h14m0 -41.4h-14M1573.5 1852.2v32.9m-7 0h14m0 -32.9h-14M1577.3 1855v37m-7 0h14m0 -37h-14M1581.1 1854.4v40.5m-7 0h14m0 -40.5h-14M1584.9 1852v38.9m-7 0h14m0 -38.9h-14M1588.8 1848.9v39.4m-7 0h14m0 -39.4h-14M1592.6 1837.1v39m-7 0h14m0 -39h-14M1596.4 1835.8v41.2m-7 0h14m0 -41.2h-14M1600.2 1845.9v33.4m-7 0h14m0 -33.4h-14M1604 1834.4v38.4m-7 0h14m0 -38.4h-14M1607.8 1843.8v31.6m-7 0h14m0 -31.6h-14M1611.6 1840.9v37.3m-7 0h14m0 -37.3h-14M1615.5 1829.2v30.8m-7 0h14m0 -30.8h-14M1619.3 1824.8v27.7m-7 0h14m0 -27.7h-14M1623.1 1823.9v29.3m-7 0h14m0 -29.3h-14M1626.9 1829.1v25.1m-7 0h14m0 -25.1h-14M1630.7 1830.3v26.1m-7 0h14m0 -26.1h-14M1634.5 1825.6v38m-7 0h14m0 -38h-14M1638.3 1835v25.1m-7 0h14m0 -25.1h-14M1642.2 1831.4v34.5m-7 0h14m0 -34.5h-14M1646 1844.3v24.7m-7 0h14m0 -24.7h-14M1649.8 1833.9v27.3m-7 0h14m0 -27.3h-14M1653.6 1834.2v28.2m-7 0h14m0 -28.2h-14M1657.4 1836.2v34.7m-7 0h14m0 -34.7h-14M1661.2 1834.7v27.3m-7 0h14m0 -27.3h-14M1665 1831v27.1m-7 0h14m0 -27.1h-14M1668.9 1841.8v29.6m-7 0h14m0 -29.6h-14M1672.7 1841.5v38.7m-7 0h14m0 -38.7h-14M1676.5 1845.3v28.7m-7 0h14m0 -28.7h-14M1680.3 1833.4v40.5m-7 0h14m0 -40.5h-14M1684.1 1824.7v33.9m-7 0h14m0 -33.9h-14M1687.9 1827.4v32.7m-7 0h14m0 -32.7h-14M1691.8 1835.2v24.9m-7 0h14m0 -24.9h-14M1695.6 1834.4v38.4m-7 0h14m0 -38.4h-14M1699.4 1818.9v33.5m-7 0h14m0 -33.5h-14M1703.2 1821.1v28.9m-7 0h14m0 -28.9h-14M1707 1821v35.8m-7 0h14m0 -35.8h-14M1710.8 1829.5v24.2m-7 0h14m0 -24.2h-14M1714.6 1817.3v30.7m-7 0h14m0 -30.7h-14M1718.5 1823.2v36.8m-7 0h14m0 -36.8h-14M1722.3 1810.2v26.8m-7 0h14m0 -26.8h-14M1726.1 1799.7v29.8m-7 0h14m0 -29.8h-14M1729.9 1818.8v39.6m-7 0h14m0 -39.6h-14M1733.7 1808.9v35.5m-7 0h14m0 -35.5h-14M1737.5 1815.8v28.8m-7 0h14m0 -28.8h-14M1741.3 1816.2v26.7m-7 0h14m0 -26.7h-14M1745.2 1825.3v24m-7 0h14m0 -24h-14M1749 1819v39.2m-7 0h14m0 -39.2h-14M1752.8 1816.9v25.5m-7 0h14m0 -25.5h-14M1756.6 1810.9v36.9m-7 0h14m0 -36.9h-14M1760.4 1813.3v32.6m-7 0h14m0 -32.6h-14M1764.2 1814.7v41.2m-7 0h14m0 -41.2h-14M1768.1 1815.9v39.4m-7 0h14m0 -39.4h-14M1771.9 1804.5v38.2m-7 0h14m0 -38.2h-14M1775.7 1799.3v40.5m-7 0h14m0 -40.5h-14M1779.5 1795.2v38.9m-7 0h14m0 -38.9h-14M1783.3 1803.7v33.8m-7 0h14m0 -33.8h-14M1787.1 1810.2v26.8m-7 0h14m0 -26.8h-14M1790.9 1801.6v29.6m-7 0h14m0 -29.6h-14M1794.8 1798.9v25.4m-7 0h14m0 -25.4h-14M1798.6 1807.4v32.4m-7 0h14m0 -32.4h-14M1802.4 1811.4v30.5m-7 0h14m0 -30.5h-14M1806.2 1798.6v25.9m-7 0h14m0 -25.9h-14M1810 1801.4v32.3m-7 0h14m0 -32.3h-14" fill="none" stroke="#1a1a1a" stroke-width="1"/>
<g fill="#808080" stroke="#111" stroke-width="1"><circle cx="1359.8" cy="1673.6" r="6.6"/><circle cx="1363.7" cy="1682.6" r="6.6"/><circle cx="1367.5" cy="1685.6" r="6.6"/><circle cx="1371.3" cy="1685.6" r="6.6"/><circle cx="1375.1" cy="1688.6" r="6.6"/><circle cx="1378.9" cy="1697.6" r="6.6"/><circle cx="1382.7" cy="1688.6" r="6.6"/><circle cx="1386.6" cy="1691.6" r="6.6"/><circle cx="1390.4" cy="1706.6" r="6.6"/><circle cx="1394.2" cy="1697.6" r="6.6"/><circle cx="1398" cy="1988.6" r="6.6"/><circle cx="1401.8" cy="1973.6" r="6.6"/><circle cx="1405.6" cy="1958.6" r="6.6"/><circle cx="1409.4" cy="1955.6" r="6.6"/><circle cx="1413.3" cy="1952.6" r="6.6"/><circle cx="1417.1" cy="1940.6" r="6.6"/><circle cx="1420.9" cy="1937.5" r="6.6"/><circle cx="1424.7" cy="1937.6" r="6.6"/><circle cx="1428.5" cy="1937.6" r="6.6"/><circle cx="1432.3" cy="1934.6" r="6.6"/><circle cx="1436.2" cy="1925.6" r="6.6"/><circle cx="1440" cy="1930.6" r="6.6"/><circle cx="1443.8" cy="1928.6" r="6.6"/><circle cx="1447.6" cy="1930.4" r="6.6"/><circle cx="1451.4" cy="1928.6" r="6.6"/><circle cx="1455.2" cy="1916.6" r="6.6"/><circle cx="1459" cy="1916.9" r="6.6"/><circle cx="1462.9" cy="1910.6" r="6.6"/><circle cx="1466.7" cy="1898.6" r="6.6"/><circle cx="1470.5" cy="1901.1" r="6.6"/><circle cx="1474.3" cy="1898.6" r="6.6"/><circle cx="1478.1" cy="1892.3" r="6.6"/><circle cx="1481.9" cy="1889.6" r="6.6"/><circle cx="1485.7" cy="1886.6" r="6.6"/><circle cx="1489.6" cy="1896.4" r="6.6"/><circle cx="1493.4" cy="1904.6" r="6.6"/><circle cx="1497.2" cy="1898.7" r="6.6"/><circle cx="1501" cy="1898.6" r="6.6"/><circle cx="1504.8" cy="1892.6" r="6.6"/><circle cx="1508.6" cy="1886.3" r="6.6"/><circle cx="1512.5" cy="1883.6" r="6.6"/><circle cx="1516.3" cy="1891.3" r="6.6"/><circle cx="1520.1" cy="1892.6" r="6.6"/><circle cx="1523.9" cy="1887.6" r="6.6"/><circle cx="1527.7" cy="1889.6" r="6.6"/><circle cx="1531.5" cy="1886.4" r="6.6"/><circle cx="1535.3" cy="1889.6" r="6.6"/><circle cx="1539.2" cy="1885.2" r="6.6"/><circle cx="1543" cy="1874.6" r="6.6"/><circle cx="1546.8" cy="1874.7" r="6.6"/><circle cx="1550.6" cy="1880.6" r="6.6"/><circle cx="1554.4" cy="1881.1" r="6.6"/><circle cx="1558.2" cy="1880.6" r="6.6"/><circle cx="1562" cy="1880.8" r="6.6"/><circle cx="1565.9" cy="1880.6" r="6.6"/><circle cx="1569.7" cy="1871.2" r="6.6"/><circle cx="1573.5" cy="1868.6" r="6.6"/><circle cx="1577.3" cy="1873.4" r="6.6"/><circle cx="1581.1" cy="1874.6" r="6.6"/><circle cx="1584.9" cy="1871.4" r="6.6"/><circle cx="1588.8" cy="1868.6" r="6.6"/><circle cx="1592.6" cy="1856.6" r="6.6"/><circle cx="1596.4" cy="1856.5" r="6.6"/><circle cx="1600.2" cy="1862.6" r="6.6"/><circle cx="1604" cy="1853.6" r="6.6"/><circle cx="1607.8" cy="1859.6" r="6.6"/><circle cx="1611.6" cy="1859.6" r="6.6"/><circle cx="1615.5" cy="1844.6" r="6.6"/><circle cx="1619.3" cy="1838.6" r="6.6"/><circle cx="1623.1" cy="1838.5" r="6.6"/><circle cx="1626.9" cy="1841.6" r="6.6"/><circle cx="1630.7" cy="1843.3" r="6.6"/><circle cx="1634.5" cy="1844.6" r="6.6"/><circle cx="1638.3" cy="1847.6" r="6.6"/><circle cx="1642.2" cy="1848.7" r="6.6"/><circle cx="1646" cy="1856.6" r="6.6"/><circle cx="1649.8" cy="1847.6" r="6.6"/><circle cx="1653.6" cy="1848.3" r="6.6"/><circle cx="1657.4" cy="1853.6" r="6.6"/><circle cx="1661.2" cy="1848.4" r="6.6"/><circle cx="1665" cy="1844.6" r="6.6"/><circle cx="1668.9" cy="1856.6" r="6.6"/><circle cx="1672.7" cy="1860.9" r="6.6"/><circle cx="1676.5" cy="1859.6" r="6.6"/><circle cx="1680.3" cy="1853.6" r="6.6"/><circle cx="1684.1" cy="1841.6" r="6.6"/><circle cx="1687.9" cy="1843.7" r="6.6"/><circle cx="1691.8" cy="1847.6" r="6.6"/><circle cx="1695.6" cy="1853.6" r="6.6"/><circle cx="1699.4" cy="1835.6" r="6.6"/><circle cx="1703.2" cy="1835.6" r="6.6"/><circle cx="1707" cy="1838.9" r="6.6"/><circle cx="1710.8" cy="1841.6" r="6.6"/><circle cx="1714.6" cy="1832.6" r="6.6"/><circle cx="1718.5" cy="1841.6" r="6.6"/><circle cx="1722.3" cy="1823.6" r="6.6"/><circle cx="1726.1" cy="1814.6" r="6.6"/><circle cx="1729.9" cy="1838.6" r="6.6"/><circle cx="1733.7" cy="1826.6" r="6.6"/><circle cx="1737.5" cy="1830.2" r="6.6"/><circle cx="1741.3" cy="1829.6" r="6.6"/><circle cx="1745.2" cy="1837.3" r="6.6"/><circle cx="1749" cy="1838.6" r="6.6"/><circle cx="1752.8" cy="1829.6" r="6.6"/><circle cx="1756.6" cy="1829.4" r="6.6"/><circle cx="1760.4" cy="1829.6" r="6.6"/><circle cx="1764.2" cy="1835.3" r="6.6"/><circle cx="1768.1" cy="1835.6" r="6.6"/><circle cx="1771.9" cy="1823.6" r="6.6"/><circle cx="1775.7" cy="1819.5" r="6.6"/><circle cx="1779.5" cy="1814.6" r="6.6"/><circle cx="1783.3" cy="1820.6" r="6.6"/><circle cx="1787.1" cy="1823.6" r="6.6"/><circle cx="1790.9" cy="1816.4" r="6.6"/><circle cx="1794.8" cy="1811.6" r="6.6"/><circle cx="1798.6" cy="1823.6" r="6.6"/><circle cx="1802.4" cy="1826.6" r="6.6"/><circle cx="1806.2" cy="1811.6" r="6.6"/><circle cx="1810" cy="1817.6" r="6.6"/></g>
<path d="M1352.8 1664.6l7 -7.4l7 7.4l-7 7.4zM1356.7 1676.6l7 -7.4l7 7.4l-7 7.4zM1360.5 1676.6l7 -7.4l7 7.4l-7 7.4zM1364.3 1676.6l7 -7.4l7 7.4l-7 7.4zM1368.1 1679.6l7 -7.4l7 7.4l-7 7.4zM1371.9 1703.6l7 -7.4l7 7.4l-7 7.4zM1375.7 1709.6l7 -7.4l7 7.4l-7 7.4zM1379.6 1700.6l7 -7.4l7 7.4l-7 7.4zM1383.4 1718.6l7 -7.4l7 7.4l-7 7.4zM1387.2 1715.6l7 -7.4l7 7.4l-7 7.4zM1391 1988.6l7 -7.4l7 7.4l-7 7.4zM1394.8 1973.6l7 -7.4l7 7.4l-7 7.4zM1398.6 1964.6l7 -7.4l7 7.4l-7 7.4zM1402.4 1952.6l7 -7.4l7 7.4l-7 7.4zM1406.3 1961.6l7 -7.4l7 7.4l-7 7.4zM1410.1 1943.6l7 -7.4l7 7.4l-7 7.4zM1413.9 1940.6l7 -7.4l7 7.4l-7 7.4zM1417.7 1946.6l7 -7.4l7 7.4l-7 7.4zM1421.5 1940.6l7 -7.4l7 7.4l-7 7.4zM1425.3 1934.9l7 -7.4l7 7.4l-7 7.4zM1429.2 1928.6l7 -7.4l7 7.4l-7 7.4zM1433 1913.6l7 -7.4l7 7.4l-7 7.4zM1436.8 1916.6l7 -7.4l7 7.4l-7 7.4zM1440.6 1913.6l7 -7.4l7 7.4l-7 7.4zM1444.4 1912.3l7 -7.4l7 7.4l-7 7.4zM1448.2 1907.6l7 -7.4l7 7.4l-7 7.4zM1452 1919.6l7 -7.4l7 7.4l-7 7.4zM1455.9 1914.5l7 -7.4l7 7.4l-7 7.4zM1459.7 1910.6l7 -7.4l7 7.4l-7 7.4zM1463.5 1912.7l7 -7.4l7 7.4l-7 7.4zM1467.3 1913.6l7 -7.4l7 7.4l-7 7.4zM1471.1 1892.6l7 -7.4l7 7.4l-7 7.4zM1474.9 1892.1l7 -7.4l7 7.4l-7 7.4zM1478.7 1895.6l7 -7.4l7 7.4l-7 7.4zM1482.6 1896.9l7 -7.4l7 7.4l-7 7.4zM1486.4 1898.6l7 -7.4l7 7.4l-7 7.4zM1490.2 1884.5l7 -7.4l7 7.4l-7 7.4zM1494 1877.6l7 -7.4l7 7.4l-7 7.4zM1497.8 1892.3l7 -7.4l7 7.4l-7 7.4zM1501.6 1913.6l7 -7.4l7 7.4l-7 7.4zM1505.5 1898.6l7 -7.4l7 7.4l-7 7.4zM1509.3 1893.9l7 -7.4l7 7.4l-7 7.4zM1513.1 1892.6l7 -7.4l7 7.4l-7 7.4zM1516.9 1898.6l7 -7.4l7 7.4l-7 7.4zM1520.7 1893l7 -7.4l7 7.4l-7 7.4zM1524.5 1883.6l7 -7.4l7 7.4l-7 7.4zM1528.3 1898.6l7 -7.4l7 7.4l-7 7.4zM1532.2 1895.4l7 -7.4l7 7.4l-7 7.4zM1536 1886.6l7 -7.4l7 7.4l-7 7.4zM1539.8 1891.3l7 -7.4l7 7.4l-7 7.4zM1543.6 1901.6l7 -7.4l7 7.4l-7 7.4zM1547.4 1880.6l7 -7.4l7 7.4l-7 7.4zM1551.2 1880.1l7 -7.4l7 7.4l-7 7.4zM1555 1883.6l7 -7.4l7 7.4l-7 7.4zM1558.9 1889.6l7 -7.4l7 7.4l-7 7.4zM1562.7 1890.2l7 -7.4l7 7.4l-7 7.4zM1566.5 1892.6l7 -7.4l7 7.4l-7 7.4zM1570.3 1901.6l7 -7.4l7 7.4l-7 7.4z" fill="#1296B4" stroke="#1F55E0" stroke-width="0.9"/>
<path d="M1399.9 1984 L1401.8 1979.7 L1403.7 1975.6 L1405.6 1971.7 L1407.5 1968 L1409.4 1964.4 L1411.4 1961 L1413.3 1957.8 L1415.2 1954.8 L1417.1 1951.8 L1419 1949 L1420.9 1946.4 L1422.8 1943.8 L1424.7 1941.4 L1426.6 1939 L1428.5 1936.8 L1430.4 1934.6 L1432.3 1932.6 L1434.2 1930.6 L1436.2 1928.7 L1438.1 1926.8 L1440 1925.1 L1441.9 1923.4 L1443.8 1921.8 L1445.7 1920.2 L1447.6 1918.7 L1449.5 1917.2 L1451.4 1915.8 L1453.3 1914.4 L1455.2 1913.1 L1457.1 1911.8 L1459 1910.5 L1460.9 1909.3 L1462.9 1908.1 L1464.8 1907 L1466.7 1905.9 L1468.6 1904.8 L1470.5 1903.8 L1472.4 1902.7 L1474.3 1901.7 L1476.2 1900.8 L1478.1 1899.8 L1480 1898.9 L1481.9 1898 L1483.8 1897.1 L1485.7 1896.2 L1487.7 1895.4 L1489.6 1894.5 L1491.5 1893.7 L1493.4 1892.9 L1495.3 1892.1 L1497.2 1891.4 L1499.1 1890.6 L1501 1889.9 L1502.9 1889.1 L1504.8 1888.4 L1506.7 1887.7 L1508.6 1887 L1510.5 1886.3 L1512.5 1885.6 L1514.4 1885 L1516.3 1884.3 L1518.2 1883.7 L1520.1 1883 L1522 1882.4 L1523.9 1881.8 L1525.8 1881.2 L1527.7 1880.6 L1529.6 1880 L1531.5 1879.4 L1533.4 1878.8 L1535.3 1878.2 L1537.2 1877.7 L1539.2 1877.1 L1541.1 1876.5 L1543 1876 L1544.9 1875.5 L1546.8 1874.9 L1548.7 1874.4 L1550.6 1873.9 L1552.5 1873.3 L1554.4 1872.8 L1556.3 1872.3 L1558.2 1871.8 L1560.1 1871.3 L1562 1870.8 L1564 1870.3 L1565.9 1869.8 L1567.8 1869.3 L1569.7 1868.9 L1571.6 1868.4 L1573.5 1867.9 L1575.4 1867.5 L1577.3 1867 L1579.2 1866.5 L1581.1 1866.1 L1583 1865.6 L1584.9 1865.2 L1586.8 1864.8 L1588.8 1864.3 L1590.7 1863.9 L1592.6 1863.5 L1594.5 1863 L1596.4 1862.6 L1598.3 1862.2 L1600.2 1861.8 L1602.1 1861.4 L1604 1861 L1605.9 1860.6 L1607.8 1860.1 L1609.7 1859.8 L1611.6 1859.4 L1613.5 1859 L1615.5 1858.6 L1617.4 1858.2 L1619.3 1857.8 L1621.2 1857.4 L1623.1 1857.1 L1625 1856.7 L1626.9 1856.3 L1628.8 1855.9 L1630.7 1855.6 L1632.6 1855.2 L1634.5 1854.9 L1636.4 1854.5 L1638.3 1854.1 L1640.3 1853.8 L1642.2 1853.5 L1644.1 1853.1 L1646 1852.8 L1647.9 1852.4 L1649.8 1852.1 L1651.7 1851.8 L1653.6 1851.4 L1655.5 1851.1 L1657.4 1850.8 L1659.3 1850.4 L1661.2 1850.1 L1663.1 1849.8 L1665 1849.5 L1667 1849.2 L1668.9 1848.9 L1670.8 1848.6 L1672.7 1848.2 L1674.6 1847.9 L1676.5 1847.6 L1678.4 1847.3 L1680.3 1847 L1682.2 1846.7 L1684.1 1846.5 L1686 1846.2 L1687.9 1845.9 L1689.8 1845.6 L1691.8 1845.3 L1693.7 1845 L1695.6 1844.7 L1697.5 1844.5 L1699.4 1844.2 L1701.3 1843.9 L1703.2 1843.7 L1705.1 1843.4 L1707 1843.1 L1708.9 1842.9 L1710.8 1842.6 L1712.7 1842.3 L1714.6 1842.1 L1716.6 1841.8 L1718.5 1841.6 L1720.4 1841.3 L1722.3 1841.1 L1724.2 1840.8 L1726.1 1840.6 L1728 1840.3 L1729.9 1840.1 L1731.8 1839.8 L1733.7 1839.6 L1735.6 1839.4 L1737.5 1839.1 L1739.4 1838.9 L1741.3 1838.7 L1743.3 1838.4 L1745.2 1838.2 L1747.1 1838 L1749 1837.7 L1750.9 1837.5 L1752.8 1837.3 L1754.7 1837.1 L1756.6 1836.9 L1758.5 1836.6 L1760.4 1836.4 L1762.3 1836.2 L1764.2 1836 L1766.1 1835.8 L1768.1 1835.6 L1770 1835.4 L1771.9 1835.2 L1773.8 1835 L1775.7 1834.8 L1777.6 1834.6 L1779.5 1834.4 L1781.4 1834.2 L1783.3 1834 L1785.2 1833.8 L1787.1 1833.6 L1789 1833.4 L1790.9 1833.2 L1792.9 1833 L1794.8 1832.8 L1796.7 1832.6 L1798.6 1832.5 L1800.5 1832.3 L1802.4 1832.1 L1804.3 1831.9 L1806.2 1831.7 L1808.1 1831.6 L1810 1831.4 L1811.9 1831.2 L1813.8 1831" fill="none" stroke="#F050D0" stroke-width="2.3" stroke-linejoin="round"/>
<path d="M1399.9 1984 L1401.8 1979.6 L1403.7 1975.5 L1405.6 1971.5 L1407.5 1967.7 L1409.4 1964.1 L1411.4 1960.7 L1413.3 1957.4 L1415.2 1954.3 L1417.1 1951.3 L1419 1948.4 L1420.9 1945.7 L1422.8 1943.1 L1424.7 1940.6 L1426.6 1938.3 L1428.5 1936 L1430.4 1933.9 L1432.3 1931.8 L1434.2 1929.9 L1436.2 1928 L1438.1 1926.2 L1440 1924.5 L1441.9 1922.9 L1443.8 1921.4 L1445.7 1919.9 L1447.6 1918.5 L1449.5 1917.1 L1451.4 1915.8 L1453.3 1914.6 L1455.2 1913.4 L1457.1 1912.2 L1459 1911.2 L1460.9 1910.1 L1462.9 1909.1 L1464.8 1908.2 L1466.7 1907.3 L1468.6 1906.4 L1470.5 1905.5 L1472.4 1904.7 L1474.3 1904 L1476.2 1903.2 L1478.1 1902.5 L1480 1901.9 L1481.9 1901.2 L1483.8 1900.6 L1485.7 1900 L1487.7 1899.4 L1489.6 1898.9 L1491.5 1898.3 L1493.4 1897.8 L1495.3 1897.3 L1497.2 1896.8 L1499.1 1896.4 L1501 1896 L1502.9 1895.5 L1504.8 1895.1 L1506.7 1894.7 L1508.6 1894.4 L1510.5 1894 L1512.5 1893.6 L1514.4 1893.3 L1516.3 1893 L1518.2 1892.7 L1520.1 1892.3 L1522 1892.1 L1523.9 1891.8 L1525.8 1891.5 L1527.7 1891.2 L1529.6 1891 L1531.5 1890.7 L1533.4 1890.5 L1535.3 1890.2 L1537.2 1890 L1539.2 1889.8 L1541.1 1889.6 L1543 1889.4 L1544.9 1889.1 L1546.8 1889 L1548.7 1888.8 L1550.6 1888.6 L1552.5 1888.4 L1554.4 1888.2 L1556.3 1888 L1558.2 1887.9 L1560.1 1887.7 L1562 1887.5 L1564 1887.4 L1565.9 1887.2 L1567.8 1887.1 L1569.7 1886.9 L1571.6 1886.8 L1573.5 1886.7 L1575.4 1886.5 L1577.3 1886.4 L1579.2 1886.3 L1581.1 1886.1 L1583 1886 L1584.9 1885.9 L1586.8 1885.8 L1588.8 1885.6 L1590.7 1885.5 L1592.6 1885.4 L1594.5 1885.3 L1596.4 1885.2 L1598.3 1885.1 L1600.2 1885 L1602.1 1884.9 L1604 1884.8 L1605.9 1884.7 L1607.8 1884.6 L1609.7 1884.5 L1611.6 1884.4 L1613.5 1884.3 L1615.5 1884.2 L1617.4 1884.1 L1619.3 1884 L1621.2 1883.9 L1623.1 1883.8 L1625 1883.7 L1626.9 1883.7 L1628.8 1883.6 L1630.7 1883.5 L1632.6 1883.4 L1634.5 1883.3 L1636.4 1883.2 L1638.3 1883.2 L1640.3 1883.1 L1642.2 1883 L1644.1 1882.9 L1646 1882.9 L1647.9 1882.8 L1649.8 1882.7 L1651.7 1882.6 L1653.6 1882.6 L1655.5 1882.5 L1657.4 1882.4 L1659.3 1882.4 L1661.2 1882.3 L1663.1 1882.2 L1665 1882.2 L1667 1882.1 L1668.9 1882 L1670.8 1882 L1672.7 1881.9 L1674.6 1881.8 L1676.5 1881.8 L1678.4 1881.7 L1680.3 1881.6 L1682.2 1881.6 L1684.1 1881.5 L1686 1881.5 L1687.9 1881.4 L1689.8 1881.3 L1691.8 1881.3 L1693.7 1881.2 L1695.6 1881.2 L1697.5 1881.1 L1699.4 1881.1 L1701.3 1881 L1703.2 1881 L1705.1 1880.9 L1707 1880.8 L1708.9 1880.8 L1710.8 1880.7 L1712.7 1880.7 L1714.6 1880.6 L1716.6 1880.6 L1718.5 1880.5 L1720.4 1880.5 L1722.3 1880.4 L1724.2 1880.4 L1726.1 1880.3 L1728 1880.3 L1729.9 1880.2 L1731.8 1880.2 L1733.7 1880.2 L1735.6 1880.1 L1737.5 1880.1 L1739.4 1880 L1741.3 1880 L1743.3 1879.9 L1745.2 1879.9 L1747.1 1879.8 L1749 1879.8 L1750.9 1879.7 L1752.8 1879.7 L1754.7 1879.7 L1756.6 1879.6 L1758.5 1879.6 L1760.4 1879.5 L1762.3 1879.5 L1764.2 1879.5 L1766.1 1879.4 L1768.1 1879.4 L1770 1879.3 L1771.9 1879.3 L1773.8 1879.3 L1775.7 1879.2 L1777.6 1879.2 L1779.5 1879.1 L1781.4 1879.1 L1783.3 1879.1 L1785.2 1879 L1787.1 1879 L1789 1879 L1790.9 1878.9 L1792.9 1878.9 L1794.8 1878.8 L1796.7 1878.8 L1798.6 1878.8 L1800.5 1878.7 L1802.4 1878.7 L1804.3 1878.7 L1806.2 1878.6 L1808.1 1878.6 L1810 1878.6 L1811.9 1878.5 L1813.8 1878.5" fill="none" stroke="#F050D0" stroke-width="2.3" stroke-linejoin="round"/>
<text x="1611.5" y="1330" font-size="27" font-family='"DejaVu Sans", sans-serif' font-weight="bold" text-anchor="middle" fill="#111">+/+</text>
<circle cx="1465" cy="1351.4" r="12.3" fill="#808080" stroke="#111" stroke-width="1.2"/>
<path d="M1452 1384l13 -13.5l13 13.5l-13 13.5z" fill="#1296B4" stroke="#1F55E0" stroke-width="1"/>
<text x="1486" y="1362.8" font-size="27.5" font-family='"DejaVu Sans", sans-serif' font-weight="bold" fill="#111">Control</text>
<text x="1486" y="1397.7" font-size="27.5" font-family='"DejaVu Sans", sans-serif' font-weight="bold" fill="#111">Oleate</text>
<text x="1611" y="1716.5" font-size="35.2" font-family='"Liberation Sans", sans-serif' text-anchor="middle" fill="#111">Y14F/Y14F</text>
<text x="1588.7" y="2054.5" font-size="27.6" font-family='"Liberation Sans", sans-serif' font-weight="bold" text-anchor="middle" fill="#111">time, s</text>
</g>
<g id="panel-j">
<text x="48.4" y="2091.8" font-size="69.2" font-family='"DejaVu Sans", sans-serif' font-weight="bold">j</text>
<text x="26.5" y="2167.8" font-size="33.4" font-family='"DejaVu Sans", sans-serif' font-weight="bold">Cav1 +/+</text>
<path d="M-2 2259.5 C22 2251 45 2244 68.7 2237.5 C92 2231 118 2225.5 138 2223.5 C150 2222.3 155 2226 155.2 2236 C155.4 2246 149 2251 144 2260 C138 2271 133 2279 129.5 2288 C126.5 2296 124.5 2304 125.2 2311 C126 2320 130 2324.5 138 2325 C150 2325.5 160 2323 172 2320 C186 2316.5 198 2314 210 2312.6 C225 2311 238 2311.5 248 2309 C258 2306.5 264 2300 266.5 2290 C268.5 2281 269 2272 266 2264.5 C262 2255 254 2250 244 2245 C232 2239 218 2233.5 207 2230 C197 2226.5 191.5 2223.5 191.5 2218 C191.5 2212 198 2208 208 2205 C225 2200.5 250 2196.5 275 2192.8 C330 2184.5 390 2177 450 2171 C510 2164 560 2156 620 2151.5 C680 2147 740 2144.5 800 2143.5 C850 2142.8 900 2143.5 942 2145.5" fill="none" stroke="#1b2f58" stroke-width="9.4" stroke-linejoin="round"/><path d="M-2 2259.5 C22 2251 45 2244 68.7 2237.5 C92 2231 118 2225.5 138 2223.5 C150 2222.3 155 2226 155.2 2236 C155.4 2246 149 2251 144 2260 C138 2271 133 2279 129.5 2288 C126.5 2296 124.5 2304 125.2 2311 C126 2320 130 2324.5 138 2325 C150 2325.5 160 2323 172 2320 C186 2316.5 198 2314 210 2312.6 C225 2311 238 2311.5 248 2309 C258 2306.5 264 2300 266.5 2290 C268.5 2281 269 2272 266 2264.5 C262 2255 254 2250 244 2245 C232 2239 218 2233.5 207 2230 C197 2226.5 191.5 2223.5 191.5 2218 C191.5 2212 198 2208 208 2205 C225 2200.5 250 2196.5 275 2192.8 C330 2184.5 390 2177 450 2171 C510 2164 560 2156 620 2151.5 C680 2147 740 2144.5 800 2143.5 C850 2142.8 900 2143.5 942 2145.5" fill="none" stroke="#fff" stroke-width="3.6" stroke-linejoin="round" stroke-linecap="square"/>
<path d="M138.5 2321.5C140.1 2322.8 144.7 2326.6 148 2329C151.3 2331.4 154.7 2335.2 158.5 2336C162.3 2336.8 168.2 2335.2 171 2333.5C173.8 2331.8 174.8 2328.6 175.5 2326C176.2 2323.4 173.8 2319.9 175 2318C176.2 2316.1 181.7 2315.1 183 2314.5" fill="none" stroke="#1b2f58" stroke-width="12.9" stroke-linecap="round" stroke-linejoin="round"/><path d="M138.5 2321.5C140.1 2322.8 144.7 2326.6 148 2329C151.3 2331.4 154.7 2335.2 158.5 2336C162.3 2336.8 168.2 2335.2 171 2333.5C173.8 2331.8 174.8 2328.6 175.5 2326C176.2 2323.4 173.8 2319.9 175 2318C176.2 2316.1 181.7 2315.1 183 2314.5" fill="none" stroke="#4472c4" stroke-width="10.5" stroke-linecap="round" stroke-linejoin="round"/>
<path d="M246.5 2308.5C248.4 2308.3 254.4 2308.4 258 2307.5C261.6 2306.6 265 2305.4 268 2303C271 2300.6 275.5 2296.3 276 2293C276.5 2289.7 271.9 2285.8 271 2283C270.1 2280.2 270.6 2277.2 270.5 2276" fill="none" stroke="#1b2f58" stroke-width="13.4" stroke-linecap="round" stroke-linejoin="round"/><path d="M246.5 2308.5C248.4 2308.3 254.4 2308.4 258 2307.5C261.6 2306.6 265 2305.4 268 2303C271 2300.6 275.5 2296.3 276 2293C276.5 2289.7 271.9 2285.8 271 2283C270.1 2280.2 270.6 2277.2 270.5 2276" fill="none" stroke="#4472c4" stroke-width="11" stroke-linecap="round" stroke-linejoin="round"/>
<path d="M265.5 2280 L276.5 2270 L274.5 2282 z" fill="#4472c4" stroke="#1b2f58" stroke-width="1.2" stroke-linejoin="round"/><path d="M267 2280 L275 2272.5 L273.5 2283 z" fill="#4472c4"/>
<path d="M565.5 2151C567.6 2152.3 573.9 2156.5 578 2159C582.1 2161.5 586 2165.3 590 2166C594 2166.7 599.7 2164.8 602 2163C604.3 2161.2 603.4 2157.5 604 2155C604.6 2152.5 605.2 2149.2 605.5 2148" fill="none" stroke="#1b2f58" stroke-width="13.4" stroke-linecap="round" stroke-linejoin="round"/><path d="M565.5 2151C567.6 2152.3 573.9 2156.5 578 2159C582.1 2161.5 586 2165.3 590 2166C594 2166.7 599.7 2164.8 602 2163C604.3 2161.2 603.4 2157.5 604 2155C604.6 2152.5 605.2 2149.2 605.5 2148" fill="none" stroke="#4472c4" stroke-width="11" stroke-linecap="round" stroke-linejoin="round"/>
<path d="M665 2145C667 2146.2 673 2150 677 2152.5C681 2155 685 2159.2 689 2160C693 2160.8 698.7 2158.8 701 2157C703.3 2155.2 702.5 2151.5 703 2149C703.5 2146.5 703.8 2143.2 704 2142" fill="none" stroke="#1b2f58" stroke-width="13.4" stroke-linecap="round" stroke-linejoin="round"/><path d="M665 2145C667 2146.2 673 2150 677 2152.5C681 2155 685 2159.2 689 2160C693 2160.8 698.7 2158.8 701 2157C703.3 2155.2 702.5 2151.5 703 2149C703.5 2146.5 703.8 2143.2 704 2142" fill="none" stroke="#4472c4" stroke-width="11" stroke-linecap="round" stroke-linejoin="round"/>
<circle cx="619.6" cy="2138" r="17" fill="#b4c7e7" stroke="#1b2f58" stroke-width="1.3"/>
<text x="620.1" y="2146.5" font-size="24" font-family='"Liberation Sans", sans-serif' text-anchor="middle" fill="#fff">P</text>
<circle cx="719.2" cy="2131.8" r="17" fill="#b4c7e7" stroke="#1b2f58" stroke-width="1.3"/>
<text x="719.7" y="2140.3" font-size="24" font-family='"Liberation Sans", sans-serif' text-anchor="middle" fill="#fff">P</text>
<clipPath id="cjld"><rect x="700" y="2150" width="253.7" height="238.4"/></clipPath>
<circle cx="905" cy="2324" r="144.5" fill="#f7f9b0" clip-path="url(#cjld)"/>
<path d="M775.6 2387.8 A144.5 144.5 0 0 1 951.5 2187.2" fill="none" stroke="#000" stroke-width="3.4"/>
<path d="M780.5 2269C779.9 2267.2 777.5 2261.8 777 2258C776.5 2254.2 776 2249.5 777.5 2246C779 2242.5 782.9 2238.1 786 2237C789.1 2235.9 792.9 2239.7 796 2239.5C799.1 2239.3 803.1 2236.6 804.5 2236" fill="none" stroke="#17479e" stroke-width="13" stroke-linecap="round" stroke-linejoin="round"/><path d="M780.5 2269C779.9 2267.2 777.5 2261.8 777 2258C776.5 2254.2 776 2249.5 777.5 2246C779 2242.5 782.9 2238.1 786 2237C789.1 2235.9 792.9 2239.7 796 2239.5C799.1 2239.3 803.1 2236.6 804.5 2236" fill="none" stroke="#176fc6" stroke-width="11" stroke-linecap="round" stroke-linejoin="round"/>
<path d="M840 2209C840.3 2207 840.7 2200.7 842 2197C843.3 2193.3 845.3 2189.2 848 2187C850.7 2184.8 855 2183.5 858 2184C861 2184.5 863.1 2188.8 866 2190C868.9 2191.2 873.9 2190.8 875.5 2191" fill="none" stroke="#17479e" stroke-width="13" stroke-linecap="round" stroke-linejoin="round"/><path d="M840 2209C840.3 2207 840.7 2200.7 842 2197C843.3 2193.3 845.3 2189.2 848 2187C850.7 2184.8 855 2183.5 858 2184C861 2184.5 863.1 2188.8 866 2190C868.9 2191.2 873.9 2190.8 875.5 2191" fill="none" stroke="#176fc6" stroke-width="11" stroke-linecap="round" stroke-linejoin="round"/>
<text x="801.5" y="2389.6" font-size="33" font-family='"DejaVu Sans", sans-serif' font-weight="bold">LD</text>
<path d="M481.5 2374.5C483.6 2375.9 490.1 2380.4 494 2383C497.9 2385.6 501.2 2389.2 505 2390C508.8 2390.8 514.2 2389.2 517 2387.5C519.8 2385.8 521.1 2382.6 521.5 2380C521.9 2377.4 519.8 2373.3 519.5 2372" fill="none" stroke="#1b2f58" stroke-width="12.4" stroke-linecap="round" stroke-linejoin="round"/><path d="M481.5 2374.5C483.6 2375.9 490.1 2380.4 494 2383C497.9 2385.6 501.2 2389.2 505 2390C508.8 2390.8 514.2 2389.2 517 2387.5C519.8 2385.8 521.1 2382.6 521.5 2380C521.9 2377.4 519.8 2373.3 519.5 2372" fill="none" stroke="#4472c4" stroke-width="10" stroke-linecap="round" stroke-linejoin="round"/>
<path d="M515 2371.5C517 2372.9 523.3 2377.5 527 2380C530.7 2382.5 533.3 2386 537 2386.5C540.7 2387 546.4 2384.9 549 2383C551.6 2381.1 552.3 2377.5 552.5 2375C552.7 2372.5 548.9 2369.5 550 2368C551.1 2366.5 557.5 2366.3 559 2366" fill="none" stroke="#1b2f58" stroke-width="12.4" stroke-linecap="round" stroke-linejoin="round"/><path d="M515 2371.5C517 2372.9 523.3 2377.5 527 2380C530.7 2382.5 533.3 2386 537 2386.5C540.7 2387 546.4 2384.9 549 2383C551.6 2381.1 552.3 2377.5 552.5 2375C552.7 2372.5 548.9 2369.5 550 2368C551.1 2366.5 557.5 2366.3 559 2366" fill="none" stroke="#4472c4" stroke-width="10" stroke-linecap="round" stroke-linejoin="round"/>
<text x="452.3" y="2428" font-size="25.7" font-family='"Liberation Sans", sans-serif' textLength="263" lengthAdjust="spacingAndGlyphs">Cav1 dimers/oligomers</text>
<text x="325" y="2252.5" font-size="25.8" font-family='"Liberation Sans", sans-serif' transform="rotate(-16.8 325 2252.5)" textLength="193" lengthAdjust="spacingAndGlyphs">Tension increase</text>
<text x="71.3" y="2386.3" font-size="19.7" font-family='"Liberation Sans", sans-serif' textLength="142" lengthAdjust="spacingAndGlyphs">Assembly at PM</text>
<text x="69" y="2454.7" font-size="59" font-family='"DejaVu Sans", sans-serif' font-weight="bold">?</text>
<text x="118.3" y="2509.7" font-size="25.2" font-family='"Liberation Sans", sans-serif' textLength="202" lengthAdjust="spacingAndGlyphs"><tspan font-style="italic">de novo</tspan> synthesis</text>
<ellipse cx="184.3" cy="2460.6" rx="20.6" ry="14.8" fill="#375623" stroke="#1b2f58" stroke-width="1.3"/><ellipse cx="182" cy="2441.3" rx="29.7" ry="15.6" fill="#375623" stroke="#1b2f58" stroke-width="1.3"/><path d="M154.6 2459c8 -8 20 -18 33 -14 c10 3 16 6 30 0 c20 -6 45 8 62 12 c12 3 20 -3 26 -8" fill="none" stroke="#1b2f58" stroke-width="1.3"/>
<line x1="224.4" y1="2416" x2="224.4" y2="2348.1" stroke="#1b2f58" stroke-width="1.6" /><path d="M224.4 2338.5L231.4 2354.5L224.4 2348.9L217.4 2354.5Z" fill="#1b2f58"/>
<line x1="243" y1="2420" x2="448.4" y2="2403.5" stroke="#1b2f58" stroke-width="1.6" /><path d="M458 2402.7L442.6 2411L447.6 2403.5L441.5 2397Z" fill="#1b2f58"/>
<path d="M450.4 2390 C380 2388 320 2370 265 2341" fill="none" stroke="#1b2f58" stroke-width="1.6"/><path d="M258.6 2337.3L276 2338.6L267.8 2342.2L269.4 2351Z" fill="#1b2f58"/>
<line x1="320.5" y1="2283" x2="550.2" y2="2183.2" stroke="#1b2f58" stroke-width="1.6" /><path d="M559 2179.4L547.1 2192.2L549.5 2183.5L541.5 2179.4Z" fill="#1b2f58"/>
<line x1="320.5" y1="2289.7" x2="735.4" y2="2253.1" stroke="#1b2f58" stroke-width="1.6" /><path d="M749.7 2251.8L726.5 2262.4L734.2 2253.2L725 2245.4Z" fill="#1b2f58"/>
<path d="M643.6 2192.9 C663 2230 660 2300 604 2345" fill="none" stroke="#1b2f58" stroke-width="1.6"/><path d="M597.9 2349.7L607.2 2332.5L607 2342.3L616.6 2344.2Z" fill="#1b2f58"/>
</g>
<g id="panel-k">
<text x="947.8" y="2091.8" font-size="69.2" font-family='"DejaVu Sans", sans-serif' font-weight="bold">k</text>
<text x="1003" y="2141.6" font-size="33.3" font-family='"DejaVu Sans", sans-serif' font-weight="bold">Cav1 Y14F/Y14F</text>
<path d="M1012.5 2261 C1040 2253 1075 2243 1105 2236 C1130 2230.5 1150 2227 1166 2225.5 C1178 2224.5 1184 2228 1184.5 2238 C1185.5 2252 1180 2266 1175 2280 C1170 2293 1162 2304 1158.5 2312 C1155.5 2319 1158 2324.5 1166 2324.5 C1178 2324.5 1190 2318 1205 2314 C1230 2308 1260 2305 1283 2303 C1296 2301.5 1305 2297 1308 2290 C1311 2283 1308 2276 1300 2270 C1285 2260 1262 2250 1246 2242 C1233 2235 1228.5 2228 1229 2220 C1229.5 2210 1236 2204 1248 2200.5 C1290 2192 1390 2181 1450 2173.5 C1480 2170 1500 2168 1516 2165.5 L1523 2166.5 C1510 2182 1495 2198 1486 2213 C1482 2222 1487 2228 1497 2231 C1510 2234.5 1530 2233 1550 2229 C1590 2222 1630 2220 1660 2220.5 C1672 2220.5 1678.5 2214 1678.5 2205 C1678.5 2195 1672 2190 1660 2186.5 C1640 2181 1615 2178 1600 2173.5 C1590 2170.5 1586 2167 1587 2162.5 C1588 2157.5 1594 2155 1606 2154 C1700 2149.5 1820 2151.5 1924.5 2152" fill="none" stroke="#1b2f58" stroke-width="9.4" stroke-linejoin="round"/><path d="M1012.5 2261 C1040 2253 1075 2243 1105 2236 C1130 2230.5 1150 2227 1166 2225.5 C1178 2224.5 1184 2228 1184.5 2238 C1185.5 2252 1180 2266 1175 2280 C1170 2293 1162 2304 1158.5 2312 C1155.5 2319 1158 2324.5 1166 2324.5 C1178 2324.5 1190 2318 1205 2314 C1230 2308 1260 2305 1283 2303 C1296 2301.5 1305 2297 1308 2290 C1311 2283 1308 2276 1300 2270 C1285 2260 1262 2250 1246 2242 C1233 2235 1228.5 2228 1229 2220 C1229.5 2210 1236 2204 1248 2200.5 C1290 2192 1390 2181 1450 2173.5 C1480 2170 1500 2168 1516 2165.5 L1523 2166.5 C1510 2182 1495 2198 1486 2213 C1482 2222 1487 2228 1497 2231 C1510 2234.5 1530 2233 1550 2229 C1590 2222 1630 2220 1660 2220.5 C1672 2220.5 1678.5 2214 1678.5 2205 C1678.5 2195 1672 2190 1660 2186.5 C1640 2181 1615 2178 1600 2173.5 C1590 2170.5 1586 2167 1587 2162.5 C1588 2157.5 1594 2155 1606 2154 C1700 2149.5 1820 2151.5 1924.5 2152" fill="none" stroke="#fff" stroke-width="3.6" stroke-linejoin="round" stroke-linecap="square"/>
<path d="M1164 2316.5C1165.8 2317.8 1171.3 2321.8 1175 2324C1178.7 2326.2 1182.3 2329.8 1186 2330C1189.7 2330.2 1194.8 2327.8 1197 2325.5C1199.2 2323.2 1198.6 2318.8 1199 2316C1199.4 2313.2 1198 2310.7 1199.5 2309C1201 2307.3 1206.6 2306.5 1208 2306" fill="none" stroke="#1b2f58" stroke-width="12.9" stroke-linecap="round" stroke-linejoin="round"/><path d="M1164 2316.5C1165.8 2317.8 1171.3 2321.8 1175 2324C1178.7 2326.2 1182.3 2329.8 1186 2330C1189.7 2330.2 1194.8 2327.8 1197 2325.5C1199.2 2323.2 1198.6 2318.8 1199 2316C1199.4 2313.2 1198 2310.7 1199.5 2309C1201 2307.3 1206.6 2306.5 1208 2306" fill="none" stroke="#ff0000" stroke-width="10.5" stroke-linecap="round" stroke-linejoin="round"/>
<path d="M1287 2303C1289 2302.8 1295.3 2302.7 1299 2301.5C1302.7 2300.3 1305.8 2298.4 1309 2296C1312.2 2293.6 1317.5 2290 1318 2287C1318.5 2284 1313.2 2280.7 1312 2278C1310.8 2275.3 1311.2 2272.2 1311 2271" fill="none" stroke="#1b2f58" stroke-width="13.4" stroke-linecap="round" stroke-linejoin="round"/><path d="M1287 2303C1289 2302.8 1295.3 2302.7 1299 2301.5C1302.7 2300.3 1305.8 2298.4 1309 2296C1312.2 2293.6 1317.5 2290 1318 2287C1318.5 2284 1313.2 2280.7 1312 2278C1310.8 2275.3 1311.2 2272.2 1311 2271" fill="none" stroke="#ff0000" stroke-width="11" stroke-linecap="round" stroke-linejoin="round"/>
<path d="M1306.5 2275 L1317.5 2265 L1315.5 2277 z" fill="#ff0000" stroke="#1b2f58" stroke-width="1.2" stroke-linejoin="round"/><path d="M1308 2275 L1316 2267.5 L1314.5 2278 z" fill="#ff0000"/>
<path d="M1516 2232C1517.8 2233.2 1523.5 2236.8 1527 2239C1530.5 2241.2 1533.5 2244.7 1537 2245C1540.5 2245.3 1545.8 2243 1548 2241C1550.2 2239 1549.8 2235.3 1550 2233C1550.2 2230.7 1547.7 2228.3 1549 2227C1550.3 2225.7 1556.5 2225.3 1558 2225" fill="none" stroke="#1b2f58" stroke-width="12.9" stroke-linecap="round" stroke-linejoin="round"/><path d="M1516 2232C1517.8 2233.2 1523.5 2236.8 1527 2239C1530.5 2241.2 1533.5 2244.7 1537 2245C1540.5 2245.3 1545.8 2243 1548 2241C1550.2 2239 1549.8 2235.3 1550 2233C1550.2 2230.7 1547.7 2228.3 1549 2227C1550.3 2225.7 1556.5 2225.3 1558 2225" fill="none" stroke="#ff0000" stroke-width="10.5" stroke-linecap="round" stroke-linejoin="round"/>
<path d="M1627 2220C1628.8 2221.2 1634.5 2224.8 1638 2227C1641.5 2229.2 1644.3 2232.7 1648 2233C1651.7 2233.3 1657.7 2231 1660 2229C1662.3 2227 1661.8 2223.3 1662 2221C1662.2 2218.7 1659.7 2216.2 1661 2215C1662.3 2213.8 1668.5 2213.8 1670 2213.5" fill="none" stroke="#1b2f58" stroke-width="12.9" stroke-linecap="round" stroke-linejoin="round"/><path d="M1627 2220C1628.8 2221.2 1634.5 2224.8 1638 2227C1641.5 2229.2 1644.3 2232.7 1648 2233C1651.7 2233.3 1657.7 2231 1660 2229C1662.3 2227 1661.8 2223.3 1662 2221C1662.2 2218.7 1659.7 2216.2 1661 2215C1662.3 2213.8 1668.5 2213.8 1670 2213.5" fill="none" stroke="#ff0000" stroke-width="10.5" stroke-linecap="round" stroke-linejoin="round"/>
<path d="M1464.5 2371.5C1466.7 2373 1473.5 2377.9 1477.5 2380.5C1481.5 2383.1 1484.7 2386.4 1488.5 2387C1492.3 2387.6 1497.8 2385.8 1500.5 2384C1503.2 2382.2 1504.2 2379 1504.5 2376.5C1504.8 2374 1502.8 2370.2 1502.5 2369" fill="none" stroke="#1b2f58" stroke-width="12.4" stroke-linecap="round" stroke-linejoin="round"/><path d="M1464.5 2371.5C1466.7 2373 1473.5 2377.9 1477.5 2380.5C1481.5 2383.1 1484.7 2386.4 1488.5 2387C1492.3 2387.6 1497.8 2385.8 1500.5 2384C1503.2 2382.2 1504.2 2379 1504.5 2376.5C1504.8 2374 1502.8 2370.2 1502.5 2369" fill="none" stroke="#ff0000" stroke-width="10" stroke-linecap="round" stroke-linejoin="round"/>
<path d="M1499.5 2368.5C1501.5 2370 1507.8 2375 1511.5 2377.5C1515.2 2380 1517.8 2383.1 1521.5 2383.5C1525.2 2383.9 1531 2381.9 1533.5 2380C1536 2378.1 1536.3 2374.4 1536.5 2372C1536.7 2369.6 1533.3 2366.9 1534.5 2365.5C1535.7 2364.1 1542 2363.8 1543.5 2363.5" fill="none" stroke="#1b2f58" stroke-width="12.4" stroke-linecap="round" stroke-linejoin="round"/><path d="M1499.5 2368.5C1501.5 2370 1507.8 2375 1511.5 2377.5C1515.2 2380 1517.8 2383.1 1521.5 2383.5C1525.2 2383.9 1531 2381.9 1533.5 2380C1536 2378.1 1536.3 2374.4 1536.5 2372C1536.7 2369.6 1533.3 2366.9 1534.5 2365.5C1535.7 2364.1 1542 2363.8 1543.5 2363.5" fill="none" stroke="#ff0000" stroke-width="10" stroke-linecap="round" stroke-linejoin="round"/>
<path d="M1545 2375.5C1547.2 2377 1554 2381.9 1558 2384.5C1562 2387.1 1565.2 2390.4 1569 2391C1572.8 2391.6 1578.3 2389.8 1581 2388C1583.7 2386.2 1584.7 2383 1585 2380.5C1585.3 2378 1583.3 2374.2 1583 2373" fill="none" stroke="#1b2f58" stroke-width="12.4" stroke-linecap="round" stroke-linejoin="round"/><path d="M1545 2375.5C1547.2 2377 1554 2381.9 1558 2384.5C1562 2387.1 1565.2 2390.4 1569 2391C1572.8 2391.6 1578.3 2389.8 1581 2388C1583.7 2386.2 1584.7 2383 1585 2380.5C1585.3 2378 1583.3 2374.2 1583 2373" fill="none" stroke="#ff0000" stroke-width="10" stroke-linecap="round" stroke-linejoin="round"/>
<path d="M1580 2372.5C1582 2374 1588.3 2379 1592 2381.5C1595.7 2384 1598.3 2387.1 1602 2387.5C1605.7 2387.9 1611.5 2385.9 1614 2384C1616.5 2382.1 1616.8 2378.4 1617 2376C1617.2 2373.6 1613.8 2370.9 1615 2369.5C1616.2 2368.1 1622.5 2367.8 1624 2367.5" fill="none" stroke="#1b2f58" stroke-width="12.4" stroke-linecap="round" stroke-linejoin="round"/><path d="M1580 2372.5C1582 2374 1588.3 2379 1592 2381.5C1595.7 2384 1598.3 2387.1 1602 2387.5C1605.7 2387.9 1611.5 2385.9 1614 2384C1616.5 2382.1 1616.8 2378.4 1617 2376C1617.2 2373.6 1613.8 2370.9 1615 2369.5C1616.2 2368.1 1622.5 2367.8 1624 2367.5" fill="none" stroke="#ff0000" stroke-width="10" stroke-linecap="round" stroke-linejoin="round"/>
<path d="M1541 2407C1543.2 2408.5 1550 2413.4 1554 2416C1558 2418.6 1561.2 2421.9 1565 2422.5C1568.8 2423.1 1574.3 2421.2 1577 2419.5C1579.7 2417.8 1580.7 2414.5 1581 2412C1581.3 2409.5 1579.3 2405.8 1579 2404.5" fill="none" stroke="#1b2f58" stroke-width="12.4" stroke-linecap="round" stroke-linejoin="round"/><path d="M1541 2407C1543.2 2408.5 1550 2413.4 1554 2416C1558 2418.6 1561.2 2421.9 1565 2422.5C1568.8 2423.1 1574.3 2421.2 1577 2419.5C1579.7 2417.8 1580.7 2414.5 1581 2412C1581.3 2409.5 1579.3 2405.8 1579 2404.5" fill="none" stroke="#ff0000" stroke-width="10" stroke-linecap="round" stroke-linejoin="round"/>
<path d="M1576 2404C1578 2405.5 1584.3 2410.5 1588 2413C1591.7 2415.5 1594.3 2418.6 1598 2419C1601.7 2419.4 1607.5 2417.4 1610 2415.5C1612.5 2413.6 1612.8 2409.9 1613 2407.5C1613.2 2405.1 1609.8 2402.4 1611 2401C1612.2 2399.6 1618.5 2399.3 1620 2399" fill="none" stroke="#1b2f58" stroke-width="12.4" stroke-linecap="round" stroke-linejoin="round"/><path d="M1576 2404C1578 2405.5 1584.3 2410.5 1588 2413C1591.7 2415.5 1594.3 2418.6 1598 2419C1601.7 2419.4 1607.5 2417.4 1610 2415.5C1612.5 2413.6 1612.8 2409.9 1613 2407.5C1613.2 2405.1 1609.8 2402.4 1611 2401C1612.2 2399.6 1618.5 2399.3 1620 2399" fill="none" stroke="#ff0000" stroke-width="10" stroke-linecap="round" stroke-linejoin="round"/>
<clipPath id="ckld"><rect x="1700" y="2200" width="261.8" height="247"/></clipPath>
<circle cx="1909" cy="2382" r="142" fill="#f7f9b0" clip-path="url(#ckld)"/>
<path d="M1782.6 2447 A143.5 143.5 0 0 1 1956.5 2246.5" fill="none" stroke="#000" stroke-width="3.2"/>
<text x="1797" y="2447" font-size="33" font-family='"DejaVu Sans", sans-serif' font-weight="bold">LD</text>
<text x="1698" y="2186.4" font-size="20.3" font-family='"DejaVu Sans", sans-serif' font-weight="bold">Low difusion rates</text>
<text x="1698" y="2213" font-size="20.3" font-family='"DejaVu Sans", sans-serif' font-weight="bold">during expansion</text>
<text x="1297.2" y="2478" font-size="20.3" font-family='"DejaVu Sans", sans-serif' font-weight="bold">High difusion rates</text>
<text x="1297.2" y="2503.5" font-size="20.3" font-family='"DejaVu Sans", sans-serif' font-weight="bold">in resting conditions</text>
<text x="1337" y="2313.5" font-size="25.8" font-family='"Liberation Sans", sans-serif' transform="rotate(-8.3 1337 2313.5)" textLength="193" lengthAdjust="spacingAndGlyphs">Tension increase</text>
<text x="1002.2" y="2410" font-size="19.7" font-family='"Liberation Sans", sans-serif' textLength="145" lengthAdjust="spacingAndGlyphs">Assembly at PM</text>
<text x="1074" y="2491.8" font-size="59" font-family='"DejaVu Sans", sans-serif' font-weight="bold">?</text>
<text x="1090.7" y="2541.8" font-size="25.2" font-family='"Liberation Sans", sans-serif' textLength="205.6" lengthAdjust="spacingAndGlyphs"><tspan font-style="italic">de novo</tspan> synthesis</text>
<text x="1644" y="2456.8" font-size="21.5" font-family='"Liberation Sans", sans-serif' font-weight="bold" text-anchor="middle">↑ % dimers/oligomers</text>
<text x="1644" y="2484" font-size="21.5" font-family='"Liberation Sans", sans-serif' font-weight="bold" text-anchor="middle">upon caveolae</text>
<text x="1644" y="2510.4" font-size="21.5" font-family='"Liberation Sans", sans-serif' font-weight="bold" text-anchor="middle">disassembly</text>
<ellipse cx="1184.3" cy="2492.3" rx="20.6" ry="14.8" fill="#1f5a1f" stroke="#1b2f58" stroke-width="1.3"/><ellipse cx="1182" cy="2473" rx="29.7" ry="15.6" fill="#1f5a1f" stroke="#1b2f58" stroke-width="1.3"/><path d="M1154.6 2490.7c8 -8 20 -18 33 -14 c10 3 16 6 30 0 c20 -6 45 8 62 12 c12 3 20 -3 26 -8" fill="none" stroke="#1b2f58" stroke-width="1.3"/>
<line x1="1159.8" y1="2449.3" x2="1159.8" y2="2349.6" stroke="#1b2f58" stroke-width="1.5" /><path d="M1159.8 2340L1166.8 2356L1159.8 2350.4L1152.8 2356Z" fill="#1b2f58"/>
<line x1="1181" y1="2449.3" x2="1181" y2="2349.6" stroke="#1b2f58" stroke-width="1.5" /><path d="M1181 2340L1188 2356L1181 2350.4L1174 2356Z" fill="#1b2f58"/>
<line x1="1201.4" y1="2449.3" x2="1201.4" y2="2349.6" stroke="#1b2f58" stroke-width="1.5" /><path d="M1201.4 2340L1208.4 2356L1201.4 2350.4L1194.4 2356Z" fill="#1b2f58"/>
<line x1="1266" y1="2439" x2="1438.5" y2="2415.8" stroke="#1b2f58" stroke-width="1.8" /><path d="M1448 2414.5L1433.1 2423.6L1437.7 2415.9L1431.2 2409.7Z" fill="#1b2f58"/>
<path d="M1470 2412 C1400 2402 1330 2375 1279 2334" fill="none" stroke="#1b2f58" stroke-width="1.6"/><path d="M1273.5 2329.5L1290.3 2334.1L1281.6 2336L1281.5 2345Z" fill="#1b2f58"/>
<line x1="1340" y1="2282.5" x2="1496.5" y2="2257.5" stroke="#1b2f58" stroke-width="1.5" /><path d="M1506 2256L1491.3 2265.4L1495.7 2257.6L1489.1 2251.6Z" fill="#1b2f58"/>
<path d="M1679 2244 C1700 2275 1690 2330 1636 2362" fill="none" stroke="#1b2f58" stroke-width="1.6"/><path d="M1630 2365.5L1640.1 2351.3L1638.9 2360.1L1647.3 2363.3Z" fill="#1b2f58"/>
</g>
</svg>
</body></html>
